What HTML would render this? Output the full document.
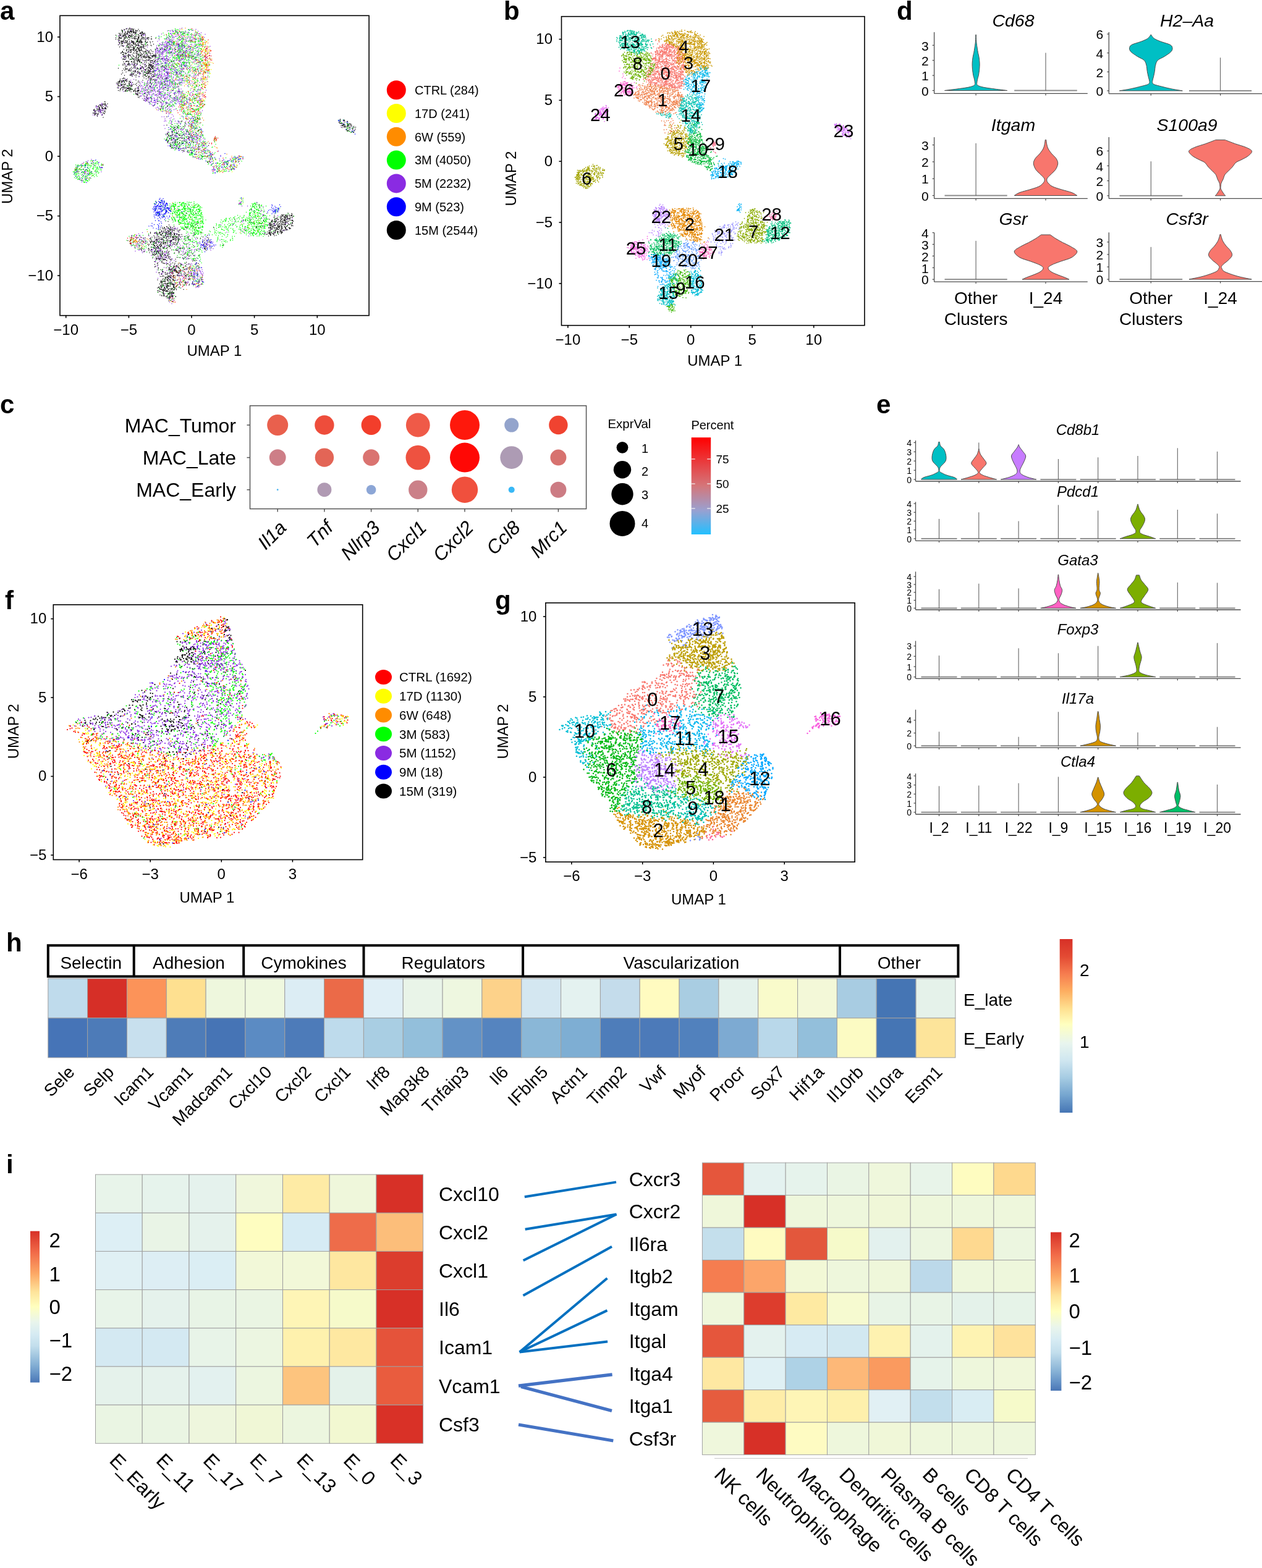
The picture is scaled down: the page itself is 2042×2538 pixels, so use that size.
<!DOCTYPE html>
<html><head><meta charset="utf-8"><style>html,body{margin:0;padding:0;background:#fff;}svg{display:block;}</style></head>
<body><svg width="2042" height="2538" viewBox="0 0 2042 2538" font-family="'Liberation Sans', Arial, Helvetica, sans-serif">
<rect width="2042" height="2538" fill="#fff"/>
<text x="0" y="31.5" font-size="42" font-weight="bold">a</text>
<rect x="97" y="25.3" width="500.1" height="485.4" fill="none" stroke="#000" stroke-width="1.6"/>
<line x1="106.7" y1="510.7" x2="106.7" y2="514.7" stroke="#000" stroke-width="1.6"/>
<text x="106.7" y="541.7" font-size="24" text-anchor="middle">−10</text>
<line x1="208.4" y1="510.7" x2="208.4" y2="514.7" stroke="#000" stroke-width="1.6"/>
<text x="208.4" y="541.7" font-size="24" text-anchor="middle">−5</text>
<line x1="310" y1="510.7" x2="310" y2="514.7" stroke="#000" stroke-width="1.6"/>
<text x="310" y="541.7" font-size="24" text-anchor="middle">0</text>
<line x1="411.6" y1="510.7" x2="411.6" y2="514.7" stroke="#000" stroke-width="1.6"/>
<text x="411.6" y="541.7" font-size="24" text-anchor="middle">5</text>
<line x1="513.3" y1="510.7" x2="513.3" y2="514.7" stroke="#000" stroke-width="1.6"/>
<text x="513.3" y="541.7" font-size="24" text-anchor="middle">10</text>
<line x1="93" y1="59.9" x2="97" y2="59.9" stroke="#000" stroke-width="1.6"/>
<text x="86" y="67.7" font-size="24" text-anchor="end">10</text>
<line x1="93" y1="156.4" x2="97" y2="156.4" stroke="#000" stroke-width="1.6"/>
<text x="86" y="164.2" font-size="24" text-anchor="end">5</text>
<line x1="93" y1="253" x2="97" y2="253" stroke="#000" stroke-width="1.6"/>
<text x="86" y="260.8" font-size="24" text-anchor="end">0</text>
<line x1="93" y1="349.6" x2="97" y2="349.6" stroke="#000" stroke-width="1.6"/>
<text x="86" y="357.4" font-size="24" text-anchor="end">−5</text>
<line x1="93" y1="446.1" x2="97" y2="446.1" stroke="#000" stroke-width="1.6"/>
<text x="86" y="453.9" font-size="24" text-anchor="end">−10</text>
<text x="347" y="576" font-size="24" text-anchor="middle">UMAP 1</text>
<text x="20.5" y="285.6" font-size="24" text-anchor="middle" transform="rotate(-90 20.5 285.6)">UMAP 2</text>
<circle cx="641.3" cy="145.7" r="15.5" fill="#ff0000"/>
<text x="671" y="153" font-size="20">CTRL (284)</text>
<circle cx="641.3" cy="183.5" r="15.5" fill="#ffff00"/>
<text x="671" y="190.8" font-size="20">17D (241)</text>
<circle cx="641.3" cy="221.3" r="15.5" fill="#ff8c00"/>
<text x="671" y="228.6" font-size="20">6W (559)</text>
<circle cx="641.3" cy="259.1" r="15.5" fill="#00ff00"/>
<text x="671" y="266.4" font-size="20">3M (4050)</text>
<circle cx="641.3" cy="296.9" r="15.5" fill="#8a2be2"/>
<text x="671" y="304.2" font-size="20">5M (2232)</text>
<circle cx="641.3" cy="334.7" r="15.5" fill="#0000ff"/>
<text x="671" y="342" font-size="20">9M (523)</text>
<circle cx="641.3" cy="372.5" r="15.5" fill="#000000"/>
<text x="671" y="379.8" font-size="20">15M (2544)</text>
<text x="815" y="32" font-size="42" font-weight="bold">b</text>
<rect x="908.5" y="26.7" width="490.4" height="500" fill="none" stroke="#000" stroke-width="1.6"/>
<line x1="918.9" y1="526.7" x2="918.9" y2="530.7" stroke="#000" stroke-width="1.6"/>
<text x="918.9" y="557.7" font-size="24" text-anchor="middle">−10</text>
<line x1="1018.3" y1="526.7" x2="1018.3" y2="530.7" stroke="#000" stroke-width="1.6"/>
<text x="1018.3" y="557.7" font-size="24" text-anchor="middle">−5</text>
<line x1="1117.8" y1="526.7" x2="1117.8" y2="530.7" stroke="#000" stroke-width="1.6"/>
<text x="1117.8" y="557.7" font-size="24" text-anchor="middle">0</text>
<line x1="1217.2" y1="526.7" x2="1217.2" y2="530.7" stroke="#000" stroke-width="1.6"/>
<text x="1217.2" y="557.7" font-size="24" text-anchor="middle">5</text>
<line x1="1316.7" y1="526.7" x2="1316.7" y2="530.7" stroke="#000" stroke-width="1.6"/>
<text x="1316.7" y="557.7" font-size="24" text-anchor="middle">10</text>
<line x1="904.5" y1="63.5" x2="908.5" y2="63.5" stroke="#000" stroke-width="1.6"/>
<text x="894" y="71.3" font-size="24" text-anchor="end">10</text>
<line x1="904.5" y1="162.3" x2="908.5" y2="162.3" stroke="#000" stroke-width="1.6"/>
<text x="894" y="170.2" font-size="24" text-anchor="end">5</text>
<line x1="904.5" y1="261.2" x2="908.5" y2="261.2" stroke="#000" stroke-width="1.6"/>
<text x="894" y="269" font-size="24" text-anchor="end">0</text>
<line x1="904.5" y1="360" x2="908.5" y2="360" stroke="#000" stroke-width="1.6"/>
<text x="894" y="367.8" font-size="24" text-anchor="end">−5</text>
<line x1="904.5" y1="458.9" x2="908.5" y2="458.9" stroke="#000" stroke-width="1.6"/>
<text x="894" y="466.7" font-size="24" text-anchor="end">−10</text>
<text x="1156.6" y="592" font-size="24" text-anchor="middle">UMAP 1</text>
<text x="835" y="289" font-size="24" text-anchor="middle" transform="rotate(-90 835 289)">UMAP 2</text>
<text x="8" y="986" font-size="42" font-weight="bold">f</text>
<rect x="86.3" y="978.8" width="500.4" height="412.7" fill="none" stroke="#000" stroke-width="1.6"/>
<line x1="128.1" y1="1391.5" x2="128.1" y2="1395.5" stroke="#000" stroke-width="1.6"/>
<text x="128.1" y="1422.5" font-size="24" text-anchor="middle">−6</text>
<line x1="243.2" y1="1391.5" x2="243.2" y2="1395.5" stroke="#000" stroke-width="1.6"/>
<text x="243.2" y="1422.5" font-size="24" text-anchor="middle">−3</text>
<line x1="358.3" y1="1391.5" x2="358.3" y2="1395.5" stroke="#000" stroke-width="1.6"/>
<text x="358.3" y="1422.5" font-size="24" text-anchor="middle">0</text>
<line x1="473.4" y1="1391.5" x2="473.4" y2="1395.5" stroke="#000" stroke-width="1.6"/>
<text x="473.4" y="1422.5" font-size="24" text-anchor="middle">3</text>
<line x1="82.3" y1="1001.6" x2="86.3" y2="1001.6" stroke="#000" stroke-width="1.6"/>
<text x="75.3" y="1009.4" font-size="24" text-anchor="end">10</text>
<line x1="82.3" y1="1129.1" x2="86.3" y2="1129.1" stroke="#000" stroke-width="1.6"/>
<text x="75.3" y="1136.9" font-size="24" text-anchor="end">5</text>
<line x1="82.3" y1="1256.6" x2="86.3" y2="1256.6" stroke="#000" stroke-width="1.6"/>
<text x="75.3" y="1264.4" font-size="24" text-anchor="end">0</text>
<line x1="82.3" y1="1384.1" x2="86.3" y2="1384.1" stroke="#000" stroke-width="1.6"/>
<text x="75.3" y="1391.9" font-size="24" text-anchor="end">−5</text>
<text x="335" y="1461" font-size="24" text-anchor="middle">UMAP 1</text>
<text x="30" y="1183.8" font-size="24" text-anchor="middle" transform="rotate(-90 30 1183.8)">UMAP 2</text>
<ellipse cx="620.5" cy="1096" rx="13.5" ry="12" fill="#ff0000"/>
<text x="646" y="1103.2" font-size="20.5">CTRL (1692)</text>
<ellipse cx="620.5" cy="1126.8" rx="13.5" ry="12" fill="#ffff00"/>
<text x="646" y="1134" font-size="20.5">17D (1130)</text>
<ellipse cx="620.5" cy="1157.5" rx="13.5" ry="12" fill="#ff8c00"/>
<text x="646" y="1164.7" font-size="20.5">6W (648)</text>
<ellipse cx="620.5" cy="1188.2" rx="13.5" ry="12" fill="#00ff00"/>
<text x="646" y="1195.5" font-size="20.5">3M (583)</text>
<ellipse cx="620.5" cy="1219" rx="13.5" ry="12" fill="#8a2be2"/>
<text x="646" y="1226.2" font-size="20.5">5M (1152)</text>
<ellipse cx="620.5" cy="1249.8" rx="13.5" ry="12" fill="#0000ff"/>
<text x="646" y="1257" font-size="20.5">9M (18)</text>
<ellipse cx="620.5" cy="1280.5" rx="13.5" ry="12" fill="#000000"/>
<text x="646" y="1287.7" font-size="20.5">15M (319)</text>
<text x="801" y="985.5" font-size="42" font-weight="bold">g</text>
<rect x="882.9" y="975.8" width="500.2" height="419.4" fill="none" stroke="#000" stroke-width="1.6"/>
<line x1="924.9" y1="1395.2" x2="924.9" y2="1399.2" stroke="#000" stroke-width="1.6"/>
<text x="924.9" y="1426.2" font-size="24" text-anchor="middle">−6</text>
<line x1="1039.7" y1="1395.2" x2="1039.7" y2="1399.2" stroke="#000" stroke-width="1.6"/>
<text x="1039.7" y="1426.2" font-size="24" text-anchor="middle">−3</text>
<line x1="1154.4" y1="1395.2" x2="1154.4" y2="1399.2" stroke="#000" stroke-width="1.6"/>
<text x="1154.4" y="1426.2" font-size="24" text-anchor="middle">0</text>
<line x1="1269.2" y1="1395.2" x2="1269.2" y2="1399.2" stroke="#000" stroke-width="1.6"/>
<text x="1269.2" y="1426.2" font-size="24" text-anchor="middle">3</text>
<line x1="878.9" y1="998" x2="882.9" y2="998" stroke="#000" stroke-width="1.6"/>
<text x="868.4" y="1005.8" font-size="24" text-anchor="end">10</text>
<line x1="878.9" y1="1128" x2="882.9" y2="1128" stroke="#000" stroke-width="1.6"/>
<text x="868.4" y="1135.8" font-size="24" text-anchor="end">5</text>
<line x1="878.9" y1="1258" x2="882.9" y2="1258" stroke="#000" stroke-width="1.6"/>
<text x="868.4" y="1265.8" font-size="24" text-anchor="end">0</text>
<line x1="878.9" y1="1388" x2="882.9" y2="1388" stroke="#000" stroke-width="1.6"/>
<text x="868.4" y="1395.8" font-size="24" text-anchor="end">−5</text>
<text x="1130.4" y="1464" font-size="24" text-anchor="middle">UMAP 1</text>
<text x="822" y="1184" font-size="24" text-anchor="middle" transform="rotate(-90 822 1184)">UMAP 2</text>
<g transform="scale(0.5)" stroke-linecap="round" stroke-width="2.70" fill="none"><path stroke="#8a2be2" d="M389 114h0m5 4h0m5 19h0m10-27h0m2-18h0m12 0h0m7 43h0m8-27h0m19 3h0m15 26h0m2-12h0m36 32h0m5-28h0m6 24h0m2-43h0m4 28h0m5 18h0m0-11h0m3-7h0m1 10h0m0-22h0m0 7h0m3 13h0m0-6h0m0 2h0m1-18h0m1 28h0m1-17h0m1 9h0m1 3h0m2-8h0m5-30h0m4 31h0m1-5h0m0 12h0m1-20h0m0 11h0m3 3h0m3 2h0m0-8h0m1 21h0m0-9h0m0 9h0m2-58h0m2 20h0m1-17h0m4 40h0m0-32h0m2 33h0m1-33h0m0 35h0m1-17h0m0 12h0m0-18h0m0-6h0m1 41h0m0-8h0m1-36h0m0 42h0m1 2h0m1-29h0m1-33h0m0 52h0m3-17h0m1-16h0m2 4h0m0 32h0m1 9h0m0-67h0m1 60h0m1-27h0m0-2h0m0 26h0m1 8h0m1-7h0m1-3h0m1 8h0m0-47h0m1-3h0m0 45h0m2-29h0m1 19h0m1-3h0m1-3h0m2 23h0m1-14h0m1-18h0m6 7h0m5 23h0m2-19h0m2-37h0m0 46h0m5 5h0m1-33h0m4 9h0m2 4h0m0-16h0m2-18h0m3 14h0m10 1h0m1 21h0m3 15h0m1-21h0m15 32h0m-274 30h0m5-4h0m8 24h0m5 4h0m4-42h0m25 42h0m8 13h0m2 11h0m6-49h0m0 28h0m10 10h0m0 1h0m1 8h0m2-27h0m1 4h0m18-2h0m2-5h0m3-17h0m1 44h0m2-16h0m5-13h0m0 39h0m2-9h0m0-28h0m1-24h0m0-7h0m1 43h0m1-7h0m0-40h0m2 16h0m1 22h0m1-6h0m0-37h0m1 44h0m2-40h0m3 63h0m2-49h0m0 51h0m1-1h0m0-71h0m1 9h0m1 35h0m0-13h0m1-17h0m0 51h0m1-42h0m1 38h0m1 8h0m0-41h0m1-7h0m1 9h0m0-23h0m1 29h0m1-7h0m2-5h0m0 56h0m1-56h0m1-22h0m0 33h0m0 30h0m0-32h0m1 9h0m0 12h0m1-50h0m1 59h0m0-1h0m0-30h0m1 11h0m0-41h0m1 1h0m0 61h0m1-42h0m0 34h0m1 16h0m0 4h0m0-3h0m0-69h0m1 34h0m0 38h0m1-64h0m0 11h0m1 43h0m1 7h0m1-21h0m0 26h0m0-67h0m3 66h0m0-49h0m1-27h0m1 44h0m0-1h0m0-9h0m1-9h0m1 26h0m0-44h0m5 40h0m0 23h0m0-29h0m1-22h0m2 42h0m1-6h0m0-1h0m1-28h0m1 18h0m1-43h0m0 34h0m1 30h0m1 8h0m2-9h0m2-47h0m2 54h0m0-52h0m1 56h0m0-56h0m0 59h0m2-63h0m2-5h0m1-1h0m1 27h0m1-28h0m0 30h0m1-15h0m1 12h0m0 39h0m1-54h0m2-17h0m0 58h0m0-52h0m0-3h0m1 57h0m0-28h0m1 36h0m2-22h0m0 6h0m1 12h0m2-48h0m1-15h0m0 24h0m0 22h0m1 13h0m0-54h0m0 21h0m1-20h0m0 63h0m1-20h0m0-49h0m3 3h0m0 34h0m0-23h0m1-2h0m1 62h0m0-74h0m1 4h0m3-6h0m3 74h0m1-15h0m1-35h0m2 18h0m1-39h0m6 19h0m2 6h0m3-9h0m1 11h0m0 28h0m1-37h0m1-1h0m0-3h0m1 60h0m1-43h0m4 27h0m1 3h0m1-59h0m2 27h0m0-14h0m3-17h0m0 13h0m1-2h0m0 47h0m1-19h0m4-3h0m2 35h0m1-70h0m0 18h0m0 18h0m2-2h0m1 29h0m1-4h0m4-37h0m7 6h0m1 43h0m1-45h0m0 42h0m8 3h0m5-63h0m-289 105h0m0-4h0m7-13h0m25 6h0m7-22h0m21 30h0m0-26h0m5 32h0m0 14h0m2 16h0m4-4h0m0-1h0m2-16h0m2-4h0m0 17h0m1-8h0m1 19h0m1-43h0m2 41h0m0-28h0m1-2h0m0 19h0m0-60h0m3 74h0m1-41h0m3 14h0m0-26h0m3 7h0m2 50h0m0-15h0m0-4h0m2-32h0m0 23h0m0-34h0m1 38h0m2-17h0m0 8h0m1 31h0m1-45h0m0 1h0m1 44h0m5-27h0m0 12h0m1-26h0m0 8h0m0 11h0m1 8h0m0-13h0m0-41h0m2 35h0m4-16h0m1-26h0m0 16h0m0 3h0m0-5h0m1-14h0m0 35h0m1-6h0m1 41h0m2-27h0m0-42h0m1 8h0m0 12h0m0-10h0m2 38h0m1 16h0m0-8h0m1-3h0m0-52h0m1-3h0m1 55h0m0 7h0m0-22h0m1-12h0m0-12h0m1 41h0m0-46h0m0 22h0m0 33h0m1-36h0m2-21h0m1-7h0m0 13h0m2 13h0m0 12h0m1-6h0m0 6h0m3-16h0m0-7h0m1 34h0m1 16h0m1-22h0m0-19h0m1-10h0m1 53h0m0 6h0m1-70h0m1-2h0m0 8h0m0 13h0m0-1h0m0-2h0m0 55h0m1 3h0m0-37h0m0-29h0m0-5h0m3 65h0m0-41h0m1 34h0m0 13h0m1-5h0m0-75h0m1 60h0m1-20h0m1-3h0m1-28h0m2 69h0m1-54h0m1 37h0m1 13h0m1-4h0m1-52h0m1 58h0m0-75h0m1 53h0m1-31h0m2 2h0m1 5h0m0 23h0m1 25h0m1-34h0m0-23h0m2 11h0m1 43h0m0-11h0m0-41h0m0 55h0m1-11h0m0-2h0m0-26h0m1 37h0m1-72h0m3 58h0m2-52h0m0-1h0m0 60h0m1 5h0m1-43h0m1-24h0m1 14h0m0 57h0m0-1h0m2-76h0m0 54h0m0 15h0m1-5h0m1-48h0m1 61h0m0-49h0m0 3h0m4-24h0m0 56h0m1-3h0m0-58h0m1 25h0m1 44h0m0-37h0m0 22h0m3-37h0m0-1h0m11-12h0m9 12h0m2 10h0m3 33h0m2 8h0m0-23h0m7-11h0m3 37h0m2-58h0m2-13h0m0 77h0m4-74h0m0 66h0m1-33h0m2 24h0m1-48h0m1 41h0m0-5h0m1-45h0m5 58h0m0 16h0m3-33h0m0-33h0m16 61h0m1-22h0m4-28h0m-366 103h0m0-8h0m3 0h0m1 6h0m1-18h0m4-2h0m6 13h0m1-10h0m2 5h0m1 7h0m6-2h0m5 1h0m5-10h0m2-4h0m124-22h0m6 3h0m7 1h0m0-5h0m5 11h0m15-1h0m3 0h0m7-4h0m2-7h0m1 27h0m0 9h0m5-28h0m1 1h0m4 18h0m0-12h0m1 7h0m1 2h0m4 5h0m0-10h0m1 5h0m4-20h0m1 64h0m1-40h0m1-12h0m2 10h0m5 5h0m3 13h0m2-11h0m1 0h0m0-9h0m5 36h0m1 13h0m4-67h0m0 11h0m2 38h0m3-50h0m0 0h0m1-1h0m3 28h0m5 46h0m5-71h0m4 10h0m5-14h0m3 17h0m7-4h0m7-8h0m9 63h0m6-40h0m13 30h0m7-57h0m2 34h0m1 24h0m4-23h0m3-24h0m1 1h0m0 26h0m5-5h0m457 37h0m-576 59h0m10-26h0m3-9h0m1 52h0m0-21h0m3-11h0m5 31h0m2 5h0m2-33h0m0-33h0m2 20h0m1 43h0m1-20h0m3 20h0m0-20h0m3-42h0m1 41h0m2-7h0m3-24h0m3 54h0m3-54h0m4 42h0m0-40h0m0 18h0m2 6h0m0-6h0m4 14h0m1-1h0m2-39h0m1 52h0m0-62h0m3-4h0m0 32h0m4 11h0m4-8h0m3 26h0m4 4h0m0-23h0m1 25h0m3-7h0m0-51h0m2 46h0m2-15h0m1-25h0m2 22h0m7 20h0m1-9h0m0 4h0m1 8h0m0 3h0m4-26h0m8 20h0m1-11h0m5 30h0m1-40h0m3 13h0m0 24h0m482-62h0m1 4h0m-894 134h0m2-11h0m3 17h0m12-17h0m4-9h0m6 28h0m1-1h0m0-5h0m3-1h0m1 6h0m1-33h0m16 34h0m7-23h0m5 2h0m246-56h0m25 4h0m1 3h0m5-5h0m2-1h0m10 7h0m1-7h0m14 11h0m8 0h0m7-11h0m2 1h0m15 20h0m15 5h0m0-9h0m11-1h0m0-12h0m4 1h0m2 2h0m7 15h0m2 28h0m6 16h0m3 5h0m17-7h0m3-42h0m5 38h0m6-5h0m7-9h0m4 15h0m3 13h0m18-8h0m5-32h0m0 2h0m6-8h0m1 9h0m2-8h0m2 5h0m0-1h0m2 16h0m2-16h0m1-1h0m-530 62h0m13 2h0m6-13h0m15 6h0m5-8h0m4 13h0m482 84h0m6-2h0m1-4h0m2 65h0m2-5h0m3-1h0m22-16h0m5 23h0m1-40h0m8 8h0m6 18h0m0-44h0m21 35h0m2-1h0m1 19h0m3-30h0m40 30h0m3-16h0m22 15h0m-498 74h0m2 9h0m1-29h0m1-5h0m11 5h0m2 22h0m2 6h0m2 3h0m9-36h0m0 13h0m8-22h0m3 18h0m2 0h0m4 16h0m1-4h0m16-11h0m3 28h0m13-47h0m0 3h0m2 32h0m7-12h0m1 11h0m2-3h0m4 12h0m5-45h0m10 48h0m8-48h0m2 13h0m2-22h0m1 51h0m3-1h0m0-21h0m1 11h0m2 7h0m0-11h0m1 0h0m0-23h0m3-3h0m5 37h0m4-16h0m3-32h0m8 8h0m0 35h0m0-8h0m3-12h0m2 35h0m2-5h0m1-26h0m8 17h0m4-18h0m12 5h0m15 13h0m1-21h0m8 7h0m5 15h0m2 2h0m23-16h0m5 21h0m0-12h0m11-4h0m0 22h0m13-7h0m42-40h0m47-7h0m31-24h0m3 34h0m4-32h0m9 36h0m18-35h0m3 31h0m3-20h0m6 17h0m0 5h0m30-4h0m32-6h0m-474 55h0m14 2h0m1 14h0m4-9h0m4 0h0m21 1h0m4-2h0m1 10h0m2-12h0m3 10h0m2 47h0m0-16h0m1-35h0m0-12h0m1 8h0m6 56h0m1-41h0m0 11h0m1-24h0m0 31h0m8 3h0m3-11h0m3-21h0m3 7h0m5 2h0m0 6h0m1-5h0m2 30h0m2-39h0m2 24h0m5-17h0m3 29h0m3-2h0m16 14h0m2 7h0m0-2h0m16-12h0m6-32h0m11-11h0m5-4h0m2 24h0m8 49h0m0-52h0m2-18h0m1-2h0m0 50h0m1 14h0m1-3h0m5-41h0m1 50h0m3 0h0m2-26h0m1 14h0m0 0h0m3 10h0m4-7h0m1-56h0m3 55h0m1-60h0m2 69h0m5-4h0m7-66h0m11-5h0m-166 79h0m11 8h0m8-2h0m6 63h0m1 1h0m2-27h0m9-39h0m5-2h0m5 32h0m4-27h0m8 19h0m2 12h0m10 11h0m1-45h0m3 35h0m4-14h0m8-8h0m1 10h0m2 14h0m16-23h0m0-4h0m7-5h0m6-6h0m1 7h0m1-9h0m1 0h0m4 40h0m2-3h0m4-7h0m2-22h0m2 4h0m0 16h0m1 6h0m1-4h0m2 15h0m4-7h0m1 1h0m3-34h0m2 3h0m1 15h0m-111 60h0m10 18h0m2-20h0"/><path stroke="#ff8c00" d="M573 100h0m24 8h0m1 9h0m2-26h0m4 43h0m15-4h0m7 4h0m27-11h0m0-6h0m11 25h0m1-3h0m4-4h0m-120 104h0m9-28h0m7-47h0m15 42h0m4-27h0m7 45h0m28-40h0m13 43h0m6-31h0m5 5h0m5 27h0m2-4h0m0 15h0m3-8h0m0-18h0m2-47h0m1 11h0m0 16h0m8-28h0m2 3h0m0 26h0m1-1h0m2 25h0m2 8h0m1-43h0m3 47h0m2-2h0m2-62h0m-119 121h0m10-32h0m4-8h0m11 61h0m3-62h0m8 7h0m1 64h0m0-7h0m5-37h0m1-11h0m10 5h0m1 6h0m7 7h0m1 1h0m3 15h0m0-25h0m2 49h0m11-4h0m2-44h0m7 5h0m9-15h0m3 10h0m5 34h0m-134 53h0m57-23h0m1 7h0m4 6h0m7-8h0m3 40h0m3-13h0m4-3h0m3-45h0m3 36h0m2 32h0m0-29h0m1 6h0m2-22h0m3-19h0m8 38h0m2 24h0m7-58h0m1 5h0m1 65h0m0-40h0m0 28h0m1-26h0m1 5h0m2-23h0m4-15h0m2 13h0m4-13h0m3 62h0m-50 59h0m9-39h0m2-7h0m2 29h0m0-25h0m1 4h0m7 29h0m2-15h0m3 18h0m4 4h0m1-38h0m3 45h0m3-6h0m13 18h0m4-1h0m11-6h0m4 6h0m17 10h0m5 4h0m3 1h0m-450 77h0m16-26h0m29 0h0m1-8h0m35 10h0m297-49h0m11 11h0m1 9h0m0 6h0m6-8h0m0-7h0m14-14h0m1 28h0m6-1h0m6 15h0m3-1h0m43 9h0m1 19h0m11-50h0m3 36h0m7 6h0m3-6h0m13 5h0m18-34h0m-219 195h0m0-45h0m7 10h0m51 44h0m192 0h0m29 3h0m3 7h0m-422 62h0m4 3h0m4-11h0m13 18h0m1-13h0m21 2h0m4 17h0m10-25h0m2 17h0m174-38h0m131-27h0m6 19h0m57-7h0m7-12h0m-403 79h0m128 47h0m5 24h0m34 2h0m18-4h0m7-5h0m3-11h0m-82 42h0m5-4h0m4 21h0m0-1h0m21-4h0m11-8h0m0 34h0m11-51h0m6 16h0m33 17h0m-99 58h0m8 1h0"/><path stroke="#00ff00" d="M378 117h0m63 17h0m11-2h0m6 18h0m13-8h0m34-21h0m10 26h0m11-5h0m1 3h0m0-9h0m5-11h0m6 0h0m1-3h0m4 32h0m2-55h0m2 13h0m0 24h0m1-11h0m0-8h0m1 1h0m2 35h0m1-32h0m6 17h0m2 11h0m1-10h0m2 2h0m1-34h0m1 51h0m1-49h0m1 45h0m0-54h0m1 4h0m1-6h0m0 45h0m1-38h0m0-3h0m4 53h0m0-50h0m2-1h0m1 3h0m1 44h0m0-30h0m0 26h0m1 12h0m1-15h0m2 3h0m0-44h0m2 11h0m1 40h0m1-50h0m1 32h0m0 24h0m0-57h0m1 42h0m0-11h0m2-20h0m0 30h0m1-12h0m0-29h0m0 7h0m1-1h0m0 19h0m0-4h0m1 23h0m5-39h0m0 37h0m3-32h0m2 20h0m3 12h0m0-33h0m1 2h0m1 43h0m1-61h0m0 56h0m3-46h0m2 53h0m0-28h0m2-19h0m0 32h0m0-49h0m2 38h0m1-23h0m0 4h0m0 18h0m0-36h0m4 39h0m0-37h0m2 56h0m5-4h0m0 7h0m0-19h0m2-20h0m2 28h0m0-23h0m1 23h0m1-19h0m2 17h0m1-39h0m2 26h0m1-17h0m1 20h0m3-15h0m1 30h0m1-19h0m1 27h0m0-30h0m2 31h0m2-24h0m1 10h0m2 4h0m1-20h0m-230 108h0m22-50h0m47-4h0m4 22h0m4 17h0m2-34h0m0 23h0m1-10h0m3 1h0m3-8h0m0 27h0m2 7h0m3-43h0m3-24h0m0 40h0m5-29h0m1 34h0m2 10h0m3-54h0m1 50h0m1-8h0m2 10h0m0 6h0m0-38h0m2 10h0m0 6h0m0-19h0m6 32h0m1 7h0m1-46h0m0-7h0m0 35h0m2 12h0m7-42h0m0 67h0m1-26h0m1-35h0m0 3h0m0 59h0m1-6h0m0-38h0m1 32h0m5-25h0m0-12h0m3-1h0m1 22h0m1-20h0m3-2h0m1 8h0m0 0h0m1-31h0m1 2h0m2 12h0m0 0h0m0 53h0m1-5h0m0-50h0m1 45h0m0-31h0m1 46h0m0-48h0m1 40h0m1-66h0m1 6h0m1 72h0m1-77h0m2 26h0m0-9h0m1 37h0m1 12h0m0-61h0m0 7h0m2-11h0m1 67h0m1-53h0m0 8h0m1-8h0m0 1h0m1-14h0m2 27h0m0-8h0m0-14h0m0 35h0m2-31h0m0 2h0m3-10h0m1 17h0m0-20h0m2 32h0m1-23h0m1 42h0m0-28h0m1-18h0m0-1h0m1 13h0m1 53h0m1-19h0m1-21h0m1-24h0m0 16h0m0 21h0m0-3h0m0-30h0m1 44h0m0-34h0m0-5h0m0 47h0m2-11h0m1-29h0m1-24h0m4 16h0m0 60h0m0-47h0m2-22h0m0 15h0m1 0h0m1 49h0m1-42h0m1 39h0m0-40h0m2 18h0m1-20h0m0 34h0m3 11h0m4-58h0m3-2h0m0 30h0m1 30h0m0-63h0m3 35h0m1 18h0m1-41h0m1 37h0m1-43h0m2 8h0m1 32h0m3-18h0m1-9h0m4 46h0m1-14h0m4-18h0m0 8h0m3-3h0m3-35h0m0 26h0m2 32h0m4-18h0m1 21h0m0 5h0m1-28h0m0-22h0m-285 84h0m8-8h0m9 14h0m53 10h0m3-13h0m0 28h0m1-36h0m0 4h0m0 6h0m8 41h0m4-14h0m7 12h0m2-4h0m0-31h0m1 14h0m0-20h0m9 11h0m3-6h0m0-20h0m11 4h0m0 31h0m1 19h0m7-40h0m0 39h0m4-10h0m0-28h0m1 2h0m2 19h0m0-26h0m7 4h0m0 26h0m3-15h0m6 9h0m2-11h0m3-38h0m1 3h0m1 66h0m0-55h0m2 4h0m2-17h0m5 22h0m1 21h0m5 17h0m0-20h0m1 30h0m1-18h0m1-45h0m4 19h0m1 0h0m0-21h0m1 49h0m0-42h0m1-12h0m5 20h0m1 9h0m0-21h0m2 59h0m2-46h0m1 42h0m1-9h0m1-35h0m1 48h0m2-59h0m2-10h0m4 72h0m5-67h0m2 64h0m1-51h0m5-1h0m4-16h0m0 73h0m1-26h0m10 24h0m1-5h0m0-65h0m1 42h0m2-35h0m0 15h0m2-3h0m0-24h0m3 76h0m3-38h0m1-22h0m0 5h0m1 46h0m1-2h0m0-44h0m1 40h0m3-25h0m4-18h0m3 15h0m3-18h0m0 25h0m22-32h0m-167 87h0m1-10h0m2 27h0m3-27h0m3 27h0m1 5h0m1-4h0m3-4h0m2-24h0m1 27h0m0 3h0m2-10h0m4-4h0m5 6h0m8-9h0m1 59h0m2-59h0m0 53h0m1-58h0m1 6h0m1 5h0m2-3h0m0 1h0m5 45h0m3-47h0m3 3h0m1 56h0m0-67h0m6-12h0m10 0h0m4 8h0m0 24h0m6-22h0m0 12h0m2 42h0m9-14h0m5-17h0m1-9h0m1 51h0m0-43h0m2 17h0m0-33h0m3 30h0m0-5h0m2 8h0m0 16h0m1-48h0m0 33h0m5-18h0m0-2h0m0-26h0m2 6h0m2-10h0m1 34h0m2 42h0m0-41h0m0 39h0m0-68h0m3 65h0m0-2h0m0-4h0m1-61h0m1 62h0m1 12h0m0-3h0m1-51h0m1 37h0m1-28h0m1 0h0m1 14h0m2-11h0m1-21h0m1 45h0m1 6h0m1 13h0m5-62h0m4 8h0m1-3h0m0-8h0m5 4h0m433 50h0m9 9h0m7-10h0m11 11h0m-586 37h0m5 20h0m4-2h0m2-23h0m0 12h0m4 7h0m3-37h0m2-1h0m0 68h0m0-17h0m5-40h0m0-2h0m3-13h0m0 22h0m3-18h0m1 49h0m0 4h0m2-19h0m0 24h0m0-33h0m2-20h0m1-16h0m0 48h0m1 22h0m2-22h0m0-40h0m1 71h0m0-45h0m0-22h0m1 12h0m0-10h0m3 60h0m3-1h0m2-41h0m1-7h0m1 39h0m0-5h0m0-43h0m1 41h0m3-24h0m1 27h0m14-14h0m6-12h0m0 26h0m2-45h0m1 14h0m1-24h0m1 4h0m3 37h0m0-9h0m3-33h0m2 57h0m1-15h0m0-37h0m5 42h0m7 2h0m1 25h0m1-3h0m1-50h0m0 41h0m1-45h0m0 52h0m2 1h0m0 0h0m2-55h0m0-7h0m3 25h0m0 32h0m2-46h0m4 35h0m0 7h0m1-29h0m2 8h0m4 21h0m2 13h0m2-1h0m3-16h0m16 15h0m9-25h0m0-1h0m5-5h0m421-28h0m3 5h0m0-17h0m1 11h0m10 12h0m8-17h0m1 14h0m-903 129h0m1 4h0m3 0h0m1-17h0m1 12h0m3-19h0m0 10h0m3 5h0m1-13h0m3 0h0m1 9h0m1 1h0m0 3h0m3 0h0m2 8h0m0 1h0m1-22h0m2-2h0m2 13h0m2-12h0m1 1h0m3-4h0m1 18h0m6 2h0m1 2h0m0-19h0m0-10h0m1 28h0m0 0h0m0-2h0m1-19h0m0 12h0m1-15h0m4 4h0m7-14h0m5 21h0m0 7h0m0-1h0m0-7h0m3-9h0m2 4h0m1 7h0m0-14h0m0 27h0m1-3h0m4-4h0m1-18h0m3 26h0m2-7h0m8-2h0m1-12h0m0 16h0m1-17h0m267-51h0m19 18h0m8-6h0m0-8h0m5 3h0m1 10h0m1-14h0m2-2h0m7 22h0m5-25h0m0 14h0m7 16h0m1 3h0m2-9h0m1 4h0m19 23h0m4-30h0m0-1h0m6-4h0m3 34h0m1-18h0m0-2h0m3 9h0m5-6h0m4 29h0m5 11h0m5-22h0m1-2h0m1-8h0m1 7h0m4-4h0m5 2h0m2 28h0m6-12h0m3-4h0m0-9h0m1 18h0m2-26h0m1 7h0m0-8h0m1 3h0m5 30h0m3-12h0m2-21h0m0 27h0m1-15h0m2 12h0m5-32h0m4-7h0m0 9h0m3-5h0m2 12h0m1 19h0m0-28h0m6 2h0m0 3h0m7-1h0m3 5h0m-541 40h0m8 1h0m8 12h0m0 5h0m1 0h0m6-5h0m6 9h0m0-11h0m0 13h0m1 4h0m5-1h0m1-21h0m3 2h0m1 13h0m1 3h0m1-1h0m2 1h0m0-20h0m2 14h0m1-13h0m2-4h0m2 1h0m2 13h0m1-15h0m16-1h0m192 115h0m7 15h0m3 0h0m2 5h0m4-41h0m1 8h0m1-13h0m26 61h0m3-51h0m4 23h0m1-19h0m0 5h0m0 6h0m1 17h0m3-2h0m1-27h0m0 56h0m1-53h0m1 37h0m1 2h0m1-18h0m0 17h0m0-34h0m1 18h0m0 21h0m1 3h0m0-26h0m1-3h0m0 10h0m0-9h0m0-21h0m0-8h0m0 28h0m0 31h0m0-38h0m2-15h0m0 54h0m3-25h0m0 5h0m1-9h0m0 12h0m0-9h0m1-15h0m0 15h0m0-32h0m2 24h0m1 15h0m2 19h0m0-46h0m0 44h0m1-19h0m1-4h0m0-22h0m1 20h0m0 31h0m0-20h0m1-44h0m1 25h0m2-15h0m0 49h0m1-8h0m0-19h0m1-26h0m0-3h0m0 20h0m1-10h0m1 20h0m0 3h0m0-14h0m1 39h0m0-19h0m1 5h0m0 14h0m0-60h0m1 44h0m1-15h0m0 27h0m0-55h0m1 2h0m0 13h0m0-17h0m1 47h0m0-22h0m0 24h0m0-18h0m0-2h0m1-18h0m0 9h0m0 27h0m0 10h0m1 8h0m0-47h0m0 0h0m1 39h0m1-11h0m0-3h0m1-39h0m0 49h0m1-34h0m0 8h0m0 28h0m3-50h0m1-6h0m0 38h0m1-8h0m1-6h0m0-1h0m1 29h0m0-29h0m1 26h0m1-4h0m0-35h0m1-1h0m3 15h0m0 12h0m2-21h0m0 10h0m1 12h0m1-36h0m2 16h0m0 39h0m1-15h0m0-9h0m2 27h0m0-2h0m1-29h0m1 33h0m0-34h0m0 11h0m0 2h0m1 3h0m0-27h0m1 1h0m0 32h0m0-45h0m2 61h0m2-23h0m0 9h0m2-14h0m0-28h0m1 41h0m0-24h0m1 11h0m1 27h0m0-40h0m0 2h0m2 17h0m2 21h0m1-42h0m1 44h0m1 0h0m0-12h0m1-43h0m0 30h0m1-12h0m0 14h0m0-16h0m1-6h0m1 4h0m0 30h0m0-37h0m1-3h0m1 29h0m0-9h0m1 17h0m0-13h0m0-11h0m1 10h0m0 9h0m0-12h0m4 20h0m0 7h0m10-4h0m48 7h0m19-10h0m10 0h0m12-4h0m3 0h0m4 11h0m16-74h0m2 17h0m1 56h0m5-67h0m2 64h0m1-9h0m6 11h0m1 2h0m1-29h0m5 25h0m4-12h0m1-6h0m1-6h0m0-9h0m0 37h0m0 3h0m0-37h0m2 10h0m1 6h0m0-21h0m3 43h0m3-15h0m0-6h0m1-36h0m0 4h0m1 19h0m2 14h0m2 19h0m0-31h0m0-18h0m1 13h0m0-11h0m2-13h0m3 48h0m1-29h0m0 37h0m0-35h0m0-11h0m1-2h0m2 22h0m1 24h0m0-19h0m1 20h0m0-21h0m0 21h0m0-1h0m0-15h0m1 20h0m2-12h0m1-39h0m2 1h0m1 15h0m1 27h0m0-17h0m3 11h0m3 16h0m3-5h0m2-35h0m0 31h0m0 0h0m4-5h0m0 10h0m2-5h0m2-7h0m0 2h0m2 5h0m15 8h0m13-38h0m4 3h0m7 18h0m48-2h0m-527 93h0m3-16h0m4-1h0m1-5h0m16 20h0m16 2h0m9 3h0m8-39h0m10 17h0m8 22h0m0-8h0m7-38h0m7 31h0m1-21h0m1-15h0m11 11h0m3 25h0m0-5h0m6-5h0m3 12h0m9-44h0m1 43h0m1-23h0m7 28h0m7-59h0m11 59h0m5-61h0m1 47h0m0 1h0m3-51h0m2-1h0m0-1h0m5 60h0m3-40h0m2 1h0m0-6h0m3 36h0m0-47h0m1 2h0m2 46h0m0-50h0m0 13h0m1 1h0m0 7h0m0-19h0m3 2h0m2-4h0m1 13h0m0-10h0m0 53h0m2-55h0m0 43h0m0-42h0m0 50h0m6 6h0m0-37h0m1-14h0m1-10h0m1 4h0m2 9h0m0 66h0m0-75h0m1-3h0m0 50h0m0-46h0m0 30h0m1-17h0m0 43h0m1-50h0m1 9h0m1-7h0m1-9h0m1 8h0m0-8h0m0 21h0m0-13h0m2 5h0m1 13h0m0-22h0m1 8h0m1-15h0m0 61h0m2-36h0m1-3h0m0 25h0m0-33h0m1 13h0m1 44h0m0 6h0m1-52h0m0-16h0m1 67h0m0-67h0m1 8h0m0 9h0m0 4h0m1-16h0m0 19h0m0-1h0m0 40h0m0-56h0m1 3h0m1-3h0m3 16h0m1-1h0m0 22h0m1-23h0m3 14h0m2-43h0m1 13h0m1 19h0m1-20h0m2-11h0m4 38h0m13-4h0m5-7h0m14 1h0m2 1h0m2 9h0m2-15h0m2 32h0m4-42h0m1-6h0m1-3h0m0 29h0m1-21h0m0-7h0m2 24h0m3-17h0m2 40h0m4 14h0m0 5h0m3-49h0m3-18h0m1 54h0m2 3h0m1-5h0m1-42h0m1-3h0m2 9h0m2-3h0m2 5h0m1-8h0m3-6h0m3 48h0m0-4h0m7 3h0m0-36h0m0 0h0m2-15h0m0 26h0m1-30h0m3 42h0m1-18h0m3-18h0m15 14h0m6-13h0m0 0h0m1 20h0m5-8h0m4 3h0m1 2h0m2 13h0m1-14h0m3-9h0m3-9h0m3 12h0m1 10h0m1-1h0m1 9h0m0-34h0m2 17h0m1-14h0m0 26h0m1-28h0m0-4h0m1 0h0m1 36h0m0-18h0m0 18h0m2-2h0m1-19h0m1 16h0m2-26h0m1 18h0m1-21h0m6 5h0m1 29h0m1-4h0m0-9h0m0 20h0m1-18h0m2-17h0m0 0h0m0 4h0m2 2h0m1-1h0m1 8h0m1 20h0m0-9h0m1-30h0m2 0h0m2 2h0m1 35h0m6 5h0m0-8h0m1 2h0m2-10h0m0 1h0m1-15h0m0 3h0m1-13h0m0-5h0m0 11h0m1-11h0m0 8h0m2 24h0m1-25h0m3 1h0m1 1h0m65 1h0m-491 73h0m7 4h0m18-1h0m32 18h0m2-7h0m7 1h0m5 5h0m14-1h0m2 50h0m0-72h0m7 14h0m13 62h0m9-13h0m8-43h0m5-13h0m6 20h0m2-25h0m1 31h0m3-11h0m15 15h0m0 0h0m5-4h0m2 7h0m1-11h0m3-8h0m2-17h0m0 15h0m3-2h0m1-12h0m2-1h0m4 32h0m3 33h0m1-4h0m0-43h0m2 17h0m1 31h0m0-10h0m1-59h0m1 38h0m2-3h0m1-7h0m1 15h0m10-7h0m2-11h0m1-13h0m0 51h0m2-33h0m1-7h0m0 9h0m1 13h0m1-44h0m5 15h0m-144 129h0m13 0h0m4-21h0m1 27h0m8-51h0m7 48h0m0 5h0m7-48h0m1 17h0m6 22h0m5 2h0m2-10h0m1-5h0m5-17h0m5 0h0m11-33h0m8 30h0m2 10h0m2 1h0m22-39h0m6 41h0m10-16h0m4-19h0m2 33h0m2-9h0m10-17h0m-100 75h0m11-6h0"/><path stroke="#000000" d="M375 122h0m9 11h0m1-15h0m0 19h0m1-13h0m1-13h0m0 0h0m0 12h0m0 17h0m0 12h0m1-30h0m1-14h0m1 6h0m2 34h0m1-12h0m0-14h0m1 18h0m0-6h0m2 13h0m1-12h0m0 14h0m0-50h0m2 32h0m1-15h0m1-2h0m1 1h0m1 9h0m1-12h0m0-3h0m1 29h0m1-14h0m2-30h0m1 43h0m1 11h0m1-38h0m0 30h0m1-4h0m0-29h0m0 38h0m1 1h0m0-38h0m1-7h0m1 43h0m0-46h0m0 5h0m2 12h0m0 44h0m1-16h0m1-9h0m0-27h0m1 0h0m0-15h0m0 4h0m0 46h0m1 0h0m4-44h0m0 6h0m0-3h0m1 22h0m2-22h0m0-7h0m1 43h0m0 17h0m1-17h0m0 11h0m1-6h0m1 0h0m0-36h0m1 36h0m0 11h0m0-59h0m1 26h0m1 35h0m0-12h0m1-39h0m2 5h0m0 32h0m1 2h0m1-20h0m2 23h0m0 13h0m1-33h0m1 7h0m0 23h0m0-2h0m1-19h0m2 24h0m0-46h0m0 42h0m0-36h0m0 15h0m1 4h0m0 22h0m0-33h0m0 0h0m1-14h0m0 10h0m0 26h0m0-4h0m0-25h0m1 14h0m0 25h0m3-5h0m1-1h0m0-24h0m0-1h0m0 22h0m1-42h0m0 24h0m1 6h0m1-22h0m0 40h0m0-23h0m0-8h0m0 26h0m1-26h0m0-11h0m1 22h0m0-1h0m0-32h0m1 18h0m0 23h0m1-19h0m0 19h0m1-35h0m0 3h0m0-7h0m2 41h0m1 10h0m1-34h0m2 35h0m2-25h0m1-16h0m0 5h0m2 27h0m2-10h0m1-15h0m1 13h0m3-8h0m6 7h0m3-9h0m1-7h0m0 29h0m1-22h0m33 30h0m15-9h0m2 9h0m2-8h0m-147 21h0m1-3h0m1 42h0m1-32h0m1 47h0m1-39h0m1 21h0m1 1h0m2-32h0m2 16h0m0 10h0m1-14h0m1-13h0m3 25h0m0 26h0m0-63h0m2 49h0m1-35h0m0 9h0m2 14h0m0-20h0m1 30h0m0-1h0m0-2h0m0 23h0m1-3h0m1 4h0m2-67h0m0 1h0m0 47h0m2-44h0m1 33h0m0-37h0m0 30h0m0 32h0m1 12h0m2-49h0m1 4h0m0 0h0m1 30h0m1 18h0m0-37h0m1 37h0m0-75h0m1 49h0m0-51h0m1 45h0m2-7h0m2 20h0m1-58h0m0 32h0m2-12h0m1-15h0m0 14h0m1 5h0m1 34h0m0-24h0m1-21h0m0 57h0m0-31h0m0 36h0m0-30h0m0-41h0m1 57h0m0 10h0m1-46h0m0 7h0m1 2h0m0 40h0m2-61h0m0 21h0m1 38h0m0-33h0m1-3h0m0 3h0m1-4h0m1 27h0m1-47h0m1 3h0m0 41h0m1-60h0m0 23h0m1-22h0m3 56h0m2-11h0m0-12h0m0-10h0m1-12h0m0 48h0m2-51h0m2 10h0m0 22h0m0-5h0m1-1h0m0-20h0m1 12h0m0 39h0m1-58h0m0-4h0m1 70h0m1-39h0m1-28h0m2 62h0m1-53h0m1 61h0m0-57h0m1 38h0m0-23h0m0 40h0m2 1h0m1-9h0m0 9h0m0-65h0m0 16h0m0-18h0m1 18h0m0 32h0m0-55h0m1 27h0m0 38h0m0-13h0m1-8h0m1 30h0m1-13h0m0-12h0m1 10h0m1 14h0m0-6h0m1-22h0m0-22h0m0 15h0m2 8h0m0-15h0m0 20h0m1 1h0m0-34h0m1 14h0m1-13h0m1 22h0m2-26h0m0 19h0m3-1h0m0 40h0m2-43h0m1-18h0m0-3h0m6-2h0m23 44h0m3 5h0m7 18h0m11-39h0m14-32h0m23 13h0m8 4h0m-219 99h0m1-11h0m1 5h0m0-12h0m0-1h0m0 6h0m1 14h0m1-7h0m0-3h0m1-11h0m2 0h0m1-4h0m1 30h0m0-29h0m8 30h0m1-11h0m0 3h0m0-21h0m1 26h0m0-35h0m2 0h0m1 28h0m0 3h0m0-24h0m2-6h0m2 20h0m1 20h0m0-10h0m2-26h0m3 37h0m0-39h0m0 21h0m0 2h0m1 8h0m1 6h0m1-7h0m2-17h0m2 1h0m0-7h0m1 28h0m0-3h0m2-21h0m1 14h0m2 7h0m3-41h0m1 20h0m0 0h0m3 27h0m2 0h0m1 0h0m2-6h0m3-2h0m0-27h0m0-10h0m2 21h0m3 23h0m2 21h0m0-48h0m0 42h0m1-46h0m0 20h0m2 34h0m3-13h0m10-56h0m5-4h0m1 60h0m1-58h0m2 3h0m1 7h0m2-8h0m1 63h0m1-18h0m0-23h0m3-19h0m0 49h0m0-40h0m0-6h0m1-3h0m3-3h0m4 7h0m0 14h0m1-11h0m4-10h0m1 2h0m4 9h0m20 42h0m3-51h0m3 20h0m2-16h0m7 66h0m3-48h0m16 38h0m13-7h0m4 10h0m-265 44h0m1 2h0m2 8h0m3-5h0m1-18h0m1 24h0m2-16h0m1 24h0m2-16h0m2-5h0m1-6h0m2 3h0m2 4h0m0 4h0m0-4h0m2-15h0m1 17h0m0-13h0m1 21h0m2 7h0m1-22h0m2-13h0m1 29h0m0-22h0m0 36h0m3-28h0m1 15h0m1-27h0m1-5h0m0 28h0m1-23h0m0 9h0m2 1h0m1-10h0m152 3h0m3-2h0m44 2h0m36 50h0m520 5h0m1-5h0m1 0h0m0 0h0m0 6h0m10-9h0m3 1h0m2 4h0m8-2h0m-584 61h0m0-49h0m3 53h0m1-30h0m7 39h0m2 7h0m2-22h0m0 26h0m1-51h0m1 18h0m1-16h0m1 32h0m1-26h0m3 13h0m2 30h0m1-41h0m5-13h0m1 7h0m0 22h0m1-22h0m1-20h0m1 41h0m2-3h0m2 31h0m2-42h0m2 1h0m0 16h0m1-54h0m2 16h0m2 31h0m1-10h0m1-9h0m4 50h0m1-52h0m1 10h0m1 19h0m3 1h0m2-23h0m1 28h0m16-18h0m0-32h0m3 66h0m2-29h0m2 13h0m15-38h0m3 50h0m4-46h0m4 5h0m454-33h0m1 6h0m2 1h0m1-3h0m1 4h0m0-6h0m2 10h0m1-8h0m3 6h0m5 0h0m3-9h0m2 7h0m6 5h0m2-8h0m1 4h0m5 11h0m0 6h0m4 2h0m-575 53h0m7 0h0m12 6h0m29 8h0m1-8h0m32 0h0m3 20h0m23 15h0m3-10h0m0 5h0m8-17h0m10 16h0m-140 196h0m19 5h0m2-37h0m37 3h0m17 7h0m161 24h0m19-36h0m28-6h0m31 38h0m8 3h0m1 5h0m1-5h0m5 4h0m2-5h0m1 0h0m9 7h0m8-13h0m1-6h0m2 8h0m0-6h0m1 8h0m1-8h0m0-5h0m1 12h0m4 10h0m2-8h0m1-10h0m0 13h0m0 0h0m2-10h0m0 16h0m3-4h0m2-16h0m1 3h0m1 4h0m4 10h0m5-9h0m0-6h0m5-5h0m2-3h0m0 19h0m1 2h0m3 1h0m-528 71h0m3 3h0m1-22h0m6 18h0m11-17h0m0 4h0m5-4h0m5 17h0m10-6h0m8 2h0m17-12h0m0-15h0m0 29h0m1-1h0m0 2h0m2-5h0m1-1h0m1 3h0m3 2h0m2 8h0m1-29h0m0 19h0m2-15h0m0 29h0m1-42h0m1 43h0m2-9h0m2-35h0m1 3h0m1 24h0m0-25h0m1 23h0m2-11h0m2 32h0m1-33h0m0 6h0m2 7h0m0-24h0m0 29h0m2 12h0m1-54h0m0 48h0m0 8h0m2-9h0m1 4h0m0-17h0m0-17h0m1-9h0m0 36h0m1-38h0m1-12h0m1 4h0m2 29h0m0 20h0m0-24h0m0 10h0m1-34h0m0 9h0m1 36h0m0-17h0m2-32h0m2 48h0m1-31h0m1 5h0m0-17h0m2 29h0m2-37h0m0 17h0m0 44h0m1-17h0m0-19h0m1 23h0m0 2h0m0-38h0m0 31h0m2-41h0m1 29h0m0-16h0m1 24h0m0 6h0m1-51h0m2 30h0m0 38h0m1-17h0m1-33h0m0-9h0m2 19h0m4 11h0m1 25h0m0-55h0m2 10h0m1 22h0m2-1h0m0-35h0m0 11h0m0 32h0m1-17h0m0-3h0m2 10h0m0 5h0m2 6h0m2-6h0m3-12h0m1 6h0m0-18h0m2 24h0m1 6h0m1 2h0m1-19h0m0-9h0m10 14h0m8-23h0m2 25h0m5 32h0m4-33h0m9 10h0m8-43h0m0 30h0m21-25h0m3 33h0m2-17h0m4 40h0m6-16h0m0 16h0m6-3h0m5-7h0m2-8h0m2 7h0m3-5h0m141-36h0m44 16h0m2-7h0m4-13h0m1 15h0m0-1h0m1-29h0m1 35h0m0-30h0m0 26h0m0 2h0m0-33h0m1 7h0m1 17h0m0 15h0m1-41h0m0 37h0m0 3h0m0-18h0m2-18h0m1 27h0m0-21h0m0 9h0m4 0h0m1 16h0m0-22h0m1 21h0m0 4h0m2-1h0m0-22h0m1-13h0m1 15h0m0-8h0m1 15h0m1-16h0m1 17h0m4-21h0m0 12h0m1 2h0m1-8h0m0 23h0m1-32h0m1 6h0m1 30h0m2-24h0m1-10h0m0 0h0m1 8h0m0 3h0m1 13h0m0 5h0m1-4h0m1-21h0m2 13h0m0 13h0m1-29h0m0 12h0m0-5h0m0 24h0m2-3h0m1-31h0m0 18h0m0 11h0m5-26h0m0 21h0m2-12h0m0-6h0m2-7h0m1 17h0m0-11h0m0 8h0m1-14h0m5 11h0m0-2h0m7 11h0m10-20h0m1 10h0m-512 71h0m21 5h0m8 8h0m3-1h0m12-8h0m1-2h0m2 3h0m6 1h0m2 6h0m1 2h0m2 10h0m6-12h0m1 42h0m4-49h0m0 15h0m1 14h0m1-15h0m1-8h0m1 24h0m2-24h0m1-8h0m0 65h0m1-66h0m1 34h0m2-27h0m0 28h0m1 2h0m0-37h0m0 35h0m1-31h0m0 17h0m2 48h0m1-35h0m3 9h0m0 3h0m1-36h0m0 4h0m2 61h0m0-76h0m0 30h0m0-30h0m5 36h0m3-12h0m4 6h0m1-4h0m1-10h0m3-4h0m1 17h0m0-14h0m1 18h0m1-13h0m1 42h0m0 3h0m0-10h0m1 14h0m0-34h0m2-35h0m0 70h0m1-32h0m1 34h0m1-37h0m0 4h0m8 32h0m1-1h0m0-8h0m1 12h0m1-2h0m0-56h0m1 43h0m1 11h0m0 2h0m2 1h0m3 3h0m0-20h0m1 2h0m1-50h0m1-1h0m2 55h0m6 13h0m1-18h0m1-5h0m4 21h0m2-41h0m2 32h0m0 7h0m1-35h0m8 23h0m0-45h0m2 39h0m3-30h0m3 52h0m1-24h0m3-49h0m0 6h0m5 7h0m13 20h0m4 14h0m27-47h0m1-3h0m3 8h0m-157 122h0m2 14h0m0-5h0m5-7h0m3-5h0m0-16h0m2 11h0m0-11h0m0 3h0m1-5h0m0 17h0m2 12h0m1-16h0m0-14h0m0-5h0m1 33h0m0-45h0m1 30h0m0-21h0m1 17h0m0 25h0m1 14h0m1 0h0m0-18h0m1 16h0m0-21h0m1-18h0m0-6h0m0 29h0m0-10h0m1-20h0m1-4h0m0-9h0m0-9h0m1-6h0m4 62h0m0-3h0m1 18h0m0-70h0m0 52h0m1-34h0m0-10h0m0 23h0m2-4h0m0 35h0m0-58h0m1 7h0m1 51h0m0-25h0m1 23h0m0 4h0m1-56h0m0 8h0m1 43h0m1-38h0m1 12h0m0-8h0m1-18h0m2 4h0m0 47h0m0 12h0m1-21h0m1 22h0m0-5h0m1 0h0m0-20h0m1 23h0m1-39h0m0 2h0m0 26h0m1 11h0m1-51h0m0 2h0m0 21h0m1 18h0m0-48h0m0 0h0m0 23h0m0 2h0m0-31h0m0 44h0m1-8h0m0-10h0m0 2h0m1 5h0m0-19h0m3-7h0m3-20h0m0 54h0m1-54h0m2 11h0m1-11h0m0 25h0m1-23h0m2 1h0m7 39h0m2-38h0m1 29h0m7 23h0m2-30h0m0-22h0m4 15h0m9-12h0m2 7h0m1 28h0m2-31h0m1 11h0m4-16h0m4 31h0m8-21h0m3-13h0m7 33h0m3 6h0m4-23h0m5 19h0m-102 43h0"/><path stroke="#0000ff" d="M514 117h0m55 31h0m3-12h0m-56 27h0m55 75h0m16-22h0m1 18h0m28-63h0m16 16h0m10 43h0m-150 81h0m32-4h0m20-59h0m2-4h0m39 23h0m6 49h0m0-71h0m34 51h0m-99 65h0m19 15h0m11-44h0m0 0h0m14 4h0m6 56h0m8-45h0m10 5h0m0 16h0m2-31h0m2-2h0m7-7h0m7 72h0m3-30h0m0-35h0m7 57h0m8-34h0m18 39h0m5-68h0m442 61h0m7 3h0m20 2h0m-574 54h0m15 22h0m7-38h0m0-3h0m14-29h0m5 63h0m21-16h0m1-2h0m7 32h0m4-72h0m5 22h0m1-14h0m5 22h0m4-23h0m2 46h0m3 12h0m6-30h0m11 30h0m469-66h0m21 29h0m-900 120h0m4-16h0m12 11h0m6-1h0m23 8h0m9-36h0m7-2h0m9 9h0m6 16h0m5-1h0m3-8h0m250-51h0m24 4h0m10-1h0m15 14h0m20 3h0m5-12h0m25 8h0m2 35h0m2-12h0m1-11h0m9 48h0m7-4h0m6-4h0m15-34h0m1 10h0m1 12h0m1-8h0m1-5h0m0-4h0m4 5h0m4-4h0m6 16h0m16-5h0m0 0h0m3-25h0m2 15h0m9-1h0m-510 60h0m5-5h0m11-6h0m219 107h0m1-5h0m1 26h0m2-18h0m0 1h0m1-9h0m1 40h0m0-35h0m1-17h0m0 8h0m0-9h0m1 33h0m1-20h0m3 6h0m0-15h0m1 22h0m0-22h0m1 43h0m1-19h0m1-27h0m1 5h0m0 1h0m1 47h0m0-41h0m2 22h0m0 8h0m0-19h0m1 9h0m0-1h0m0-18h0m0 22h0m0-28h0m0-27h0m2 36h0m0 1h0m1-30h0m1 17h0m0-18h0m0 17h0m1 37h0m1-35h0m0 13h0m1-22h0m0-5h0m0 31h0m3 12h0m0-53h0m0 57h0m1-39h0m0 17h0m1-6h0m1 0h0m0 20h0m0-34h0m2 12h0m0 24h0m0 0h0m1-3h0m0-27h0m1 2h0m0 40h0m0-45h0m1 19h0m1-7h0m0-7h0m1 20h0m1-5h0m1-5h0m0 7h0m1-22h0m2 12h0m2 4h0m0 2h0m1-5h0m2 5h0m0-5h0m0 6h0m1 1h0m0 18h0m2-18h0m66-4h0m160-17h0m92 21h0m11-18h0m0 17h0m4 8h0m4-7h0m2-13h0m1 12h0m2-8h0m1 8h0m14-11h0m-419 62h0m3-8h0m7 4h0m11 0h0m2 15h0m1-6h0m9-5h0m1-8h0m127 72h0m9 4h0m18-38h0m4 38h0m2-16h0m0 4h0m-48 77h0m1-14h0m35-46h0m-44 117h0m2-21h0m9 16h0m21-2h0"/><path stroke="#ff0000" d="M566 111h0m15 6h0m1-15h0m8 41h0m20 10h0m9-3h0m5-38h0m31 19h0m2-7h0m0-5h0m1 26h0m7 6h0m-116 66h0m16 0h0m26-43h0m27-4h0m11 66h0m9-33h0m13-36h0m3 28h0m4 9h0m1 31h0m2-64h0m0 34h0m3 9h0m2-36h0m0 31h0m0-12h0m1 17h0m1 13h0m1-16h0m1 9h0m0-11h0m0-32h0m0 33h0m1-14h0m3 30h0m9-62h0m-74 133h0m4 10h0m17-18h0m12 23h0m2-11h0m8-44h0m1 16h0m2 14h0m2 26h0m4-4h0m0-40h0m0 13h0m5-6h0m6-27h0m-129 113h0m31-4h0m14-2h0m4-3h0m9 30h0m1 0h0m5-13h0m2 26h0m8-54h0m18 45h0m0-63h0m4 39h0m1 19h0m10-47h0m7-8h0m4 11h0m-41 66h0m21 32h0m10-8h0m34 35h0m7-9h0m1-5h0m1 8h0m2-11h0m4 4h0m5-3h0m-462 104h0m33 9h0m6-32h0m17-6h0m30 20h0m305-42h0m3 13h0m21-30h0m14 22h0m6 17h0m3-30h0m9 61h0m11-13h0m5 8h0m1 6h0m2-10h0m13-32h0m24 26h0m1-21h0m14-4h0m3 29h0m-499 41h0m25-22h0m486 97h0m-355 119h0m3 12h0m9-9h0m7 16h0m130 79h0m8-14h0m7 13h0m10-9h0m21-2h0m-56 31h0m9 25h0m11-6h0m15-12h0m1-5h0m7 26h0m0-32h0m16-5h0m-66 78h0m7 2h0m7 13h0"/><path stroke="#ffff00" d="M566 110h0m22 28h0m3-42h0m5 36h0m57 25h0m3-14h0m0-6h0m3 1h0m0 5h0m11-10h0m-78 54h0m30 4h0m30-18h0m1 39h0m1-7h0m5-2h0m3 6h0m2-45h0m1 52h0m11-5h0m0-12h0m0-20h0m5 59h0m2-13h0m3-23h0m-85 62h0m7 39h0m13-24h0m2-27h0m2 5h0m5-2h0m15 52h0m12-28h0m1-37h0m3 11h0m3-1h0m1 67h0m8-54h0m-23 59h0m49 194h0m67 15h0"/><path stroke="#00ff00" d="M396 100h0m16 51h0m14-32h0m13 33h0m33-15h0m40 9h0m4-26h0m1 38h0m5-2h0m2-9h0m4-40h0m3 7h0m2 31h0m2 14h0m3-15h0m1-31h0m0 44h0m5-8h0m2-35h0m0-6h0m0 1h0m2 25h0m1-1h0m0 8h0m1-5h0m1 15h0m0-32h0m1 40h0m2-15h0m2-27h0m1 27h0m3-12h0m1 11h0m1-8h0m0-13h0m0 15h0m5-44h0m3 3h0m2 51h0m4-51h0m2 37h0m1 17h0m1-24h0m0 26h0m0-5h0m1-28h0m1 30h0m1-28h0m3 17h0m0-11h0m0-22h0m1 37h0m0-9h0m1-9h0m1-13h0m1 44h0m0-22h0m0 3h0m3 11h0m1-18h0m1-26h0m0 10h0m2 35h0m1-40h0m1 43h0m2-28h0m1 6h0m2 19h0m1 10h0m1-46h0m1 11h0m3 11h0m3 25h0m2-8h0m2-28h0m1 15h0m2-29h0m1 20h0m2 25h0m1 1h0m1 4h0m6-8h0m0-2h0m1 8h0m0-18h0m1-3h0m9-5h0m0 15h0m1-4h0m1-26h0m0 42h0m2-25h0m0-8h0m1 20h0m1-23h0m1 35h0m0-32h0m3 22h0m1-14h0m2-12h0m3 38h0m6-14h0m12 7h0m-256 56h0m9-20h0m21-12h0m5 28h0m19 29h0m24 0h0m11-23h0m3-46h0m0 67h0m4-43h0m2 4h0m1-15h0m3-7h0m5-5h0m5 66h0m2-40h0m1-8h0m2 26h0m0 4h0m2-25h0m2 16h0m3 9h0m1-29h0m0 33h0m1-47h0m2 1h0m0 52h0m0-57h0m1 8h0m1 5h0m1 47h0m4-58h0m1 3h0m2 42h0m2-29h0m1 55h0m1-54h0m1 50h0m0-61h0m2-2h0m0 17h0m1-16h0m1 34h0m0-46h0m2 58h0m2-13h0m1-38h0m0 51h0m1 8h0m0-49h0m1-12h0m0 47h0m2-7h0m1-20h0m1-15h0m0-7h0m0 23h0m1 8h0m0-23h0m1 9h0m0-13h0m1 41h0m1 29h0m0-53h0m1 51h0m1-70h0m1 48h0m2 0h0m2-52h0m1 40h0m3 3h0m1 3h0m1-5h0m1-25h0m1 24h0m1-36h0m1 47h0m0-27h0m1-13h0m0 18h0m0-9h0m2 19h0m0-22h0m1 26h0m2-2h0m0 8h0m1 8h0m3 17h0m0-60h0m1 1h0m1 25h0m3-21h0m0 45h0m0-48h0m0 31h0m4-38h0m0 8h0m1 6h0m1 16h0m2-17h0m1-2h0m1 42h0m0-20h0m1-13h0m0-10h0m1-14h0m2 8h0m1 43h0m2-28h0m0 35h0m0 3h0m2-30h0m1-7h0m0 48h0m1-44h0m1-8h0m2 6h0m1 30h0m1-58h0m1 45h0m3-33h0m0 20h0m2 20h0m1-17h0m3-7h0m0-5h0m0-17h0m0 53h0m1-33h0m2 4h0m0 14h0m11 23h0m6-26h0m-255 73h0m10 11h0m34 6h0m2 0h0m4 10h0m11-24h0m3 35h0m2-28h0m6-26h0m1 52h0m2-32h0m6 23h0m1-32h0m4-9h0m0 27h0m0-20h0m5-22h0m2-7h0m1-1h0m3 26h0m9 16h0m2-2h0m0-21h0m2 7h0m2-11h0m4 17h0m3-20h0m2 0h0m3 4h0m2 2h0m2 33h0m0 13h0m1-45h0m1 30h0m4-19h0m1 39h0m1-29h0m3-19h0m1 26h0m0-22h0m1-12h0m0 62h0m1-47h0m1 4h0m0-7h0m1-9h0m3 20h0m5-9h0m0 17h0m1-19h0m6-27h0m0 74h0m4-64h0m2-1h0m2 46h0m1 3h0m0-31h0m3-22h0m2 60h0m1-40h0m1 51h0m0-74h0m2 53h0m3 13h0m0-66h0m2 75h0m2-4h0m4-14h0m1 20h0m1-77h0m1 21h0m1 46h0m4-35h0m0 7h0m3-37h0m9 32h0m5 7h0m1 0h0m1-23h0m0 22h0m4-16h0m0 12h0m1 2h0m0 24h0m0 3h0m1-31h0m0 19h0m8-4h0m1 22h0m0-38h0m5 15h0m4-16h0m0-25h0m4 8h0m1 15h0m6-23h0m0 35h0m2-26h0m-180 78h0m30 7h0m2 12h0m4-12h0m1-17h0m3 20h0m2-17h0m0 23h0m0-1h0m2-23h0m6 8h0m3-1h0m1 20h0m4-20h0m8 29h0m6-27h0m4-10h0m3 5h0m16 22h0m4 43h0m0-58h0m1 5h0m2-5h0m0-17h0m0-1h0m1 27h0m0-1h0m0-20h0m1 49h0m2-17h0m1-18h0m2-19h0m1 5h0m3 42h0m0-1h0m1 9h0m1-5h0m1-1h0m1 17h0m0-66h0m4 45h0m4 2h0m1 14h0m0-59h0m3-4h0m1 27h0m0 24h0m1-36h0m1-10h0m4 53h0m2-27h0m3 28h0m0-2h0m2 14h0m0-21h0m1-35h0m1 28h0m2-10h0m3-11h0m1 53h0m2-44h0m0 42h0m1-61h0m1 53h0m0-30h0m0-26h0m0-4h0m1 26h0m0 2h0m2-7h0m1 29h0m1 7h0m0-43h0m4 28h0m1-19h0m2-19h0m452 68h0m-574 53h0m9-5h0m4 11h0m2 8h0m1-27h0m3-29h0m0 34h0m1 26h0m3-19h0m0-2h0m1-7h0m1-7h0m5 12h0m3 25h0m2 8h0m0-10h0m1-38h0m1 37h0m0-2h0m1 1h0m3 2h0m3-19h0m1-35h0m3 0h0m6 55h0m2-28h0m1-28h0m3-4h0m1 48h0m0 6h0m0 8h0m5-66h0m3 71h0m1-4h0m0-4h0m1-24h0m0-17h0m1 34h0m1-36h0m0 16h0m0 19h0m9-58h0m0 33h0m2 3h0m1-12h0m0 12h0m3-36h0m1 15h0m2 9h0m0-12h0m2 42h0m2 16h0m2-52h0m0-12h0m2 9h0m0 0h0m0-4h0m2 57h0m0-65h0m1 63h0m1-59h0m0-1h0m1 29h0m2-12h0m1-9h0m3 5h0m2 11h0m1 18h0m4-30h0m3 9h0m4-24h0m2 51h0m3 23h0m2-31h0m3 21h0m29-9h0m1-12h0m2 19h0m431-54h0m10 13h0m-902 130h0m1 1h0m4-9h0m2 0h0m1 2h0m0-16h0m1 15h0m1-3h0m0 5h0m1 2h0m0-6h0m1 1h0m1-2h0m1 11h0m1-17h0m10-7h0m1 17h0m1-11h0m3 18h0m3-10h0m4-14h0m1 4h0m2-5h0m1-8h0m3 25h0m1-19h0m2 11h0m4 14h0m1-1h0m0-5h0m1 9h0m1 0h0m1-15h0m1-22h0m1 15h0m0 3h0m1-11h0m2 27h0m2-9h0m1-1h0m5-8h0m3-17h0m1 30h0m0-23h0m1 11h0m4-12h0m0 28h0m0-5h0m1-26h0m2 22h0m2-11h0m5 16h0m4-16h0m1-4h0m237-44h0m1-3h0m4-2h0m19 0h0m23 21h0m1-2h0m0-13h0m4 16h0m2-3h0m0-2h0m1-3h0m1 4h0m2-15h0m1 5h0m0 9h0m0 8h0m7-11h0m2 15h0m3-10h0m4-16h0m4 24h0m3-7h0m2 4h0m5 11h0m1-10h0m1 0h0m1-21h0m7 6h0m0 15h0m1 8h0m4 8h0m1-31h0m1-4h0m2 37h0m4-18h0m0-14h0m0 31h0m0-1h0m6-14h0m0 27h0m1-30h0m3 44h0m0-33h0m2 43h0m1-31h0m2-30h0m1 41h0m2-45h0m5 60h0m2-26h0m2 1h0m3 8h0m1 12h0m2-10h0m7 13h0m9-28h0m0 17h0m0 13h0m2-5h0m1 6h0m1-44h0m1 15h0m1 27h0m1-21h0m5-5h0m7 13h0m2 10h0m2-28h0m1-2h0m5 25h0m2-6h0m1 0h0m3-18h0m1 1h0m1-8h0m3 22h0m19-26h0m-545 65h0m4-12h0m1 2h0m4 11h0m3-14h0m1 18h0m0-2h0m2 3h0m0-11h0m3-7h0m5 4h0m2-3h0m4 5h0m2-8h0m3 19h0m1 4h0m0-7h0m1-15h0m1 22h0m3-9h0m2 1h0m3-11h0m3 18h0m8-13h0m0-7h0m1-1h0m7 10h0m0-8h0m6 2h0m3 5h0m4-10h0m371 0h0m-190 98h0m6-1h0m27 40h0m0-21h0m8 7h0m1-12h0m2-7h0m8 27h0m1-13h0m4-13h0m0 38h0m1 4h0m1-19h0m0 21h0m1-18h0m0-25h0m1 24h0m1-32h0m0 8h0m1-7h0m0 44h0m1-37h0m0 42h0m0-48h0m0 16h0m1 31h0m1-33h0m1 34h0m0-41h0m1 48h0m0-29h0m3 16h0m0-8h0m0-14h0m0-17h0m1 24h0m2 10h0m1-8h0m0-21h0m3-1h0m0 28h0m0 19h0m0-32h0m0-2h0m1 3h0m1 10h0m1 8h0m1-45h0m0 53h0m0 0h0m1-5h0m0-15h0m4-3h0m0-23h0m1 27h0m1 10h0m0 17h0m1-53h0m0 22h0m0 4h0m1-31h0m0-2h0m0 7h0m1 25h0m2 25h0m0-3h0m0-4h0m1-36h0m0-1h0m1-5h0m0 42h0m1-23h0m0-9h0m1-7h0m0 49h0m1-43h0m0 3h0m0-16h0m1 43h0m0-46h0m0 38h0m0-23h0m0 24h0m0-30h0m1 30h0m0-21h0m3-13h0m0 27h0m0 18h0m1 7h0m0-40h0m0 22h0m1 10h0m3-35h0m2 0h0m1-16h0m1 19h0m0-11h0m0-2h0m1 47h0m0-26h0m1-6h0m0-2h0m0 33h0m0-14h0m1 1h0m1-15h0m0 20h0m0 2h0m0-47h0m2 48h0m1-15h0m0 23h0m1-19h0m1-29h0m0 9h0m1 44h0m1-22h0m0 19h0m1-35h0m2-8h0m1 5h0m1 42h0m0-45h0m1 0h0m0 12h0m0 10h0m0-25h0m0-5h0m1 5h0m1 33h0m0 1h0m1 5h0m2-7h0m0-29h0m0-2h0m2 38h0m1 0h0m1-38h0m1 14h0m1 13h0m0-29h0m0 24h0m1 21h0m0 2h0m0-6h0m2-42h0m0 23h0m0-27h0m0 21h0m1-8h0m3 6h0m1 32h0m1-15h0m1 16h0m0-17h0m1 5h0m2 14h0m2 0h0m1-12h0m0-6h0m1 18h0m59-6h0m15 4h0m1-3h0m10-6h0m9 3h0m0 6h0m7-10h0m5 8h0m4-6h0m2-11h0m5-47h0m0 54h0m3-4h0m3-39h0m1 56h0m2-65h0m0 53h0m4-51h0m0-12h0m1 61h0m1 10h0m1-16h0m0 2h0m4 11h0m2-1h0m6 5h0m1 1h0m2-8h0m1 12h0m1-28h0m1 21h0m0-32h0m1 33h0m0-23h0m0 7h0m0 9h0m0-17h0m2 1h0m0-23h0m2 34h0m0 10h0m0 8h0m2-37h0m3-12h0m3-9h0m1 26h0m0 6h0m0 10h0m1-22h0m1-22h0m1 41h0m0-36h0m0 9h0m2 26h0m1-2h0m1-35h0m1 45h0m2-7h0m1 1h0m0-22h0m1-17h0m1 38h0m1 9h0m0-29h0m3 21h0m0-28h0m0 47h0m0-58h0m1 27h0m1-22h0m0 47h0m4-8h0m0 10h0m0-51h0m7 35h0m1-14h0m0 28h0m0 1h0m2 1h0m1-7h0m0-13h0m1 21h0m0 0h0m2-19h0m2 14h0m2 6h0m25-11h0m2 9h0m2-26h0m13-16h0m22 22h0m-509 69h0m6 12h0m5 17h0m2-30h0m3-1h0m1-3h0m15 34h0m3 0h0m3-7h0m16 2h0m2-9h0m2 5h0m20-2h0m1 4h0m11-29h0m27-1h0m28 8h0m8 1h0m1 27h0m2-5h0m1 12h0m3-26h0m2-48h0m4-3h0m1 11h0m2-11h0m0 16h0m2-2h0m1-14h0m0 16h0m2-16h0m0 15h0m1 2h0m1 48h0m1-65h0m1 42h0m1 26h0m0-17h0m1 6h0m1-47h0m1 4h0m0-2h0m4 34h0m1-19h0m0 13h0m2-28h0m1-9h0m0 42h0m1-31h0m1 31h0m2-27h0m0-16h0m0 52h0m1-36h0m2 39h0m0-2h0m0-53h0m2 2h0m2 28h0m1-34h0m0 61h0m2-51h0m0 13h0m0 1h0m1-19h0m0 57h0m1-54h0m2 5h0m0 3h0m0-15h0m2 22h0m0 9h0m1-33h0m0 65h0m1-43h0m1 2h0m0-14h0m1 21h0m0 6h0m1-5h0m1-15h0m0-2h0m1 46h0m1-34h0m1 41h0m0-4h0m3-37h0m0-18h0m1 30h0m0-36h0m2 16h0m3 43h0m2-51h0m2-8h0m0 35h0m2-6h0m3-8h0m0-13h0m2-6h0m8 35h0m22 0h0m7-18h0m1 14h0m5-25h0m1 8h0m0-12h0m0 28h0m1 27h0m4-31h0m6-19h0m1 60h0m1-34h0m4 25h0m0-40h0m1 33h0m0-11h0m1-22h0m1-9h0m1 62h0m2-3h0m0-34h0m4-27h0m2 2h0m5 49h0m1-18h0m1-38h0m0 33h0m1-14h0m2-14h0m5 46h0m1-53h0m1 14h0m0-11h0m5 2h0m0 40h0m1 3h0m4-22h0m2-29h0m5 33h0m2-20h0m7 7h0m4-1h0m0-11h0m1 7h0m2-10h0m4 13h0m1-7h0m4-9h0m1 29h0m2 2h0m0-11h0m1-10h0m0-1h0m7 2h0m1 3h0m1-8h0m2 13h0m0-20h0m1 25h0m1-7h0m2-21h0m0 0h0m2 1h0m1 35h0m1 7h0m0-11h0m5 8h0m0-5h0m1 0h0m0-31h0m0-3h0m1 11h0m0-10h0m1 30h0m0 2h0m1 9h0m0-16h0m0 7h0m2 1h0m1-23h0m2 27h0m1-11h0m1 8h0m0-17h0m1-5h0m1-1h0m0-13h0m1 36h0m1-20h0m2 4h0m2 6h0m1-24h0m1 42h0m0-17h0m0 5h0m1 6h0m2-2h0m1-25h0m1 19h0m2-13h0m0 22h0m1-14h0m1-15h0m1 10h0m1 16h0m0-24h0m4 8h0m2 6h0m1-7h0m0-8h0m1 2h0m1 0h0m0 6h0m7-12h0m0 3h0m3-1h0m0-9h0m12 30h0m18 6h0m43-35h0m-490 85h0m16-2h0m6-2h0m28-1h0m3 9h0m0 33h0m6-25h0m5-15h0m9 24h0m17 35h0m2-39h0m6 55h0m14-68h0m19 60h0m1-59h0m2 52h0m5-59h0m2-3h0m0 15h0m3 22h0m2-32h0m1 44h0m2-29h0m7-3h0m7 0h0m1 8h0m4-12h0m5 23h0m2 0h0m1 27h0m3-48h0m4 50h0m0-12h0m2 7h0m1-50h0m1-5h0m0 5h0m4 18h0m0-1h0m4 38h0m1-58h0m2 31h0m3 12h0m68-50h0m-195 119h0m1-8h0m11 38h0m2-19h0m5-11h0m1-26h0m5 53h0m4-31h0m2 18h0m30-44h0m6 19h0m1-1h0m16-15h0m28 18h0m2-6h0m1-18h0m4 18h0m6-7h0m5 17h0m-112 47h0"/><path stroke="#000000" d="M375 127h0m10-12h0m1 16h0m2 11h0m0-20h0m5 2h0m1-27h0m1 2h0m0 10h0m0 25h0m1-32h0m1 16h0m0 22h0m0-36h0m1 15h0m0 30h0m1 1h0m1-23h0m0-12h0m0 19h0m2-12h0m0-27h0m0 22h0m1 11h0m0-31h0m1 25h0m1-15h0m1-3h0m0 0h0m0 8h0m1 3h0m0 3h0m0 13h0m1 5h0m0-19h0m0 38h0m1-45h0m1 40h0m0-13h0m2-4h0m0-28h0m1-3h0m1 9h0m0 44h0m0-14h0m1-22h0m0 23h0m1-24h0m1 35h0m0-32h0m1 17h0m1-47h0m0 61h0m0 4h0m0-9h0m0-33h0m1-11h0m0 12h0m1-12h0m0 14h0m1-19h0m1 49h0m0-29h0m2-2h0m0 15h0m1-29h0m0 34h0m0 9h0m0-13h0m2-21h0m0 36h0m0-29h0m1 6h0m1 9h0m1-30h0m0 35h0m1 18h0m0-54h0m0-2h0m0-1h0m1 25h0m0 27h0m1 5h0m0-52h0m1 55h0m2-31h0m0 10h0m0-27h0m0 14h0m2-20h0m0-1h0m1 13h0m0 31h0m1-48h0m0 5h0m0 12h0m1-7h0m0 27h0m1-5h0m0 14h0m0-12h0m1-8h0m2 1h0m0 15h0m0-11h0m1 11h0m0 5h0m2 10h0m1-9h0m0-10h0m0-18h0m1-20h0m1 16h0m0 18h0m1 20h0m3-21h0m0-26h0m0 29h0m1-28h0m0 32h0m0-3h0m1-8h0m1-25h0m1 50h0m0-34h0m0 17h0m0 15h0m1-48h0m3 22h0m1-5h0m0 29h0m0-5h0m0-36h0m2 17h0m1-19h0m0 1h0m1 35h0m1-7h0m2 24h0m0-31h0m3 10h0m2-16h0m0 22h0m1-19h0m0 20h0m1-24h0m1 0h0m8 24h0m6-11h0m25 24h0m13 1h0m1-1h0m6-7h0m-156 69h0m8-49h0m2-1h0m3-4h0m1 2h0m0 8h0m1 34h0m0-18h0m2-15h0m0 5h0m0 17h0m0 0h0m1-40h0m0 31h0m1-11h0m1 12h0m0 35h0m1-43h0m0 9h0m1 25h0m3 15h0m0-34h0m2-1h0m0 17h0m2 7h0m1-42h0m0 28h0m0-39h0m2 60h0m1-51h0m0 23h0m0 4h0m1-42h0m1 45h0m0-40h0m0 44h0m2-20h0m0-13h0m1-17h0m1 0h0m0 17h0m1 61h0m0-48h0m1 38h0m0-2h0m0-59h0m1 49h0m2-18h0m3-39h0m0 20h0m0 0h0m1 52h0m0-43h0m2 49h0m0-47h0m0 18h0m0 8h0m0-19h0m1-27h0m0 22h0m0 16h0m1-7h0m1 32h0m0-27h0m3 20h0m1-67h0m0 26h0m1 4h0m1-27h0m0 11h0m0-6h0m0 28h0m1 8h0m0 4h0m1-18h0m2 7h0m1 24h0m0 8h0m0-39h0m1-16h0m2 18h0m1-31h0m1 75h0m0-72h0m0 74h0m0-59h0m0 2h0m1 39h0m1-10h0m1 26h0m2-16h0m0 2h0m0-50h0m1 13h0m0 31h0m1 14h0m1-40h0m1 24h0m2 14h0m1 10h0m1-54h0m3 49h0m0-24h0m0-25h0m1 47h0m1-65h0m0 58h0m1-9h0m1-43h0m1 25h0m0 16h0m0 23h0m1-51h0m0 7h0m0 10h0m1 18h0m0 17h0m2-1h0m1-73h0m1 31h0m0-9h0m0-3h0m1-15h0m0 69h0m0-3h0m0-5h0m0-43h0m1 19h0m0 21h0m0-10h0m1-48h0m1 51h0m1-8h0m0 2h0m0 17h0m1-44h0m0 48h0m0-39h0m0 12h0m0 14h0m1 9h0m0-34h0m1 6h0m2 12h0m0-17h0m0 15h0m1-30h0m0 38h0m0-3h0m0 8h0m2-8h0m1-37h0m0 53h0m0-52h0m1-8h0m1 32h0m0 18h0m0-2h0m1-18h0m0 28h0m0 4h0m1-57h0m1 4h0m0-2h0m0 45h0m1 4h0m2-31h0m0 19h0m0-18h0m1-12h0m0 1h0m2-8h0m11 29h0m0-33h0m57 11h0m13-6h0m-203 88h0m1 24h0m3-30h0m1 0h0m1 2h0m0 29h0m2-6h0m3-11h0m0-12h0m0 2h0m0-27h0m2 23h0m4 19h0m0-1h0m4-7h0m0-7h0m0-23h0m0 21h0m1 30h0m2-24h0m3-7h0m1 20h0m2 3h0m1-2h0m3 1h0m1 0h0m1-12h0m1 20h0m1-51h0m3 23h0m0 22h0m1 9h0m1-19h0m1 12h0m1-11h0m0-5h0m1 2h0m1 13h0m1-47h0m2 54h0m1-23h0m4 18h0m0 0h0m2 7h0m0-2h0m0-23h0m0 31h0m1-61h0m3 62h0m1-8h0m0-2h0m1 12h0m0-24h0m1 10h0m0 10h0m1-3h0m1-8h0m1 2h0m0-13h0m1-34h0m0 45h0m2 8h0m0 12h0m0-44h0m12-25h0m2 9h0m0 58h0m1 9h0m2-78h0m2 1h0m4 72h0m1-37h0m0 41h0m1-11h0m1 13h0m1-46h0m1 22h0m1-49h0m4 32h0m1-24h0m1 12h0m0-5h0m2 30h0m0-34h0m0 60h0m1-47h0m3 22h0m1-52h0m3 4h0m0 2h0m2-1h0m1 0h0m0 15h0m5 6h0m2 39h0m3 10h0m8-11h0m5-37h0m1 4h0m17 20h0m36 4h0m-273 70h0m2-7h0m1 3h0m1 8h0m1-1h0m2-2h0m0-10h0m3 15h0m1-18h0m3 13h0m3-11h0m1-5h0m0-5h0m3-5h0m2-1h0m1 5h0m1 4h0m2 23h0m0-30h0m0-4h0m1 20h0m0-10h0m1 5h0m1 12h0m1-28h0m2 16h0m2-4h0m2 2h0m0-15h0m1 17h0m1 0h0m5-7h0m0-10h0m126-13h0m15 5h0m21 7h0m1-6h0m28 2h0m3 13h0m44 49h0m39-8h0m476 7h0m0-6h0m2 13h0m22-6h0m-587 59h0m2-2h0m1-16h0m2-1h0m4 7h0m4 23h0m2-24h0m0-22h0m4 7h0m0 13h0m4-22h0m2 32h0m0-23h0m1-11h0m2 49h0m0-6h0m0 3h0m1-40h0m2 35h0m3 19h0m8-1h0m0-38h0m1 30h0m0-17h0m14-37h0m2 39h0m9 14h0m2 14h0m2-11h0m1-37h0m2 24h0m26-5h0m6 18h0m15 4h0m15 1h0m432-58h0m5-8h0m4 2h0m2 5h0m3 9h0m3-12h0m2 5h0m1-6h0m0 15h0m3-3h0m1-19h0m7 5h0m3 10h0m1 0h0m2 13h0m1-20h0m6 3h0m-556 78h0m7-9h0m4 10h0m1 1h0m15 1h0m47 15h0m2 17h0m12-17h0m-119 163h0m20 33h0m11-10h0m12-26h0m6 51h0m147-9h0m79-47h0m8 19h0m6 15h0m0 18h0m27-1h0m2 4h0m5-1h0m1-20h0m4 19h0m1 0h0m0-8h0m0 12h0m2-5h0m2-11h0m1 5h0m1 0h0m2 2h0m2 6h0m5 1h0m0-2h0m1-3h0m4 6h0m3-11h0m0 7h0m2-20h0m3 17h0m1-12h0m0 13h0m0 2h0m0-8h0m0-3h0m3-2h0m2 9h0m2 9h0m1-13h0m0 5h0m1-13h0m0 5h0m2 4h0m3 6h0m0-5h0m1-11h0m3 7h0m1-7h0m3-7h0m1 13h0m0-7h0m1 6h0m1 11h0m-526 67h0m5-8h0m5-2h0m18 10h0m2 15h0m1-20h0m5 6h0m1-13h0m6 15h0m0-13h0m6-1h0m11-9h0m2 30h0m2-18h0m2 13h0m0-34h0m1 23h0m2 16h0m2-23h0m7 26h0m1-39h0m1 27h0m3-6h0m1 2h0m1-10h0m0 20h0m0-12h0m1-1h0m2 24h0m2-2h0m3-41h0m0 18h0m2-21h0m3 0h0m1 45h0m1-6h0m1-31h0m0-14h0m1 48h0m0-25h0m0 14h0m8-48h0m1 63h0m0-19h0m0-28h0m2-9h0m0 20h0m1-16h0m1 14h0m0-8h0m1 33h0m1-36h0m1 6h0m0 13h0m1 5h0m3-35h0m1 56h0m0-56h0m0 7h0m1 13h0m0-20h0m0 29h0m2-20h0m1 1h0m1-5h0m0 54h0m0-57h0m1 25h0m0 19h0m1-34h0m0 40h0m0-30h0m0 4h0m0-11h0m1-11h0m0 52h0m0-15h0m0 5h0m1-46h0m0 15h0m1-10h0m0 35h0m1-16h0m0 17h0m2-21h0m1 8h0m1-23h0m1 21h0m1 9h0m1 16h0m1-16h0m0-13h0m2 30h0m0-44h0m2 39h0m0-45h0m1 23h0m1 11h0m0 5h0m0 13h0m1-36h0m3 19h0m0-19h0m1 27h0m3-14h0m1-11h0m0 7h0m1-20h0m0 16h0m0 11h0m4-29h0m13 44h0m0-14h0m5 4h0m7-9h0m3 5h0m1-10h0m8-33h0m8 23h0m0 4h0m2 40h0m6-72h0m2-3h0m19 44h0m0 15h0m11-4h0m3-9h0m4 2h0m4 12h0m13-46h0m31 56h0m115-69h0m8-1h0m17 36h0m5-3h0m1-19h0m2-11h0m0 30h0m0-5h0m3-1h0m0-12h0m0-7h0m1 6h0m0-9h0m0 31h0m1 2h0m0-7h0m1-25h0m0 6h0m1-8h0m3 8h0m0 21h0m5-8h0m3-24h0m1 29h0m1-5h0m0 2h0m2-13h0m1 7h0m4-3h0m1 2h0m0-9h0m1 2h0m2 7h0m0-10h0m0 3h0m3-1h0m2 12h0m1-25h0m1 27h0m1-15h0m0 10h0m0-14h0m2 10h0m0 13h0m0-5h0m6-27h0m2 23h0m3-16h0m0-4h0m0 1h0m1 15h0m1 5h0m1-3h0m5 2h0m2-20h0m1 13h0m3 2h0m1-12h0m2 12h0m0-15h0m0 16h0m4-14h0m1 4h0m0-9h0m1 2h0m-492 83h0m3-3h0m24 8h0m3 7h0m5-18h0m5 35h0m2-12h0m3 1h0m0-11h0m0 14h0m1 20h0m1-43h0m3 19h0m1 9h0m1 8h0m0-38h0m1 16h0m1-6h0m1 2h0m0 39h0m1-39h0m1 37h0m1-20h0m1 5h0m0 31h0m1-31h0m2 1h0m0-22h0m4-4h0m0 17h0m1-1h0m1 2h0m1 2h0m1-7h0m0 23h0m1-5h0m0 36h0m1-5h0m0-51h0m2 16h0m1 3h0m0-38h0m1 49h0m0-48h0m1-3h0m0 40h0m1-25h0m1 9h0m2 8h0m0 8h0m4-38h0m0 40h0m0 13h0m1-12h0m1 9h0m1-43h0m2 44h0m4-40h0m3 18h0m0 27h0m2 20h0m1-5h0m0-3h0m0-1h0m2-61h0m1 70h0m2-1h0m4-16h0m2 11h0m0 5h0m0-22h0m3 13h0m0-30h0m1 7h0m1-35h0m7 66h0m0-22h0m1-41h0m0 4h0m3-2h0m1 36h0m0-18h0m2 39h0m2-15h0m3-1h0m1-54h0m6-1h0m3 51h0m0 18h0m0-50h0m1 39h0m3-11h0m1 22h0m4-4h0m5-38h0m0 42h0m4-3h0m7 8h0m0-31h0m0-23h0m3 5h0m9 16h0m0-34h0m6 44h0m0 8h0m19-57h0m1-1h0m-152 138h0m3-11h0m1-47h0m0 48h0m2-48h0m1 36h0m0 15h0m1 21h0m2-43h0m0 17h0m1-5h0m2 13h0m0-1h0m0-5h0m1-36h0m0 34h0m1-14h0m3 33h0m0-9h0m0 3h0m1 9h0m0-40h0m0 29h0m0 16h0m1-32h0m1 6h0m0 22h0m2-48h0m0 26h0m2-31h0m0 2h0m2 40h0m1-12h0m0-42h0m0 42h0m2 14h0m1-13h0m0-32h0m0 27h0m1 31h0m0-51h0m0 13h0m1-15h0m0 23h0m1 17h0m1-18h0m0 12h0m1-42h0m1 21h0m0-13h0m1-8h0m2 21h0m0 41h0m0-17h0m1-57h0m0 61h0m1-39h0m1-7h0m0 54h0m1-5h0m0-10h0m0 14h0m1-50h0m1 11h0m0 4h0m1-32h0m0 66h0m1 8h0m0-73h0m1 21h0m0 43h0m2-65h0m0 8h0m0 35h0m0 23h0m2-1h0m0-18h0m2 6h0m1-22h0m0-17h0m1 34h0m0-25h0m2 21h0m3-3h0m2-45h0m2 13h0m2-7h0m1-5h0m1 10h0m1 38h0m1-46h0m4 8h0m9 32h0m4-12h0m2-19h0m0 27h0m9-38h0m1 21h0m2 18h0m13-25h0m0 12h0m3 12h0m0-25h0m9-8h0m6 23h0m2 3h0m7-7h0m-113 59h0m4 1h0m2-1h0m1-4h0m2 2h0m1 4h0m2 7h0m8-5h0"/><path stroke="#ff8c00" d="M565 135h0m1-29h0m4 36h0m54 14h0m3-35h0m5-22h0m9 27h0m18 3h0m14 10h0m1 13h0m-109 70h0m3-15h0m7-42h0m0 38h0m2-9h0m8 35h0m22-3h0m12-41h0m3 34h0m0-57h0m15 64h0m3-33h0m12-21h0m5-8h0m2 74h0m1-6h0m1-39h0m0 38h0m3-25h0m2-41h0m0 15h0m1-15h0m1 21h0m6 27h0m0-40h0m0 55h0m1-26h0m1-11h0m2-12h0m12 26h0m-120 36h0m3 0h0m16 72h0m2 6h0m2-10h0m4 7h0m2-11h0m2-50h0m10 12h0m2-12h0m8 7h0m7 1h0m1 7h0m0 13h0m5-34h0m3 12h0m0 56h0m2-10h0m2-63h0m10 59h0m2-30h0m3 1h0m2 15h0m1-32h0m5 20h0m0 6h0m-157 72h0m42 10h0m4-2h0m29 8h0m3-25h0m4 7h0m3-13h0m5-1h0m5-4h0m2-2h0m1 52h0m6-5h0m3-56h0m2 2h0m5 34h0m0-8h0m0 20h0m1-42h0m1 33h0m2-30h0m3 10h0m10 53h0m3-38h0m3 26h0m1-17h0m2-35h0m1 53h0m7-3h0m-44 86h0m1-24h0m2 35h0m1-58h0m0-11h0m3 1h0m0-8h0m1 54h0m10-40h0m3 13h0m2-24h0m2 39h0m2 35h0m1-19h0m5 14h0m4-40h0m12 33h0m5-4h0m3 1h0m25-15h0m7 4h0m0 2h0m-415 97h0m328-61h0m22 8h0m0-18h0m40 10h0m4 16h0m2-5h0m15 33h0m14 16h0m5 3h0m3-35h0m20 8h0m7 18h0m2-12h0m20 2h0m11-29h0m-480 61h0m286 142h0m30-9h0m26-34h0m188 25h0m8 10h0m-414 76h0m4-2h0m9 4h0m0-15h0m2 14h0m1 6h0m0-26h0m1 20h0m2 4h0m2-2h0m2 2h0m6-3h0m4-11h0m5 18h0m17-37h0m3 26h0m297-23h0m47-28h0m-262 154h0m10-1h0m22 1h0m17-9h0m26 7h0m1-1h0m-83 8h0m5 4h0m1 21h0m9 16h0m0-10h0m21 5h0m2-9h0m14 5h0m1-34h0m0 5h0m14 10h0m5 6h0m7 16h0m0 8h0m3-9h0m5 1h0m0 8h0m7-26h0m-89 76h0m4-5h0"/><path stroke="#8a2be2" d="M401 148h0m1-50h0m15 7h0m5 33h0m2-39h0m26 49h0m14-33h0m4-2h0m0-1h0m37 46h0m3-1h0m1 0h0m1-23h0m1 26h0m4-35h0m2 16h0m1 2h0m3 2h0m3-7h0m2 4h0m0 11h0m1-8h0m3 4h0m0-4h0m4 7h0m3-17h0m1 7h0m0 9h0m1 7h0m0-32h0m2 12h0m1-17h0m1-21h0m0 39h0m1 4h0m2-27h0m1 23h0m0-19h0m0 37h0m0-26h0m0-3h0m2 16h0m0-12h0m0 14h0m2-45h0m0 56h0m0-12h0m1 8h0m4 1h0m0-56h0m1 24h0m1 9h0m0-17h0m0-12h0m1 19h0m2 24h0m0-44h0m2 41h0m4-32h0m1 50h0m4-56h0m1 41h0m0-13h0m0-30h0m1 24h0m2 18h0m0 5h0m0 10h0m2-8h0m0-4h0m0-4h0m1 17h0m1-31h0m0 28h0m2-16h0m2 14h0m1-1h0m1-3h0m1-26h0m0 21h0m1-43h0m2 24h0m2 17h0m2-37h0m2 27h0m0 21h0m1-4h0m1-1h0m2-22h0m0-22h0m7 46h0m1-33h0m2-12h0m1-12h0m0 12h0m1 42h0m2 9h0m0-33h0m4 26h0m0-21h0m2-17h0m1 5h0m0 4h0m1-1h0m0 10h0m3 28h0m0-35h0m3 0h0m3 2h0m0 18h0m1-8h0m0 7h0m0-38h0m1 22h0m0 23h0m1-36h0m2 33h0m1-34h0m1 41h0m1-1h0m2-2h0m0-50h0m7 17h0m0 13h0m0 11h0m3-36h0m5 22h0m5-7h0m3-10h0m5 48h0m-265 25h0m16-7h0m6 30h0m2 32h0m14-28h0m10 27h0m2-15h0m9-26h0m12-18h0m3-15h0m4 76h0m5-19h0m0 10h0m0-2h0m1-50h0m9 24h0m4-22h0m2 46h0m0-61h0m1 42h0m0-39h0m0 24h0m0-25h0m2 55h0m2-59h0m1 56h0m1 3h0m0-28h0m1 19h0m0 5h0m2-30h0m0 36h0m0-33h0m1 34h0m1-51h0m0 34h0m0-44h0m0 68h0m0-44h0m1-19h0m1 66h0m1-38h0m0-16h0m0-9h0m0 18h0m0 31h0m4-4h0m0-12h0m0-32h0m0 44h0m1 20h0m1-3h0m1-11h0m0-64h0m0 31h0m0 14h0m1-38h0m0 3h0m2 19h0m0-13h0m0 13h0m1-4h0m0-20h0m1 52h0m0 9h0m2-4h0m0-3h0m0-55h0m1 55h0m0-29h0m1 7h0m0-5h0m0 12h0m0 7h0m1-50h0m3 34h0m0 9h0m0 19h0m1 13h0m0-66h0m0 18h0m1 31h0m0-36h0m1 54h0m0-47h0m1 8h0m0-30h0m0 63h0m0-8h0m1 14h0m1-68h0m0 5h0m0 23h0m1 27h0m0 11h0m0-43h0m1 14h0m1 12h0m1 15h0m5-7h0m0-55h0m0 61h0m1-21h0m1-44h0m1 51h0m1-51h0m2 40h0m1-34h0m1-3h0m0 28h0m5-29h0m0 35h0m1 17h0m2 8h0m0-51h0m0 58h0m1-40h0m2-5h0m0 48h0m1-3h0m2-1h0m0-20h0m1-53h0m0 16h0m1 27h0m0 0h0m0-41h0m3 67h0m1-55h0m0 39h0m0-45h0m1 50h0m0-58h0m0 8h0m1 20h0m0 4h0m1-17h0m0 26h0m2-29h0m0 57h0m0-21h0m1-17h0m3 0h0m0 32h0m0-49h0m0 47h0m1-63h0m2 22h0m0 40h0m1-21h0m0-36h0m0 66h0m1-33h0m1 25h0m1-51h0m2 40h0m1-9h0m1 13h0m0-1h0m0-25h0m0-26h0m1 0h0m0 21h0m0-5h0m1-9h0m1 53h0m0-12h0m1-29h0m5 38h0m5-49h0m1 60h0m3-43h0m0 31h0m1-42h0m1 0h0m2 5h0m8 10h0m3 1h0m8 9h0m0-9h0m0-19h0m1 64h0m0-69h0m0 11h0m3 20h0m2-24h0m1 33h0m5-31h0m3 19h0m8-14h0m0 11h0m5-8h0m1 26h0m1 23h0m4-66h0m-293 113h0m8-12h0m7 15h0m1-21h0m9-5h0m15 0h0m1 15h0m1-5h0m8-13h0m11 45h0m1-19h0m1 2h0m6-45h0m1 1h0m3 69h0m2-21h0m1-1h0m0-23h0m0 13h0m2 41h0m0-34h0m2-5h0m2 14h0m2-22h0m1 23h0m1 5h0m3-9h0m0 9h0m1 15h0m0-10h0m2 12h0m1-9h0m0 1h0m1-45h0m1 35h0m0 21h0m2-38h0m2 4h0m2-10h0m0-21h0m0 15h0m0 28h0m1-35h0m1-3h0m0 20h0m0-2h0m0-9h0m2 16h0m0-4h0m1-31h0m1 57h0m2-19h0m0-47h0m1 64h0m0-9h0m0-47h0m1 1h0m1 29h0m0 6h0m3 32h0m1 1h0m1-53h0m0 54h0m1-11h0m1-32h0m0-36h0m1 58h0m1-19h0m0-15h0m0 3h0m0 30h0m0-52h0m2 64h0m3-58h0m0 6h0m1 11h0m0-21h0m1 56h0m0 6h0m1-17h0m2-21h0m0 19h0m1-36h0m0 59h0m0-12h0m0-21h0m1-37h0m0 52h0m1-9h0m0-10h0m0-10h0m1 6h0m2 46h0m0-71h0m1 53h0m2-34h0m0-21h0m3 6h0m0 31h0m1 28h0m2-33h0m0 8h0m2 15h0m1-37h0m0-19h0m1 25h0m0-7h0m0 21h0m0 24h0m1-30h0m0-3h0m1-16h0m1 48h0m0-23h0m3-29h0m1 9h0m1-4h0m0 11h0m0-15h0m0-11h0m1 0h0m0 19h0m0 13h0m0 16h0m1-7h0m0-5h0m1-38h0m1 11h0m1 11h0m2 5h0m0 0h0m0 8h0m2-5h0m0 25h0m0-47h0m3 17h0m0-21h0m1 30h0m0-6h0m3 3h0m4 29h0m2-60h0m1 42h0m1 34h0m3 2h0m2-50h0m1-10h0m2 22h0m3-5h0m2-9h0m0 22h0m0-3h0m0-37h0m0 50h0m1-19h0m0 8h0m1-47h0m0 55h0m2-2h0m0 2h0m2 19h0m1-4h0m1-24h0m0 26h0m1-53h0m8 42h0m1-35h0m1-20h0m11 28h0m5-10h0m1 51h0m0-75h0m1 1h0m1 64h0m0-46h0m2 10h0m4-5h0m2 41h0m2-37h0m2-20h0m5 2h0m2 22h0m3-7h0m5 14h0m2 36h0m2-5h0m5-57h0m0 7h0m4-22h0m1 23h0m0 45h0m1-61h0m10 5h0m-362 122h0m11-15h0m5-20h0m1 25h0m2-5h0m2 4h0m1-26h0m1 35h0m1-38h0m0 21h0m2-15h0m5 14h0m132-28h0m2 2h0m0-6h0m2 2h0m0-3h0m9-1h0m2 17h0m0-4h0m0-5h0m9 4h0m0-12h0m4 11h0m5 7h0m0-6h0m0-5h0m3 23h0m3-29h0m1 0h0m0 26h0m9 6h0m4-20h0m2 45h0m2-51h0m2 24h0m0-16h0m3 43h0m1 15h0m2-9h0m1-53h0m0 19h0m2 42h0m0-60h0m1 4h0m1-2h0m6 2h0m2 13h0m3 19h0m0 16h0m2 5h0m0-58h0m2 61h0m1 6h0m0-54h0m0-18h0m0 19h0m2 26h0m1-50h0m1 25h0m4-23h0m0 62h0m0-30h0m2-35h0m3 15h0m2-7h0m2-5h0m4 4h0m1-4h0m4 6h0m6 47h0m0-48h0m2-1h0m4 35h0m5-26h0m4 2h0m11 56h0m0-70h0m1 66h0m5-49h0m1 43h0m10 5h0m2-9h0m6 17h0m12-71h0m5 10h0m-119 98h0m4 3h0m2 26h0m2-19h0m1 14h0m7-19h0m5-7h0m2 21h0m0-15h0m1 26h0m5-1h0m2-42h0m1 22h0m1 17h0m3-21h0m1-22h0m0 22h0m1 32h0m3-25h0m0-19h0m4 42h0m3-59h0m0 60h0m6-52h0m4 40h0m0 0h0m1-25h0m2 13h0m1-7h0m1 13h0m1 6h0m3-2h0m1-22h0m1 26h0m1 17h0m2-27h0m2-44h0m1 47h0m0 25h0m4-77h0m2 31h0m2-25h0m1 27h0m4-4h0m0 22h0m0 7h0m0-14h0m5-1h0m3-1h0m0-30h0m1 66h0m3-12h0m5 11h0m4-1h0m8-15h0m10-10h0m0 21h0m441-62h0m-858 145h0m2 2h0m16-27h0m3 5h0m4-10h0m2 29h0m3 1h0m9-36h0m15 1h0m20 4h0m8 31h0m233-75h0m22 1h0m8 10h0m17 0h0m28 7h0m1-9h0m5 23h0m2 2h0m16-29h0m3 8h0m1 3h0m14 26h0m1 3h0m1-11h0m3-17h0m1 3h0m3 0h0m2 54h0m0-16h0m0-10h0m1 20h0m3 0h0m17-36h0m1 5h0m10 2h0m1 12h0m4-1h0m1 0h0m5-4h0m1-1h0m3-6h0m13 27h0m3 0h0m0-7h0m2-7h0m2 13h0m3 3h0m-505 19h0m4 14h0m17-6h0m6-12h0m255 152h0m238-55h0m6-6h0m6 63h0m23-2h0m4-11h0m6 15h0m3-37h0m9-28h0m10 36h0m2-7h0m4 23h0m5-38h0m14 21h0m64 19h0m16 0h0m-522 77h0m7-15h0m7-2h0m3-7h0m4 8h0m8-5h0m1 20h0m2-17h0m1 7h0m1 2h0m11-2h0m0 12h0m7-4h0m6-19h0m14 19h0m9 2h0m1-10h0m4 6h0m8 4h0m14 11h0m1-29h0m3-15h0m3-11h0m5-2h0m7 47h0m2-4h0m1 14h0m2-16h0m1-40h0m1 0h0m7 1h0m1 15h0m5 2h0m6 13h0m11 2h0m4 23h0m9-6h0m0-26h0m8-6h0m5 17h0m20 0h0m9 11h0m11 8h0m2-2h0m0-16h0m10 12h0m2 9h0m1-6h0m2-2h0m10-3h0m12 11h0m21-70h0m81 12h0m0 5h0m10 20h0m64-36h0m46 17h0m14-23h0m0 21h0m-492 58h0m14-1h0m7 10h0m32 17h0m2-16h0m5-10h0m5 37h0m0 0h0m2 10h0m5 11h0m4-55h0m3 42h0m1-18h0m2-15h0m0 18h0m1-14h0m6 60h0m4 3h0m4-50h0m5-16h0m1 61h0m0-55h0m4 46h0m2-39h0m8 43h0m9 6h0m1-32h0m2 29h0m12-61h0m0-5h0m1-2h0m2 64h0m6-56h0m4 14h0m2 9h0m2-29h0m3 24h0m1-14h0m6 21h0m3-25h0m0 25h0m2-38h0m1 22h0m1-7h0m2-14h0m7 40h0m5-23h0m1 58h0m2-67h0m1 61h0m1-44h0m1-19h0m1 50h0m3 13h0m2 1h0m6 5h0m1-11h0m2 14h0m6-12h0m2 12h0m27-69h0m8-5h0m-167 122h0m1-43h0m18 47h0m5-29h0m4-13h0m4-5h0m1 0h0m4-2h0m2 39h0m10-13h0m10-24h0m6 8h0m3 11h0m4-5h0m8-6h0m0 23h0m4 1h0m1-5h0m1 3h0m1-28h0m7-6h0m2 1h0m4 32h0m1-16h0m2 25h0m2-35h0m2-6h0m1 40h0m2-18h0m4-12h0m0-3h0m3 9h0m1 30h0m1-23h0m0-17h0m0 29h0m2-2h0m3-20h0m0 12h0m3-22h0m0-3h0m1 6h0m2 22h0m1 2h0m4-27h0m-109 84h0m14 4h0"/><path stroke="#0000ff" d="M554 136h0m43 16h0m39-25h0m-135 102h0m33-24h0m3 29h0m8-72h0m35 23h0m8 21h0m2-15h0m8 22h0m12-18h0m30 21h0m-121 49h0m19 13h0m27 22h0m67 17h0m-81 44h0m4-2h0m38 20h0m12-3h0m1-46h0m16-8h0m3 33h0m1 28h0m23-62h0m449 68h0m13 0h0m14 8h0m-576 75h0m5-28h0m16 34h0m40-44h0m1 15h0m2 12h0m3 7h0m6-15h0m6 24h0m1-28h0m2-8h0m6 2h0m1-4h0m3 8h0m11-26h0m4 5h0m5 33h0m447-58h0m31 23h0m2 3h0m4-5h0m-904 137h0m6-10h0m20-13h0m11-1h0m5 8h0m13-15h0m5-1h0m278-40h0m51 12h0m19 16h0m17-27h0m11 15h0m5 11h0m13-4h0m1 39h0m4-12h0m7 6h0m7-37h0m4 28h0m10-37h0m6 35h0m6-11h0m15-1h0m2-11h0m16 6h0m-533 49h0m5 7h0m26-3h0m2-5h0m5 18h0m2 10h0m6-26h0m410-5h0m-202 116h0m3-6h0m3-9h0m0 6h0m0 10h0m1-17h0m0 20h0m1-12h0m2-15h0m0 44h0m0-18h0m1 16h0m0-8h0m0-19h0m2 19h0m0-19h0m0-13h0m0 19h0m1 15h0m0 0h0m0-22h0m0 25h0m2-27h0m1 25h0m0 4h0m1 5h0m1 15h0m0-54h0m1 17h0m2 25h0m0-34h0m0-23h0m0 1h0m0 43h0m1 2h0m0-24h0m3 1h0m0 40h0m1-51h0m0-2h0m0 63h0m0-49h0m2 24h0m1-13h0m0-5h0m1-25h0m1 55h0m1-38h0m1 27h0m1 7h0m1-49h0m1-2h0m0 52h0m1-27h0m1 36h0m0-10h0m4-16h0m0-3h0m0 8h0m1-33h0m0 3h0m0 1h0m2-3h0m0 42h0m1-36h0m0 20h0m0-25h0m1 16h0m1-4h0m1 18h0m2-15h0m4-7h0m1 16h0m2 2h0m22 18h0m3-25h0m11 7h0m285-6h0m5-8h0m1 21h0m1-26h0m4 19h0m1-7h0m2 7h0m1-4h0m1 4h0m9 1h0m0-4h0m0 4h0m1-10h0m1-2h0m1 3h0m0 3h0m3-17h0m-423 69h0m11 0h0m3 6h0m10 2h0m7-10h0m1 2h0m0 9h0m2-17h0m140 54h0m1 16h0m6 5h0m4-33h0m5 27h0m2-17h0m11 7h0m2 14h0m11-4h0m-52 51h0m4-44h0m6 3h0m15 5h0m-50 111h0m4-7h0m1-13h0m4-12h0m1 3h0m1 18h0m5-16h0m1 10h0m1 26h0m13-25h0"/><path stroke="#ff0000" d="M596 127h0m25 6h0m12-19h0m3-8h0m5 17h0m1-14h0m6 32h0m4-12h0m3 15h0m2 6h0m5 3h0m4-17h0m4 14h0m0 7h0m-121 60h0m16-37h0m11-4h0m15 7h0m4 37h0m8-37h0m6 0h0m5 35h0m14-17h0m4 30h0m7-7h0m5 11h0m2 4h0m11-36h0m4-19h0m1 25h0m2-29h0m1-19h0m1 65h0m1-2h0m3-59h0m2 25h0m0-7h0m4 23h0m1 19h0m1-45h0m7 15h0m-93 125h0m10-74h0m21 63h0m2-4h0m2-14h0m4-38h0m6 25h0m4-37h0m7 57h0m5-14h0m2-16h0m2-28h0m1 6h0m4 28h0m3-22h0m-86 94h0m6 0h0m2 14h0m9-19h0m11 28h0m9-45h0m4 20h0m4 33h0m11-7h0m6 18h0m6-64h0m2 14h0m5-8h0m3 12h0m3-2h0m-47 84h0m3-4h0m4-5h0m0 22h0m2 2h0m11 34h0m8-51h0m20 39h0m37-7h0m1-6h0m-455 98h0m14 2h0m24-17h0m49 3h0m304-42h0m1-8h0m9-1h0m17 0h0m24 32h0m34 18h0m4-7h0m23 9h0m25-30h0m9 2h0m5 6h0m-373 258h0m8 18h0m2-10h0m1 8h0m3-18h0m6 4h0m1 10h0m7-15h0m19 29h0m108 67h0m49-1h0m3 9h0m-66 20h0m7 5h0m8 31h0m9-24h0m12-9h0m2 31h0"/><path stroke="#ffff00" d="M562 111h0m11 14h0m8 1h0m20 23h0m30-28h0m2-18h0m20 15h0m3 25h0m6 9h0m-55 23h0m50 47h0m2-16h0m3 33h0m4-28h0m1-44h0m3 51h0m0-44h0m0 39h0m4-1h0m0 8h0m1-49h0m8 54h0m-79 87h0m30-46h0m2 7h0m18-24h0m0 30h0m2-24h0m9 14h0m7 3h0m-121 91h0m82-18h0m25-20h0m-38 75h0m81 133h0m17 21h0m30-17h0m27-27h0m6 137h0"/><path stroke="#8a2be2" d="M384 132h0m1-17h0m1 27h0m28-27h0m49 37h0m2-38h0m12 38h0m30 1h0m0-5h0m4 9h0m5-3h0m1-8h0m4 12h0m2-13h0m2 13h0m1-1h0m2 1h0m4-7h0m0-12h0m1 11h0m6-4h0m0 4h0m1-10h0m0 20h0m0-10h0m1-21h0m3 21h0m1-26h0m0-1h0m1 15h0m2 21h0m0-31h0m0 0h0m2 26h0m0-55h0m1 31h0m0 4h0m0 16h0m1-21h0m2 16h0m1-34h0m0 21h0m0-20h0m1 20h0m1-15h0m1 21h0m0 20h0m3-55h0m0 15h0m1 9h0m1 17h0m1 14h0m0-18h0m0-19h0m3 31h0m0-35h0m2-17h0m3 18h0m3-11h0m3 41h0m1-3h0m1-15h0m2-27h0m2 55h0m0-29h0m2-16h0m2 46h0m0-17h0m1 4h0m1-7h0m1-19h0m0 29h0m1-12h0m2-10h0m1-18h0m3 32h0m1-2h0m1-39h0m1 58h0m1-29h0m4-24h0m0 28h0m4 14h0m1-27h0m1 31h0m2 1h0m1-24h0m1 4h0m4 12h0m5-16h0m0-30h0m3 57h0m2-41h0m0 19h0m7-24h0m5 31h0m2-13h0m1-18h0m1 27h0m0 14h0m0-35h0m3 14h0m3 20h0m9-12h0m3 13h0m16 0h0m-275 31h0m1 12h0m13 15h0m1 16h0m9-14h0m7 12h0m0-5h0m0-9h0m0 21h0m5 5h0m14-15h0m2 0h0m5 16h0m1-13h0m4-6h0m4 13h0m10-34h0m3 26h0m5-10h0m4-11h0m6 9h0m1 12h0m1 13h0m3-23h0m1-50h0m0 37h0m0 13h0m0-29h0m1 47h0m1-28h0m0 21h0m1-29h0m1 16h0m0-46h0m0 62h0m1 12h0m0-32h0m0-37h0m1 55h0m3-54h0m0 59h0m1-46h0m0 4h0m0-6h0m1 9h0m0-9h0m1 17h0m0-30h0m1 0h0m1-6h0m1 49h0m1-48h0m2 69h0m1-38h0m0-16h0m0-8h0m0 49h0m0-27h0m1-16h0m0-3h0m2 43h0m0-3h0m0-18h0m1-22h0m0-11h0m0 0h0m1 8h0m0 59h0m0-29h0m1 20h0m1 21h0m0-49h0m0 38h0m2 10h0m0-71h0m0-5h0m2 3h0m0 35h0m2 5h0m0 21h0m0 5h0m1-36h0m0-6h0m1-4h0m0 4h0m1-27h0m0 40h0m0-23h0m0 45h0m2-34h0m1 44h0m2-28h0m0 1h0m1 18h0m1-33h0m1-21h0m2-3h0m2 52h0m0-47h0m1 47h0m2 1h0m1 16h0m0-17h0m0-40h0m1-5h0m1-13h0m1 68h0m0-17h0m0-53h0m1 64h0m2-12h0m0-3h0m4-46h0m0 55h0m3-51h0m2 26h0m2-18h0m1 1h0m0-4h0m0 19h0m4-13h0m2 59h0m0-40h0m1 15h0m0 23h0m2-51h0m0 15h0m1 30h0m1 7h0m0-6h0m1-21h0m0-27h0m0 42h0m0-57h0m1 44h0m2-1h0m2-37h0m0 7h0m1-7h0m1 9h0m1 6h0m2 22h0m1-3h0m1-27h0m0 34h0m1-40h0m2 4h0m1 29h0m1 6h0m0-49h0m1 39h0m1 14h0m1-51h0m1 35h0m2-40h0m1 22h0m2 3h0m1-8h0m0-18h0m2 66h0m0-5h0m0-42h0m2-16h0m0 7h0m1 41h0m2-30h0m1 6h0m1-18h0m0-8h0m1 9h0m1 30h0m2 26h0m0-64h0m2 64h0m1-51h0m1 13h0m1-4h0m0 45h0m3-54h0m0 19h0m2 10h0m0-20h0m2-18h0m2 12h0m0 46h0m1-52h0m1-12h0m0 54h0m1 23h0m1-51h0m0 9h0m1 15h0m2-35h0m5-15h0m3 51h0m12-28h0m1 3h0m5 29h0m6-36h0m-301 93h0m18 4h0m3 19h0m8-39h0m4 27h0m7-11h0m6-7h0m0-26h0m3 32h0m20 19h0m5-27h0m2 33h0m0 14h0m1-39h0m2 5h0m1 17h0m1 8h0m1-17h0m0 16h0m2-34h0m5 34h0m1-11h0m3 2h0m0 27h0m1-41h0m1 16h0m1-5h0m1-20h0m0 10h0m3-14h0m0 36h0m1 16h0m2-32h0m0 31h0m1-12h0m2 3h0m0-26h0m1 34h0m1-17h0m0 18h0m3-17h0m2-26h0m1-11h0m0 22h0m2-2h0m0-13h0m3 8h0m1 14h0m3 1h0m0-2h0m0-34h0m0 38h0m0-23h0m1-25h0m0-5h0m1 65h0m0 2h0m1-31h0m1-16h0m2-1h0m1 26h0m1-3h0m0 11h0m1-54h0m2 5h0m1 22h0m1-21h0m1 3h0m0 56h0m2-2h0m0-19h0m0-7h0m1-37h0m1 21h0m1-18h0m0 45h0m1 14h0m0 8h0m1-25h0m0-41h0m0 53h0m0 19h0m1-5h0m0-66h0m1 10h0m0 8h0m0 10h0m1 24h0m2-50h0m1 69h0m1-3h0m0-26h0m1 26h0m0 1h0m0-32h0m0-18h0m1-16h0m0 60h0m1-1h0m0-40h0m1-13h0m2 2h0m1 48h0m0-13h0m0-31h0m2-8h0m1 0h0m0-8h0m1 9h0m0 21h0m2-21h0m0 33h0m1-44h0m1 59h0m0 9h0m0-23h0m1-33h0m1 33h0m1 21h0m0-2h0m1-30h0m1 27h0m0-43h0m0 7h0m0 5h0m5 6h0m4-13h0m1 15h0m0-22h0m1 25h0m0-30h0m1 40h0m0-43h0m0-1h0m1 67h0m0-44h0m2-12h0m0 24h0m1 20h0m0-38h0m1 4h0m0 3h0m1 2h0m1 25h0m0-58h0m1 42h0m2 34h0m0-2h0m2-74h0m1 55h0m2-3h0m2-33h0m1-4h0m1 32h0m0 4h0m0 9h0m1 14h0m1-18h0m0-43h0m0 6h0m2 10h0m1-14h0m1-1h0m1-14h0m2 53h0m0-42h0m0 12h0m1 35h0m0-41h0m1 43h0m0 7h0m0-40h0m1-10h0m6 0h0m1 2h0m5-7h0m1 65h0m3-50h0m0 10h0m2-20h0m2 57h0m7-17h0m2-51h0m6-2h0m3 21h0m1-22h0m9-3h0m0 71h0m3-25h0m3-21h0m3 25h0m2-8h0m-350 88h0m4-14h0m8-15h0m1 5h0m1 27h0m3-4h0m4-12h0m0-7h0m0-1h0m2 3h0m2 12h0m0-10h0m0 5h0m1-24h0m3 5h0m2 28h0m0-20h0m8 2h0m5-11h0m134-19h0m2 9h0m2 1h0m5-2h0m2-4h0m0 2h0m0-7h0m1 17h0m3 3h0m2 2h0m2-18h0m2-2h0m0 2h0m5 8h0m0-10h0m0 6h0m3-4h0m4 3h0m1 24h0m10-10h0m1 9h0m0-11h0m1-3h0m1-12h0m2 7h0m5-11h0m3 38h0m0-4h0m3-24h0m1 1h0m2 1h0m3 26h0m1 10h0m3-33h0m1-15h0m1 8h0m2 70h0m0-46h0m7-24h0m0 13h0m7 50h0m0-67h0m1-4h0m7 0h0m0 3h0m1 7h0m2 67h0m2-2h0m0-61h0m1 0h0m1-14h0m0 37h0m2-33h0m3 10h0m9-5h0m5 63h0m3-9h0m0-34h0m1-26h0m1 9h0m2 53h0m0-1h0m1-52h0m1 13h0m4 1h0m9 44h0m7 9h0m0-59h0m2 38h0m3 15h0m0-29h0m2-22h0m0 25h0m1 22h0m6-66h0m1 2h0m2 5h0m1 3h0m1 36h0m-118 36h0m3 10h0m9 12h0m1 44h0m9-32h0m2-31h0m1 53h0m0-24h0m2 12h0m2 6h0m2 13h0m0-9h0m2-45h0m0 36h0m4-33h0m0 21h0m2 2h0m3-25h0m11 2h0m2 28h0m2 21h0m3 13h0m1-59h0m1-3h0m11 11h0m0 48h0m0-75h0m0 25h0m2-8h0m2 22h0m0 29h0m3 6h0m1-27h0m1-14h0m1 10h0m1-9h0m3 10h0m1-40h0m0-5h0m1 49h0m0-30h0m2 24h0m0 8h0m1 22h0m5-21h0m4-52h0m2 74h0m2-22h0m1-20h0m5 47h0m1-40h0m3 2h0m1-23h0m3 33h0m0-35h0m0 25h0m1 2h0m1-26h0m1 20h0m2 34h0m1-4h0m0-4h0m21 0h0m469-40h0m-902 135h0m3-11h0m4 4h0m3 5h0m18 1h0m13 2h0m11-44h0m0 43h0m14-2h0m262-75h0m21-2h0m18 14h0m9-3h0m3 3h0m18 17h0m2-26h0m0-3h0m1 3h0m5-3h0m4 31h0m4-25h0m9-7h0m3 16h0m6 15h0m6 14h0m1-22h0m0 21h0m4 25h0m1-56h0m4 52h0m2-2h0m3 6h0m2-21h0m9-40h0m3 54h0m11 4h0m0-26h0m5 29h0m10-21h0m9-15h0m0 21h0m3 4h0m6-5h0m0 10h0m0-23h0m7 18h0m5-27h0m20 3h0m-529 63h0m8 11h0m3-20h0m24 7h0m468 141h0m16-61h0m7 11h0m4 48h0m14-48h0m10 44h0m8-43h0m13-12h0m22 49h0m7 1h0m-434 89h0m6-3h0m4-15h0m4-15h0m2 0h0m2 23h0m2 3h0m0 7h0m2-38h0m2 17h0m1 19h0m7-3h0m2 0h0m3-14h0m2 10h0m4-7h0m29-2h0m8 18h0m1-32h0m5 36h0m9-25h0m5 25h0m0-20h0m11 17h0m0-31h0m0-6h0m5 28h0m6-33h0m3 38h0m1-57h0m3 14h0m2 45h0m2-8h0m5 13h0m2-62h0m7 60h0m0-6h0m1-53h0m1 47h0m5 4h0m31-4h0m0 8h0m16-8h0m1-26h0m18 26h0m4 15h0m7-6h0m6-6h0m2-14h0m7 20h0m3-3h0m1 8h0m3-6h0m2-11h0m7 2h0m23-7h0m41-50h0m1 0h0m34 24h0m3-11h0m2 7h0m14 10h0m48-3h0m24-11h0m8-19h0m2 4h0m35-4h0m-486 89h0m11-4h0m2 0h0m9 5h0m7 0h0m25-6h0m8 4h0m3 33h0m3-25h0m2-5h0m0 0h0m1 59h0m0-69h0m2-3h0m0 14h0m1 19h0m0-24h0m3-1h0m2 22h0m0 6h0m1-13h0m1-14h0m0 26h0m1-24h0m2 11h0m9 42h0m0-28h0m1-5h0m0-10h0m5 11h0m2-15h0m0 9h0m0 22h0m10 27h0m1-44h0m1 25h0m5 22h0m2-42h0m0 1h0m13-34h0m1 58h0m16-8h0m4 24h0m1-21h0m0-42h0m0-4h0m2-7h0m1 32h0m6 37h0m1-6h0m2-33h0m1 36h0m3-15h0m5 11h0m1-13h0m5-1h0m4 17h0m6 4h0m0-61h0m2 41h0m3 10h0m1-11h0m3 26h0m0-43h0m3 34h0m0-64h0m1 61h0m1-61h0m-133 95h0m11-15h0m13 48h0m15-37h0m5 57h0m0-53h0m5 51h0m10-25h0m3-3h0m2-34h0m3 1h0m2 5h0m0 20h0m1-3h0m3-20h0m1 18h0m1 21h0m2-44h0m4 3h0m11 23h0m0 10h0m1-8h0m1-14h0m8-20h0m2 3h0m3-4h0m1 9h0m0 2h0m4 2h0m1 24h0m1-29h0m2-2h0m0 16h0m2 18h0m1-36h0m4 46h0m3-3h0m2 0h0m4 2h0m1-18h0m9-12h0m2-6h0m1-3h0m-107 87h0m11-4h0"/><path stroke="#00ff00" d="M410 122h0m32-10h0m30 31h0m30 16h0m12-35h0m8-5h0m12 8h0m6-10h0m2 4h0m1 15h0m2 0h0m1-29h0m3 44h0m4 5h0m0-22h0m0-7h0m3-11h0m1 43h0m2-51h0m0-10h0m2 11h0m1 29h0m1 4h0m1 3h0m0-6h0m1-30h0m1 29h0m1-5h0m5-20h0m1 12h0m0 27h0m1-27h0m0-17h0m1-12h0m5 3h0m0 21h0m2 11h0m1 28h0m1-9h0m0-10h0m3-35h0m0 44h0m0-3h0m2 7h0m1 6h0m0-50h0m1-5h0m0 39h0m1-17h0m0-17h0m1 31h0m1-17h0m0-14h0m4 37h0m0 6h0m3-49h0m0-1h0m3 55h0m2-48h0m3 2h0m1-7h0m1-8h0m0 18h0m0 20h0m3-14h0m1 16h0m2-17h0m2 35h0m3-18h0m4 1h0m3-23h0m1 11h0m1-16h0m1 39h0m0-13h0m0-17h0m2 15h0m0-30h0m2 9h0m0 15h0m1 16h0m1-36h0m2 46h0m1-18h0m3 11h0m1 9h0m1-11h0m4-31h0m0 22h0m0 9h0m1 14h0m2-30h0m9 25h0m2-22h0m-279 80h0m38-19h0m28 33h0m14 9h0m9-62h0m36 15h0m3-2h0m1 26h0m0-32h0m3 49h0m1-31h0m2 20h0m2-25h0m0 15h0m2 6h0m1 11h0m0 16h0m7-10h0m2-70h0m4 13h0m1-5h0m1 40h0m2 27h0m6-31h0m1-34h0m0 32h0m2 34h0m1-42h0m0-34h0m1 65h0m0-26h0m0 23h0m0 4h0m2-29h0m0 30h0m0-12h0m3-17h0m1 9h0m0-19h0m1 12h0m1 23h0m0-7h0m1 18h0m1-20h0m1-9h0m0 11h0m2-33h0m0 10h0m1 38h0m3 5h0m1-27h0m2 2h0m1-32h0m1 4h0m0 44h0m1-12h0m0-34h0m0 8h0m0 18h0m0-25h0m2 0h0m1-21h0m2 4h0m0 24h0m1 4h0m0-8h0m2-8h0m0 19h0m1 35h0m1 7h0m1-16h0m1-35h0m0-6h0m0 29h0m1 0h0m1-7h0m1 17h0m1-18h0m0-26h0m0 25h0m1-17h0m1 22h0m0 3h0m1 22h0m1-30h0m0-31h0m0-1h0m0 25h0m4 42h0m0-46h0m0 26h0m2-22h0m0 17h0m3-15h0m1 28h0m3-32h0m0-9h0m1-10h0m0 27h0m0 30h0m2 4h0m1-46h0m1 38h0m1 4h0m0-33h0m1-31h0m4 4h0m0 14h0m1-12h0m1 45h0m0-46h0m1 14h0m2 35h0m1-36h0m0 0h0m2 35h0m2-43h0m1-4h0m1 12h0m1 3h0m0 39h0m0-63h0m1 59h0m0-59h0m0 53h0m1-9h0m3-27h0m0 5h0m1-19h0m2-1h0m0 63h0m2-41h0m1 51h0m0-72h0m3 25h0m1-27h0m0 39h0m1 3h0m0 30h0m2-46h0m1 7h0m4-1h0m1 32h0m0-44h0m2 26h0m0 0h0m3-29h0m1-1h0m1 32h0m0-44h0m0 67h0m6-3h0m1-59h0m1 29h0m9-9h0m-269 102h0m6-21h0m7 11h0m8 20h0m35-14h0m3-49h0m2 30h0m3 26h0m9-30h0m2-8h0m8 7h0m5 20h0m1-17h0m0 13h0m4-38h0m3 38h0m7-29h0m0-14h0m7 63h0m7 5h0m2-19h0m2-27h0m0 41h0m0-38h0m7 13h0m1 28h0m3-31h0m3-16h0m5 5h0m2 35h0m1-52h0m0 4h0m5 12h0m1-23h0m0 50h0m0-6h0m6-11h0m0 7h0m1-9h0m1-29h0m0 33h0m1 19h0m1-13h0m1-34h0m1-3h0m2 73h0m0 1h0m4-30h0m0-17h0m7 4h0m3-21h0m3-7h0m0-2h0m1 61h0m0-46h0m1-7h0m1 61h0m1-51h0m2 44h0m4 10h0m2-61h0m1 5h0m1 48h0m0-42h0m1-18h0m0 7h0m2-6h0m1 49h0m0-56h0m2 60h0m2-57h0m3 30h0m6 26h0m0 0h0m0 16h0m1-61h0m2 0h0m4 25h0m0-13h0m0 49h0m1-28h0m0-18h0m0 22h0m1 12h0m1-22h0m0-17h0m0 38h0m1-48h0m0 62h0m3-9h0m2-19h0m1-29h0m7 41h0m0-12h0m5-17h0m5 25h0m16-55h0m-189 88h0m6-9h0m44 35h0m1-27h0m4 29h0m6-36h0m1 16h0m1-17h0m1 35h0m4-2h0m1 9h0m3-24h0m1 53h0m1-68h0m4 13h0m0-18h0m4 13h0m3-8h0m1-1h0m1 27h0m10-31h0m2 62h0m0-53h0m2-1h0m5 3h0m2 5h0m0 26h0m0 3h0m1-24h0m0-15h0m1 15h0m1 18h0m1 0h0m0-4h0m3 9h0m0-5h0m0 40h0m1-75h0m2 12h0m4 20h0m0-35h0m2 26h0m1 22h0m1 28h0m0-34h0m8 32h0m1-35h0m1 32h0m1-20h0m6-38h0m3-10h0m0 63h0m0-67h0m0 53h0m1 8h0m3-24h0m0-3h0m3 38h0m0-37h0m1-26h0m0 44h0m0 11h0m1 6h0m0-12h0m1-47h0m1 41h0m1 12h0m0-10h0m3-38h0m1 38h0m1 9h0m1-36h0m2 24h0m0-46h0m1 21h0m0 3h0m4-6h0m7-17h0m1 11h0m438 52h0m-561 60h0m1 5h0m0-7h0m4-28h0m6 27h0m1 0h0m1-38h0m1 59h0m2 8h0m1-5h0m0-52h0m1-7h0m0-9h0m0 68h0m1-59h0m0 65h0m1-17h0m1 6h0m0-50h0m0 1h0m3 5h0m1-4h0m0 10h0m2 26h0m2-47h0m3 22h0m1 24h0m0 6h0m0 11h0m1-8h0m2-3h0m0-54h0m0 4h0m2 67h0m1-31h0m0-7h0m1 27h0m2-56h0m0 45h0m0 24h0m1-14h0m1-30h0m1-9h0m4 39h0m0-35h0m3 7h0m3 10h0m0 3h0m0-33h0m2 16h0m2 26h0m0-16h0m2 29h0m0-8h0m0-43h0m1 1h0m0-1h0m1 26h0m2 11h0m3-32h0m1 52h0m0-7h0m1-60h0m3 66h0m0-41h0m0 35h0m1 2h0m0-40h0m3 40h0m0-6h0m0-22h0m1 13h0m2 5h0m3-4h0m1-35h0m1 45h0m1-20h0m0 0h0m1-36h0m1 23h0m0 14h0m2-48h0m3 15h0m0 45h0m0-32h0m1 8h0m1-21h0m5-13h0m5 8h0m2 30h0m0 9h0m2 24h0m1-12h0m3 9h0m0-4h0m2 11h0m1-1h0m0-40h0m0 3h0m1 0h0m2 21h0m6-2h0m23 17h0m6-20h0m421-53h0m8 10h0m1-7h0m1 11h0m1-15h0m3 23h0m0-22h0m9 12h0m-895 144h0m0-6h0m2-12h0m4 0h0m0 7h0m1-7h0m1-6h0m3 14h0m0-15h0m2 11h0m0 10h0m6-12h0m1-8h0m0 0h0m2 14h0m3 7h0m2 1h0m1 2h0m0-1h0m3-16h0m1 11h0m1-15h0m0-3h0m1 15h0m0-13h0m0-8h0m2 2h0m3-2h0m0 21h0m4-14h0m2 9h0m1 5h0m1-13h0m1 14h0m1 7h0m3 0h0m1-22h0m0-6h0m3-9h0m2 11h0m2-5h0m0 17h0m4 10h0m2-26h0m1 3h0m2 13h0m1 13h0m1-14h0m0 10h0m0-29h0m1 16h0m1 4h0m2-14h0m2 29h0m2-15h0m0-2h0m12-7h0m274-47h0m2-1h0m2 5h0m2 6h0m4 2h0m0-19h0m2 15h0m2-10h0m1 17h0m0-7h0m15-13h0m8 27h0m7-5h0m1-8h0m1 2h0m0 11h0m2-4h0m1 0h0m3-16h0m0 23h0m3-19h0m3 2h0m6 12h0m2 21h0m3-41h0m5 47h0m20 23h0m0-12h0m1-8h0m0 7h0m0 4h0m1-22h0m6 30h0m1-2h0m1-18h0m10 6h0m2-7h0m5 6h0m0-18h0m3-1h0m1 1h0m0 14h0m2-5h0m1 1h0m12 17h0m0-14h0m2-11h0m2 16h0m0-28h0m2 33h0m0-30h0m2 12h0m1-12h0m13 8h0m5-18h0m-536 57h0m3 4h0m3 9h0m1-7h0m1-4h0m0-6h0m2 14h0m1-3h0m0 10h0m3-19h0m2 10h0m6 12h0m0-1h0m4-5h0m1-6h0m4-3h0m1 20h0m2 2h0m1-19h0m1 8h0m1-7h0m6-11h0m0 7h0m5 7h0m2-15h0m1 5h0m9-5h0m0 7h0m2 0h0m0-1h0m10 0h0m192 84h0m24 17h0m0 30h0m1-18h0m3-26h0m4 60h0m16-41h0m1-3h0m1 7h0m1 29h0m1-37h0m2 28h0m1-38h0m1 25h0m1-18h0m0 18h0m1 31h0m0-46h0m2 11h0m1-8h0m0 5h0m1-2h0m0-14h0m0 29h0m1-26h0m0-3h0m1 54h0m0-48h0m0 43h0m4-27h0m0 0h0m1 19h0m1-6h0m0-7h0m1-7h0m1 31h0m0-30h0m1 12h0m1-15h0m0-11h0m1 12h0m0-5h0m0 9h0m1 26h0m0-56h0m0 47h0m0-5h0m0 22h0m1-40h0m0 27h0m0-13h0m1-1h0m0 3h0m0-15h0m0-17h0m1 41h0m0-22h0m1 21h0m2-42h0m1 43h0m1 2h0m0-44h0m2-6h0m0 48h0m0-26h0m0 34h0m1-22h0m0 19h0m1-16h0m0-16h0m1-3h0m1 18h0m0 14h0m0-36h0m1-9h0m0 45h0m1-1h0m0-8h0m1 12h0m0-43h0m0 18h0m1-9h0m1 34h0m0-30h0m1 17h0m0-29h0m0 0h0m1 30h0m0-14h0m0-23h0m0 22h0m1 7h0m2 22h0m1 7h0m1-3h0m2-43h0m1 33h0m0-22h0m0 3h0m1-25h0m1 34h0m1-41h0m1 43h0m2-24h0m0 0h0m1 13h0m0-8h0m0 5h0m1 21h0m0 0h0m0-18h0m1 16h0m2-17h0m1-5h0m0 12h0m1 15h0m1-5h0m0-18h0m1-5h0m0-10h0m1 20h0m0 8h0m1-27h0m1 20h0m0 25h0m1-62h0m0 7h0m1 44h0m0-9h0m1 18h0m0-47h0m2 51h0m0-53h0m1 20h0m2-21h0m0 31h0m1 4h0m1 6h0m1-44h0m1 60h0m0-3h0m0-50h0m1 18h0m1-7h0m0 11h0m0-26h0m1 14h0m1 21h0m0-19h0m1-14h0m0 20h0m1-6h0m0 7h0m1 23h0m0-39h0m0 15h0m1-10h0m0 7h0m1 26h0m0-11h0m1 22h0m0-26h0m4-21h0m0 16h0m0 26h0m1-19h0m0 20h0m2-12h0m1 9h0m64 5h0m2-1h0m4-5h0m1 5h0m1-2h0m1-5h0m2-3h0m7 11h0m6-4h0m1-8h0m13 6h0m1-10h0m4 18h0m6-1h0m1-13h0m0 11h0m2-54h0m2 47h0m5-46h0m4 43h0m11 5h0m4-7h0m1 8h0m1-5h0m4 0h0m1-3h0m1-8h0m1 14h0m0 10h0m3-5h0m2-41h0m0 13h0m1-12h0m2-5h0m0-11h0m0 51h0m1-47h0m1 30h0m1-25h0m0 37h0m0-39h0m1 53h0m0-36h0m0-23h0m1 50h0m0-41h0m2-11h0m0 57h0m1-25h0m1-15h0m0-8h0m0 37h0m0-17h0m0 9h0m1-12h0m0-27h0m1 5h0m0 40h0m1 11h0m1 5h0m0-11h0m0-30h0m1 1h0m1-6h0m0-15h0m0 31h0m4 0h0m0-12h0m1 22h0m0-17h0m1-1h0m0 3h0m0-17h0m1 15h0m0 9h0m3 17h0m1-8h0m3-22h0m0 29h0m0-13h0m0 14h0m2-39h0m0-4h0m2 55h0m1-19h0m2-27h0m2 12h0m3 14h0m2 13h0m2-45h0m0 48h0m1 2h0m1-26h0m0 9h0m0 7h0m1 2h0m4 0h0m5-11h0m24-19h0m36 13h0m-523 86h0m18 6h0m3 9h0m0-11h0m4 14h0m2-13h0m0 13h0m13-33h0m0 36h0m2-37h0m6 17h0m5-17h0m6 36h0m0-21h0m3 11h0m4-45h0m18 50h0m19-10h0m18-18h0m13 29h0m2 4h0m4-36h0m2-9h0m4 45h0m21-19h0m1-58h0m0 79h0m4-79h0m3 55h0m5-42h0m3 65h0m1-56h0m2-20h0m0 0h0m1 7h0m1 37h0m2-34h0m0 57h0m2-11h0m1-24h0m0 37h0m0 2h0m1-61h0m0 4h0m2 36h0m1-39h0m1 18h0m0-27h0m1 6h0m0 57h0m0-55h0m0-12h0m1 6h0m3 49h0m2 15h0m0-53h0m1-2h0m0 18h0m0-22h0m1-5h0m2 7h0m1-4h0m2 8h0m1 11h0m0 42h0m1-15h0m0-51h0m2 37h0m2 17h0m1-11h0m0-6h0m2-2h0m0-14h0m0 11h0m1-31h0m0-1h0m1 34h0m1-19h0m0-12h0m0 10h0m1 17h0m1-35h0m1 34h0m1 4h0m2-9h0m2-27h0m0 34h0m1 1h0m0-9h0m3 0h0m0-23h0m3 10h0m1-11h0m0 14h0m1 13h0m1-7h0m1-10h0m1 0h0m2 3h0m0-16h0m0 13h0m22 14h0m13-13h0m5 11h0m4-22h0m5 47h0m0-3h0m0 4h0m0 3h0m2-12h0m1-27h0m2 17h0m3 43h0m1-43h0m1-23h0m2 11h0m1 14h0m1-33h0m0 73h0m2-39h0m3 20h0m1 5h0m1-35h0m1 15h0m0-24h0m2 17h0m3 14h0m0-27h0m5 18h0m3-8h0m1-28h0m4 6h0m6-6h0m1 42h0m2-24h0m1-16h0m0 21h0m1 1h0m11-14h0m8 2h0m3 10h0m0-25h0m2 36h0m0-7h0m5-1h0m0-14h0m0-6h0m7 8h0m3 10h0m0-12h0m3 21h0m0-5h0m1-7h0m1 4h0m1-16h0m1-9h0m1 13h0m1 19h0m1-2h0m0-15h0m2-9h0m5 18h0m2-14h0m0 13h0m4-11h0m1 29h0m0-21h0m0 17h0m1-16h0m2-21h0m0 1h0m0 2h0m1 22h0m0 6h0m1-27h0m0 6h0m1-9h0m1 23h0m1 12h0m1-24h0m1 2h0m0-3h0m2 6h0m0-18h0m2 28h0m0-27h0m1 4h0m1 24h0m2 1h0m0-8h0m1-3h0m1-18h0m2 36h0m0-16h0m0-11h0m1 5h0m1 20h0m1-24h0m0 2h0m0 16h0m1-27h0m2 23h0m0-16h0m1-7h0m1 11h0m0-12h0m1 27h0m0-28h0m4 27h0m0-13h0m3 25h0m1-7h0m6-21h0m22 14h0m-427 55h0m2 4h0m14 11h0m16-16h0m3 1h0m1 31h0m4-29h0m7 12h0m7 59h0m6-58h0m1 27h0m4 32h0m8-70h0m3 0h0m22 73h0m4-70h0m2 60h0m10-62h0m3 59h0m5-61h0m2 29h0m2 30h0m1-5h0m4 8h0m1-61h0m0 0h0m1 22h0m2 42h0m2-34h0m3 27h0m5-39h0m3 0h0m0-9h0m5 23h0m0-26h0m1 1h0m0-9h0m4 7h0m0 65h0m7-55h0m0 57h0m4-77h0m0 43h0m1 32h0m1 4h0m0-22h0m1 12h0m5-34h0m6 31h0m4-62h0m3 3h0m4 5h0m-138 124h0m9-9h0m4 0h0m3-21h0m18 9h0m1 38h0m2-35h0m11 19h0m1 19h0m1-45h0m7 13h0m8 6h0m3 3h0m25-44h0m8 17h0m1-11h0m3-8h0m3 6h0m0 10h0m7 8h0m7-1h0m2-16h0m1 32h0m1-14h0m4-6h0m5 0h0m6 14h0"/><path stroke="#000000" d="M375 114h0m7 14h0m1 17h0m1-20h0m1-17h0m0 13h0m1-5h0m0 13h0m2 8h0m2-12h0m0-2h0m1-7h0m0-4h0m1 23h0m0-3h0m2 7h0m0 4h0m2-39h0m0 36h0m1-26h0m1 19h0m3-23h0m1 28h0m3 1h0m0-36h0m0 30h0m0-20h0m2 6h0m1 0h0m0 3h0m2-29h0m1 39h0m0 1h0m2-10h0m1 30h0m1-25h0m0 22h0m1-56h0m1 10h0m2 24h0m1-7h0m0 2h0m1-8h0m0-14h0m2 50h0m0-49h0m1 8h0m0-16h0m0 59h0m1 7h0m0-24h0m0-35h0m1 4h0m0 11h0m0-2h0m1-20h0m0 42h0m1-42h0m1 41h0m1-37h0m1 17h0m0 25h0m0-34h0m1 51h0m0-61h0m0 64h0m1-3h0m0-19h0m0-3h0m0 20h0m1-50h0m0 19h0m2-6h0m1 5h0m0-6h0m0-10h0m1 44h0m1-53h0m0 48h0m1-46h0m1 0h0m3 34h0m1-35h0m0 31h0m0-30h0m1 47h0m0 6h0m1-31h0m0-3h0m1-24h0m1 30h0m3 12h0m0-3h0m0 22h0m0-17h0m0-31h0m1 0h0m1 25h0m1-27h0m2 45h0m0-7h0m1-31h0m0 42h0m0 5h0m1-44h0m1-9h0m0 30h0m2-16h0m1 28h0m0-38h0m0-2h0m2 44h0m4-4h0m1-38h0m1 23h0m0-8h0m11-3h0m5 16h0m10 4h0m7-19h0m4 32h0m6-7h0m21 4h0m34 7h0m9-17h0m-182 86h0m1 7h0m1-46h0m1-19h0m3 0h0m1 15h0m1 24h0m2 12h0m1 4h0m0-42h0m0-13h0m0 43h0m1 10h0m0-44h0m0-6h0m0 48h0m1-57h0m0-4h0m1 1h0m1 37h0m4 1h0m0-18h0m0 26h0m1 18h0m0-59h0m0 21h0m0-7h0m0 3h0m3 45h0m2-7h0m1-52h0m2 13h0m0 0h0m0-15h0m1-7h0m0 39h0m1-13h0m2 20h0m0 33h0m0-64h0m1-15h0m2 69h0m1-49h0m0-10h0m2 13h0m1 12h0m0 34h0m1-40h0m0 24h0m0-48h0m1 53h0m0 12h0m1-17h0m0-9h0m0-42h0m1 23h0m0 45h0m1-59h0m2 52h0m0-44h0m1-6h0m1-5h0m0 51h0m2-23h0m1-18h0m2 4h0m0-19h0m0 23h0m0-9h0m0 15h0m3-32h0m0 39h0m0-36h0m1 4h0m1 12h0m0 12h0m0-21h0m1-8h0m2 16h0m0 23h0m1 27h0m1-53h0m0-12h0m0 39h0m3-37h0m0 11h0m0 5h0m2 37h0m2-36h0m0-2h0m0-14h0m3 59h0m0-40h0m1 23h0m0-26h0m3 4h0m0 38h0m1-43h0m0 30h0m0-27h0m1-10h0m0-12h0m1 9h0m2 53h0m0 7h0m1-37h0m1-2h0m0 27h0m1-8h0m1-31h0m0 28h0m0 21h0m0 3h0m0-49h0m2 37h0m0-36h0m1 50h0m1-48h0m0 13h0m0 24h0m0-52h0m1 17h0m0 36h0m0-47h0m0 32h0m1 1h0m0-38h0m0-12h0m1 78h0m1-74h0m1 45h0m1-14h0m1 24h0m0-5h0m1-2h0m0 9h0m1-55h0m0 47h0m1-34h0m0 50h0m1-17h0m0 5h0m1-25h0m1-14h0m1-1h0m1 4h0m2-20h0m0 22h0m1-3h0m1 0h0m6 17h0m0-7h0m11 24h0m2-26h0m2 27h0m1-4h0m4 14h0m8-12h0m4-20h0m10-24h0m2 28h0m7-1h0m10 36h0m17-56h0m-212 92h0m9-1h0m1 1h0m1 9h0m1-22h0m1 31h0m2-13h0m1-13h0m1 22h0m0 2h0m0-10h0m2-9h0m0-11h0m0 18h0m3-13h0m1 2h0m0 10h0m1 4h0m3 6h0m0 5h0m1 8h0m0-35h0m2 32h0m0-31h0m1 34h0m0-3h0m1-33h0m0 30h0m3-27h0m3 30h0m2-14h0m0 10h0m0-5h0m1-19h0m0 9h0m2 4h0m0 7h0m1-18h0m0 26h0m0-6h0m1 2h0m0-12h0m1-32h0m2 0h0m0-3h0m11 3h0m3 59h0m0-9h0m2 9h0m1-60h0m0 34h0m1 30h0m3-20h0m0 19h0m1-11h0m2-8h0m3-10h0m10-17h0m8 25h0m7-42h0m5 4h0m3 4h0m1 30h0m4-36h0m1 8h0m2 5h0m4-1h0m1-16h0m6 18h0m4 16h0m2 21h0m2-45h0m5 65h0m9-28h0m8-14h0m1 9h0m4-29h0m2-4h0m17 43h0m18-12h0m-275 85h0m2-9h0m2-3h0m0 1h0m1 15h0m1 2h0m8 4h0m1-7h0m0-13h0m1 14h0m0-25h0m2-2h0m0 19h0m1-10h0m2-12h0m0 9h0m1 6h0m1 7h0m6-12h0m3 1h0m5-14h0m0 23h0m0 8h0m1-39h0m1 30h0m0-29h0m1 21h0m3-7h0m122-19h0m9 1h0m43 27h0m3-32h0m0 10h0m1 14h0m18 33h0m1-35h0m48 49h0m10 5h0m29-8h0m11-6h0m458 13h0m4-8h0m0 0h0m6 11h0m6-10h0m2 0h0m11 11h0m-585 32h0m1 11h0m1 18h0m0-2h0m2-21h0m0-1h0m1 18h0m3-6h0m2 25h0m1-35h0m1 31h0m1-15h0m1-4h0m1-48h0m2 23h0m2 53h0m1-30h0m4 15h0m1-44h0m0-7h0m0 27h0m3 19h0m3-28h0m1 45h0m1-63h0m0 47h0m1-28h0m1 34h0m1 1h0m1-60h0m3 54h0m4-16h0m4 11h0m2-9h0m0 17h0m8-56h0m8 14h0m1 5h0m3 15h0m1 4h0m0-12h0m12 8h0m3-7h0m1 25h0m7-29h0m9-10h0m460-15h0m9-5h0m2 9h0m2-2h0m4 10h0m3-14h0m0 21h0m1-3h0m1-14h0m1-4h0m4 4h0m0 6h0m0-13h0m1 24h0m1-24h0m3 1h0m1 26h0m9-15h0m2 9h0m2-4h0m-557 69h0m32 21h0m27-16h0m10 13h0m11-1h0m0 21h0m-129 192h0m59-27h0m275 27h0m1 0h0m7-14h0m3 16h0m0-17h0m0 9h0m0 0h0m1-3h0m1 10h0m4-10h0m13-3h0m0 12h0m0-5h0m4-16h0m1 20h0m0 3h0m1-23h0m1 4h0m1-2h0m3 15h0m0-10h0m3 5h0m0 6h0m1 4h0m0-22h0m1 15h0m1-13h0m0 8h0m1-9h0m2 21h0m1 0h0m1-17h0m0-5h0m2-6h0m4 6h0m0 11h0m2 2h0m3 4h0m3-14h0m1 15h0m4-14h0m-535 79h0m9-3h0m3-13h0m18 27h0m19-8h0m16 9h0m2 4h0m4-15h0m2 4h0m8 6h0m1-8h0m2 11h0m1-9h0m1 4h0m0 7h0m1-24h0m0 10h0m3 4h0m3 10h0m0-21h0m0 9h0m2 9h0m0-33h0m0 15h0m0-19h0m1 6h0m2 23h0m3 10h0m1-2h0m1-41h0m1 23h0m0-5h0m1-11h0m1 2h0m0 23h0m2-8h0m0-13h0m0 35h0m3-24h0m0-18h0m0 20h0m0-18h0m3-3h0m0 29h0m0 7h0m0-4h0m0-24h0m2 16h0m0-31h0m1 40h0m1-18h0m1-30h0m1 53h0m1-7h0m0 3h0m1-24h0m2 15h0m0-24h0m1-21h0m1 20h0m0 12h0m1 24h0m1-25h0m2-10h0m0 5h0m1-8h0m2 4h0m0 42h0m3-65h0m2 23h0m0 12h0m1 14h0m0-23h0m0 21h0m1-36h0m0 10h0m2 25h0m1-29h0m1 25h0m0-31h0m1 26h0m1 5h0m1-7h0m0 17h0m2-31h0m0-15h0m1 17h0m1 2h0m0 2h0m1 25h0m3-20h0m1 4h0m2-1h0m0 20h0m0 2h0m1-48h0m2 29h0m2 11h0m1-22h0m1 16h0m1-31h0m0 30h0m2-15h0m1 7h0m5-8h0m14-23h0m3 3h0m0 50h0m21 6h0m13-24h0m21 19h0m2-4h0m5 12h0m4-36h0m8 33h0m150-59h0m2-2h0m11 0h0m10-3h0m5 26h0m12 7h0m1-18h0m3-24h0m0 24h0m1-11h0m0 1h0m1-12h0m0 17h0m1 13h0m1-19h0m1 4h0m2-8h0m0 11h0m2-16h0m1 9h0m1-4h0m1-7h0m1 5h0m0 22h0m2 12h0m1-23h0m1 14h0m0-23h0m1 20h0m3 11h0m0-19h0m0-3h0m1-14h0m2 15h0m0 8h0m1 3h0m2-24h0m0 4h0m0 17h0m0 3h0m3-17h0m1 5h0m0-11h0m0-5h0m0 17h0m5 3h0m2 7h0m2-25h0m0 11h0m0-4h0m1-6h0m2 19h0m1-18h0m3 6h0m4 5h0m0-3h0m1 4h0m2 4h0m0-11h0m7-6h0m3 10h0m6-6h0m-485 79h0m28 2h0m5-5h0m2 15h0m3-22h0m2 3h0m1 13h0m1 5h0m1 43h0m2-54h0m0 15h0m1-10h0m0 47h0m0-58h0m3 33h0m0 1h0m0-36h0m4 26h0m0 30h0m0-58h0m2 18h0m0-16h0m0 13h0m1 5h0m2 1h0m3 3h0m1 11h0m0-32h0m0 18h0m1-13h0m4 29h0m0-20h0m0-2h0m2 7h0m1 30h0m1-24h0m1 12h0m3 13h0m2-14h0m0-13h0m2-10h0m1 51h0m1-34h0m1-28h0m2-4h0m1 26h0m0-1h0m3 46h0m1-41h0m1 41h0m0-3h0m4-6h0m1-9h0m3 19h0m2-5h0m0 1h0m1-18h0m0 23h0m1-6h0m2-7h0m0 4h0m4-13h0m0 19h0m3 8h0m0-5h0m1-65h0m1 67h0m1-15h0m0 2h0m1-30h0m3 32h0m3 1h0m1 3h0m1 9h0m0-2h0m1-73h0m2 3h0m1-3h0m0 75h0m1-54h0m10-1h0m1 50h0m3-39h0m5 37h0m4-45h0m2 11h0m2 30h0m0-3h0m3-6h0m10-16h0m5 2h0m8 17h0m6-34h0m20-20h0m3-4h0m16-1h0m-174 104h0m5 23h0m1 13h0m2-6h0m0 8h0m1-49h0m1 42h0m0-12h0m1-17h0m0 28h0m2 20h0m0-68h0m0-1h0m1 24h0m0 47h0m0-38h0m1-5h0m1 33h0m1-67h0m1 55h0m1 10h0m0-10h0m1-42h0m1 16h0m2 24h0m0 5h0m1-21h0m0-35h0m1 29h0m0 24h0m0 7h0m1 17h0m0-24h0m1-18h0m1 6h0m0-24h0m0 19h0m0 1h0m1 22h0m0-15h0m0 32h0m1-54h0m0-9h0m0 47h0m1-11h0m0 1h0m1-15h0m0 10h0m0-5h0m0-24h0m0-15h0m0 1h0m1 24h0m1 8h0m0 21h0m1-44h0m0 16h0m0 25h0m2-9h0m1 19h0m0-60h0m1 7h0m0 42h0m0 16h0m1-31h0m0 41h0m1-61h0m0-17h0m0 45h0m1-18h0m1 25h0m0-17h0m0 32h0m0-57h0m1 66h0m0-64h0m1 27h0m1 24h0m1-64h0m0 38h0m0 14h0m1 9h0m1-46h0m0 40h0m0-14h0m0-19h0m2-10h0m0 12h0m1-13h0m0 28h0m1 18h0m1-5h0m0-11h0m2-30h0m2 68h0m1 0h0m2-22h0m0-10h0m3-39h0m2 32h0m4-29h0m2 26h0m0-4h0m1-11h0m13-14h0m2-7h0m0 33h0m1 1h0m0-25h0m1 24h0m0-20h0m1-10h0m1 29h0m2-18h0m1-6h0m5 15h0m2 0h0m7-12h0m0-7h0m1 6h0m3 22h0m2 6h0m29-22h0m2 14h0m-110 62h0m1-5h0m2-4h0m7 3h0m3-7h0m0 16h0"/><path stroke="#0000ff" d="M549 143h0m1 15h0m3-50h0m27 43h0m4-44h0m10 9h0m19-18h0m4 59h0m19-2h0m-131 73h0m8-22h0m52 22h0m5 6h0m2-9h0m21-53h0m-76 118h0m24-25h0m8 47h0m0-53h0m1 22h0m40-26h0m5 62h0m3-4h0m39-17h0m-137 42h0m1-13h0m38 41h0m49-35h0m20 40h0m3-49h0m1 19h0m6 42h0m4-4h0m3 20h0m0-67h0m2 59h0m12-49h0m8 45h0m450 5h0m-560 63h0m9-42h0m6 5h0m5 7h0m9 29h0m6-11h0m21 22h0m1-30h0m6 42h0m3-53h0m0 28h0m11 9h0m4-21h0m3-39h0m5 8h0m8 8h0m3 26h0m9 13h0m19 9h0m5 9h0m446-71h0m4 16h0m13-1h0m-883 124h0m10-6h0m5 21h0m5-9h0m6-13h0m0 7h0m3 7h0m4-24h0m39 14h0m6 3h0m3 1h0m246-63h0m43 16h0m9-8h0m1 21h0m33-22h0m3 34h0m13-26h0m2 3h0m19 30h0m18 14h0m0-2h0m0 1h0m19-9h0m5-13h0m6 3h0m0 27h0m7-25h0m3 11h0m0 11h0m9-35h0m5-2h0m2 7h0m1-11h0m4 8h0m7-5h0m-520 77h0m14-6h0m501 61h0m-283 46h0m1 9h0m2-34h0m0 44h0m1-32h0m1 17h0m0-8h0m2-6h0m0 17h0m1-23h0m0-14h0m1 41h0m3-11h0m0-1h0m1-17h0m0 31h0m0-11h0m1-15h0m1 24h0m0-45h0m1 34h0m0 2h0m1-3h0m0 10h0m0-1h0m1-3h0m0-38h0m0 36h0m0-33h0m1 11h0m1-11h0m0 14h0m0-15h0m1 24h0m0-18h0m0 14h0m1-19h0m1 28h0m0 3h0m0-12h0m3-24h0m0 33h0m1-36h0m0 7h0m0 16h0m2 31h0m0-40h0m0 19h0m1 16h0m0-39h0m3 7h0m0-10h0m1-2h0m0 26h0m3 8h0m0 5h0m0-17h0m1 4h0m0-10h0m0-4h0m1 21h0m1 2h0m1-3h0m1-12h0m4 33h0m2-18h0m1-14h0m2 28h0m1-28h0m232-30h0m84 42h0m15-11h0m2 8h0m3-9h0m3 11h0m1 6h0m1-5h0m1-4h0m1-4h0m0-5h0m0 13h0m6-12h0m0 11h0m-386 51h0m6 0h0m128 53h0m4 3h0m1-1h0m3-8h0m1 2h0m2 10h0m1-4h0m2 7h0m2-14h0m2 12h0m4-9h0m2-7h0m2-2h0m7 8h0m3-10h0m2 21h0m2-9h0m5 6h0m-62 81h0m4-19h0m11 18h0m6-8h0m12-51h0m17-10h0m-46 105h0m5-20h0m0-7h0m2 42h0m15-14h0"/><path stroke="#ff8c00" d="M566 156h0m7-19h0m7-35h0m7-8h0m9 21h0m21 36h0m13-16h0m7 13h0m17-8h0m1 12h0m4-24h0m5 31h0m15 1h0m-133 38h0m25 14h0m8-4h0m11-29h0m20 0h0m5 24h0m6 25h0m1-61h0m3 17h0m10 52h0m2-12h0m7-25h0m8-38h0m1 0h0m2 4h0m2 65h0m1-51h0m3 51h0m1-4h0m0-23h0m0-9h0m2-18h0m2 31h0m1 13h0m3-16h0m0 9h0m3-53h0m5 27h0m2-24h0m0 38h0m5-10h0m-134 101h0m11-19h0m4-13h0m25 41h0m2 12h0m4-63h0m0 28h0m10-17h0m1-11h0m1 45h0m11 18h0m2-27h0m9-14h0m11 41h0m14-60h0m4 55h0m6-42h0m5-10h0m-149 104h0m64-34h0m0 11h0m2 12h0m2-1h0m2-9h0m3 10h0m7 36h0m0-35h0m2-20h0m2 32h0m1-8h0m2 32h0m2-49h0m0 21h0m2-28h0m3-8h0m5 30h0m1-23h0m3 66h0m1-33h0m1-21h0m2 26h0m0-13h0m1 4h0m6 21h0m3-50h0m9 12h0m0 25h0m1-17h0m1 48h0m3-72h0m3 18h0m-51 133h0m10-22h0m6 3h0m5 22h0m7-7h0m1-60h0m18 13h0m-403 119h0m15-3h0m7 7h0m9-21h0m335-40h0m16 20h0m4 0h0m20-19h0m7-2h0m4 18h0m24 18h0m21 29h0m9-18h0m30-27h0m3 42h0m3-8h0m5-13h0m1-5h0m1-2h0m-482 57h0m9 2h0m266 100h0m13 17h0m4-18h0m53-13h0m23 51h0m172 2h0m-399 53h0m5 0h0m4 12h0m2-12h0m0 12h0m5-6h0m1-2h0m4-7h0m0 16h0m14 10h0m125-68h0m49 12h0m174 0h0m1-10h0m28 19h0m-372 56h0m150 64h0m0 7h0m9 1h0m7-11h0m17 12h0m-78 24h0m3 28h0m2-45h0m8 15h0m17 8h0m7 12h0m10-27h0m14 13h0m1-1h0m7 15h0m11 4h0m7-31h0m1 14h0m0-8h0m-106 76h0"/><path stroke="#ff0000" d="M538 112h0m19 35h0m4-12h0m10 7h0m5-30h0m10 8h0m30 12h0m5-39h0m9 33h0m24-5h0m1 6h0m2 13h0m11 18h0m2-4h0m4-25h0m-124 108h0m38-47h0m5-21h0m8 1h0m2 52h0m1-43h0m5-1h0m2 5h0m13 49h0m11-39h0m1 39h0m14-1h0m2-18h0m2 10h0m0-55h0m0 48h0m9-34h0m0 51h0m1-49h0m1 11h0m0-21h0m0 62h0m0-47h0m1-27h0m1 52h0m1-28h0m1 23h0m2-38h0m1 57h0m4-19h0m1-29h0m3 10h0m1 4h0m1-29h0m1 16h0m-114 76h0m6 16h0m11-29h0m13 71h0m6-69h0m7 5h0m1 13h0m12-12h0m4 66h0m1-12h0m6 3h0m10-4h0m8 2h0m3-4h0m2-51h0m2 4h0m1 55h0m0 4h0m1-32h0m1 16h0m0-50h0m1 64h0m-146 39h0m19 14h0m0-6h0m38 5h0m6-24h0m13-9h0m2 32h0m7-18h0m11 7h0m5-2h0m4 10h0m0 35h0m1 1h0m1-37h0m3 0h0m7-7h0m5 17h0m1-25h0m5 8h0m3-23h0m3-10h0m3 26h0m-48 103h0m4-42h0m7 19h0m21 39h0m13-36h0m1 34h0m31 3h0m9-16h0m1-5h0m1 4h0m1-7h0m4 10h0m-57 39h0m17 3h0m28 7h0m2 40h0m13-51h0m17 68h0m4-26h0m7 13h0m5 0h0m4 4h0m10-38h0m13 13h0m10-2h0m-353 248h0m44 13h0m129 82h0m2 14h0m-40 4h0m19 40h0m4-41h0m4 27h0m0 11h0m7-7h0m1 15h0m8-26h0m16-1h0m-58 74h0"/><path stroke="#ffff00" d="M540 131h0m64-12h0m52 17h0m2 6h0m1-17h0m1 33h0m5-6h0m1-16h0m-45 73h0m1 17h0m7 8h0m10-35h0m15-18h0m3-21h0m2 60h0m1-58h0m0 44h0m5-5h0m0 15h0m1-10h0m0-44h0m1 61h0m0-12h0m0 25h0m6-69h0m2-3h0m-73 109h0m10-5h0m42 33h0m6-37h0m2-9h0m1 4h0m0 21h0m3-26h0m-46 69h0m29 13h0m4-1h0m4-14h0m2 4h0m1-2h0m48 208h0m1 12h0m2 14h0m12-5h0m28 4h0m21-46h0m14 132h0m0 17h0m-358 116h0"/></g><g transform="scale(0.5)" stroke-linecap="round" stroke-width="3.50" fill="none"><path stroke="#F8766D" d="M2115 151h0m15 3h0m3-18h0m0 19h0m2-1h0m0-5h0m3 4h0m4 2h0m1-5h0m1-1h0m0 3h0m1-9h0m0 3h0m3 7h0m1 6h0m1-6h0m0-6h0m5 3h0m0 2h0m1 2h0m0 4h0m0 2h0m4-9h0m1-8h0m0 14h0m1-2h0m0-11h0m1 2h0m0-1h0m1 2h0m2 5h0m5-1h0m0-8h0m1 4h0m2 5h0m6 0h0m0-2h0m6 6h0m2-1h0m4-3h0m2 3h0m0 1h0m7 2h0m2-4h0m-114 83h0m8-3h0m3-8h0m2 3h0m4-12h0m1-47h0m0 51h0m2-8h0m0-1h0m1-7h0m1-16h0m2-14h0m0 40h0m0-22h0m1 47h0m2-50h0m0-1h0m1 50h0m1-52h0m0 43h0m1-22h0m0 18h0m0-16h0m1-14h0m1 40h0m0-66h0m0 23h0m1 38h0m0-14h0m0-40h0m1-8h0m0 51h0m0-29h0m1 26h0m0-41h0m1 43h0m2-54h0m0 50h0m0 19h0m1-39h0m0-30h0m0 6h0m1-6h0m2 37h0m0 28h0m0-55h0m1 3h0m0 58h0m0-48h0m0 50h0m0-2h0m1-18h0m0-21h0m1-9h0m0 9h0m1-31h0m0 72h0m0-48h0m1-8h0m0 50h0m1-64h0m1 9h0m0 42h0m1-53h0m0 59h0m1-61h0m0 63h0m2-49h0m0 60h0m0-4h0m1-37h0m0-31h0m0 48h0m0-34h0m0 45h0m1-60h0m0 25h0m0-17h0m0 48h0m1-7h0m0-15h0m0-1h0m0 0h0m1-29h0m0-3h0m0 11h0m0 17h0m1 4h0m1 38h0m1-43h0m0 46h0m0-10h0m1-57h0m0-1h0m0 33h0m1-37h0m0 44h0m0-5h0m0-38h0m1 55h0m0-3h0m1-45h0m0 35h0m0 12h0m1-7h0m0 3h0m0-48h0m1 53h0m0-51h0m1 33h0m0-6h0m0 1h0m0-35h0m1 26h0m0 38h0m0-17h0m0 23h0m4-58h0m0 6h0m0 23h0m0 17h0m2-30h0m0 33h0m0-48h0m0 30h0m1-6h0m1-21h0m0 52h0m2-67h0m2 64h0m0-47h0m1 52h0m0-71h0m0 67h0m2-54h0m0 55h0m1-52h0m0 51h0m0-42h0m1-5h0m0-16h0m0 43h0m0-24h0m1 2h0m0-22h0m0 55h0m1-6h0m0 19h0m0-42h0m1-12h0m1 44h0m1-2h0m2-14h0m0 6h0m0-51h0m0 41h0m1 33h0m0-57h0m0 17h0m0-26h0m1 9h0m0-21h0m0 56h0m1 0h0m0 2h0m2-50h0m0 9h0m0 9h0m1 19h0m1-5h0m0-24h0m2 9h0m0-13h0m2 64h0m0-24h0m0 12h0m0-34h0m1 25h0m0-28h0m0-1h0m0 28h0m1-19h0m0 41h0m0-72h0m1 23h0m0-9h0m0 39h0m1-50h0m0 40h0m0-11h0m1-6h0m0 32h0m1 8h0m0-25h0m1-12h0m0 1h0m0-27h0m0 42h0m2 22h0m1-12h0m0 16h0m1-15h0m0 6h0m1-59h0m0 59h0m1-7h0m0-48h0m1 31h0m0 33h0m1-66h0m1 13h0m1-9h0m0 19h0m0-12h0m0 18h0m0 34h0m1-16h0m1-16h0m1-21h0m0 41h0m1-19h0m1-27h0m1 20h0m0 1h0m1-8h0m0 38h0m2-8h0m-136 40h0m7-1h0m2 2h0m1 7h0m2-17h0m0 10h0m2-5h0m2-7h0m0 14h0m2-10h0m1-10h0m3 4h0m0 0h0m0 23h0m1-26h0m2 8h0m1 19h0m2-4h0m1-21h0m1 17h0m3-19h0m0 26h0m2-11h0m1 19h0m1-27h0m1 8h0m1-6h0m1 24h0m0-4h0m1-15h0m0 23h0m1-11h0m1 4h0m2-10h0m1-8h0m0-3h0m1 12h0m1-1h0m0-20h0m2 15h0m0 8h0m1-10h0m0-4h0m1 3h0m0-13h0m1 6h0m1-4h0m1 12h0m4 17h0m0 7h0m0-23h0m0 11h0m5 14h0m2-6h0m0-24h0m1-9h0m0 37h0m1-5h0m1-8h0m0 11h0m1-20h0m2 14h0m0-26h0m0 20h0m1-2h0m1-8h0m1 10h0m0-22h0m0 32h0m1-28h0m1 8h0m0-14h0m0 24h0m1-12h0m1-5h0m0 5h0m0 19h0m0-28h0m2 11h0m2-7h0m1 9h0m1 13h0m1-9h0m2 8h0m1-27h0m0 32h0m0-22h0m1 11h0m0-16h0m2-5h0m0 40h0m0 3h0m1-6h0m1-9h0m0 12h0m0-13h0m1 10h0m0-5h0m1-23h0m0 9h0m0 25h0m1-40h0m1 1h0m2 32h0m1-6h0m1 13h0m1-2h0m0-15h0m0-15h0m2 13h0m0-19h0m1 15h0m1-2h0m0-10h0m0 34h0m1-37h0m0 6h0m0-3h0m0 34h0m1-26h0m0 5h0m1 22h0m0 4h0m1-32h0m2 4h0m0 11h0m0-3h0m1-8h0m0-7h0m1 23h0m0-30h0m1 34h0m0-32h0m0 17h0m1-20h0m2 32h0m0-9h0m0-28h0m0 1h0m1 0h0m0 12h0m1-5h0m0 7h0m0 31h0m0-34h0m1 20h0m0-30h0m0 14h0m1 7h0m0 12h0m1 1h0m2-35h0m1 29h0m1-30h0m1 4h0m3 26h0m2-24h0"/><path stroke="#C99800" d="M2134 127h0m6-1h0m1-9h0m4-3h0m11 15h0m0-9h0m1 13h0m5-1h0m3 6h0m0-5h0m0-9h0m0 12h0m1-11h0m1-19h0m1 20h0m1 3h0m0 7h0m1-21h0m2 24h0m0-20h0m1 20h0m2-1h0m0 8h0m1-31h0m0-10h0m1 34h0m1-29h0m0 37h0m0-4h0m0-18h0m1-8h0m0 12h0m2 17h0m1-30h0m1 30h0m1-46h0m0 6h0m2-2h0m4 35h0m0-33h0m0 27h0m0-18h0m1 18h0m1-19h0m0 5h0m0-3h0m1 31h0m1-25h0m0 37h0m0-31h0m1 28h0m0-37h0m1 33h0m0-15h0m1 18h0m0-21h0m1-10h0m0 31h0m0 1h0m0-7h0m1-40h0m0-8h0m4 10h0m0 21h0m0 11h0m0-31h0m0 45h0m0-7h0m1-9h0m0-31h0m2 30h0m0-19h0m0 31h0m1-1h0m1 5h0m0-23h0m0-17h0m0 29h0m1 9h0m1-40h0m0 22h0m0-6h0m0-14h0m2 26h0m0-31h0m0 23h0m0 23h0m1-35h0m1 27h0m0-34h0m1 44h0m1-16h0m1-34h0m0 12h0m0 36h0m0-16h0m1-4h0m1 4h0m1 15h0m6-1h0m1-27h0m0 14h0m1-29h0m2 26h0m0-6h0m0 26h0m1-40h0m1 20h0m1 2h0m1-3h0m1 20h0m0-20h0m0-36h0m0 3h0m1 47h0m0-16h0m1-36h0m0 26h0m0 2h0m1 10h0m0 5h0m2-24h0m2 25h0m0-2h0m0-14h0m1 4h0m2 26h0m0-15h0m1 9h0m0 7h0m1-3h0m0-20h0m1-16h0m0-14h0m0 41h0m0-13h0m0-13h0m2-19h0m0 28h0m1 4h0m1 1h0m0-19h0m4 22h0m0 20h0m1-50h0m0 39h0m2-24h0m0 31h0m2 4h0m0-17h0m0-19h0m2 16h0m0 10h0m2 3h0m3-21h0m0-6h0m1 28h0m1-18h0m0 18h0m1-7h0m0-14h0m1 26h0m0-22h0m2 1h0m4 14h0m1 8h0m4-16h0m-88 27h0m11-6h0m5-1h0m1 1h0m1-3h0m4 6h0m0 6h0m1 0h0m0 2h0m1-1h0m0-2h0m2-5h0m0 25h0m2-31h0m2 26h0m0-15h0m1-10h0m2 41h0m0-8h0m1-25h0m1-2h0m0-7h0m1 21h0m1-1h0m0-15h0m1 7h0m0 22h0m1-7h0m0-9h0m2 15h0m1-6h0m2-7h0m0-4h0m2-1h0m1 17h0m1 7h0m0-36h0m3 22h0m2 22h0m0-11h0m1-11h0m0-14h0m4 34h0m0-29h0m0-14h0m2 11h0m0 14h0m2-5h0m0 30h0m0-43h0m1 9h0m1 18h0m0-22h0m1-11h0m2 37h0m1-28h0m1 20h0m0-8h0m0 18h0m1-5h0m1 12h0m0-9h0m0-9h0m1-10h0m0 25h0m0-36h0m0 11h0m1 23h0m0-34h0m1 20h0m0 14h0m0-44h0m1 15h0m1 22h0m1-24h0m1-6h0m0 45h0m1 3h0m1-49h0m0 49h0m0-36h0m2 24h0m1 19h0m1-7h0m0-43h0m0-5h0m0 15h0m1 44h0m0-7h0m0-43h0m1 11h0m0 16h0m0 15h0m0-48h0m0 50h0m0-18h0m0-10h0m1-16h0m2-9h0m1 19h0m0-21h0m0 31h0m2-20h0m3 44h0m1-5h0m1-26h0m0-1h0m0 8h0m2-25h0m0 28h0"/><path stroke="#00C097" d="M1996 121h0m2 3h0m5 29h0m2-31h0m1 6h0m0 4h0m0 6h0m1-20h0m1 12h0m1-1h0m1-14h0m1 4h0m1 37h0m1-12h0m1-15h0m0 19h0m0-2h0m0-4h0m2-31h0m2-6h0m2 29h0m2-33h0m2 35h0m1 4h0m2-9h0m0-5h0m0-4h0m0 16h0m1-12h0m1-2h0m0-23h0m1 16h0m0 41h0m1-17h0m1 2h0m0 10h0m2-4h0m1-14h0m3 16h0m1-53h0m0 62h0m0-39h0m1 1h0m1-12h0m1 35h0m1-36h0m1 8h0m0-16h0m1 22h0m0 21h0m1 9h0m0-30h0m2-5h0m1 25h0m1 2h0m0-23h0m1 26h0m0-35h0m1-10h0m0 6h0m0 36h0m0-14h0m1 19h0m1-38h0m0 15h0m0 4h0m2 5h0m0 10h0m1-30h0m1 33h0m0 10h0m1-8h0m0-44h0m1 35h0m1-35h0m0 12h0m1 26h0m0-5h0m1-6h0m0 8h0m1 1h0m0-6h0m1 18h0m0-5h0m1-30h0m1 35h0m0-10h0m0-11h0m0-32h0m2 25h0m2-20h0m0 40h0m0-32h0m2 21h0m0 0h0m3 8h0m0-29h0m0 26h0m0 18h0m0-14h0m1-24h0m1 22h0m0-32h0m1 17h0m2-9h0m0-7h0m1 6h0m0-2h0m1 37h0m1 5h0m0-5h0m3-33h0m0-5h0m1 42h0m1-13h0m1-16h0m1 8h0m1 19h0m3-25h0m0 0h0m0 13h0m1 10h0m1-19h0m0 20h0m1-24h0m10 4h0m2 0h0m3 8h0m-72 28h0m3-9h0m7 3h0m0 1h0m1 3h0m0-3h0m1-4h0m3 14h0m8-13h0m2 6h0m6-6h0m4 2h0m1-1h0"/><path stroke="#00BA38" d="M2233 400h0m22-4h0m-31 68h0m1-1h0m1-39h0m0-4h0m0 29h0m1 15h0m1 0h0m0-57h0m1 42h0m0 27h0m0-72h0m1 43h0m0 13h0m2-15h0m2 27h0m1-46h0m1 9h0m0 40h0m1-3h0m0-18h0m1 13h0m1-12h0m0-11h0m1 31h0m0-37h0m0 22h0m1 17h0m0-14h0m2-14h0m1-15h0m0-2h0m0 27h0m2-51h0m0 47h0m1 12h0m0-9h0m0-20h0m1-11h0m1 17h0m0-18h0m2 26h0m1 27h0m3-49h0m0 22h0m1-13h0m1 12h0m1 4h0m2-29h0m1 45h0m1-6h0m1-15h0m0 22h0m2-5h0m0-36h0m1 28h0m0-17h0m1-10h0m0 11h0m1 35h0m4-26h0m2 24h0m2-2h0m0 2h0m2-8h0m2 6h0m9-1h0m3 7h0m0 0h0m-70 27h0m4-4h0m1-20h0m0 27h0m0-16h0m0-3h0m1 17h0m0 0h0m0 11h0m1-11h0m0 8h0m1-13h0m0 11h0m0-19h0m0 8h0m3 13h0m1 4h0m1-8h0m3-11h0m0-11h0m1 10h0m1 25h0m2-37h0m1 9h0m0-4h0m0 13h0m2-9h0m0 5h0m2-3h0m0 1h0m0 17h0m1-32h0m0 10h0m1-7h0m0-4h0m0 7h0m2 24h0m1 2h0m1-21h0m0 3h0m3-5h0m1 1h0m1 24h0m0 7h0m1-8h0m0-17h0m1-8h0m0-12h0m1 10h0m3 19h0m1-24h0m0 35h0m3-35h0m0-4h0m1 10h0m0 21h0m0 8h0m1-6h0m0-21h0m0 33h0m1-44h0m0-1h0m1 40h0m2-8h0m1-3h0m1 19h0m1-31h0m0 11h0m1-21h0m0 22h0m1-16h0m1-10h0m1 53h0m0-8h0m0-9h0m1-41h0m3 44h0m1-21h0m0 19h0m1 2h0m2-16h0m1-4h0m1 35h0m1-16h0m0-15h0m0 11h0m1-1h0m2-4h0m1 7h0m0 9h0m1-6h0m1-5h0m0 33h0m0-35h0m1-4h0m1 18h0m1-14h0m0 10h0m1-10h0m1 15h0m0-15h0m1 22h0m1 6h0m5-35h0m0 20h0m11-25h0m3 24h0"/><path stroke="#8AAB00" d="M2402 718h0m7-11h0m11-6h0m0 16h0m1-6h0m1 0h0m2-12h0m0-4h0m3 8h0m1-24h0m1 12h0m1-4h0m0 20h0m0-19h0m0 0h0m1-1h0m2 17h0m0 3h0m0 7h0m2-7h0m0-3h0m1-25h0m0 16h0m0-11h0m0 10h0m0 14h0m1 8h0m3-35h0m2-4h0m0 32h0m2-9h0m0 10h0m3 9h0m0-18h0m2 10h0m1-28h0m0-1h0m3 21h0m3-6h0m0 16h0m7 5h0m1-12h0m9 6h0m-86 45h0m2 6h0m0-12h0m1 8h0m0 6h0m2 13h0m2-38h0m2 11h0m2-12h0m1-5h0m2 0h0m1-14h0m3 36h0m0 14h0m0-3h0m1-35h0m0 36h0m1-32h0m0 19h0m1-17h0m1 30h0m2-43h0m1 32h0m1-14h0m1-7h0m1 0h0m0 21h0m1-8h0m0 11h0m1-1h0m0 11h0m0-29h0m0 8h0m1 14h0m1-1h0m0 18h0m0-48h0m1 40h0m0-38h0m0-3h0m0 41h0m1 8h0m1-38h0m1 21h0m1-15h0m2-5h0m1 36h0m3-21h0m0-32h0m0 55h0m1-37h0m0 30h0m0 0h0m0-9h0m1 11h0m0-45h0m0 54h0m0-15h0m1-22h0m1 21h0m0 8h0m0-10h0m1-13h0m0-9h0m1-24h0m2 49h0m2-14h0m0-30h0m0 32h0m0-29h0m1-1h0m0 22h0m2 25h0m0-54h0m2 13h0m1 2h0m0-2h0m0 16h0m0-10h0m1 29h0m2 0h0m0 5h0m3-46h0m0 36h0m0-12h0m0-8h0m0-8h0m3 20h0m1 3h0m0-32h0m0 10h0m1 45h0m0-23h0m1-7h0m1 10h0m0-21h0m0 2h0m2 28h0m2-14h0m0-4h0m0-18h0m0 0h0m0 27h0m3 9h0m0 5h0m0-4h0m0-15h0m0 3h0m0 1h0m0-8h0m2-11h0m0 41h0m0-41h0m3-10h0m1 4h0m1 3h0m0 1h0m1-8h0m2 20h0m3-1h0m0 8h0"/><path stroke="#B79F00" d="M2200 396h0m-47 73h0m3-2h0m2 4h0m0-22h0m0 14h0m1-16h0m1-4h0m1 5h0m0-5h0m0 16h0m3 20h0m3-15h0m1 1h0m1-12h0m1-22h0m0 22h0m2 11h0m0-2h0m0 5h0m0-1h0m1 12h0m1-39h0m0 26h0m1-39h0m2 45h0m1-42h0m0 2h0m0 33h0m1 11h0m0-18h0m0 3h0m1 3h0m0 0h0m1-34h0m0 49h0m1-35h0m0 36h0m0-27h0m2 17h0m0-34h0m0 41h0m1-18h0m0-4h0m0 21h0m1-8h0m0-46h0m1 30h0m0-7h0m1-13h0m1 37h0m0-24h0m0 22h0m1-12h0m0 24h0m0-53h0m2 22h0m0 17h0m1 0h0m1-23h0m0-1h0m1 20h0m1-7h0m1 26h0m0-27h0m1-29h0m1 31h0m0 16h0m1-55h0m1 0h0m0 45h0m1-12h0m2 8h0m1-1h0m0 20h0m0-2h0m0-45h0m3 21h0m0-13h0m1 41h0m0 1h0m1-5h0m1-23h0m0-8h0m0 27h0m2-5h0m0 7h0m1-53h0m1-7h0m1 11h0m0 45h0m0 5h0m2-23h0m0-15h0m1 44h0m0-6h0m1-28h0m0-4h0m1 36h0m0 3h0m1-46h0m1 3h0m0 26h0m4-18h0m2 6h0m0 26h0m3-19h0m-64 26h0m2 6h0m3 3h0m0 3h0m4 0h0m6-2h0m1-10h0m1-3h0m1 0h0m1 5h0m1 13h0m6-2h0m1 7h0m1-16h0m0 16h0m3-9h0m0 4h0m2-13h0m3 12h0m0-14h0m2 14h0m4-10h0m1 19h0m9-14h0"/><path stroke="#A3A500" d="M1868 558h0m1-7h0m5 1h0m4 2h0m5-1h0m3-1h0m0 1h0m1 5h0m0-10h0m4 6h0m0-8h0m6 13h0m2-4h0m0 5h0m1-6h0m1-13h0m4 6h0m2-10h0m1 16h0m0-6h0m5 7h0m2-16h0m7 0h0m0 1h0m1 10h0m1-6h0m1 15h0m2-4h0m4-18h0m1 12h0m4-5h0m2 14h0m4-13h0m0-2h0m2 14h0m6 3h0m0-8h0m0 1h0m1-1h0m0-4h0m0 13h0m1 0h0m4-8h0m-95 22h0m4 3h0m1-1h0m1-5h0m0-3h0m1 9h0m0-13h0m0 3h0m1 13h0m0-4h0m0-10h0m1 29h0m0-21h0m1 14h0m0-20h0m0 3h0m0 23h0m1-10h0m0-6h0m1-14h0m1 28h0m0 2h0m1-19h0m0 24h0m2-25h0m2 16h0m0 9h0m1-37h0m0 11h0m0 20h0m1-27h0m0 34h0m1-35h0m2 30h0m1 7h0m2-27h0m1-8h0m0 8h0m1 32h0m0-11h0m1-6h0m1-3h0m2 15h0m0-36h0m0-2h0m0 23h0m1 0h0m0-11h0m1 2h0m1-5h0m1 37h0m1-20h0m0 4h0m0 5h0m1 8h0m0-34h0m0 29h0m0-24h0m0 17h0m0 3h0m1-30h0m1 0h0m1-2h0m1 32h0m0-16h0m2-15h0m0 38h0m1-25h0m0 14h0m0 9h0m0-16h0m1-16h0m1 12h0m2 15h0m1-35h0m0 31h0m0-9h0m1 16h0m0-25h0m0 3h0m0 18h0m2-13h0m0 9h0m0-17h0m1 5h0m3-1h0m1-3h0m2-14h0m3 2h0m7 8h0m4-8h0m4-3h0m1 17h0m10-10h0"/><path stroke="#00C0AF" d="M2204 316h0m7 3h0m8-8h0m4 3h0m2-6h0m7 5h0m8 6h0m1-11h0m5-2h0m9 13h0m-124 46h0m5 2h0m1-3h0m6 10h0m5-2h0m3-1h0m6 8h0m0-6h0m1-5h0m5 14h0m1-4h0m4-4h0m2 3h0m0 1h0m2-6h0m27-22h0m0 17h0m0-34h0m2 26h0m0 0h0m1-8h0m1-10h0m0 25h0m0-19h0m0-26h0m0 36h0m1-17h0m1 11h0m0 15h0m0-27h0m0-5h0m1 5h0m0-11h0m1 16h0m0-16h0m0 61h0m1-40h0m0-6h0m1 23h0m0 26h0m1-39h0m1 28h0m1-28h0m0 16h0m0-35h0m1 15h0m0 3h0m1-24h0m0-3h0m1 53h0m0-5h0m1 9h0m2-31h0m0-1h0m0 13h0m0-35h0m1 56h0m1-39h0m0 18h0m0-5h0m0-34h0m0 10h0m0 7h0m1 48h0m0-64h0m0 49h0m1-53h0m0 21h0m0 28h0m0-36h0m0-13h0m2 79h0m0-20h0m1-35h0m0 33h0m3 4h0m0-40h0m1-6h0m0-7h0m1 30h0m1 25h0m0-16h0m0-2h0m0-31h0m1 3h0m0-6h0m1 28h0m0 24h0m0-12h0m0 24h0m1-18h0m1-53h0m1 39h0m0-7h0m1 29h0m0-1h0m1-49h0m0 40h0m1-55h0m0 9h0m0 7h0m0 37h0m2-31h0m2-20h0m0 2h0m1 42h0m0-37h0m1 37h0m1 2h0m2 30h0m1-33h0m1-35h0m1 35h0m0-45h0m2 60h0m0-12h0m1 27h0m0 2h0m0-22h0m1-31h0m1 38h0m0 3h0m0-41h0m1 26h0m1 17h0m0-22h0m0 4h0m0 3h0m2-14h0m0-34h0m0 4h0m1 26h0m1 41h0m0-65h0m1 29h0m0-14h0m1 16h0m0 21h0m1-41h0m1 38h0m2-38h0m1 7h0m1 47h0m-45 13h0m4-3h0m0 10h0m4-15h0m0 24h0m2-9h0m1 0h0m0-10h0m1 14h0m2-11h0m1 21h0m1-7h0m2 1h0m2-13h0m1-9h0m3 17h0m1-19h0m6 2h0m5-1h0m12 2h0"/><path stroke="#00A7FF" d="M2100 827h0m3 15h0m6 9h0m0-20h0m1 7h0m0-6h0m2 18h0m3-3h0m1-17h0m0 11h0m1-4h0m0 14h0m1-11h0m1-13h0m1 44h0m1-2h0m1-45h0m0 23h0m0-14h0m1-2h0m0 11h0m0 14h0m1-17h0m1 21h0m0 1h0m0-42h0m2 19h0m0 23h0m0-32h0m2 23h0m0-19h0m1 33h0m1-24h0m1 2h0m2-10h0m0 37h0m0-8h0m1-6h0m0 6h0m0 3h0m0-3h0m0-31h0m0 17h0m1-12h0m2 23h0m0 9h0m0-24h0m0-14h0m2 22h0m0 2h0m1 2h0m1-9h0m0 3h0m0 16h0m0-6h0m1-23h0m0 4h0m0-4h0m1-3h0m3-9h0m0 26h0m0 25h0m2-14h0m0-40h0m1 34h0m0-10h0m0-18h0m0 20h0m0 29h0m1-33h0m0 6h0m1 6h0m1-7h0m0 1h0m1 7h0m0 19h0m2-20h0m0-19h0m1-10h0m0 26h0m4-7h0m0 32h0m1-23h0m1-12h0m1 3h0m1-10h0m3 21h0m0-2h0m1 9h0m2-3h0m0 4h0m4-3h0m1 12h0m-57 6h0m4 6h0m1 20h0m4-18h0m2 6h0m2 14h0m2 5h0m6-2h0m1 1h0m1-1h0m1-14h0m5 7h0m7 7h0m4-2h0m0 0h0m6-17h0m1 4h0m2 10h0m0-24h0m3 12h0m7-9h0m1 12h0m3-17h0m0 18h0m6-11h0"/><path stroke="#EF7F49" d="M2052 305h0m0 12h0m4-15h0m2 12h0m0-9h0m2 10h0m2-27h0m0 30h0m1-12h0m1-11h0m0 9h0m2 11h0m3-29h0m0 18h0m2-29h0m0 36h0m0-32h0m10-9h0m0 8h0m1 23h0m1-2h0m1 19h0m0-13h0m0-8h0m0 18h0m2-32h0m1 23h0m0-24h0m1 30h0m1-17h0m2 17h0m1-7h0m0 12h0m1-37h0m1 8h0m1-13h0m1 43h0m1-7h0m1-26h0m2 12h0m0 18h0m2-28h0m0-6h0m0 28h0m1-30h0m0-5h0m1 16h0m0-1h0m0 20h0m1-2h0m0-28h0m0-8h0m1 18h0m0 8h0m1-19h0m1 15h0m0 26h0m1-38h0m0 14h0m0-9h0m2 30h0m2-20h0m1-18h0m1 10h0m1 14h0m0-1h0m1-4h0m1 1h0m1-3h0m0 6h0m0-7h0m0 11h0m1-23h0m0 1h0m2-5h0m0 10h0m4 6h0m0-8h0m1 8h0m1 2h0m2 7h0m1-1h0m1 0h0m0 17h0m1-6h0m1 1h0m1-7h0m0-20h0m1 29h0m0-5h0m0-1h0m2-11h0m0-14h0m2 30h0m0-22h0m1 25h0m0-35h0m1 1h0m0-5h0m1 13h0m0 16h0m0-22h0m1 0h0m0 2h0m2 10h0m2 5h0m0-10h0m0 26h0m1-22h0m1 22h0m1-34h0m1 0h0m1 9h0m0 24h0m1-24h0m5 9h0m0-16h0m1 11h0m0 5h0m0 2h0m0 6h0m0-15h0m1-5h0m0 21h0m0-7h0m2-2h0m0-9h0m0 5h0m1 21h0m1-41h0m1 8h0m0 27h0m1-31h0m0 29h0m1-9h0m1-10h0m7-2h0m0 14h0m1-7h0m0 7h0m1-10h0m0 5h0m0 2h0m0-7h0m0-6h0m3 25h0m1-3h0m0 5h0m2-25h0m0 6h0m2-2h0m4-2h0m2 18h0m1-6h0m0-12h0m2 18h0m0-10h0m1-1h0m1 9h0m3 0h0m4 3h0m2-1h0m1 3h0m-140 6h0m3 8h0m6-5h0m4 8h0m5-9h0m4 2h0m5 15h0m1-9h0m3 4h0m2 9h0m2 1h0m0 0h0m5-20h0m2 11h0m0 3h0m1-9h0m0-6h0m1 22h0m4 10h0m3-18h0m0-7h0m2 14h0m0-4h0m3 23h0m0-17h0m0-11h0m3-11h0m0 9h0m1 0h0m0 26h0m1-11h0m0-20h0m1 5h0m0 6h0m0 22h0m6-20h0m1 2h0m0 23h0m3-44h0m2 34h0m1 7h0m2-4h0m1-38h0m1 37h0m4-25h0m0 22h0m1-18h0m0-16h0m1 22h0m1 28h0m0-21h0m1-18h0m0 16h0m1-4h0m0 17h0m1-12h0m0-3h0m2 9h0m1-23h0m3-11h0m0 26h0m3 15h0m1-38h0m1 22h0m1 6h0m1 6h0m1 7h0m1-38h0m1 30h0m1-4h0m2-15h0m1 11h0m0-9h0m0 11h0m1-21h0m3-3h0m1 12h0m1-7h0m0 12h0m1-16h0m1 9h0m2 0h0m1 3h0m1-13h0m0 6h0m2-7h0m1 7h0m0 3h0m0-7h0m1 1h0m0 9h0m0-9h0m5 0h0m0 3h0m1 0h0m4-8h0m2-2h0m-55 97h0m21-7h0m5 13h0m1-24h0"/><path stroke="#E58700" d="M2169 700h0m3-16h0m0 5h0m4-13h0m2 3h0m0 7h0m0 1h0m0-7h0m1 9h0m0-2h0m2 4h0m1 18h0m0-17h0m0 5h0m1-11h0m0 21h0m1-3h0m0 9h0m0-8h0m0-30h0m2 42h0m2-8h0m0 2h0m1-7h0m0 12h0m0 3h0m1-21h0m0 13h0m1-1h0m0-20h0m2 13h0m0-2h0m0-13h0m0 29h0m1-15h0m1-13h0m1 26h0m1 3h0m0-18h0m1 13h0m1-2h0m0-9h0m3 6h0m0-27h0m2 31h0m0-31h0m1 27h0m1-33h0m0 34h0m1-12h0m0-12h0m0 25h0m0 7h0m2-41h0m0 22h0m1 7h0m0-13h0m1-11h0m0-2h0m0 13h0m1 15h0m0-11h0m1-7h0m1 7h0m0-1h0m1-16h0m0 16h0m1-8h0m1 31h0m0-38h0m1 29h0m1 2h0m0 1h0m1 7h0m3-31h0m1 10h0m1 0h0m0 6h0m3-21h0m0-9h0m2 22h0m1 10h0m1-2h0m1-5h0m0-2h0m0 15h0m2-37h0m1 25h0m3-1h0m1-10h0m2 1h0m0 1h0m0 6h0m0 21h0m1-45h0m1 7h0m0 13h0m0 13h0m0 10h0m0-26h0m1-5h0m0 31h0m1-26h0m3 21h0m0-18h0m0-1h0m1-9h0m1 32h0m0 4h0m0-7h0m1-14h0m1 3h0m1 16h0m1-30h0m0 1h0m2 9h0m1 9h0m5-7h0m0-7h0m3 22h0m0-11h0m3 13h0m-95 13h0m1 4h0m0-2h0m5 19h0m0-25h0m2 6h0m2 4h0m2-11h0m7 15h0m2-3h0m0-2h0m3-7h0m0 4h0m0 0h0m1 9h0m0-20h0m0 5h0m1 19h0m1-1h0m0 13h0m2-31h0m0 2h0m1-5h0m2 37h0m1 2h0m1-16h0m1 15h0m0 1h0m1-32h0m0-1h0m1-1h0m0 31h0m1-13h0m0-18h0m0-2h0m1 39h0m0-25h0m0-9h0m0-6h0m2 6h0m1 24h0m0-31h0m3 32h0m1-18h0m0 22h0m1-20h0m2 36h0m1-27h0m0 11h0m2-35h0m0 21h0m3-5h0m1-9h0m0-9h0m1 36h0m2-33h0m0 23h0m0 1h0m1-7h0m0 4h0m1-12h0m2-3h0m0 11h0m0 4h0m0 31h0m1-11h0m0-18h0m0-12h0m2-4h0m0 23h0m0 7h0m2-8h0m1 12h0m0-20h0m1-6h0m0 14h0m1 10h0m2-4h0m0-22h0m0-7h0m0 43h0m1 0h0m0 7h0m1-22h0m0-36h0m0 39h0m1-5h0m0-32h0m1 53h0m0-13h0m0-23h0m0 28h0m2-40h0m0 14h0m1 24h0m0-17h0m0-10h0m0-3h0m1 31h0m1-18h0m0 9h0m0 14h0m0-30h0m1 32h0m1-14h0m0 17h0m0-9h0m3-40h0m0 30h0m2-30h0m0 6h0m4 30h0m0 21h0m1-48h0m0-3h0m1 1h0m0 20h0m1 10h0m1-29h0m1 18h0m2-11h0m4 39h0m3-50h0"/><path stroke="#00BF7D" d="M2498 718h0m23-1h0m4 2h0m2-3h0m12 0h0m1 4h0m5-3h0m9-2h0m-87 65h0m1-1h0m9-6h0m2 6h0m2-11h0m0 10h0m1-34h0m0-13h0m1 18h0m0 27h0m1-24h0m0 21h0m1-13h0m0-1h0m0-10h0m1 28h0m0 6h0m0-40h0m0 37h0m1-23h0m1 4h0m2-8h0m1-13h0m0 38h0m1-44h0m0 6h0m1 16h0m2 22h0m0-8h0m1-20h0m1-22h0m2 18h0m0 16h0m1-33h0m1 10h0m1-1h0m0 0h0m3-2h0m0 11h0m1 14h0m1-30h0m1 34h0m1-10h0m1 16h0m0 3h0m0 7h0m3-57h0m0 32h0m0-11h0m0 17h0m0-12h0m1-4h0m0 11h0m1-3h0m1 21h0m0-48h0m1-1h0m0 13h0m0-6h0m1 5h0m0 12h0m0 16h0m1-32h0m0-5h0m0 27h0m0 10h0m2-7h0m0-5h0m1 16h0m1-8h0m0 12h0m1-7h0m1-38h0m0 7h0m1 5h0m0 9h0m2-18h0m0-8h0m1 42h0m0 3h0m0-34h0m1 15h0m1-13h0m0-9h0m0 8h0m1 10h0m1 14h0m0-2h0m1 9h0m2-12h0m0-23h0m2-3h0m0 36h0m0-35h0m1 22h0m0 0h0m4-3h0m2 12h0m2-31h0m1 31h0m1 1h0m0-28h0m6 3h0m0 8h0m0-10h0m2-14h0m0 16h0"/><path stroke="#FD61D1" d="M2004 230h0m2-10h0m10 19h0m-14 44h0m0 6h0m2 5h0m2-19h0m2 0h0m1-5h0m1 2h0m0 17h0m0-4h0m3 3h0m0-12h0m0 2h0m1-6h0m1 25h0m2-51h0m1 48h0m0 3h0m1-4h0m0-1h0m1 15h0m0-32h0m2 17h0m1-7h0m1 14h0m2-29h0m0 15h0m1-17h0m0 37h0m2-35h0m0-2h0m0 7h0m2 20h0m1 11h0m3-9h0m1 1h0m1-9h0m1-5h0m0 0h0m1-10h0m1 21h0m0 8h0m2-16h0m1-17h0m0 22h0m0-15h0m1 32h0m1-8h0m2-14h0m6-20h0"/><path stroke="#00BD5F" d="M2101 787h0m3 9h0m2-2h0m0-19h0m3 22h0m10-20h0m0 17h0m3-15h0m0 19h0m2 0h0m2-17h0m0 5h0m1-4h0m5 0h0m0 6h0m0 6h0m6-12h0m1 16h0m0 1h0m2-26h0m1 23h0m0-19h0m1 3h0m0-22h0m0 21h0m2 12h0m0-15h0m3-7h0m0 23h0m1-34h0m2 27h0m1-6h0m1 4h0m1-19h0m1 23h0m0 7h0m0-13h0m1-4h0m0-13h0m2 18h0m1-14h0m1-7h0m1 21h0m0-43h0m0 22h0m0 7h0m2 28h0m3-30h0m2-11h0m3 11h0m0 11h0m3-3h0m0 8h0m3 16h0m1-8h0m0 6h0m1-5h0m1-36h0m0 11h0m0 31h0m0 2h0m0-12h0m6-24h0m1 17h0m1 11h0m1 8h0m4-5h0m1 6h0m1-12h0m0-20h0m0 16h0m1-17h0m0 31h0m4-32h0m-101 52h0m14-11h0m1 17h0m0-19h0m0 1h0m2 18h0m1-19h0m1 6h0m0 0h0m0 7h0m2 2h0m2-9h0m1-3h0m0-8h0m5 4h0m2 3h0m7 15h0m3-4h0m1-11h0m2 16h0m3-10h0m3 6h0m2 3h0m0-14h0m1 1h0m12 12h0m0 0h0m2-2h0m3-1h0m0-3h0m1-14h0m0 2h0m1 17h0m1-18h0m6 6h0m1 5h0m5-4h0m9-1h0m1-1h0"/><path stroke="#E76BF3" d="M1924 379h0m3-10h0m1 18h0m0-4h0m1-8h0m0 4h0m2 4h0m2-10h0m0-13h0m2-5h0m1 5h0m1 29h0m0-1h0m3-16h0m2-2h0m1-9h0m2 16h0m1-10h0m0 5h0m1-18h0m1-2h0m0 22h0m1 2h0m0-27h0m1 29h0m2-7h0m0-4h0m1-5h0m0 9h0m2-5h0m1-16h0m3 17h0m0-2h0m1 16h0m1-33h0m0 17h0m1-4h0m0-8h0m0 11h0m2-6h0m1 8h0m0-10h0m4 3h0m0-11h0"/><path stroke="#619CFF" d="M2194 799h0m3-2h0m20-10h0m4-2h0m3 7h0m0 3h0m5 4h0m1-1h0m2 1h0m5-5h0m4-7h0m4-6h0m4 17h0m-67 24h0m5 12h0m1-5h0m1 28h0m2-37h0m0-8h0m0 2h0m1 9h0m2 34h0m0-52h0m0 32h0m1 4h0m1 5h0m2-18h0m0-16h0m0 46h0m1-23h0m1-6h0m2-3h0m5 1h0m0 2h0m0-1h0m0 23h0m1-26h0m3 36h0m0-32h0m1 32h0m1-32h0m2 16h0m0-5h0m1-27h0m1-12h0m2 33h0m0-19h0m1 32h0m1 12h0m2-12h0m0-9h0m0 4h0m0-5h0m1 25h0m0-31h0m0-29h0m2 22h0m0 31h0m1 7h0m1 0h0m0-27h0m1-11h0m1 11h0m1-20h0m1-11h0m4 1h0m1 17h0m0 9h0m2-17h0m0-6h0m1 53h0m2 6h0m1-43h0m0 44h0m1-66h0m0 30h0m1-10h0m2 28h0m1 12h0m2-58h0m2 31h0m1-28h0m1 28h0m3-18h0m0 12h0m1 23h0m0-43h0m1 41h0m2-45h0m1 3h0m2 18h0m4 9h0m1 6h0"/><path stroke="#00B7E9" d="M2249 232h0m4 2h0m1-2h0m1-7h0m13-3h0m1-8h0m6 15h0m6 6h0m1-1h0m1 2h0m0-9h0m1-6h0m0 9h0m1-7h0m0 13h0m2-10h0m1 14h0m0-17h0m0 15h0m1-2h0m8-1h0m-80 30h0m1-9h0m1 3h0m1 8h0m1-15h0m0 20h0m1 1h0m0-1h0m1-13h0m1 1h0m0-14h0m1 14h0m1-7h0m1 16h0m2 7h0m0 2h0m1-24h0m0 2h0m2 48h0m4-14h0m1-17h0m1-26h0m1 16h0m1-1h0m1 20h0m0-14h0m1-27h0m1 61h0m0-52h0m2 44h0m0-50h0m0 27h0m1 22h0m0 7h0m0-35h0m0 18h0m1-27h0m0-4h0m0-11h0m1 21h0m1 15h0m1 12h0m0-47h0m0 26h0m0 17h0m1-1h0m2 5h0m0-12h0m2-5h0m1-21h0m2-2h0m0 43h0m1 10h0m1-14h0m1 29h0m1-3h0m3-13h0m0-4h0m0-33h0m1 32h0m1-24h0m0-4h0m1-27h0m0 78h0m1-34h0m2-35h0m0 61h0m1 4h0m1-15h0m0-43h0m0-12h0m3-4h0m1 8h0m1 20h0m1 42h0m0-52h0m1-13h0m0 41h0m1-10h0m5-3h0m0 9h0m1-24h0m0-13h0m0 30h0m2-30h0m1-6h0m2 3h0m1 5h0m2 0h0m-36 88h0m1 2h0m2-1h0m0 6h0m2-10h0m0 15h0m1 1h0m0-13h0m2 24h0m1-28h0m1 9h0m1 16h0m0-17h0m3-3h0m2-2h0m1-14h0m0 31h0m3-21h0m1-6h0"/><path stroke="#00BFC4" d="M2133 955h0m5 0h0m0-17h0m0 13h0m2 0h0m1 4h0m1-9h0m3 8h0m0-5h0m1-4h0m4-15h0m1 27h0m1-25h0m1-5h0m1 0h0m1 29h0m0-10h0m0 0h0m1 9h0m1 3h0m1-2h0m1-2h0m0 4h0m0-8h0m0-25h0m1 19h0m0-15h0m0 6h0m1 12h0m1 4h0m1-31h0m0-23h0m2 32h0m0-9h0m2 22h0m2-11h0m2-5h0m4-16h0m1 22h0m1-39h0m1 24h0m0 37h0m1-36h0m0 28h0m0-20h0m0 24h0m0 7h0m1-56h0m1 2h0m2 56h0m1-59h0m3 1h0m2 3h0m0 48h0m1-46h0m3-3h0m1-13h0m-66 82h0m0-4h0m2 5h0m3-10h0m2 19h0m5-19h0m4 12h0m0-10h0m1-3h0m1 17h0m0-6h0m1-10h0m0 20h0m1 2h0m0 0h0m1-2h0m1-21h0m0-1h0m0 5h0m3-3h0m3 6h0m1 17h0m0-17h0m3 21h0m0-14h0m3 15h0m2-10h0m2 6h0m0-6h0m4-7h0m2-2h0m1-11h0m2 15h0m1 9h0m3-21h0m2 0h0m5 1h0"/><path stroke="#F564E3" d="M2033 794h0m10 6h0m2-10h0m1 6h0m1 4h0m0-7h0m4-7h0m2-1h0m4 6h0m0-1h0m1-8h0m3 9h0m1 5h0m6-16h0m1 6h0m2-2h0m1 0h0m3 8h0m2 0h0m3-16h0m5 17h0m2 5h0m1-6h0m7-20h0m-54 28h0m0 4h0m0 6h0m1-9h0m1 7h0m1 5h0m2 5h0m2-11h0m5-4h0m4 3h0m0 13h0m1 17h0m0-10h0m2-24h0m1 17h0m2-12h0m1 1h0m1 18h0m2-15h0m0 7h0m2 5h0m0-6h0m1 12h0m6-3h0m0-21h0m3 5h0m0 17h0m3-24h0m1 27h0m1 9h0m1-17h0m4-17h0m1 1h0m1 6h0m0-1h0m1 15h0m2 14h0m1-32h0m0-2h0m4 29h0"/><path stroke="#D89000" d="M2190 204h0m1-31h0m0 12h0m2 1h0m2 10h0m1 3h0m0 16h0m0-38h0m1 21h0m1-20h0m1 16h0m2 29h0m1-31h0m1 31h0m0-1h0m1-23h0m1 16h0m0 4h0m1-36h0m1 0h0m2 3h0m1 32h0m1-30h0m0-8h0m3 0h0m1 5h0m1 5h0m1 36h0m1-16h0m0-22h0m3 17h0m1-29h0m1 7h0m0 52h0m0-40h0m2-3h0m1 12h0m0 5h0m0 21h0m1-19h0m2 15h0m6-34h0m2 43h0m1-37h0m0-5h0m1-2h0m1 19h0m0 20h0m3-20h0m0 18h0m1 0h0m2 3h0m1 3h0m0 3h0m2 0h0m0-33h0m1 21h0m1-21h0m2 9h0m1-11h0m3 37h0m5-30h0m1 3h0m-31 30h0"/><path stroke="#6BB100" d="M2017 177h0m0-3h0m1 46h0m0-21h0m1-7h0m0-12h0m1 11h0m0 42h0m1-24h0m0 0h0m1-16h0m0 7h0m0-12h0m1-8h0m1 35h0m3-16h0m0-6h0m0-14h0m6-2h0m2 33h0m0-17h0m1 24h0m0-30h0m0-11h0m0 39h0m1-44h0m1 67h0m1 1h0m0-4h0m2-4h0m1-61h0m0 1h0m0 16h0m0-9h0m1 23h0m0-27h0m1 17h0m0-14h0m1-7h0m0 39h0m0 18h0m0-26h0m0 33h0m3-37h0m1-28h0m1 21h0m1 21h0m1-38h0m1 54h0m0-5h0m0-14h0m1 11h0m0-26h0m1 46h0m0-7h0m1-34h0m0 19h0m2 21h0m1-42h0m2 38h0m1-57h0m0 18h0m1 24h0m1 11h0m0-13h0m2 15h0m0-29h0m1 2h0m1-9h0m1-9h0m0 15h0m0-18h0m1 26h0m1-3h0m0-38h0m0 5h0m1 17h0m1 43h0m0-14h0m1-35h0m1 39h0m1-37h0m0 24h0m1-40h0m0 55h0m1-41h0m2 43h0m2-24h0m1 25h0m0-47h0m2 9h0m0-2h0m2 0h0m0 22h0m1-6h0m0-20h0m1-9h0m0 20h0m1 43h0m0-14h0m2-30h0m1-5h0m0 4h0m1-23h0m1 10h0m2-9h0m0 18h0m0 14h0m1 1h0m1-3h0m4-7h0m1 35h0m1-32h0m1 22h0m0-39h0m5 49h0m0-5h0m1-19h0m2 17h0m0-10h0m1 9h0m1-10h0m1 7h0m2-11h0m-76 46h0m2 0h0m1-8h0m1 4h0m1 7h0m16-10h0m5 12h0m2-10h0m3-2h0m7-2h0m2 4h0m1-5h0m2-2h0m4 10h0m1-7h0m1 2h0m5-6h0m6-1h0"/><path stroke="#FF62BC" d="M2278 795h0m2 2h0m9 2h0m-24 19h0m2-4h0m4-6h0m0 9h0m1-12h0m1 12h0m2-16h0m0 26h0m3-20h0m2 23h0m1-18h0m0 10h0m1 12h0m0-7h0m1-13h0m1-4h0m1 2h0m1 16h0m0-25h0m1 13h0m0-15h0m1 17h0m2-12h0m1 16h0m3-6h0m1-7h0m0 13h0m6-2h0"/><path stroke="#FE6E8A" d="M2307 464h0m1 7h0m1-5h0m1-2h0m0-3h0m4 8h0m-15 13h0m13 0h0"/><path stroke="#00B0F6" d="M2308 556h0m2-3h0m11 7h0m1-6h0m3-20h0m6 3h0m2 22h0m0-9h0m2-21h0m4 15h0m0 4h0m1 10h0m3 1h0m1-18h0m2 2h0m1 6h0m2-9h0m0 19h0m1-8h0m0-14h0m5 19h0m2 2h0m1-28h0m0 22h0m2-18h0m0 18h0m1-14h0m1 17h0m0-5h0m6-9h0m0 16h0m1-27h0m1-5h0m1 31h0m0-22h0m1-11h0m0 34h0m1-1h0m1-17h0m1-5h0m1-7h0m1 4h0m2 19h0m0-22h0m0 25h0m1 0h0m0-27h0m3 1h0m1-5h0m0 13h0m3 4h0m7-15h0m0 15h0m4-8h0m0-5h0m0-1h0m-98 42h0m3 12h0m1-2h0m1-13h0m3 5h0m2 9h0m7-15h0m3 3h0m3-5h0m1 0h0m2 11h0m10-5h0m0 3h0m2 2h0m5 1h0m4-7h0m5 6h0m2-6h0m9-3h0m1 11h0m2-9h0m1-4h0m2 2h0m2 3h0m14 116h0m2-1h0m3-19h0m2 13h0m0 4h0m1-6h0m2 14h0"/><path stroke="#B983FF" d="M2112 696h0m3-6h0m1 17h0m2-20h0m0 10h0m1-17h0m1 8h0m1 8h0m0 3h0m1-17h0m1 26h0m2 10h0m0-23h0m1-8h0m0 26h0m1-12h0m1 6h0m0-22h0m0 21h0m1 5h0m0-3h0m1-15h0m0 17h0m1 2h0m0-5h0m1 2h0m1-3h0m0-11h0m1-7h0m0 22h0m0-34h0m1 41h0m0-30h0m0-11h0m1 15h0m0-16h0m1 0h0m1 2h0m1 28h0m0 3h0m0-38h0m0-1h0m1 17h0m0-18h0m1 19h0m1-12h0m3 42h0m0 1h0m0 1h0m3-44h0m1 44h0m0-22h0m1-24h0m0 26h0m1 16h0m0 0h0m1-31h0m0 24h0m1-22h0m0-5h0m1 8h0m0 4h0m1 9h0m0 5h0m0-21h0m1-9h0m0 4h0m0 25h0m1-1h0m1-27h0m0 6h0m1 12h0m4-1h0m3 25h0m1-33h0m-66 66h0m18-27h0m9 23h0m3-13h0m2 1h0m1 9h0m9-20h0m3-4h0m3 1h0m2-1h0m2 5h0"/><path stroke="#39B600" d="M2193 880h0m9-1h0m12-5h0m-44 49h0m1-28h0m1 14h0m2 1h0m2 12h0m0-19h0m1 11h0m0 5h0m1 3h0m0 13h0m0-5h0m1-31h0m0 48h0m3-49h0m0 39h0m0-37h0m1 24h0m0 2h0m0 7h0m1-12h0m1-16h0m1 40h0m0 10h0m0-4h0m2 3h0m1-68h0m3 63h0m2-38h0m1-4h0m2 49h0m1-17h0m0 5h0m0-34h0m2 37h0m0 2h0m0-51h0m0-14h0m1 48h0m0-33h0m1 38h0m0-21h0m1-6h0m0-27h0m0 33h0m2-34h0m4 42h0m0 13h0m2-10h0m1-12h0m0 18h0m0 16h0m1-44h0m1 2h0m1-11h0m0-10h0m1 55h0m0-15h0m1 20h0m1-59h0m1 53h0m0-24h0m1-20h0m1 0h0m1 0h0m2 16h0m1 2h0m1 17h0m1-10h0m0-26h0m1 26h0m0 10h0m1-39h0m0 15h0m0 39h0m1-30h0m1-4h0m1 20h0m0-39h0m1 7h0m0-12h0m2 23h0m-77 81h0m5 0h0m4 1h0m2 8h0m2-16h0m0 1h0m0 13h0m5 6h0m1-4h0m0 4h0m4-21h0"/><path stroke="#00BCD8" d="M2230 879h0m17 0h0m4-4h0m0 1h0m12-5h0m-28 41h0m3-15h0m0 32h0m0 10h0m2-16h0m0-21h0m0 8h0m0 5h0m1 33h0m1-31h0m1-29h0m0 24h0m1-12h0m0 29h0m0-10h0m1-13h0m0-6h0m2 3h0m2 43h0m0 11h0m0-11h0m1-55h0m0-2h0m1 2h0m1 25h0m0 1h0m1 25h0m0-14h0m1-12h0m0 39h0m0-24h0m0-22h0m0 11h0m1 32h0m0-36h0m1-1h0m0-2h0m0 26h0m0 15h0m1-24h0m0 15h0m0-25h0m0 16h0m0-46h0m1 52h0m1-4h0m0 12h0m0-12h0m0-36h0m2-11h0m1 13h0m0 15h0m1 13h0m2-22h0m1 3h0m0 34h0m2-10h0m1-39h0m0 47h0m0-22h0m1-3h0m1-4h0m0 22h0m1-7h0m1-22h0m1 31h0"/><path stroke="#9590FF" d="M2290 779h0m16-20h0m2 5h0m1 9h0m4-27h0m2 22h0m0-7h0m4 37h0m0-25h0m2 13h0m1-37h0m1 26h0m3 24h0m4-1h0m2-33h0m1 0h0m5 16h0m2 3h0m5-49h0m1 28h0m0-33h0m1 45h0m1-10h0m5-6h0m2-31h0m1 2h0m2 5h0m6-3h0m1 61h0m2-45h0m1 21h0m0-24h0m1 24h0m3-37h0m0 11h0m0-5h0m3-1h0m1-1h0m4 19h0m0-26h0m3-3h0m0 12h0m-67 67h0m1-4h0m18 17h0m0 1h0m1-3h0m1 0h0m2-12h0m5-2h0"/><path stroke="#FF67A4" d="M2484 700h0m6 13h0m3-10h0m3-4h0m0-5h0m4 12h0m1-6h0m7-6h0m0 13h0m1-5h0m0 5h0m0-1h0m2-9h0"/><path stroke="#D376FF" d="M2701 402h0m5 0h0m0 5h0m0-1h0m0-4h0m1 11h0m0-7h0m1 7h0m4 7h0m4-17h0m1 6h0m1-7h0m0 13h0m0 11h0m2-18h0m1 9h0m6-8h0m0 18h0m1 10h0m1-6h0m1 5h0m0-25h0m0 4h0m0 13h0m1-15h0m0 9h0m1-5h0m2 22h0m3-7h0m2 12h0m1-25h0m5 11h0m4 11h0m4 8h0"/><path stroke="#F8766D" d="M2123 128h0m2 28h0m7 1h0m1-24h0m14 24h0m4 3h0m2-4h0m1-16h0m2 10h0m5-3h0m1 4h0m2-7h0m2 4h0m0 6h0m1-10h0m1 15h0m0-17h0m0 16h0m1-6h0m5-6h0m1-1h0m2 4h0m0 8h0m1-6h0m2-1h0m1 2h0m3-11h0m8 9h0m0 7h0m5 3h0m6-6h0m2 3h0m0-3h0m-106 68h0m0 14h0m1 1h0m2-6h0m0-1h0m1-3h0m1-11h0m3-10h0m1-33h0m0 46h0m0 7h0m4-32h0m1 39h0m2-6h0m2 7h0m2-44h0m0 48h0m0-47h0m1 6h0m0-30h0m1 8h0m0 29h0m0 9h0m1-27h0m0 3h0m0-1h0m1 14h0m0 36h0m0-31h0m0-17h0m0-24h0m1 30h0m0 37h0m1-2h0m1-29h0m0-30h0m1 47h0m0-1h0m0-47h0m1 40h0m0-31h0m0 29h0m0-5h0m1 28h0m0-9h0m0 6h0m0-57h0m2 44h0m0-22h0m0 7h0m1 20h0m1-30h0m0 4h0m0-10h0m1-14h0m0 7h0m0 28h0m1-30h0m0 17h0m1-18h0m0 31h0m1-39h0m0 18h0m1 42h0m1-13h0m0 13h0m1-10h0m1-16h0m0-15h0m1-22h0m0 36h0m0 33h0m1-50h0m0-22h0m0 19h0m1-2h0m0 44h0m0 3h0m1-50h0m0 30h0m0-20h0m2 40h0m0-17h0m0 19h0m2-63h0m0 29h0m1-25h0m0 57h0m0-5h0m1 8h0m0-27h0m1-34h0m0 5h0m1-3h0m1 31h0m0 36h0m0-23h0m1-31h0m0 22h0m1 30h0m0-28h0m0-40h0m0 31h0m1-2h0m0 4h0m0-2h0m0-26h0m0 18h0m1 3h0m0-28h0m1-4h0m0 20h0m0 12h0m1-30h0m0 41h0m0 33h0m2-15h0m0-41h0m0 21h0m0 15h0m1 1h0m0 10h0m0-47h0m1-15h0m0 63h0m1-48h0m0-12h0m0 28h0m1 30h0m0 1h0m1-65h0m0 52h0m0-1h0m0-25h0m1-23h0m0 30h0m1-34h0m0 0h0m0 15h0m1-8h0m0 67h0m0-56h0m0 29h0m0 23h0m1-10h0m0-12h0m1-3h0m0 31h0m0-60h0m1-15h0m0 66h0m1-10h0m1 3h0m0-50h0m1 46h0m0 18h0m0-11h0m0-55h0m1 62h0m0-22h0m1-2h0m0 26h0m1-37h0m0 23h0m1-36h0m0-17h0m0-2h0m1 6h0m0 26h0m0 30h0m1 0h0m3-50h0m0 11h0m1 42h0m0-31h0m1 5h0m0 12h0m0 6h0m1-25h0m0 0h0m1-7h0m0 48h0m1-17h0m0-16h0m0-23h0m1-7h0m1 18h0m0 32h0m0-7h0m1-2h0m1-36h0m0-7h0m1-10h0m0 42h0m1-23h0m0 50h0m0-25h0m1-21h0m3 13h0m0 15h0m1-47h0m0 8h0m0-2h0m1 11h0m0 22h0m1 27h0m2-71h0m0 78h0m1-1h0m0-26h0m0 20h0m0-21h0m1 18h0m0-47h0m0 7h0m1 45h0m0-45h0m0 21h0m2-12h0m0 19h0m1 13h0m1-56h0m0 59h0m1-19h0m1 9h0m0 2h0m1-14h0m1-12h0m-123 44h0m2-3h0m0 7h0m3-4h0m1 4h0m1 10h0m0 3h0m1-13h0m0 10h0m6-15h0m0 27h0m4-17h0m0 16h0m1-17h0m3-7h0m0 11h0m1 13h0m0-25h0m0 8h0m2 21h0m1-22h0m0 17h0m2-26h0m2 11h0m0 19h0m0-3h0m0 4h0m0-16h0m1 4h0m2-7h0m2-6h0m1 26h0m1-18h0m1 20h0m1-10h0m0-6h0m1-16h0m5 15h0m1 2h0m1-6h0m0 6h0m1-6h0m0 1h0m0 11h0m1 7h0m2-15h0m1 10h0m2 1h0m1-11h0m2 20h0m0-29h0m1 24h0m0-9h0m2 2h0m0 3h0m0 13h0m0-28h0m1 10h0m0 8h0m1-13h0m1 6h0m1-19h0m1 24h0m0 1h0m0-11h0m0 6h0m1-12h0m0 20h0m1-29h0m0 0h0m2 13h0m0-10h0m0-3h0m1 30h0m1-5h0m2 5h0m1-17h0m1 12h0m0-24h0m2 32h0m0-22h0m0 18h0m3-9h0m1-18h0m1-6h0m0 35h0m3-27h0m0 12h0m1 22h0m2-9h0m3 6h0m0-39h0m1 11h0m1 29h0m2-39h0m1 15h0m0-6h0m1-5h0m1 36h0m0-32h0m1 8h0m0-14h0m0 24h0m2 10h0m0-18h0m2-14h0m1-5h0m0 26h0m1 16h0m0 3h0m0-20h0m1 6h0m2-22h0m0-10h0m2 15h0m2 21h0m2-6h0m0-1h0m4-15h0m0-2h0m1 26h0m1-20h0"/><path stroke="#E58700" d="M2167 680h0m2 32h0m0-19h0m1 12h0m2-9h0m1 3h0m0 14h0m2 5h0m0-8h0m1-23h0m0 18h0m1 7h0m1-7h0m0-18h0m2 11h0m3-2h0m0-15h0m0 7h0m0 23h0m0-27h0m1-1h0m0 20h0m0 4h0m0-10h0m3 19h0m0-32h0m4 25h0m2 7h0m1 1h0m1-16h0m0 0h0m1-5h0m0-21h0m1 40h0m1-26h0m0 25h0m0-5h0m2-9h0m3 8h0m2-23h0m1 3h0m0-8h0m2 34h0m1-19h0m1 18h0m0-21h0m1-15h0m0 9h0m0-12h0m0 41h0m1-14h0m0 5h0m0 12h0m1-13h0m0-10h0m0-9h0m2 7h0m0 25h0m0 1h0m0-20h0m1 20h0m1-40h0m0 23h0m1-7h0m0 7h0m2-5h0m1-17h0m1-6h0m0 38h0m1-7h0m1-7h0m1 9h0m1-26h0m1 3h0m0 12h0m1-13h0m1 16h0m1-5h0m1 4h0m0 3h0m4 13h0m1-9h0m1 7h0m0-19h0m1 13h0m0 10h0m3-6h0m0 8h0m1-5h0m0-2h0m1-21h0m0 1h0m1 3h0m2-8h0m1-2h0m4 17h0m2-10h0m2 28h0m0-30h0m1 17h0m0-7h0m0 10h0m2 3h0m0-28h0m0 35h0m1-21h0m0 8h0m1-21h0m0 22h0m1-4h0m0-13h0m0 15h0m1-10h0m0 8h0m1 15h0m1-4h0m1-4h0m2 3h0m0-3h0m1-1h0m-96 18h0m1-2h0m4 15h0m2-15h0m0 5h0m1-4h0m1 4h0m3 7h0m1-6h0m1 6h0m4-14h0m2 1h0m2 19h0m3-20h0m0 17h0m1 2h0m1 2h0m2-19h0m1 18h0m0-8h0m1 10h0m0 16h0m3-35h0m0 30h0m1-22h0m0 3h0m1-7h0m0 7h0m1-15h0m0 12h0m1 31h0m1-21h0m0 20h0m0-35h0m1-5h0m1 28h0m0-19h0m1 8h0m1-15h0m0 8h0m0 21h0m1 3h0m1-29h0m1 2h0m0 27h0m0 8h0m0-19h0m3-18h0m0 43h0m0-11h0m2-4h0m1-10h0m1 6h0m0 2h0m3-9h0m1-15h0m2 29h0m0-38h0m1 54h0m0-10h0m0-42h0m1 28h0m2 25h0m0-25h0m2-7h0m0 7h0m0-14h0m1-10h0m0 32h0m0-37h0m1 11h0m1 13h0m0 4h0m1 5h0m0-20h0m1 0h0m1 41h0m0-23h0m1 13h0m1-42h0m0 9h0m1 6h0m0-16h0m0 43h0m0-42h0m0 27h0m0 27h0m1-29h0m1 7h0m0 22h0m0-53h0m0 16h0m1 7h0m1 19h0m1-21h0m1 23h0m0-45h0m3 46h0m1-34h0m0 45h0m1-3h0m1-18h0m1-32h0m2 41h0m1 5h0m1-1h0m1-37h0m0 20h0m0-36h0m1 24h0m0-25h0m0 60h0m0-7h0m1-45h0m0 48h0m0-51h0m1 49h0m0-18h0m1-13h0m1 13h0m1 3h0m1-17h0m0-15h0m0-6h0m0 34h0m1-22h0m8 50h0"/><path stroke="#39B600" d="M2219 873h0m-48 27h0m1 10h0m1 0h0m0-1h0m1-3h0m0-2h0m4 5h0m1 10h0m1 28h0m0-60h0m1 46h0m3-6h0m1-41h0m0 3h0m1 65h0m0 1h0m0-14h0m1-50h0m0 63h0m1-48h0m0 45h0m1-67h0m0 58h0m1 8h0m0-44h0m1 26h0m2-42h0m0 67h0m3-66h0m0 32h0m1 16h0m0 4h0m0 3h0m0-52h0m1 7h0m1 7h0m0 32h0m0-12h0m0 31h0m0-24h0m1-16h0m1-31h0m1 19h0m0 51h0m2-44h0m0-34h0m2 59h0m1-48h0m0 56h0m1-18h0m0 23h0m0-47h0m1-13h0m0-9h0m1 54h0m0 1h0m1-14h0m2-13h0m1 38h0m1-21h0m0 9h0m0 5h0m0-25h0m3-18h0m1 19h0m1 24h0m0-14h0m0-47h0m0 47h0m3 15h0m0-1h0m0-34h0m1 7h0m0 25h0m0-60h0m2 23h0m0 8h0m0 17h0m2 21h0m1-60h0m1 29h0m0 11h0m1-2h0m2-25h0m1 17h0m1-3h0m0-4h0m-72 89h0m1-5h0m2-4h0m1 3h0m5 10h0m1-10h0m0-8h0m1 16h0m1-18h0m0 6h0m2 1h0m0 3h0m3 5h0m1 0h0m1-6h0m28-31h0m10 1h0"/><path stroke="#00B7E9" d="M2236 238h0m3-4h0m9 2h0m6-3h0m2 5h0m1-6h0m4-1h0m2 6h0m1-18h0m3 18h0m1-3h0m0-1h0m1-8h0m3 13h0m0-6h0m4 7h0m0-21h0m3 8h0m3-3h0m2 5h0m1-9h0m6 15h0m-79 30h0m0 9h0m1-13h0m0 29h0m4-15h0m1 10h0m0-27h0m0 27h0m1-12h0m2-15h0m0 15h0m2-5h0m1 20h0m0 3h0m1-21h0m2 16h0m0-7h0m1-34h0m0 17h0m2-9h0m0 32h0m0-44h0m0 15h0m2 17h0m2 9h0m0 17h0m2-40h0m1 33h0m0-15h0m2 11h0m2-19h0m0 13h0m3-8h0m0-12h0m0 38h0m0-53h0m1 47h0m0-13h0m0-2h0m1 23h0m1-25h0m0-25h0m1 44h0m0-17h0m1-2h0m0-17h0m0-10h0m1-4h0m0 46h0m1-36h0m0 52h0m0-65h0m1 30h0m1 18h0m1 23h0m0-11h0m1-50h0m0 31h0m1-28h0m0 51h0m0-34h0m1-17h0m0-14h0m2 4h0m1 74h0m0-33h0m1-8h0m1-29h0m0 53h0m1 7h0m1-40h0m1-20h0m2 17h0m0 19h0m1-1h0m0 0h0m0-25h0m1 54h0m1-14h0m0-36h0m1 22h0m0-20h0m0 8h0m2-21h0m0 11h0m0-15h0m1 35h0m0 37h0m1-77h0m1 23h0m0-1h0m1 20h0m1 6h0m1-3h0m0-43h0m0 73h0m0-24h0m0-35h0m1 3h0m0 34h0m0-32h0m1-22h0m0 62h0m1-36h0m0-6h0m3-20h0m6 17h0m-29 85h0m2 4h0m1-10h0m0 9h0m3-10h0m3-4h0m1-8h0m0 22h0m0 8h0m2-18h0m2 13h0m0-28h0m2 28h0m2-24h0"/><path stroke="#00BF7D" d="M2509 719h0m12-1h0m13 1h0m2-2h0m6-4h0m3 6h0m4 0h0m4-7h0m0 6h0m-80 63h0m1-1h0m5 6h0m2-11h0m0-2h0m2 7h0m0-36h0m0 24h0m0 10h0m1-33h0m1 8h0m1 29h0m0-13h0m0 7h0m0 7h0m2-37h0m0-8h0m1 27h0m0-24h0m0 33h0m0-21h0m0 9h0m1 10h0m0-38h0m0 30h0m3-2h0m1 17h0m0-34h0m1 24h0m2-30h0m0 41h0m0-22h0m1 28h0m0-46h0m1-8h0m0 0h0m0 28h0m0 16h0m0 1h0m1-44h0m0 5h0m0 14h0m1 21h0m0-1h0m2-43h0m0 12h0m0 24h0m2-36h0m0 18h0m0 12h0m0-23h0m3 40h0m1-46h0m0 14h0m0 5h0m0 5h0m1 4h0m7 14h0m0-51h0m0 17h0m1 6h0m1 19h0m0-11h0m1 21h0m1-42h0m0-8h0m1 24h0m0-6h0m0-1h0m0 18h0m1 17h0m0-45h0m0 14h0m2-23h0m2 21h0m2-7h0m1 21h0m0-22h0m1 1h0m0-10h0m1 17h0m1 6h0m0-3h0m1 17h0m0-35h0m1 37h0m1 2h0m1-26h0m0-16h0m1 5h0m1-7h0m1 44h0m1-28h0m4-2h0m2-6h0m0 19h0m1-23h0m1 19h0m3 3h0m1-28h0m0 31h0m6-29h0"/><path stroke="#B79F00" d="M2157 465h0m0-14h0m0 14h0m2 13h0m1-20h0m0 15h0m1 2h0m1-6h0m0 4h0m0-20h0m0-1h0m0-18h0m1 36h0m1-12h0m1-3h0m0-3h0m3 5h0m0 21h0m1-16h0m0-30h0m0 22h0m1 1h0m0-1h0m1 16h0m1-11h0m1-33h0m0 15h0m0-24h0m1-9h0m0 39h0m0-13h0m1 6h0m0-23h0m1 51h0m0 8h0m1-1h0m0 5h0m1-49h0m2 7h0m0-1h0m2-5h0m1 42h0m0-19h0m1-22h0m2 36h0m0 6h0m1-19h0m2-2h0m0-41h0m0 17h0m1 1h0m0 14h0m1 31h0m0-9h0m1-8h0m0 15h0m1-55h0m0-14h0m0 59h0m0-36h0m0 0h0m1-16h0m1 9h0m0 13h0m0-27h0m2 42h0m0 13h0m3-37h0m0 9h0m1 6h0m1-29h0m0-5h0m1 55h0m0-20h0m1 22h0m0 14h0m1-71h0m0 37h0m1-10h0m0 21h0m2-4h0m2 19h0m1-5h0m0-34h0m1 21h0m1-4h0m2 26h0m1 1h0m2-38h0m1 5h0m5-1h0m0 25h0m3 3h0m1-19h0m1 19h0m2-17h0m2 2h0m-67 34h0m2 3h0m1-6h0m2 1h0m0-2h0m3 4h0m1-1h0m0 0h0m3-5h0m3 13h0m0-7h0m1-1h0m5-4h0m0 15h0m2-8h0m0-3h0m0-3h0m1 9h0m0-5h0m3 9h0m1-4h0m2 4h0m0-15h0m2 3h0m1 15h0m3-14h0m2-4h0m1 22h0m2-8h0m2 8h0m0-7h0m0-16h0m5 17h0m0-16h0m3 6h0"/><path stroke="#00BA38" d="M2254 396h0m3 3h0m-37 16h0m0 33h0m1 8h0m3 0h0m5-18h0m2-3h0m0 34h0m1-35h0m1 13h0m0 12h0m1-4h0m0 4h0m1 13h0m0-57h0m1 50h0m0 12h0m1-31h0m0 13h0m1 11h0m0-2h0m0-27h0m1 15h0m0 11h0m3-4h0m0-1h0m2 2h0m0 4h0m0 8h0m0-54h0m1 32h0m0-51h0m1 29h0m1-5h0m0-12h0m1 36h0m0 25h0m1-3h0m1-65h0m0 55h0m1-41h0m0 45h0m0 9h0m1-28h0m1 10h0m0-18h0m0 14h0m1 9h0m0-59h0m0 72h0m0-2h0m1-13h0m2 1h0m0-21h0m1 27h0m1-22h0m0-10h0m2 25h0m1-27h0m0 0h0m1 21h0m1 6h0m0 16h0m1-66h0m0 46h0m2-19h0m1 5h0m2 8h0m1 29h0m0-28h0m0 3h0m0-14h0m1 14h0m1 17h0m1-12h0m4 3h0m2 17h0m4-2h0m-62 14h0m0 11h0m1 5h0m0-4h0m1 4h0m1-15h0m7-12h0m1 0h0m0 13h0m2 14h0m1 4h0m1 3h0m0-6h0m1 2h0m0 8h0m1-16h0m1 11h0m0-31h0m1 12h0m4 9h0m0 22h0m2-15h0m2-22h0m2 20h0m0-10h0m4-18h0m1 14h0m0-3h0m0 8h0m1-14h0m0 25h0m1-28h0m0 17h0m0-3h0m1-8h0m0 18h0m0-10h0m0-6h0m0-1h0m1 0h0m4 42h0m0-14h0m3 12h0m0-22h0m1 13h0m0 8h0m2-4h0m0-37h0m0 16h0m0 29h0m1-10h0m1-1h0m0-21h0m1-12h0m0 34h0m1-43h0m0 43h0m1-39h0m0 18h0m1 19h0m0-19h0m1-6h0m0-15h0m1 43h0m0-11h0m2 10h0m1-26h0m1 15h0m2 1h0m1-12h0m0 38h0m1-32h0m2 13h0m0 22h0m0-40h0m0 39h0m2-55h0m1 53h0m2 0h0m0 0h0m0-1h0m2-4h0m0-3h0m1-22h0m1 33h0m1-28h0m1 38h0m0-30h0m1-29h0m1 55h0m6-34h0m2 12h0"/><path stroke="#F564E3" d="M2046 799h0m0-9h0m2 8h0m3-5h0m0 1h0m3-12h0m3 18h0m4-15h0m1 0h0m1 6h0m7 6h0m1 2h0m2-1h0m2-8h0m1 7h0m6-12h0m1 9h0m5 6h0m12-21h0m-70 22h0m4 1h0m5 3h0m5 11h0m7-7h0m0-4h0m1 10h0m1-9h0m2 13h0m2-19h0m1 9h0m0-8h0m2 14h0m4 7h0m1-16h0m0 24h0m2-16h0m3-11h0m0 16h0m3-2h0m3 0h0m2-4h0m1 7h0m1 8h0m0-14h0m0 28h0m1-16h0m0-22h0m1 1h0m1 2h0m2 2h0m1 18h0m1-6h0m1-11h0m0 22h0m1-30h0m0 8h0m4-7h0m4 10h0"/><path stroke="#00BFC4" d="M2128 932h0m3 24h0m3-11h0m4 6h0m0 5h0m0-22h0m2 5h0m0 3h0m3 4h0m1-10h0m0-5h0m2 6h0m1 14h0m4-14h0m0 20h0m0-13h0m0 7h0m1-13h0m3 12h0m0-24h0m1 28h0m1-23h0m1 27h0m0-35h0m1 29h0m0-19h0m0-11h0m0 24h0m2 6h0m0-9h0m1-24h0m0 0h0m0 7h0m1-25h0m0 19h0m1 33h0m0-1h0m0-10h0m0-14h0m1-5h0m1 7h0m1 11h0m0 5h0m1-38h0m0-10h0m0 56h0m1-9h0m0-23h0m1-4h0m2 9h0m0 20h0m0-20h0m1-29h0m1 47h0m0-41h0m1-11h0m1 7h0m2 33h0m0 2h0m0 21h0m1-66h0m1 68h0m0-69h0m0 59h0m2-45h0m1-16h0m3 14h0m1 6h0m2-21h0m7 8h0m-63 75h0m3 2h0m5 2h0m1 12h0m1-18h0m2-1h0m0 3h0m4 10h0m1-1h0m1-11h0m2 3h0m0 17h0m2-10h0m2-6h0m1-2h0m0 17h0m0-19h0m1 16h0m2-13h0m1-6h0m0-3h0m2 15h0m1-4h0m1-12h0m1 24h0m1-17h0m0 4h0m0 19h0m2-29h0m0 15h0m1-13h0m0 15h0m2 4h0m0-21h0m1 16h0m1 8h0m1-11h0m1 5h0m2-5h0m0-9h0m5 22h0m1 0h0m2-25h0"/><path stroke="#619CFF" d="M2195 797h0m9-1h0m9-7h0m0 8h0m2-8h0m5 3h0m6-3h0m2-2h0m12 12h0m1-14h0m3-4h0m0 10h0m7-1h0m13 3h0m-85 40h0m3 10h0m4-27h0m3 13h0m2 22h0m1-26h0m2 5h0m1-7h0m0-21h0m1 26h0m1 12h0m1-13h0m2-10h0m3 20h0m5 14h0m0-11h0m1 21h0m0-53h0m1 15h0m0 17h0m1 21h0m0-31h0m1 29h0m2-56h0m2 55h0m2-56h0m2 21h0m1 39h0m3-20h0m3 4h0m0-5h0m2 12h0m0-17h0m0-9h0m0 0h0m1 15h0m0-14h0m0 22h0m1-49h0m2 59h0m2-19h0m0-8h0m1 33h0m2-20h0m0-40h0m1-2h0m0 66h0m0-26h0m1 19h0m2-39h0m0 27h0m1 13h0m2-55h0m0 31h0m1 13h0m1 16h0m2-64h0m2 62h0m1-56h0m1 4h0m0 6h0m1 39h0m1-49h0m2 42h0m1-16h0m1-8h0m0 8h0m2 19h0m0-29h0m1 4h0m0 17h0m2 15h0"/><path stroke="#00BCD8" d="M2236 878h0m13-2h0m2 2h0m10-10h0m6 8h0m-37 16h0m2 29h0m3-14h0m1 2h0m0 3h0m0 16h0m1-5h0m1-29h0m1 50h0m0-43h0m0 44h0m1 1h0m1 5h0m0-31h0m1 5h0m0 22h0m0-46h0m0 7h0m1 22h0m1-22h0m0-5h0m1 23h0m1-31h0m1 39h0m1-6h0m1-37h0m1 18h0m0-10h0m2 45h0m0-49h0m0 50h0m1-43h0m1 2h0m0 50h0m1-31h0m1 28h0m0-8h0m1 6h0m0-37h0m0-17h0m0-2h0m2 47h0m0-9h0m1-32h0m0 32h0m0-41h0m0-8h0m1 19h0m2 24h0m1 2h0m1 20h0m0-16h0m2-2h0m1 6h0m0-4h0m0-39h0m1 20h0m0 12h0m1-20h0"/><path stroke="#B983FF" d="M2116 694h0m1-15h0m2 25h0m0-23h0m1 13h0m0-1h0m1 18h0m2-21h0m0-9h0m0 35h0m0-20h0m0-8h0m0 26h0m1-24h0m0 4h0m1 14h0m0-34h0m2 11h0m1 27h0m0-26h0m1 29h0m0 5h0m2-37h0m0 35h0m0-46h0m0 8h0m1 7h0m0 1h0m0 10h0m2-25h0m1 14h0m1 9h0m0-7h0m1 6h0m0-7h0m1-13h0m0 8h0m0 15h0m0 1h0m1-24h0m0 20h0m2 18h0m1-18h0m0-27h0m1 2h0m2 17h0m0-5h0m0 19h0m0-23h0m1 37h0m0-34h0m2 11h0m0 0h0m1-14h0m2 34h0m1 1h0m1-17h0m1 10h0m1 3h0m2-7h0m0-9h0m1-12h0m2 13h0m1-2h0m0-7h0m3 10h0m0-1h0m2 6h0m0 2h0m1-8h0m1 8h0m-57 43h0m0 9h0m6-33h0m0 27h0m4-13h0m8-6h0m2 29h0m1-4h0m7-14h0m0 12h0m2-7h0m5-24h0m4 11h0m11-4h0m5-5h0"/><path stroke="#A3A500" d="M1876 557h0m1-1h0m4-2h0m4-4h0m1 10h0m8-7h0m1-11h0m3 8h0m1 2h0m1-6h0m0 3h0m2-1h0m1-8h0m0 4h0m2 2h0m0 3h0m1 4h0m0-10h0m1 16h0m1-8h0m8 2h0m3-8h0m1-8h0m3 1h0m1 21h0m1-22h0m3 11h0m3-3h0m0-1h0m6 3h0m4 4h0m11 0h0m-90 23h0m3-2h0m0 21h0m1-27h0m0 11h0m2-11h0m1 16h0m1-15h0m1-4h0m0 2h0m1 0h0m0 16h0m1-10h0m1-1h0m3 10h0m1 6h0m3 10h0m6-2h0m0-9h0m1-9h0m0 25h0m0-34h0m2 36h0m0-6h0m0-22h0m1-1h0m2 1h0m1 29h0m0-39h0m0 21h0m1-20h0m0 43h0m0-2h0m0-31h0m3-7h0m0 2h0m2 20h0m0-11h0m1 19h0m1 10h0m2-14h0m0-2h0m1-20h0m2-4h0m1-7h0m0 15h0m1 6h0m1-4h0m0-6h0m2-1h0m0-5h0m1 13h0m0-11h0m2 6h0m0 19h0m0-34h0m2 35h0m1-19h0m0-1h0m2-2h0m0 8h0m0 5h0m2-7h0m0-17h0m3 23h0m2 5h0m0-8h0m3-11h0m3 13h0m1-23h0m0 24h0m2-14h0m0-5h0m2-5h0m4 15h0m2-15h0m2 6h0m4 7h0"/><path stroke="#00C097" d="M1996 129h0m6 7h0m3 4h0m0 0h0m0-8h0m0-7h0m1-3h0m1 27h0m1-1h0m1 1h0m2-28h0m0 9h0m1 12h0m2-17h0m1 25h0m0-44h0m1 10h0m0 39h0m0-46h0m1 16h0m1 17h0m0 6h0m1-8h0m1 5h0m0-23h0m1 19h0m0-20h0m1-4h0m0 28h0m0-16h0m0-7h0m0 3h0m2-21h0m1 26h0m0-20h0m1 36h0m0-26h0m1 5h0m1 18h0m0-13h0m1-13h0m1-17h0m1 45h0m0-29h0m0 24h0m1 7h0m0-49h0m0 14h0m1-4h0m1 14h0m1 4h0m0 24h0m1-25h0m0-25h0m1 12h0m2 29h0m0-27h0m1-4h0m0-11h0m0 29h0m0 21h0m0-27h0m1 28h0m2-51h0m0 56h0m0-30h0m2 13h0m0-31h0m0 2h0m1 3h0m0 19h0m0 8h0m0-18h0m1 23h0m1 11h0m0-30h0m0-24h0m1 31h0m0 13h0m1-4h0m0 1h0m1 8h0m0-5h0m0-32h0m0 36h0m1-42h0m0-2h0m0 38h0m1 15h0m3-33h0m0-1h0m1-6h0m0-4h0m0 18h0m0-18h0m1-2h0m0-1h0m1-7h0m0 50h0m0-24h0m0-6h0m1-17h0m0 5h0m1 5h0m3 16h0m0-27h0m1 0h0m0 32h0m1 12h0m0-21h0m1-3h0m1-6h0m2 26h0m1-1h0m0-22h0m0 17h0m0 1h0m1-26h0m2 0h0m1 25h0m1-17h0m0 29h0m0-20h0m0-14h0m1 2h0m0 16h0m1 7h0m0-33h0m0 13h0m1-10h0m0 14h0m0 25h0m1-7h0m0 6h0m1-22h0m2-7h0m0 11h0m0-5h0m2 1h0m2-16h0m0 6h0m2 21h0m1 9h0m1-5h0m2 3h0m1-1h0m7-16h0m4 17h0m-71 16h0m1-2h0m2 0h0m12 8h0m4-5h0m2 3h0m3 4h0m0-11h0m0 11h0m3-4h0m1 8h0m1-11h0m3-3h0m0 2h0m5 1h0m5 5h0m6-9h0"/><path stroke="#8AAB00" d="M2419 717h0m0-5h0m0-3h0m3 10h0m0-22h0m1-10h0m2 9h0m2 3h0m1-16h0m1 37h0m0-6h0m4-25h0m1 20h0m0-19h0m0-12h0m2 9h0m1-10h0m2 41h0m1-36h0m0 15h0m1 2h0m0-1h0m1-11h0m1-12h0m0 1h0m4 26h0m2-15h0m1 7h0m1 16h0m1 2h0m4-27h0m2 17h0m3 15h0m1-28h0m1 27h0m0-9h0m1-7h0m3 17h0m2 2h0m2-31h0m6 23h0m6 8h0m-93 48h0m2-18h0m1-11h0m2 8h0m1-19h0m0 35h0m1 10h0m1-23h0m2 24h0m0-49h0m1 40h0m1 11h0m1-13h0m1 4h0m1-11h0m1-19h0m1 30h0m3 11h0m1-11h0m2-38h0m0 24h0m0 8h0m0-1h0m1-26h0m0 18h0m2 14h0m0-36h0m1-1h0m0-7h0m2 21h0m0 0h0m1-2h0m1-12h0m1 4h0m1 47h0m1-36h0m0 25h0m0-42h0m0-4h0m1 53h0m0-34h0m0 5h0m2-3h0m0 37h0m1 3h0m0-57h0m1 51h0m1 8h0m0-21h0m0-20h0m1-3h0m0 23h0m3 11h0m1-39h0m2 45h0m2-3h0m0-17h0m0 20h0m1-26h0m0 2h0m1-21h0m0 6h0m1 19h0m0 19h0m1-22h0m1-36h0m0 49h0m2-36h0m0 16h0m0 21h0m0-18h0m1-31h0m1 33h0m0-12h0m1-10h0m0-7h0m0 19h0m0-24h0m1 59h0m0-37h0m0 20h0m1 11h0m2-22h0m0 3h0m1 23h0m0-47h0m1 13h0m1-17h0m0 1h0m0 17h0m0-21h0m0 42h0m1-23h0m0 24h0m2-23h0m1 33h0m1-57h0m0 21h0m2-21h0m1 15h0m0 46h0m0-11h0m1-45h0m1 11h0m1-17h0m0 19h0m0 16h0m0-9h0m1 7h0m0 22h0m1-25h0m0-16h0m2 15h0m2-22h0m0 2h0m1 25h0m1-4h0m4-8h0m0 8h0"/><path stroke="#E76BF3" d="M1923 386h0m3-16h0m0 9h0m1-8h0m0 0h0m0-4h0m1 5h0m0-5h0m1 5h0m1 0h0m1 10h0m2-2h0m1-24h0m0 13h0m2-5h0m0-6h0m2 9h0m0 23h0m0-8h0m1-10h0m1 13h0m1-30h0m0 20h0m1-11h0m2 7h0m0-7h0m1 1h0m1 3h0m0 7h0m0-3h0m1 0h0m2-16h0m0-7h0m2 13h0m0 23h0m1-22h0m0-17h0m0 8h0m1 1h0m0-4h0m0 32h0m1-20h0m1 1h0m1-7h0m0 36h0m3-27h0m0-17h0m1 24h0m0 7h0m2-37h0m1 19h0m1 4h0m0-4h0m1-10h0m1 1h0"/><path stroke="#C99800" d="M2132 131h0m18 1h0m1 2h0m4-2h0m1-13h0m1 5h0m1 7h0m0 5h0m1-8h0m3 2h0m0-24h0m2 13h0m1 17h0m1 5h0m0-2h0m2-1h0m2 4h0m3-18h0m0-20h0m1 20h0m0 5h0m2 0h0m2-21h0m0 8h0m1 18h0m0 10h0m2-16h0m0-14h0m1 29h0m0-27h0m1-3h0m0 11h0m0-7h0m2 8h0m0-14h0m0-4h0m1-4h0m1 47h0m1-30h0m1 5h0m0 8h0m1-25h0m1 4h0m0-9h0m1 8h0m1-9h0m0 49h0m0-17h0m1-20h0m0 14h0m1 13h0m1-36h0m0 47h0m1-18h0m1-7h0m0 11h0m0-30h0m2 20h0m0-14h0m1 7h0m1 16h0m0-27h0m0 17h0m1 32h0m0-39h0m0-10h0m1 43h0m0-11h0m1-24h0m1-21h0m0 38h0m1-19h0m0 43h0m0-28h0m0-29h0m0 25h0m0-16h0m0-2h0m0 42h0m0-34h0m1-1h0m0 20h0m0 16h0m1-4h0m2 6h0m0-38h0m0-6h0m0 4h0m2 1h0m1 38h0m0 0h0m0 5h0m2-60h0m0 9h0m1 2h0m3 32h0m1-9h0m1-21h0m0 8h0m0-3h0m1 5h0m1 5h0m0-24h0m1 16h0m1-4h0m0-12h0m1 0h0m0 19h0m1 38h0m2-32h0m1 16h0m0-8h0m1 24h0m0-33h0m2 20h0m0-29h0m1 35h0m0-32h0m1 20h0m4 17h0m1-52h0m0 26h0m4-10h0m0 12h0m0-1h0m1 1h0m0 7h0m0-6h0m0-18h0m1 41h0m0-13h0m0-19h0m1 18h0m0-31h0m0-2h0m0 48h0m0-14h0m1-23h0m0 32h0m2-19h0m3-22h0m3 42h0m1-12h0m3-16h0m1-9h0m0 39h0m1-27h0m0 9h0m0 12h0m1-16h0m0-2h0m1-11h0m1 33h0m1-22h0m1-7h0m0 10h0m1-6h0m1-1h0m1 23h0m0-8h0m1-17h0m1 27h0m0-3h0m0-4h0m3-1h0m2-27h0m1 28h0m1 13h0m0-15h0m4 14h0m1-18h0m2 6h0m1-9h0m0 23h0m7-2h0m-100 10h0m6-6h0m4 4h0m2 6h0m2-8h0m1 9h0m0 5h0m3 0h0m5-1h0m1 2h0m1 9h0m0-23h0m1 6h0m3 4h0m2 11h0m2-11h0m0 2h0m1 20h0m0-15h0m0-16h0m2 23h0m2-10h0m2 19h0m0-12h0m1-8h0m1-3h0m1 3h0m1-16h0m0 2h0m1 0h0m0 28h0m0 8h0m0-38h0m1 5h0m0 26h0m3 4h0m1-13h0m1-19h0m0 33h0m0-4h0m0 2h0m0-16h0m0 22h0m2-9h0m1 7h0m0 3h0m2-40h0m0 51h0m1-10h0m2-30h0m0-13h0m2 50h0m1-8h0m0 10h0m1-3h0m1-25h0m0-19h0m2 44h0m0-1h0m1-25h0m0 6h0m2-25h0m1 15h0m1-14h0m2 53h0m0-54h0m0 22h0m3-2h0m0 27h0m2 2h0m0-26h0m0 31h0m3-26h0m1 25h0m1-27h0m1-18h0m0 19h0m0 31h0m0-21h0m0-33h0m1 23h0m0 25h0m0-17h0m1-29h0m1-6h0m0 8h0m0 22h0m0 0h0m0 0h0m2 18h0m0 2h0m1-33h0m1-2h0m0 25h0m0-6h0m1-7h0m0-23h0m1 52h0m1-42h0m1 21h0m0-22h0m3 41h0m0-38h0m2 21h0m1 1h0m1-30h0m0 0h0m1 17h0m3 21h0"/><path stroke="#00A7FF" d="M2099 829h0m9-6h0m1 10h0m2 7h0m1-8h0m1-8h0m1 24h0m2-22h0m1 22h0m1-3h0m0-26h0m0 52h0m1-34h0m1 25h0m1-13h0m0-13h0m1 2h0m0 35h0m0-6h0m0-35h0m1 14h0m1-2h0m0 21h0m0-40h0m1 38h0m1-24h0m0-3h0m0 3h0m1 39h0m1-31h0m0-9h0m1 9h0m0 12h0m1-25h0m1-7h0m0 0h0m0 33h0m1 2h0m1-35h0m0 6h0m1 28h0m0-22h0m1-11h0m0 24h0m1-4h0m1 8h0m1-21h0m0 1h0m0 31h0m0-41h0m0 26h0m0-1h0m4 20h0m1-30h0m1-18h0m1 4h0m0 0h0m0 50h0m1-14h0m1 2h0m2-25h0m3 14h0m1-9h0m0 20h0m0-37h0m3 39h0m0-10h0m0-14h0m4 8h0m1-12h0m5 34h0m3-1h0m2 7h0m2-46h0m2 30h0m6 5h0m-50 24h0m6 29h0m1-23h0m3 15h0m1-13h0m1 3h0m0-1h0m1 17h0m4 1h0m0-29h0m3 18h0m2 5h0m0-7h0m4-7h0m1-13h0m2 23h0m1-19h0m5-8h0m0 28h0m1-9h0m1-19h0m2 17h0m2-12h0"/><path stroke="#EF7F49" d="M2054 306h0m3-7h0m0 3h0m2 6h0m0 7h0m4-1h0m1 5h0m1-24h0m0 2h0m0 1h0m1 7h0m0 1h0m1-3h0m1-30h0m1 25h0m5-6h0m0 14h0m2-18h0m1 17h0m0-5h0m1 0h0m1-4h0m0 17h0m1 6h0m0-12h0m2-16h0m3 15h0m0-20h0m1 29h0m1-37h0m0 10h0m0 27h0m2-19h0m2-13h0m3 2h0m0 5h0m0 19h0m1-16h0m2 19h0m2-19h0m0 18h0m0-3h0m1-28h0m0 20h0m1-2h0m2 20h0m0-26h0m0-13h0m1 24h0m1-25h0m1-4h0m0 22h0m1-4h0m1 19h0m0-5h0m1-22h0m0-1h0m2 12h0m0 12h0m1-14h0m1-3h0m2 11h0m0 12h0m0-26h0m0 19h0m4-2h0m1-13h0m0-4h0m1 30h0m1-27h0m0-12h0m1 30h0m2 10h0m0-36h0m1 15h0m3 18h0m2-8h0m1-25h0m1 9h0m0 16h0m1-1h0m1-11h0m0 7h0m2-17h0m0 34h0m2-5h0m4-35h0m0 20h0m3-11h0m1 8h0m1 15h0m0 8h0m1-18h0m2 13h0m0-20h0m0 25h0m2-35h0m0 31h0m3-19h0m1-7h0m1-5h0m3 8h0m4-4h0m1-11h0m5 10h0m4 18h0m2-11h0m1 19h0m3 3h0m0 3h0m1-3h0m1 1h0m0-19h0m1-12h0m4 6h0m5 16h0m1-7h0m0 5h0m1-7h0m0-7h0m1 25h0m1-13h0m0 9h0m1-7h0m0 3h0m0-2h0m1 1h0m2 11h0m4-13h0m3 6h0m0-5h0m-137 17h0m4-2h0m11 4h0m2 12h0m3 0h0m1-11h0m0 6h0m5-4h0m1 5h0m0-5h0m4 16h0m1 0h0m0-18h0m5 3h0m2 21h0m2 3h0m4-25h0m1 8h0m0-7h0m1 6h0m12 4h0m1 24h0m3-36h0m1 27h0m1 11h0m3-18h0m1-3h0m1-22h0m0 68h0m1-33h0m0 6h0m0-12h0m1-3h0m1-10h0m0-2h0m0 28h0m1-37h0m0 35h0m0-18h0m1 7h0m1-10h0m0 16h0m0-33h0m0 1h0m4 5h0m0-3h0m1 69h0m0-36h0m1 7h0m1-39h0m1 31h0m1-17h0m1 5h0m0-22h0m0 65h0m2-34h0m1-1h0m3-7h0m1-14h0m3-13h0m0 60h0m0 15h0m1-64h0m0-7h0m1-4h0m2 72h0m1-37h0m1-12h0m0-1h0m1 40h0m2-26h0m2-25h0m1-5h0m1 70h0m0-30h0m0-30h0m1-8h0m0 7h0m0-7h0m1 26h0m1-28h0m2 5h0m0-9h0m4-3h0m2 5h0m2 18h0m0-9h0m2-13h0m5 15h0m0-12h0m3 11h0m-53 70h0m21-1h0m1 3h0m0 15h0m17-8h0"/><path stroke="#FD61D1" d="M1999 284h0m5 20h0m3-30h0m1-1h0m1 33h0m1-4h0m1-3h0m1-17h0m0 2h0m2-1h0m1-10h0m1 15h0m0-22h0m2 6h0m1-2h0m1-6h0m0 19h0m2 13h0m1-42h0m2 52h0m2-3h0m0-31h0m0 23h0m4-6h0m1-16h0m1 15h0m0 2h0m0 6h0m1 8h0m1-14h0m2 4h0m1-19h0m0 10h0m1-4h0m1 7h0m0 11h0m2-21h0m0 0h0m1-2h0m2 20h0m0 3h0m1 3h0m1-18h0m1-7h0m1 0h0m3 7h0m9-3h0"/><path stroke="#9590FF" d="M2381 718h0m-72 60h0m4 6h0m5 10h0m0-3h0m1 4h0m4-16h0m1-23h0m0-6h0m4-1h0m0 7h0m2-23h0m2 45h0m0-35h0m5-5h0m2 30h0m1-19h0m0-16h0m2 20h0m0 23h0m1-41h0m0 21h0m2-29h0m0 31h0m1-2h0m3 31h0m1-6h0m0-32h0m0 13h0m0 21h0m2-15h0m0-30h0m1 36h0m3-21h0m2-2h0m2 10h0m6 3h0m0-15h0m0 47h0m0-33h0m2-37h0m3 0h0m0 62h0m1-66h0m1 10h0m4 45h0m1-20h0m11-36h0m-62 95h0m6 3h0m10-12h0m5-1h0m17-6h0"/><path stroke="#D89000" d="M2191 201h0m1-27h0m0 23h0m1 6h0m1-13h0m5-1h0m2-11h0m4 12h0m0-13h0m1-9h0m1 20h0m1-4h0m1 6h0m1-3h0m3 24h0m1-21h0m1-7h0m1 17h0m1 25h0m1-22h0m0-14h0m0 32h0m1 11h0m0-18h0m1-1h0m2 20h0m0-22h0m3 20h0m0-30h0m0-10h0m1 1h0m2 22h0m0-27h0m2 41h0m0-41h0m1 50h0m3-16h0m0-27h0m1 36h0m1-20h0m0 8h0m1-21h0m0 30h0m1 2h0m0-38h0m1 22h0m1-11h0m0-10h0m3 45h0m2-21h0m2-20h0m4 6h0m5 33h0m0-15h0m2 5h0m1-17h0m1 5h0m1 13h0m2 1h0m-24 15h0"/><path stroke="#00B0F6" d="M2314 554h0m1-4h0m2 5h0m7-6h0m0 7h0m1-9h0m2-1h0m0-23h0m1-3h0m3 22h0m1 9h0m1-1h0m2-13h0m0 12h0m1-2h0m1-4h0m1 6h0m2-9h0m0 8h0m4-20h0m1 16h0m1 12h0m1-16h0m0 7h0m0-32h0m0 26h0m0 14h0m2-9h0m0-9h0m1 15h0m9 5h0m0-2h0m0-3h0m1-1h0m1-13h0m2-15h0m1 20h0m1 16h0m1-28h0m1 19h0m1-13h0m0-3h0m2 18h0m1-1h0m2-8h0m1-18h0m1 12h0m1 2h0m0 2h0m1-2h0m4-4h0m2 7h0m1-11h0m1 1h0m0-2h0m2-3h0m1 20h0m0-26h0m0 2h0m2 8h0m0-2h0m0-6h0m1 11h0m-87 33h0m1 3h0m0-6h0m2-3h0m3 6h0m0-1h0m0 11h0m6-1h0m1-4h0m1-6h0m3 5h0m2-11h0m1 9h0m0 6h0m1-13h0m7 10h0m2-7h0m0 10h0m12-5h0m4-7h0m6 9h0m2-9h0m3 4h0m0-1h0m8-3h0m1 0h0m16 116h0m0-10h0m2 9h0m1-2h0m0 4h0m4-13h0m2 4h0m3-3h0"/><path stroke="#00C0AF" d="M2209 318h0m16-12h0m3 9h0m3 4h0m4-8h0m5 5h0m5 2h0m-120 50h0m13 2h0m9-5h0m0-1h0m8 9h0m5 2h0m2-4h0m3 0h0m1-4h0m3 2h0m1 7h0m27-29h0m1 37h0m0-13h0m4-33h0m1 12h0m1 22h0m0-16h0m0-13h0m1 18h0m1-8h0m0 7h0m3 16h0m0-22h0m0-30h0m0 48h0m2-28h0m2-2h0m0 35h0m0-49h0m0 22h0m1-11h0m1-12h0m0 27h0m1-17h0m0 44h0m2 18h0m0-5h0m0-9h0m0 11h0m0-49h0m2 51h0m1-67h0m0 9h0m1 5h0m1 22h0m0 16h0m0 1h0m1 14h0m0-31h0m1-10h0m0 43h0m0-17h0m0-24h0m1-25h0m1-6h0m2 8h0m0 61h0m1-61h0m0 45h0m1-51h0m0 45h0m0-27h0m1-12h0m1 47h0m1-61h0m0 62h0m0-10h0m0-37h0m0 28h0m2-10h0m2-13h0m0 24h0m1 25h0m1-1h0m0-23h0m0-22h0m1-1h0m1 31h0m0-47h0m0 25h0m1 39h0m1-2h0m0-10h0m2-9h0m0-38h0m0 21h0m0-24h0m0 9h0m0 32h0m0 4h0m0 20h0m2-64h0m0 61h0m0 3h0m0-2h0m1-56h0m1 46h0m1-54h0m1-6h0m0-1h0m0 33h0m1-28h0m0 60h0m1-50h0m1 56h0m0-29h0m0-24h0m1 32h0m0-1h0m1-26h0m0 12h0m0 11h0m0-44h0m0 72h0m2-48h0m0 30h0m0 19h0m1-2h0m1-6h0m0-1h0m1-23h0m1-12h0m0 26h0m2-40h0m0 37h0m2-23h0m-50 54h0m3-5h0m8 12h0m3 1h0m0 15h0m0-6h0m2-14h0m1 15h0m1 4h0m1-6h0m1-9h0m0 17h0m0-11h0m0-14h0m2 18h0m1-5h0m0-10h0m0 2h0m2 15h0m1 2h0m2-23h0m3 1h0m3 25h0m1-19h0m0 15h0m1-16h0m0-1h0m0-1h0m0-5h0m10 7h0"/><path stroke="#00BD5F" d="M2099 783h0m7 15h0m12-8h0m2-14h0m1 0h0m3 15h0m0-15h0m0 23h0m0-27h0m1 24h0m0-18h0m0 20h0m2-1h0m0-20h0m1 7h0m1 6h0m1 9h0m2-2h0m2-19h0m2 14h0m0-17h0m1 5h0m2 3h0m2-11h0m1-2h0m1 28h0m3 0h0m1-26h0m2-13h0m1 15h0m0 15h0m0-28h0m1 4h0m1 5h0m1 24h0m0-8h0m0-49h0m1 37h0m0 1h0m2-2h0m1-17h0m0 17h0m2 1h0m0 14h0m2-2h0m1-5h0m0 7h0m0-27h0m0 29h0m1-15h0m0-4h0m1-7h0m0-14h0m2 32h0m0-6h0m1 13h0m0-4h0m1 9h0m0-17h0m1-2h0m1 1h0m0-19h0m1 9h0m1 20h0m1-15h0m1-9h0m1 0h0m1 4h0m1 22h0m0-19h0m2 8h0m1 7h0m1-4h0m0-17h0m1 6h0m0 27h0m1-18h0m0 10h0m1-29h0m2 28h0m0 11h0m1-6h0m1-4h0m3-1h0m0-18h0m0 25h0m2-22h0m1 22h0m0-1h0m1-12h0m0 2h0m1-10h0m0 23h0m3-13h0m0 7h0m3 1h0m2-10h0m-101 22h0m2 4h0m1 2h0m1-1h0m4-3h0m1 11h0m2-10h0m1 9h0m1 1h0m1-9h0m2-2h0m4 3h0m1 3h0m1 7h0m0 7h0m2-3h0m2-1h0m2 1h0m0 0h0m3-20h0m0 5h0m0 9h0m2-8h0m0 12h0m1-7h0m0 8h0m1-9h0m2 9h0m4-19h0m1 10h0m0-6h0m1 3h0m2-8h0m0 9h0m3 5h0m4-5h0m0 9h0m4 6h0m2-8h0m3-1h0m3-1h0m0-13h0m1 24h0m0-17h0m1-6h0m0 5h0m1-3h0m0 7h0m1-11h0m0 1h0m1 1h0m1 19h0m2-4h0m4-5h0m5-13h0m2 3h0"/><path stroke="#6BB100" d="M2012 181h0m1-2h0m1 17h0m3-20h0m1 26h0m1-18h0m1 3h0m4 50h0m0-18h0m0-27h0m2 36h0m0-26h0m2-13h0m0-6h0m0 11h0m1-20h0m1-4h0m1 38h0m1-1h0m0-38h0m0 62h0m3-48h0m0 8h0m0 48h0m1-3h0m0-26h0m1-17h0m0 14h0m0-21h0m0-19h0m1 49h0m0-2h0m0 8h0m1-4h0m1-33h0m0 2h0m0 51h0m2-68h0m0 49h0m1-27h0m1 46h0m1-30h0m0-39h0m3 26h0m0 24h0m1-19h0m0 31h0m4-30h0m0-21h0m0 23h0m1 2h0m2 22h0m0 12h0m0-22h0m0 12h0m2 1h0m0-36h0m1-14h0m0-11h0m2 14h0m1 38h0m0-31h0m0 16h0m0-18h0m1-6h0m0-4h0m1 52h0m0-25h0m1 28h0m1-27h0m0 1h0m0-11h0m1 4h0m1-8h0m0 3h0m1 7h0m0-18h0m1 21h0m1-16h0m0 20h0m0-37h0m1 4h0m0 55h0m3-42h0m0 6h0m1 38h0m0-40h0m1 46h0m1-66h0m1 40h0m0-13h0m1 25h0m1-39h0m0 4h0m1 49h0m0-46h0m1 38h0m2 2h0m0 2h0m2-15h0m1 16h0m0-42h0m1-16h0m1-5h0m1 34h0m1-11h0m0 27h0m0 12h0m0-30h0m1-24h0m0-5h0m1 55h0m0-43h0m0-4h0m2-12h0m2 20h0m0-15h0m1 17h0m2-14h0m0-1h0m1 22h0m1 20h0m0-3h0m1-22h0m1 9h0m0 4h0m0 24h0m0-52h0m0 50h0m1-20h0m0-25h0m1 2h0m1 33h0m0 8h0m0-32h0m1 38h0m0-15h0m1 1h0m0 6h0m3 3h0m1-14h0m-74 37h0m3-3h0m1 0h0m4-1h0m3 1h0m0-1h0m1 0h0m4-8h0m3 0h0m1 18h0m0-15h0m2 10h0m2-12h0m2 1h0m1 3h0m3-2h0m1 4h0m2 3h0m12 11h0m2-18h0m0 9h0m1-2h0m13-9h0"/><path stroke="#D376FF" d="M2704 412h0m2-8h0m3 8h0m2 2h0m1 14h0m2-7h0m2 1h0m0-18h0m3 14h0m1-15h0m1 18h0m1 1h0m1 4h0m3 9h0m0-2h0m1-20h0m1 7h0m1-2h0m0 2h0m0-14h0m0 17h0m0 8h0m1-24h0m1 15h0m0-6h0m1 6h0m2-5h0m1 5h0m2 17h0m1-12h0m3-11h0m1 13h0m0-9h0m2 6h0m1 9h0m0 6h0m2-11h0m0-4h0m1 18h0m1-1h0m1-4h0m2-2h0m4-11h0"/><path stroke="#FF67A4" d="M2476 707h0m4-6h0m10-1h0m1-13h0m0 8h0m6 6h0m1 5h0m1-1h0m0-16h0m1 23h0m1-9h0m0 7h0m1-18h0m8 4h0m1 5h0m3-18h0m3 7h0"/><path stroke="#FF62BC" d="M2271 799h0m1-9h0m10-1h0m7 10h0m1-5h0m-25 30h0m1-1h0m4 4h0m3-8h0m1 4h0m2-2h0m0 9h0m0-3h0m3-1h0m1-6h0m1-6h0m1 2h0m0 5h0m1-17h0m2 27h0m1-24h0m7 11h0m1-12h0m0-5h0m1 28h0m2-24h0m3 15h0m3-13h0m3 8h0m0 2h0"/><path stroke="#FE6E8A" d="M2300 478h0m8-13h0m0 7h0m1-5h0m0-7h0m2-3h0m2 6h0m1-2h0m0 4h0m1 2h0m-6 23h0m5 3h0"/><path stroke="#A3A500" d="M1870 559h0m2-3h0m0 3h0m1-7h0m1 6h0m0 2h0m4-9h0m9 4h0m1 1h0m1-2h0m1-1h0m1-1h0m1-5h0m3 7h0m2-4h0m1 4h0m1-2h0m2 0h0m4-7h0m1-3h0m7 9h0m4 5h0m1-11h0m1 8h0m0-21h0m0 15h0m1 0h0m2-9h0m3 6h0m0 7h0m4 2h0m1 0h0m0 6h0m0-14h0m2-10h0m0 20h0m4 5h0m1-20h0m0 0h0m4 7h0m3 12h0m11-7h0m1-3h0m-92 32h0m0 0h0m1-1h0m1 6h0m3 3h0m2-23h0m0 10h0m0-6h0m1-6h0m0-2h0m1 3h0m0-3h0m2 27h0m0-16h0m1-6h0m0 12h0m1-12h0m0 8h0m1 23h0m0-1h0m2-9h0m1 11h0m0-1h0m0-35h0m2 18h0m0-14h0m2 34h0m1 0h0m0-34h0m1 0h0m2 14h0m1 1h0m3-17h0m0 26h0m2-15h0m1 5h0m1-6h0m1-2h0m1-5h0m1 18h0m1 17h0m0-13h0m1-16h0m1 14h0m1-22h0m0 35h0m1-30h0m0 17h0m1-27h0m1 10h0m1 33h0m0-34h0m0 14h0m4-18h0m1 12h0m3-4h0m4 14h0m0-9h0m3 7h0m1 0h0m0-20h0m1-4h0m6 5h0m0 2h0m2 6h0m0 4h0m2-5h0m1-2h0m1 17h0m3-15h0m1-7h0m6-6h0m2 4h0m4-4h0"/><path stroke="#00B0F6" d="M2303 556h0m2 2h0m7-12h0m0-12h0m2 10h0m1 13h0m2-12h0m2-2h0m0 3h0m3 2h0m4-9h0m1 15h0m4 5h0m0-2h0m1 2h0m2-21h0m1 6h0m1 16h0m2-27h0m0 20h0m1 0h0m1 3h0m1-8h0m0-5h0m0-30h0m1 26h0m3 5h0m0 0h0m0-2h0m2 8h0m2 0h0m1-11h0m0 7h0m1 3h0m0-8h0m0 4h0m1-2h0m1-5h0m2-3h0m4 25h0m2-4h0m0-2h0m2-15h0m0-11h0m1 9h0m1 21h0m1-7h0m1-13h0m3 8h0m0 5h0m2 5h0m1-25h0m0-1h0m2 8h0m0-6h0m1 9h0m0 18h0m2-1h0m0-29h0m1-1h0m5-2h0m0 0h0m1 13h0m0-7h0m2 1h0m3-11h0m1 8h0m7 0h0m-96 36h0m1 7h0m4-7h0m6-6h0m2 12h0m3-10h0m0 10h0m4-6h0m1 3h0m2 6h0m0-7h0m4 5h0m2-4h0m8-2h0m1 4h0m3-4h0m0-7h0m2 2h0m16 4h0m1 3h0m0-5h0m3 0h0m2 1h0m3-1h0m21 113h0m1 4h0m0 2h0m1-24h0m1 5h0m4-3h0m0 18h0m1-6h0m0-12h0"/><path stroke="#B79F00" d="M2204 389h0m-55 76h0m4-15h0m1-1h0m1 21h0m2-1h0m1 1h0m1-10h0m1 16h0m2-5h0m1-29h0m1 4h0m1-34h0m0 52h0m1-31h0m0-27h0m2 16h0m0 43h0m1-63h0m0 60h0m4 15h0m0-24h0m0 2h0m1-9h0m0-7h0m0 21h0m0-8h0m1-8h0m1 8h0m1-2h0m1-13h0m0-2h0m1-12h0m2 43h0m0-22h0m0-17h0m0 17h0m1 26h0m1-3h0m0 11h0m0-7h0m0-36h0m0-8h0m0-1h0m1-20h0m1 26h0m0 13h0m2 16h0m0-13h0m0-9h0m2 7h0m0 0h0m0 12h0m0 10h0m0 7h0m1-11h0m1-36h0m2-5h0m0 0h0m0 27h0m0 11h0m2-32h0m1-19h0m0 18h0m2 48h0m1-7h0m1 11h0m0-48h0m1 17h0m1-18h0m2 5h0m1-5h0m0 21h0m0 27h0m0-8h0m1 8h0m0-18h0m1-17h0m0 18h0m1 17h0m0-56h0m1 50h0m0-41h0m1 42h0m1-13h0m0-37h0m0 24h0m2-20h0m1 32h0m0-41h0m0 35h0m1 3h0m0-43h0m2 64h0m0-64h0m0 20h0m0 12h0m2-7h0m0 22h0m0-2h0m0 8h0m1 9h0m0-35h0m1 34h0m0-17h0m3-16h0m1 8h0m1 11h0m1-4h0m3-7h0m3 11h0m-72 27h0m6-2h0m4 10h0m1-2h0m4-1h0m1-3h0m1 7h0m1-12h0m1 1h0m2 16h0m2-3h0m1-16h0m1 5h0m1 6h0m1 3h0m2-10h0m2-5h0m1 1h0m0 14h0m3 3h0m1-9h0m1-2h0m2 1h0m1 7h0m7 11h0m2-13h0m2 4h0m1 5h0m3-12h0m2 5h0m0-13h0m7-3h0"/><path stroke="#00B7E9" d="M2243 238h0m3 2h0m1-2h0m5-2h0m13-2h0m0 0h0m2-12h0m1 1h0m1-2h0m2 18h0m2-10h0m3 7h0m4-15h0m1 11h0m1-2h0m2-12h0m1 1h0m2 18h0m1-8h0m3-8h0m1 17h0m5-3h0m-77 30h0m2 13h0m2-31h0m0 33h0m3-9h0m0 21h0m0-14h0m1-13h0m1 10h0m0 4h0m2-26h0m2 34h0m5 5h0m0 5h0m2-30h0m0 20h0m3-31h0m0 0h0m0 38h0m1 0h0m0-13h0m1-17h0m0 1h0m0 13h0m1 4h0m1-19h0m4 24h0m1 2h0m2-22h0m1-3h0m0 8h0m1 29h0m1 13h0m1-15h0m0-51h0m1 0h0m0 64h0m3-24h0m0 27h0m1-70h0m1 1h0m0 57h0m1-63h0m1 74h0m1-29h0m1 10h0m1-5h0m0-30h0m1 18h0m0-11h0m0 25h0m2-42h0m0 40h0m0-16h0m0 46h0m0-63h0m1 10h0m0 16h0m1-15h0m0-26h0m1 33h0m0-12h0m1 17h0m0 13h0m2 1h0m0-51h0m0 19h0m1-20h0m0 4h0m1 34h0m2-34h0m3 21h0m3-12h0m-31 70h0m0 12h0m5-14h0m3 15h0m1 21h0m1-8h0m1-4h0m1-5h0m2 14h0m0 3h0m0 0h0m1-3h0m0-17h0m2 13h0m3-13h0m0-13h0"/><path stroke="#F8766D" d="M2122 131h0m6 11h0m8 8h0m5 3h0m1-7h0m3 6h0m5 1h0m1 5h0m1-13h0m2-3h0m1 17h0m1-6h0m0 2h0m0-7h0m1 0h0m1 10h0m1-13h0m0-3h0m1 13h0m1 3h0m5-7h0m0 8h0m5-7h0m2 2h0m1 1h0m3-2h0m2-5h0m1 2h0m1 5h0m13 4h0m1-8h0m0 4h0m0-4h0m4 3h0m10 3h0m5 3h0m-125 74h0m8-5h0m3-11h0m1 10h0m5 7h0m1-1h0m3-29h0m0 20h0m1-34h0m1-1h0m0-9h0m0 50h0m2-42h0m0 35h0m0-33h0m2-4h0m0 2h0m0 13h0m2-15h0m4-4h0m0 37h0m0-33h0m0-6h0m1-5h0m0 48h0m1 15h0m1-78h0m0 48h0m0 1h0m1-17h0m0-28h0m0-1h0m1 66h0m1 3h0m0-19h0m0-38h0m1 31h0m0-7h0m0-32h0m0 48h0m2-18h0m0 37h0m2-52h0m0-9h0m0 45h0m0-30h0m1 9h0m0-36h0m2 39h0m0 6h0m0-16h0m0 9h0m1-30h0m1 0h0m1-2h0m0-7h0m0 39h0m0 9h0m0-30h0m0 22h0m1 14h0m0-32h0m0-1h0m0 53h0m1-44h0m0 31h0m1-24h0m0 30h0m0 2h0m1-62h0m0 32h0m0-25h0m2 28h0m0-22h0m1-11h0m1 68h0m0-65h0m0 55h0m1-28h0m0 36h0m1-4h0m0 8h0m0-71h0m1 7h0m0-6h0m1 65h0m0-33h0m0-3h0m0 1h0m0 14h0m1-2h0m0 2h0m0-53h0m1 31h0m0 40h0m0 0h0m1-3h0m0 1h0m0-40h0m1 23h0m1 20h0m0-46h0m0 36h0m0-46h0m1 48h0m0-47h0m0 39h0m0-49h0m1 4h0m0 36h0m1-9h0m0 14h0m0-13h0m0 7h0m0-31h0m0 57h0m2-14h0m1 15h0m0-63h0m1 36h0m0-35h0m0 43h0m0 21h0m2-15h0m0-8h0m1-39h0m0 8h0m0-4h0m0 33h0m0-41h0m1 34h0m1-27h0m0 59h0m1-14h0m0-55h0m0 36h0m1-24h0m0 57h0m2-61h0m0 49h0m0-17h0m1 12h0m1-35h0m0-8h0m1 31h0m0-5h0m1-5h0m2-19h0m0 47h0m0-1h0m1-30h0m0 12h0m1 8h0m0 9h0m1-57h0m1 70h0m0-63h0m0 59h0m0-43h0m1-12h0m0 14h0m0-27h0m0 38h0m0 26h0m0-14h0m1-52h0m0 34h0m0-27h0m0 62h0m1-63h0m0 67h0m0 4h0m2-21h0m2 10h0m0 6h0m1-74h0m0 28h0m0-2h0m0-23h0m0 23h0m1 2h0m0 34h0m1-52h0m2 10h0m1 4h0m2-19h0m0 29h0m0-18h0m0 17h0m0-20h0m0 45h0m0 6h0m0 14h0m1-68h0m0 32h0m0-31h0m1 8h0m1 24h0m0-18h0m1-23h0m0 28h0m0-14h0m0 62h0m1-5h0m2-44h0m0 7h0m1 23h0m0 1h0m0 5h0m0-40h0m1-1h0m1 5h0m1 22h0m1 4h0m1 5h0m0-25h0m0 16h0m0 23h0m1-61h0m0 34h0m0 5h0m1-2h0m0 14h0m0-47h0m1 40h0m0-25h0m3 20h0m3 11h0m-136 31h0m7-2h0m8-5h0m1 22h0m0-6h0m3-6h0m0 9h0m2-5h0m0 10h0m1-6h0m0-16h0m2 15h0m0-16h0m0 12h0m1-5h0m3 18h0m0-16h0m0 2h0m1-19h0m0 21h0m3-3h0m1 1h0m2-3h0m1-12h0m1 26h0m1-19h0m3 1h0m3 15h0m0-15h0m1 5h0m1 6h0m5-12h0m1 25h0m1-26h0m0 17h0m0-5h0m1 14h0m0-35h0m0 31h0m4-31h0m0 35h0m0-28h0m1-3h0m1 5h0m0 12h0m1 2h0m3 12h0m2-26h0m0 23h0m0-19h0m1 14h0m3-6h0m1 14h0m0-1h0m1-33h0m1 20h0m0-16h0m0 23h0m1-5h0m1-21h0m0 32h0m0 6h0m1-34h0m0 3h0m2-1h0m1 15h0m1 0h0m0-5h0m2 21h0m0-37h0m1 6h0m0 22h0m0 12h0m0 0h0m1-36h0m2 28h0m2 5h0m1-24h0m0 2h0m0 19h0m1-29h0m0 26h0m2 1h0m0 9h0m1-44h0m1 23h0m1 9h0m2-20h0m0 30h0m1-11h0m1 10h0m1-37h0m0 40h0m1-30h0m1 23h0m1-14h0m0-17h0m0 40h0m1-42h0m0 7h0m1-3h0m0 22h0m1-28h0m1 12h0m2 18h0m2-31h0m0 10h0m1 31h0m1-34h0m4-2h0m0 32h0m0 4h0m1-35h0m0 12h0m1 7h0m1 12h0m0 1h0m1 7h0m0-42h0m2 21h0m0 5h0m0-4h0m1-14h0m0 27h0m0-24h0m1 15h0m0-13h0m0-2h0m0 9h0m2 0h0m1-23h0m4 31h0m2-23h0"/><path stroke="#00BF7D" d="M2523 717h0m9 0h0m3 1h0m5-7h0m12 7h0m-72 42h0m1 15h0m0-28h0m3 10h0m0 1h0m1-13h0m1 18h0m0 22h0m1-20h0m0-15h0m0 7h0m1-8h0m1-11h0m1-3h0m1 22h0m1-10h0m2 9h0m0-3h0m1 29h0m0-58h0m1 49h0m1-34h0m0 6h0m1 30h0m0-31h0m1-11h0m0 16h0m0-26h0m0 29h0m1 15h0m0-16h0m1 20h0m0-3h0m1-10h0m1 26h0m0-18h0m1-4h0m2 1h0m1-38h0m0 46h0m0 7h0m0-4h0m1-22h0m0 11h0m0-22h0m1 9h0m1-18h0m1 33h0m0-10h0m0 3h0m1-20h0m0 18h0m1-11h0m1 18h0m1-6h0m0 13h0m1-1h0m3 2h0m1-47h0m0 52h0m0-30h0m1 32h0m0-17h0m0 14h0m1-37h0m0 17h0m1-6h0m2 20h0m3-22h0m0-13h0m0 34h0m1-46h0m0 34h0m1-23h0m1-8h0m0 4h0m0-8h0m0 20h0m1-2h0m0 11h0m1-4h0m0 15h0m0-4h0m0-25h0m0 30h0m1-39h0m0 19h0m0-4h0m2-17h0m2 20h0m0 3h0m0-5h0m1 15h0m0-21h0m1-8h0m1 21h0m1-17h0m1 30h0m2-31h0m0 3h0m0 28h0m1 4h0m1-40h0m2 20h0m3 10h0m1-18h0m0-9h0m1 17h0m0-9h0m0-4h0m1-6h0m0 18h0m1 11h0"/><path stroke="#00C097" d="M1996 134h0m10 11h0m0-30h0m1 8h0m0 14h0m0-19h0m1 41h0m1-30h0m0 16h0m1-24h0m0 11h0m1-9h0m2 16h0m1-7h0m1-28h0m1 37h0m0 7h0m1-42h0m1 51h0m0-46h0m0 10h0m1 5h0m0 31h0m0-18h0m1 19h0m0-35h0m2 33h0m0-51h0m1 26h0m1-12h0m0-3h0m1 31h0m0-33h0m1-3h0m0 0h0m1 8h0m3 26h0m0 11h0m0-27h0m2 11h0m0-27h0m0 46h0m1-6h0m0-23h0m0-15h0m1 3h0m0-10h0m1 44h0m0-47h0m0 53h0m0-48h0m2 13h0m0 6h0m0-18h0m1 34h0m1-10h0m0 19h0m1-40h0m0 16h0m0-27h0m1 5h0m0 16h0m1-20h0m1 55h0m1-54h0m1 0h0m0 6h0m0-3h0m0 35h0m1-17h0m1-25h0m1-1h0m0 8h0m2 48h0m0-51h0m1 5h0m2-9h0m1 10h0m0 40h0m1-40h0m1 19h0m4 25h0m1-31h0m0 30h0m1 0h0m1-12h0m0-1h0m2-6h0m1-9h0m1 16h0m0-8h0m1-4h0m1 26h0m0-3h0m0-21h0m0 10h0m0 14h0m1-29h0m0 29h0m1-14h0m2-1h0m0 17h0m1-45h0m1 27h0m0-26h0m0 32h0m1 1h0m0 12h0m1-27h0m0 26h0m2-14h0m0 16h0m1-27h0m0-22h0m1 5h0m1 41h0m2-41h0m0 6h0m2 11h0m1 18h0m2-33h0m1 5h0m0 19h0m0-9h0m1 18h0m0-7h0m2-11h0m2 27h0m2-30h0m1 5h0m6 8h0m3 11h0m1-28h0m1 30h0m-80 7h0m10 2h0m6 3h0m4-6h0m4 1h0m0 7h0m1-7h0m11 11h0m2-6h0m1 4h0m0-7h0m2 2h0m0 4h0m3-9h0m0-1h0m4 7h0m2-6h0m5 2h0m0-3h0m3 4h0"/><path stroke="#8AAB00" d="M2413 688h0m5 27h0m1-15h0m1 3h0m1 15h0m0-9h0m1 4h0m3-6h0m2-16h0m2-8h0m2 21h0m1-24h0m0 2h0m3 19h0m0-8h0m0 18h0m2-6h0m0-26h0m1 3h0m1 38h0m0-7h0m2-12h0m0-12h0m1 4h0m3 22h0m0-32h0m1 31h0m0 5h0m0-10h0m0-12h0m2 3h0m0 3h0m0-17h0m0 16h0m4-15h0m0 1h0m0 5h0m2 12h0m0 9h0m4-26h0m0-4h0m5 9h0m3 12h0m-80 59h0m3 11h0m3-4h0m1-4h0m2-41h0m1 9h0m0 17h0m1 18h0m0-14h0m0-1h0m2-19h0m1-2h0m1-10h0m0 42h0m0-20h0m3 32h0m0-20h0m3-26h0m0 29h0m0 8h0m1-39h0m1 52h0m1-10h0m1-3h0m1-35h0m3 43h0m1-32h0m1 42h0m0-13h0m0-49h0m2 25h0m0-9h0m1-4h0m0-4h0m0 4h0m2 9h0m1-10h0m0 50h0m0-11h0m1-43h0m1 9h0m0 0h0m0 13h0m1 14h0m1 9h0m0-16h0m1-30h0m1 46h0m0-22h0m0-9h0m1 31h0m0-34h0m0 11h0m0-13h0m2-20h0m0 19h0m1 36h0m0-33h0m0 2h0m0 1h0m0-22h0m1 17h0m1 6h0m0 7h0m0-8h0m1-2h0m0-19h0m1 44h0m1-46h0m0 57h0m1-45h0m0 21h0m1-28h0m0 11h0m1 16h0m1 23h0m0-22h0m0-13h0m1 23h0m0 20h0m1-43h0m0 25h0m1-20h0m0 14h0m0 7h0m1-48h0m1 10h0m1 42h0m0-8h0m0 21h0m0-31h0m1 7h0m1-21h0m1 43h0m1-6h0m0-37h0m0 40h0m1-24h0m0-37h0m1 52h0m0-27h0m1 9h0m0 18h0m1 9h0m1-35h0m0-18h0m1 23h0m1 5h0m1 21h0m0-37h0m0 14h0m3 33h0m0-7h0m0-44h0m0 0h0m1 11h0m0 9h0m0-24h0m0 1h0m2 35h0m1-38h0m0 8h0m1 16h0m0 21h0m0-14h0m0-34h0m0 11h0m3 37h0m0-47h0m1 6h0m0-9h0m1-4h0m1 10h0m1 20h0m0-2h0m3-19h0"/><path stroke="#B983FF" d="M2115 700h0m2 16h0m1-35h0m1 21h0m0-1h0m2 2h0m1-30h0m0 45h0m0-18h0m0-29h0m1 44h0m0-37h0m1-2h0m1 12h0m1 22h0m0 0h0m1-3h0m2-19h0m4 29h0m0-1h0m0-1h0m0-3h0m1-47h0m0 0h0m0 45h0m1 2h0m0-6h0m0 9h0m0-1h0m1 4h0m0-57h0m1 39h0m0-19h0m2 8h0m1-3h0m2 14h0m0 1h0m0-30h0m0 33h0m0-26h0m1-5h0m0 18h0m0 13h0m2-15h0m0-26h0m1 37h0m1-2h0m1-26h0m0-3h0m0 16h0m0 27h0m1-17h0m1-21h0m0 16h0m3 10h0m0 0h0m1-14h0m1 24h0m1-30h0m0 26h0m1-9h0m0 6h0m1 1h0m0-12h0m1-13h0m2 30h0m1-12h0m0 2h0m1 9h0m2-9h0m0-4h0m3 8h0m-61 50h0m7 7h0m10 2h0m5-42h0m1 44h0m0-13h0m1 7h0m1 5h0m1-40h0m2 2h0m2 32h0m1-28h0m2-6h0m5 0h0m9 13h0m4-15h0"/><path stroke="#00A7FF" d="M2102 830h0m2 6h0m3-4h0m2-8h0m1 11h0m2 11h0m0 13h0m1-17h0m1 14h0m3-30h0m1 9h0m0 4h0m1-15h0m1 38h0m1-29h0m2-6h0m2 15h0m0 2h0m1-9h0m2 6h0m0-5h0m1-10h0m0 49h0m0-17h0m0-18h0m0 15h0m1-26h0m1 10h0m1 21h0m2-15h0m2 4h0m0-15h0m0 6h0m0 21h0m2-20h0m1 21h0m1-14h0m1-2h0m1 28h0m0-3h0m2-25h0m0 0h0m1 12h0m1 8h0m1-23h0m1-15h0m1 37h0m1-2h0m1-25h0m1 25h0m3-23h0m1-3h0m0 15h0m1 23h0m0-7h0m1-24h0m0 34h0m0-16h0m1-19h0m1-9h0m1 16h0m1-8h0m1 18h0m0-9h0m1 4h0m2 7h0m16 14h0m2-13h0m2 8h0m-67 18h0m1-1h0m7 11h0m0-16h0m2 0h0m0 44h0m1-28h0m4 10h0m8 0h0m0 12h0m1-23h0m1 6h0m0 2h0m11-14h0m1-12h0m9 29h0m0-12h0m3 18h0m1-27h0m11 5h0m6 0h0m3-5h0"/><path stroke="#E58700" d="M2170 690h0m1 8h0m0 6h0m2-15h0m0-3h0m3-7h0m0 32h0m0 2h0m1-30h0m3-2h0m0 27h0m1-16h0m0 9h0m1-5h0m1-14h0m2 5h0m1-6h0m1 20h0m2 3h0m0 3h0m0 12h0m1-9h0m0 7h0m1-22h0m0-18h0m1 26h0m1 0h0m2 1h0m0-5h0m0-10h0m1 11h0m0 6h0m1 5h0m0-34h0m1 39h0m1-16h0m0-17h0m1-8h0m2 10h0m1-1h0m1-2h0m0-4h0m1 21h0m0 7h0m0 6h0m1-14h0m0 14h0m0-34h0m1 33h0m4-20h0m2-5h0m0 19h0m1-12h0m0 5h0m0-16h0m1 7h0m1 28h0m0-30h0m0 32h0m0-22h0m1 6h0m2-18h0m5 8h0m0-1h0m2 1h0m0 27h0m1-43h0m0 39h0m0-30h0m2 19h0m0 13h0m1-2h0m0-23h0m1 23h0m0-5h0m1-13h0m0 6h0m0-28h0m1 13h0m0 18h0m2 3h0m1-26h0m0 7h0m2 24h0m0-10h0m2-5h0m0 3h0m1-18h0m0 17h0m1 13h0m2-37h0m4 39h0m0-12h0m1 5h0m2-27h0m2-3h0m1 26h0m1 8h0m2-31h0m0 13h0m1-8h0m0 11h0m1-14h0m1 15h0m0 16h0m1 2h0m1-16h0m0-7h0m0 9h0m2-14h0m1 29h0m3-27h0m-103 40h0m11-10h0m3 15h0m0-13h0m3 9h0m1-3h0m1 6h0m8-2h0m1 3h0m2 11h0m1-16h0m0 15h0m0-24h0m2 3h0m1 22h0m1-17h0m1-7h0m3 3h0m1 13h0m1 4h0m2-21h0m1 14h0m0 26h0m1-30h0m2 11h0m2 2h0m1 3h0m1 7h0m1-12h0m0 14h0m1 1h0m1-29h0m1 2h0m1 17h0m1-13h0m1 20h0m0-12h0m1 14h0m0-11h0m1-20h0m0-1h0m0 17h0m1 6h0m0-3h0m2 17h0m1 0h0m2-16h0m1 6h0m1-21h0m0-7h0m1-2h0m0 2h0m1 31h0m0-13h0m1 9h0m0 3h0m2 12h0m0 4h0m1-11h0m1-8h0m2 7h0m0-15h0m0 1h0m1 31h0m0-52h0m2 18h0m0 17h0m1 14h0m0-5h0m1-20h0m1-2h0m2 14h0m1-3h0m0-26h0m1 45h0m0-36h0m1 40h0m2-28h0m1-16h0m0 33h0m0-38h0m1 9h0m0 17h0m0-13h0m0 31h0m1-16h0m0-18h0m1 0h0m0 18h0m2-12h0m2-18h0m0 24h0m1-12h0m0 32h0m1-36h0m0 9h0m0 14h0m2 14h0m0-52h0m3 18h0m0 13h0m1-23h0m0 46h0m0-52h0m1 23h0m0-8h0m20 31h0"/><path stroke="#D376FF" d="M2701 403h0m1 3h0m1 4h0m0-7h0m2 3h0m1-1h0m1-5h0m2 20h0m0 5h0m2-14h0m1 1h0m1 3h0m2 3h0m1-2h0m0-15h0m1 18h0m2-14h0m1 12h0m0 7h0m2 0h0m3 9h0m1 0h0m0-9h0m3 15h0m3-2h0m1-18h0m1 8h0m0 8h0m2-6h0m0-14h0m0 0h0m2 0h0m3 8h0m0 20h0m2-3h0m0-1h0m2-10h0m0 13h0m4-19h0m0 13h0m1-9h0m4 5h0"/><path stroke="#39B600" d="M2194 875h0m4 2h0m4 2h0m13-2h0m11 2h0m-60 24h0m1 20h0m3-19h0m1 38h0m0-25h0m2-12h0m1 9h0m2 34h0m0-19h0m0-22h0m3-3h0m0 21h0m0 27h0m1-27h0m3-26h0m1 47h0m0-52h0m2 48h0m1-41h0m1 2h0m1 6h0m0 34h0m0-9h0m1-16h0m1-2h0m0 25h0m1 7h0m1-58h0m0 19h0m1-23h0m1 24h0m0 6h0m0 14h0m0-22h0m2 10h0m0 3h0m0 36h0m0-54h0m1-8h0m1 8h0m0-3h0m2-13h0m1 17h0m0-21h0m2 58h0m0-24h0m1-16h0m2 20h0m0 34h0m1-20h0m0-19h0m1 18h0m0-34h0m1-6h0m0 11h0m0 29h0m0-44h0m1 0h0m0 59h0m1-27h0m0 27h0m1-51h0m1 34h0m0 9h0m2-20h0m0-36h0m1 33h0m0-8h0m1 31h0m1-47h0m0 54h0m0 2h0m0-9h0m1 3h0m0-23h0m1-6h0m3 22h0m0-45h0m1 27h0m1-13h0m1-14h0m1 32h0m0-25h0m1-3h0m2 14h0m0-27h0m1 5h0m1 17h0m1 1h0m1 9h0m1 3h0m0-20h0m2 21h0m-77 73h0m5 9h0m0 5h0m4-16h0m3 20h0m3-22h0m3 18h0m5 0h0"/><path stroke="#00BD5F" d="M2106 793h0m0-16h0m4 13h0m6-4h0m1 14h0m9-23h0m5 2h0m2-12h0m1 8h0m1-2h0m0 24h0m2-33h0m2 21h0m1-4h0m0 16h0m0-28h0m1 24h0m3-31h0m2 22h0m0 4h0m0 11h0m0-36h0m2 24h0m2 4h0m3-15h0m0 6h0m3-27h0m1 23h0m0 13h0m0-14h0m0 11h0m1 9h0m1 3h0m2-39h0m0 16h0m0-19h0m3 3h0m0 17h0m0-8h0m1 1h0m1 10h0m0-18h0m2 5h0m0 5h0m0 10h0m0 4h0m1-28h0m0 19h0m0-13h0m0 26h0m1-30h0m0 21h0m0-4h0m1-2h0m3-4h0m0 18h0m1 8h0m0-31h0m0-8h0m0 31h0m1 3h0m2-1h0m2-31h0m1 17h0m0 3h0m0-2h0m1 3h0m1 12h0m1-31h0m1 23h0m2-6h0m0 14h0m2-30h0m0 18h0m1-2h0m2-20h0m3 22h0m0 17h0m2-13h0m8 1h0m-103 28h0m4-8h0m0-1h0m2 18h0m0-21h0m1 12h0m0-14h0m4 12h0m2-3h0m2 10h0m0-3h0m2-13h0m4 7h0m2-5h0m1-3h0m1 13h0m0-15h0m2 23h0m2-14h0m0-4h0m0-2h0m0 22h0m1-19h0m1 10h0m3 2h0m2-13h0m1 10h0m0 0h0m2-7h0m5-5h0m1 5h0m2 16h0m1-22h0m2 8h0m3-9h0m0 4h0m1 21h0m1-9h0m1-17h0m0 12h0m1-8h0m0 2h0m1 3h0m1 8h0m3-16h0m1 3h0m1 16h0m1-13h0m1 6h0m0-9h0m2 0h0m3-4h0m0 10h0m1 5h0m3-7h0m5 6h0m1-7h0m6 3h0m2-4h0"/><path stroke="#FD61D1" d="M1998 280h0m3 15h0m1-15h0m0-3h0m1-1h0m0 5h0m1 15h0m1-7h0m0-3h0m1-8h0m1-5h0m1 6h0m1 10h0m0-22h0m1 31h0m4-47h0m0 43h0m1-8h0m1-9h0m1 7h0m0-12h0m1 30h0m0-11h0m1 9h0m1-27h0m1-9h0m1 23h0m0-12h0m1-5h0m0 8h0m1-2h0m0-11h0m0 28h0m0 13h0m2-25h0m2 25h0m1-3h0m0-34h0m0 31h0m1-5h0m2-28h0m0 39h0m0-8h0m1 0h0m2 5h0m2-6h0m0-17h0m0 19h0m1-14h0m1 21h0m2-30h0m0 27h0m0-5h0m1 1h0m1 0h0m1-13h0m0 3h0m1-8h0m2 9h0m0-7h0m2 17h0m10-16h0"/><path stroke="#00C0AF" d="M2214 319h0m1-2h0m11-7h0m2 9h0m10-5h0m1-1h0m1-6h0m7 10h0m1-1h0m3-1h0m0 3h0m1-10h0m2 10h0m2-1h0m-126 52h0m9-2h0m1 6h0m4-4h0m11 10h0m10-13h0m1 12h0m2-2h0m22-5h0m3 7h0m3-19h0m2-5h0m2 6h0m2-19h0m1 8h0m1 20h0m1-44h0m1 8h0m0 27h0m1 1h0m0-30h0m1 1h0m0 30h0m0-7h0m1-4h0m0 28h0m0-27h0m0-31h0m0 54h0m0-35h0m1 58h0m0-33h0m1-10h0m0 7h0m0-36h0m1 3h0m0 44h0m0 0h0m1-44h0m0-8h0m0 7h0m1 20h0m0 0h0m1-23h0m2 65h0m0 6h0m2-11h0m1-54h0m0 11h0m1-5h0m0 62h0m0-18h0m2 1h0m1-22h0m2 6h0m0 11h0m1 16h0m0-43h0m0 21h0m0-39h0m0 22h0m1 30h0m0-34h0m4 5h0m1-5h0m1-2h0m1 5h0m0 45h0m1-63h0m0 38h0m1-8h0m0-1h0m0-23h0m1-7h0m0 58h0m1-29h0m2 0h0m0 33h0m0-23h0m1-26h0m0-15h0m1 1h0m0 22h0m2 18h0m0-36h0m0 46h0m1 5h0m1-41h0m0 29h0m1-47h0m0 29h0m1 41h0m0-28h0m0-4h0m1-31h0m1 42h0m1 15h0m0-35h0m0-3h0m1-26h0m0 14h0m1-2h0m0 26h0m0-13h0m1 13h0m1-43h0m0 57h0m1-40h0m0 59h0m1-36h0m2 16h0m0-30h0m1 23h0m1-22h0m1 47h0m1-48h0m1 35h0m1-22h0m4 8h0m-44 39h0m0 2h0m2 10h0m4-2h0m2-3h0m0 6h0m0-3h0m1 1h0m0-7h0m1 4h0m2 10h0m3-15h0m2-8h0m2 9h0m3 17h0m2-8h0m1-22h0m1 8h0m0-3h0m3 11h0m0 5h0m1-15h0m1 5h0m5-11h0"/><path stroke="#EF7F49" d="M2051 308h0m3-3h0m4 4h0m1-11h0m4 19h0m0-8h0m3 9h0m0-42h0m1 26h0m0 9h0m1-18h0m0 13h0m1-14h0m2-4h0m1 27h0m1-6h0m1-26h0m4 25h0m0-32h0m0 38h0m1-25h0m1 29h0m0-22h0m6 16h0m1-10h0m0 0h0m0-21h0m2 12h0m1 10h0m0 9h0m1-10h0m0-13h0m2 11h0m1 20h0m1-17h0m1-23h0m0 20h0m1-27h0m0 2h0m1 41h0m4-1h0m0-3h0m2-21h0m1 1h0m1-19h0m1 31h0m1-21h0m2 16h0m1 5h0m2-24h0m1 37h0m1-22h0m1-10h0m0 29h0m3-38h0m0 5h0m0 22h0m1 17h0m1-11h0m0 10h0m3-31h0m3 17h0m1-27h0m0 29h0m2-28h0m0-2h0m2 34h0m1 6h0m2-19h0m0 17h0m0-23h0m0-4h0m1-5h0m0-3h0m2 2h0m0 29h0m1-16h0m1 1h0m0 13h0m1-29h0m2 34h0m0-21h0m1-1h0m1 15h0m2 13h0m1-35h0m2-5h0m1 8h0m2 24h0m0-18h0m1 8h0m2-14h0m1-3h0m1 34h0m0-1h0m2 0h0m1-32h0m1 12h0m0-11h0m3 31h0m2-10h0m0-16h0m4 18h0m0-21h0m1 17h0m0-6h0m9-5h0m0 0h0m1-5h0m3 22h0m0-2h0m1-5h0m1 8h0m4-5h0m4-10h0m7 17h0m0-2h0m0-14h0m2 10h0m7 5h0m-145 12h0m7-4h0m12 15h0m0-2h0m1-4h0m4 0h0m0 9h0m0-6h0m2 2h0m0-1h0m1-8h0m0 2h0m0-3h0m1-5h0m1 0h0m0 9h0m2 1h0m0 1h0m1 7h0m2-12h0m0 5h0m1-1h0m1 18h0m1-9h0m2-12h0m0 0h0m1 20h0m1-5h0m0-16h0m0 2h0m0 11h0m2 0h0m0-7h0m2-1h0m3 23h0m2-12h0m1 11h0m1-10h0m0 6h0m1-13h0m1 14h0m0-6h0m3-4h0m1-20h0m2 16h0m1 4h0m1 7h0m1-6h0m0-22h0m3 6h0m1-1h0m1 13h0m3 27h0m0-35h0m2 3h0m0-8h0m0 18h0m0 17h0m1-3h0m0-29h0m0 27h0m1 1h0m0-18h0m3 0h0m1 26h0m1-17h0m0-22h0m2 15h0m1 52h0m4-48h0m0 18h0m3-19h0m2 1h0m1-17h0m0 19h0m1 19h0m2-29h0m1 54h0m0-39h0m0 2h0m3-23h0m0 22h0m0-4h0m0 10h0m2-32h0m0 15h0m1-21h0m0 23h0m2 12h0m0 1h0m1-18h0m1-9h0m2 4h0m2 8h0m0 14h0m1 35h0m0-39h0m1 3h0m0-15h0m0-4h0m3 12h0m1-2h0m2 2h0m0 19h0m0-34h0m0 6h0m2 11h0m1 15h0m0-34h0m1 5h0m4-6h0m2 11h0m2 7h0m0-20h0m1 14h0m2 1h0m1-14h0m0-5h0m6 2h0m0-4h0m-56 82h0m1 27h0m2-24h0m3 13h0m6 9h0m7-5h0m1 4h0m1-15h0m9 11h0m2-9h0m6 10h0"/><path stroke="#D89000" d="M2193 185h0m0 6h0m0-19h0m3 36h0m4-32h0m0 9h0m0 20h0m0-17h0m3 9h0m1 5h0m2-2h0m1-8h0m2 4h0m0-4h0m3-6h0m0 17h0m3 19h0m0 0h0m0-39h0m1 3h0m1 2h0m0 10h0m1-4h0m1-2h0m0 0h0m0 42h0m1-12h0m1 5h0m0-15h0m0 9h0m0-17h0m1 24h0m0-5h0m3-34h0m1 7h0m0 44h0m1-17h0m0-31h0m2 23h0m0-3h0m0 23h0m1 0h0m0-1h0m0-15h0m1-13h0m0 26h0m0-20h0m1 12h0m7-31h0m1-1h0m1 39h0m0 6h0m0-44h0m1-1h0m4 7h0m3 34h0m1-17h0m1-20h0m4 6h0m4 4h0m1 15h0m-34 22h0"/><path stroke="#00BA38" d="M2240 399h0m17-1h0m5-1h0m-41 76h0m5-10h0m2-4h0m0 17h0m0-15h0m0-12h0m2 27h0m1-23h0m1-12h0m3 0h0m0 10h0m1-2h0m1 13h0m0-10h0m1-48h0m1 69h0m0-9h0m2 8h0m0 5h0m1-35h0m0 10h0m0-3h0m1-46h0m2 61h0m1-50h0m0 18h0m1 13h0m1-42h0m1 17h0m0 32h0m1-21h0m0 26h0m0-11h0m1 14h0m1 9h0m1-11h0m1 11h0m2-33h0m1-1h0m1 1h0m2 29h0m1-8h0m1-1h0m0-29h0m0-13h0m1 29h0m1-8h0m1 18h0m2-18h0m0 4h0m0 8h0m1 6h0m1 25h0m2-59h0m0 56h0m2-11h0m5 15h0m-61 12h0m1-4h0m3 5h0m3 0h0m0-6h0m1-1h0m3 7h0m1-6h0m0 1h0m1 30h0m2-34h0m0 5h0m1 14h0m0-20h0m0 29h0m1-14h0m1 6h0m0 4h0m1 9h0m0-2h0m1-3h0m0-17h0m1 17h0m1 1h0m1-7h0m1 17h0m4-5h0m1-1h0m1 7h0m2-7h0m0 10h0m1-10h0m0 7h0m0-26h0m1-14h0m1 47h0m0-24h0m2 17h0m2 4h0m1 2h0m2-18h0m0 21h0m1-8h0m0-25h0m1 28h0m2-10h0m1-19h0m0-9h0m1 14h0m1 24h0m1-8h0m2 4h0m2-31h0m1 15h0m0-3h0m0-6h0m2-12h0m1 0h0m0 9h0m1 11h0m2-3h0m1-23h0m1 27h0m1-3h0m1-10h0m2 31h0m0-35h0m0 23h0m1 29h0m4 7h0m0-3h0m0-17h0m3-10h0m1 21h0m0-36h0m0 36h0m0-16h0m0 19h0m1-32h0m0 17h0m1 15h0m0-24h0m2-4h0m1 9h0m1 27h0m0-3h0m1-9h0m1-29h0m1-19h0m0 39h0m0-3h0m2 19h0m1-9h0m7-5h0m6-26h0"/><path stroke="#6BB100" d="M2017 177h0m1 8h0m1 33h0m2-49h0m1 46h0m1-14h0m1-6h0m0-3h0m1 10h0m0-20h0m1 8h0m0 42h0m1-16h0m0-7h0m0 27h0m1-12h0m0 10h0m0-2h0m0-24h0m1-26h0m1-12h0m0 37h0m0 17h0m1-3h0m1 13h0m1-45h0m0 29h0m2 2h0m0-43h0m1 19h0m0-6h0m2 27h0m0 0h0m0-41h0m1 57h0m1-32h0m0 16h0m3-16h0m1 39h0m0-63h0m1 39h0m1-20h0m0 14h0m1 6h0m1-32h0m1 16h0m1-11h0m1 10h0m1-9h0m0-11h0m1 40h0m1-3h0m1-4h0m1 12h0m0-15h0m2 15h0m0-10h0m0-11h0m1 17h0m1-20h0m1-9h0m0-18h0m1 41h0m2-14h0m0-16h0m0 26h0m2-22h0m2-5h0m0 51h0m2 1h0m1-25h0m1-4h0m1-18h0m0 13h0m0 32h0m0-53h0m1 33h0m0-42h0m1 58h0m0 2h0m1 0h0m0-2h0m0-48h0m1 14h0m4-21h0m1 42h0m0-10h0m0 26h0m2-39h0m1-15h0m0-2h0m1 49h0m1-31h0m0 12h0m1 10h0m1 2h0m0 1h0m0-28h0m2-23h0m0 13h0m2 40h0m0-20h0m0 11h0m2-27h0m3 19h0m0-9h0m1 44h0m0-10h0m0-15h0m1-10h0m0-14h0m1 6h0m0-19h0m0 15h0m0 4h0m1-23h0m0 67h0m1-18h0m0-28h0m1 10h0m0 36h0m1-4h0m0 3h0m1-16h0m0-4h0m1 4h0m1-32h0m3 36h0m0-18h0m1 14h0m4-15h0m2 5h0m1-6h0m-91 36h0m17 9h0m2-6h0m1 9h0m1-3h0m2-9h0m0-3h0m4 5h0m1 10h0m3-2h0m0 16h0m7-29h0m3 17h0m0-12h0m2 2h0m0 3h0m7-10h0m9 2h0m3 10h0m7-4h0"/><path stroke="#00BCD8" d="M2250 879h0m7-1h0m-24 27h0m2 12h0m2 29h0m0-52h0m0 6h0m0-17h0m1 6h0m0 51h0m1-21h0m0-24h0m1 0h0m0-10h0m0 53h0m2-5h0m0-20h0m0 16h0m0-40h0m1 40h0m1 16h0m0 2h0m1-10h0m0-25h0m0-2h0m0-11h0m1 5h0m0-22h0m0 41h0m0-29h0m0 53h0m1-31h0m1 32h0m0-66h0m1-1h0m1 72h0m0-17h0m0-47h0m1-3h0m0 49h0m1 1h0m0 1h0m0-24h0m0-10h0m1 51h0m0-53h0m0-5h0m0 16h0m0 26h0m1-53h0m3 9h0m0-8h0m0 56h0m1 12h0m0-62h0m0 64h0m1-21h0m0-46h0m0 51h0m2-47h0m0 60h0m0-15h0m1 11h0m2-47h0m1 21h0m0-17h0m1-15h0m2 54h0m0-19h0m1-4h0m0-5h0m0 13h0m0 12h0m2-5h0m0-20h0m0 29h0"/><path stroke="#FE6E8A" d="M2306 469h0m1-4h0m2 10h0m1-12h0m2 6h0m2 2h0m5-9h0m-3 33h0"/><path stroke="#C99800" d="M2132 125h0m16-4h0m6 12h0m3 6h0m2-11h0m1-21h0m3 14h0m0 2h0m0-9h0m0 2h0m0-2h0m1 13h0m2 15h0m0-7h0m2-27h0m0 8h0m3 19h0m1-17h0m1 6h0m0 19h0m1-8h0m1-14h0m0-12h0m4 37h0m0-3h0m1 0h0m0 4h0m3-29h0m0-1h0m0-13h0m2 4h0m1 43h0m0-2h0m1-37h0m0-4h0m1 3h0m0 33h0m1 0h0m0 9h0m0-4h0m1-33h0m0 16h0m5 26h0m1 1h0m0-21h0m1-10h0m0-20h0m1 25h0m0-24h0m3 27h0m0 12h0m1-2h0m0-11h0m1-15h0m1-19h0m0 23h0m0 22h0m0 4h0m0-19h0m2 15h0m1-2h0m0-5h0m0-9h0m1 27h0m1-26h0m0 23h0m1-31h0m0 11h0m1-14h0m1 19h0m1 17h0m0 2h0m1-31h0m0-12h0m0 9h0m1 22h0m0 0h0m1-10h0m0-23h0m1 18h0m1 5h0m2-10h0m0 24h0m1 3h0m1-13h0m0-21h0m1 12h0m2 29h0m0-19h0m1-30h0m0 3h0m1 25h0m1 18h0m1-52h0m3 35h0m0 11h0m0-49h0m0 29h0m1 11h0m1 17h0m1-38h0m0 19h0m0-24h0m2 14h0m1 13h0m0-38h0m2 31h0m2-13h0m2-2h0m2 25h0m0-18h0m1 23h0m1-25h0m1 14h0m1-30h0m0 43h0m1 2h0m0-42h0m0 6h0m1 32h0m0 5h0m0-36h0m0-4h0m1-2h0m1 38h0m2-19h0m0-2h0m1 11h0m0-21h0m0 17h0m0-22h0m1 34h0m1-16h0m1-18h0m1 28h0m0 7h0m0-19h0m1 20h0m1-14h0m0-13h0m1 12h0m1 6h0m1-30h0m1 23h0m0 19h0m0 2h0m0-16h0m1 0h0m1 6h0m1-8h0m1 17h0m0-5h0m0-16h0m1 12h0m1-15h0m1 19h0m0-15h0m2-8h0m1 32h0m1-7h0m0-15h0m2 21h0m1-16h0m9 17h0m-97 8h0m3-4h0m4-1h0m1 8h0m1 5h0m1-8h0m6 9h0m6 0h0m1 4h0m1-2h0m0-6h0m2-9h0m3 17h0m2-16h0m0 11h0m1 9h0m1 2h0m0-5h0m2 13h0m1-28h0m0 22h0m1 3h0m0-5h0m2-13h0m0-12h0m2 7h0m0 10h0m0 15h0m0-32h0m1 32h0m1-3h0m0 8h0m1-18h0m0 19h0m1-15h0m0-15h0m0 9h0m0-9h0m1 22h0m1-24h0m1 22h0m1-19h0m1 17h0m0-5h0m2 23h0m3-41h0m1 6h0m2 6h0m1 16h0m1-3h0m0-8h0m0 7h0m1 5h0m1 14h0m0-47h0m0 11h0m0 14h0m1-13h0m0 8h0m0 3h0m2 0h0m0-6h0m0 12h0m1 6h0m0 9h0m4-20h0m1 30h0m0-42h0m0-8h0m0 46h0m2-13h0m0-22h0m0-10h0m1 3h0m0 56h0m1-49h0m1 30h0m0-32h0m2 28h0m0 3h0m0-9h0m0 11h0m1-39h0m0 24h0m2 27h0m0-49h0m2 44h0m0-12h0m0-41h0m0 28h0m1 24h0m0-52h0m1 28h0m0 0h0m1-13h0m0 9h0m0 19h0m0 6h0m0 2h0m1-14h0m0 6h0m0 12h0m0-43h0m1 16h0m0 17h0m0 18h0m1-57h0m1 49h0m1-43h0m1 49h0m0-59h0m0 17h0m1 43h0m0-16h0m0-25h0m1 30h0m0-21h0m1-9h0m1-10h0m0 40h0m1 7h0m0-11h0m0-20h0m2 0h0m1-20h0m0 29h0m0-22h0m1 14h0m0 22h0m5-11h0m0 4h0m5 10h0"/><path stroke="#F564E3" d="M2038 788h0m3 5h0m1 1h0m1 5h0m3-13h0m1-2h0m0 7h0m0 5h0m3 3h0m1-6h0m1 3h0m1-2h0m2-6h0m3 10h0m2-14h0m1 7h0m4 1h0m1-1h0m6-4h0m5 12h0m5-5h0m1 5h0m12-3h0m0-31h0m3 34h0m-57 13h0m2-2h0m0-8h0m1 11h0m0-4h0m0 1h0m1 10h0m4-3h0m1 0h0m1-11h0m3-1h0m1-2h0m0 22h0m1-23h0m1 22h0m2-12h0m0 7h0m1-13h0m3-2h0m1 9h0m4 20h0m1-29h0m0 23h0m1-4h0m0 10h0m1-17h0m0-7h0m2 20h0m1-21h0m1 2h0m1 21h0m1 3h0m0 0h0m0-32h0m1 22h0m1 14h0m4-22h0m1-10h0m0 26h0m2 6h0m1-1h0m5-18h0m6-5h0"/><path stroke="#00BFC4" d="M2128 959h0m4-2h0m6-17h0m3 18h0m0-21h0m0 16h0m0 1h0m1 2h0m0-19h0m1 4h0m0 1h0m1-4h0m0 13h0m1 1h0m1-24h0m2 29h0m0-25h0m1 4h0m1 7h0m1-7h0m1-13h0m0 2h0m2 19h0m4-22h0m0-8h0m0 46h0m1-16h0m0-13h0m2 11h0m1-6h0m3-46h0m1 4h0m0 24h0m1 18h0m0-5h0m1-7h0m0 25h0m0-9h0m0 9h0m1-14h0m1 9h0m0-3h0m1-45h0m0 23h0m2 19h0m0 4h0m1 17h0m1-65h0m1 55h0m0-3h0m2-27h0m2 35h0m1-6h0m0-14h0m1 25h0m0-42h0m0 24h0m1-45h0m3 3h0m4 15h0m2-5h0m0 10h0m5-3h0m-67 52h0m5-7h0m0-1h0m0 2h0m2 2h0m2-1h0m1 0h0m1 20h0m4-9h0m1 4h0m0-7h0m1-4h0m1 10h0m0-10h0m4-7h0m2 3h0m0 4h0m4 1h0m2 13h0m1-3h0m1-14h0m1 14h0m1 10h0m2-13h0m0 14h0m0-12h0m1-4h0m3 6h0m1-5h0m1 7h0m0-17h0m2 18h0m0-11h0m1-2h0m1-6h0m2 14h0m1-3h0m1-10h0m0 12h0m0-12h0m1-4h0"/><path stroke="#9590FF" d="M2295 773h0m6 10h0m4-27h0m5 12h0m1 6h0m3-22h0m1-4h0m0 29h0m6-19h0m1 0h0m0-6h0m3 22h0m1-20h0m1 21h0m1-34h0m0 40h0m1-30h0m2 12h0m2 36h0m0-11h0m1-10h0m0-22h0m0-17h0m4 60h0m0-32h0m2-9h0m1-21h0m2-7h0m1 7h0m1 54h0m6-23h0m2-15h0m1-8h0m5 53h0m0-51h0m0-20h0m1 22h0m4-5h0m0-7h0m0 51h0m1-36h0m0 12h0m2-15h0m0-3h0m0 29h0m3-2h0m1-45h0m2 41h0m2-18h0m1-10h0m6-2h0m4-14h0m1 5h0m4 12h0m2-6h0m-66 84h0m4-14h0m3 19h0m0-13h0m8-8h0m16-3h0m0 1h0"/><path stroke="#619CFF" d="M2197 796h0m4 3h0m11-2h0m0-9h0m2 7h0m0-5h0m3 6h0m2-19h0m3 19h0m2-7h0m0 2h0m1-11h0m1 18h0m0-8h0m0 7h0m2 2h0m13-13h0m3-1h0m2-2h0m2 10h0m7 0h0m8 4h0m-85 35h0m2 12h0m5-14h0m2 3h0m1-17h0m1-3h0m1-3h0m1 25h0m1-1h0m2-32h0m0 34h0m4-14h0m2 35h0m3-9h0m3-21h0m0-23h0m1 55h0m1-13h0m0-27h0m2 16h0m0 28h0m0-52h0m1 52h0m1-51h0m0 35h0m0-21h0m1-12h0m1 41h0m2 2h0m0-12h0m1-32h0m1 51h0m0-23h0m1 12h0m0-36h0m2-5h0m0 33h0m2 5h0m1-22h0m1-17h0m0 39h0m2-42h0m1 30h0m0-10h0m0-12h0m2-14h0m3 31h0m1 19h0m1-14h0m5 8h0m1-4h0m0-24h0m1 43h0m2-9h0m0-44h0m0 52h0m1-23h0m2 32h0m1-38h0m3 2h0m1 26h0m1-50h0m0 21h0m2-9h0m1 41h0m4-11h0m2-19h0m0 26h0m2-28h0"/><path stroke="#FF67A4" d="M2489 692h0m1-8h0m4 24h0m1-2h0m4-4h0m2 5h0m1-6h0m1-3h0m0-5h0m0 14h0m1-6h0m1 3h0m2-4h0m4-6h0m4 1h0"/><path stroke="#E76BF3" d="M1927 381h0m2 4h0m2-7h0m3 2h0m3 5h0m1-16h0m1 14h0m1-26h0m0 24h0m1-15h0m2-5h0m0 8h0m1-17h0m0 9h0m0 3h0m0 0h0m0-6h0m0 6h0m0-12h0m1 16h0m1 0h0m2 11h0m0-10h0m0 1h0m1-18h0m1 6h0m2 27h0m0 0h0m2-24h0m0-8h0m1-3h0m0 29h0m1-1h0m1-7h0m4-30h0m0 12h0m0 9h0m1 10h0m0 4h0m0-12h0m1-16h0"/><path stroke="#FF62BC" d="M2286 792h0m0-8h0m6-1h0m5 16h0m-35 14h0m3 2h0m3 2h0m2 0h0m0-11h0m1 9h0m0-14h0m2 14h0m1-1h0m2 3h0m0-8h0m1 29h0m1-9h0m0-7h0m0-11h0m4-10h0m5 24h0m3-11h0m3-14h0m1 22h0m1-13h0m1 24h0m1-27h0m0 4h0m2 16h0m1-20h0m1 5h0m3 18h0m3-8h0m5-4h0"/></g><g font-size="29.5"><text x="1019.6" y="78.2" text-anchor="middle">13</text><text x="1106.4" y="85.8" text-anchor="middle">4</text><text x="1031.8" y="113.2" text-anchor="middle">8</text><text x="1114.0" y="112.4" text-anchor="middle">3</text><text x="1076.7" y="129.2" text-anchor="middle">0</text><text x="1133.8" y="149.3" text-anchor="middle">17</text><text x="1009.4" y="155.8" text-anchor="middle">26</text><text x="1072.1" y="171.8" text-anchor="middle">1</text><text x="971.3" y="196.1" text-anchor="middle">24</text><text x="1117.8" y="196.9" text-anchor="middle">14</text><text x="1365.0" y="222.0" text-anchor="middle">23</text><text x="1097.6" y="243.3" text-anchor="middle">5</text><text x="1129.2" y="252.0" text-anchor="middle">10</text><text x="1156.6" y="243.3" text-anchor="middle">29</text><text x="949.3" y="298.8" text-anchor="middle">6</text><text x="1177.5" y="288.2" text-anchor="middle">18</text><text x="1069.8" y="360.5" text-anchor="middle">22</text><text x="1115.9" y="373.0" text-anchor="middle">2</text><text x="1248.6" y="357.4" text-anchor="middle">28</text><text x="1171.8" y="390.1" text-anchor="middle">21</text><text x="1219.3" y="385.2" text-anchor="middle">7</text><text x="1262.3" y="387.1" text-anchor="middle">12</text><text x="1080.5" y="406.1" text-anchor="middle">11</text><text x="1029.1" y="411.8" text-anchor="middle">25</text><text x="1145.2" y="419.4" text-anchor="middle">27</text><text x="1069.8" y="432.0" text-anchor="middle">19</text><text x="1112.8" y="430.8" text-anchor="middle">20</text><text x="1124.2" y="466.9" text-anchor="middle">16</text><text x="1101.4" y="477.2" text-anchor="middle">9</text><text x="1081.6" y="484.1" text-anchor="middle">15</text></g><g transform="scale(0.5)" stroke-linecap="round" stroke-width="4.40" fill="none"><path stroke="#ff8c00" d="M573 2070h0m47-25h0m1-4h0m20-4h0m11 24h0m8-11h0m1-19h0m1 11h0m0 8h0m15 8h0m3-21h0m3 5h0m4 8h0m9 17h0m2 1h0m5-61h0m7 6h0m0 18h0m4 14h0m3-2h0m1-19h0m6 33h0m11 2h0m-96 88h0m32-52h0m43 2h0m4 18h0m-49 117h0m2-10h0m32-12h0m3 28h0m13-35h0m13 30h0m-277 21h0m76-5h0m198-5h0m380 72h0m1 4h0m-864 31h0m38 48h0m3-3h0m8-16h0m34-28h0m22 0h0m5 40h0m100 5h0m20-18h0m9 13h0m64-2h0m166-29h0m78-18h0m265-1h0m2 10h0m3-20h0m-786 85h0m3-11h0m21 53h0m24-51h0m10 6h0m2-1h0m0 6h0m2 54h0m3-12h0m7 14h0m28-44h0m11 8h0m0-16h0m5 2h0m2 23h0m0 28h0m4-51h0m3 22h0m12-36h0m1 20h0m3 27h0m34-45h0m3 61h0m20 0h0m0-37h0m14 28h0m21-53h0m18 36h0m0 8h0m2-13h0m4 12h0m1 14h0m18-21h0m40 9h0m11 5h0m50-12h0m3-24h0m2 30h0m24 23h0m28-9h0m14-20h0m7 8h0m8 11h0m8-3h0m11-23h0m11-22h0m8 52h0m45-15h0m2-6h0m44 27h0m6-13h0m1 9h0m12-21h0m-558 42h0m18 29h0m10 5h0m4 18h0m13-4h0m0-24h0m12-32h0m11 61h0m10-50h0m1 39h0m23 17h0m10-65h0m8 15h0m15 40h0m2-19h0m50 25h0m9-52h0m0 27h0m5 7h0m0-25h0m23-20h0m4 29h0m6 1h0m23 7h0m1 8h0m5-43h0m23 40h0m4-29h0m15-19h0m16 58h0m1 7h0m1-8h0m27-9h0m7 27h0m12-32h0m19-17h0m1 1h0m7-1h0m8-23h0m1 36h0m1-40h0m2 13h0m7-10h0m14 35h0m6-6h0m6-13h0m12 57h0m1-20h0m16-6h0m18-25h0m35 28h0m2 2h0m5 14h0m1-51h0m5 33h0m25 20h0m-514 10h0m5 51h0m12-39h0m3 33h0m2 2h0m9-39h0m12 2h0m9-11h0m6 75h0m0-2h0m2-67h0m1-5h0m5 77h0m14-30h0m1 4h0m1-51h0m16 1h0m1 46h0m20-31h0m7 20h0m8 4h0m5 1h0m8 17h0m23 7h0m15-25h0m6 3h0m3-3h0m2 38h0m15-35h0m2-30h0m12 61h0m3-8h0m15-61h0m8 3h0m1 25h0m5 44h0m6-29h0m11 14h0m2 10h0m10-51h0m1 25h0m0-9h0m25 34h0m18-29h0m18 3h0m8-25h0m5 12h0m14 15h0m1 6h0m3-9h0m5 29h0m5-29h0m11 21h0m6-3h0m4-17h0m6 0h0m2 21h0m11-32h0m10-13h0m12 6h0m8-18h0m10 1h0m1 48h0m4-43h0m6 35h0m15-51h0m-467 89h0m7 5h0m12 2h0m48 1h0m14 5h0m9 14h0m1-21h0m8 22h0m5 14h0m1 7h0m14-4h0m3 5h0m2-50h0m25 19h0m2-24h0m6 41h0m3 6h0m0-1h0m0 29h0m1-12h0m2-37h0m0 27h0m2 18h0m10-67h0m4 16h0m4-12h0m21 4h0m1 40h0m0-24h0m15-14h0m0 10h0m4 37h0m3-6h0m25-3h0m12-34h0m0-18h0m5 59h0m0 3h0m2-56h0m2-1h0m1 21h0m14 15h0m39 7h0m0-52h0m8 51h0m4-15h0m7-20h0m4 5h0m5 23h0m0-37h0m1 18h0m8-21h0m16 37h0m8-34h0m-312 73h0m15 2h0m2 11h0m23-9h0"/><path stroke="#000000" d="M581 2067h0m3 11h0m22-16h0m37 14h0m49-10h0m0-1h0m37-27h0m4 36h0m5-41h0m2-4h0m3 12h0m-169 102h0m10-35h0m3 50h0m1-56h0m6 30h0m9-35h0m0-2h0m3 51h0m6-28h0m2-2h0m2-16h0m3 32h0m1-19h0m1 21h0m0-1h0m4-32h0m3 44h0m26-14h0m3-44h0m12 44h0m5 17h0m10-51h0m21 26h0m34-26h0m-280 138h0m98-46h0m1 10h0m43-22h0m15 48h0m2-40h0m5-20h0m3 42h0m25-13h0m110-6h0m-404 129h0m10-12h0m21-3h0m10-7h0m5 5h0m16-17h0m2 9h0m5-27h0m3 18h0m7 14h0m7-28h0m2 3h0m11 25h0m3-5h0m2-36h0m7-16h0m6 41h0m3-22h0m16-4h0m41 52h0m1-13h0m23 14h0m10-4h0m7-31h0m3 8h0m0 38h0m8-64h0m68 7h0m10 3h0m34 40h0m4-42h0m39-3h0m-494 79h0m15 0h0m15-1h0m16-5h0m17-8h0m12 13h0m1-13h0m7 0h0m4 27h0m15-7h0m27 14h0m37-19h0m13 4h0m0 19h0m1 25h0m11-44h0m12-20h0m10 63h0m0-67h0m1 19h0m11 39h0m4-6h0m1-11h0m4-10h0m1-30h0m2 37h0m4 27h0m19-20h0m15 32h0m3-38h0m8-14h0m1-11h0m2 12h0m2 6h0m2 8h0m2-31h0m1 35h0m1 31h0m8-67h0m3 34h0m0 3h0m1-14h0m0-5h0m7-17h0m10 71h0m1-46h0m3-9h0m3 20h0m0-45h0m1 10h0m2 0h0m3 10h0m4 10h0m4-2h0m3 10h0m20-26h0m12 25h0m43 24h0m46-36h0m60-19h0m-496 75h0m74 29h0m99 42h0m9-68h0m80 41h0m5-9h0m12 36h0m3-30h0m27 1h0m62-33h0m-294 71h0m153 48h0m194 22h0m151-21h0m29-7h0m-364 104h0m99-43h0m162 4h0m22-4h0m-388 69h0m148 17h0m81 31h0m18-9h0m44-14h0m-179 54h0"/><path stroke="#ff0000" d="M714 1997h0m-140 63h0m67-6h0m8-6h0m12 9h0m0-31h0m3 38h0m7-40h0m0 0h0m1 29h0m6 18h0m2-6h0m5-56h0m0 43h0m1-40h0m1 25h0m3-23h0m2 2h0m7 21h0m1-9h0m4 28h0m3-48h0m2 6h0m7 48h0m1-30h0m2 7h0m2-29h0m0 19h0m3-3h0m6-1h0m2-18h0m10 27h0m-37 65h0m6 6h0m5 12h0m36-22h0m-171 117h0m70-8h0m40-34h0m9 41h0m29-35h0m-152 66h0m76 76h0m59-6h0m38-60h0m30 2h0m269 66h0m55-5h0m-850 56h0m8 16h0m7-12h0m0-24h0m7 40h0m7 5h0m3-10h0m12-9h0m4 14h0m2 6h0m9-17h0m4 13h0m45-46h0m39 49h0m34-3h0m205-61h0m115 35h0m0 28h0m2-34h0m6 18h0m1-25h0m3 33h0m6-32h0m2-8h0m1 9h0m0 16h0m1 10h0m6 12h0m2-5h0m8-10h0m8-39h0m5 9h0m243-23h0m3 20h0m9 4h0m11-19h0m16 15h0m35-6h0m-853 67h0m1 26h0m3-11h0m0 11h0m6 5h0m5-34h0m1 57h0m14-28h0m4 16h0m12-9h0m0 31h0m8-27h0m2 6h0m10-30h0m2 27h0m10 33h0m2-73h0m4 11h0m8-11h0m0 0h0m2 38h0m2 8h0m7-21h0m8-16h0m2 28h0m2 7h0m2-35h0m12-14h0m12 47h0m1-41h0m2 71h0m5-36h0m1-28h0m1 40h0m4-38h0m4 25h0m1-2h0m4 26h0m13-48h0m2 40h0m1 14h0m1-15h0m9-9h0m2 9h0m4-8h0m1 0h0m11 26h0m8-31h0m0-7h0m9 38h0m1-17h0m3 19h0m3-47h0m16 14h0m1 16h0m0 12h0m8-52h0m4 55h0m1-23h0m3 26h0m6-14h0m16 14h0m1-7h0m3 6h0m13-38h0m4 16h0m15 19h0m8 2h0m1-14h0m5-33h0m3 44h0m23-21h0m11 22h0m5-29h0m1-1h0m1 18h0m1-10h0m9-23h0m3 34h0m1-18h0m15-30h0m1 23h0m1 22h0m4-8h0m2-5h0m4 17h0m2 1h0m4-36h0m15 42h0m1-60h0m3 0h0m0 11h0m14-7h0m0 51h0m1 1h0m14-5h0m5-21h0m1 15h0m0 16h0m1-44h0m3 19h0m0 11h0m2-43h0m3 26h0m3 22h0m7-54h0m8 71h0m12-5h0m0-39h0m1 6h0m2-13h0m1 30h0m2 21h0m1-28h0m7 1h0m6 22h0m9 1h0m1-24h0m4 27h0m1-24h0m7 13h0m40-1h0m24-1h0m0 7h0m-583 18h0m6 32h0m2-31h0m0 32h0m1-7h0m10-3h0m11 17h0m0-33h0m2-1h0m8 46h0m3-34h0m14 7h0m5 23h0m4 17h0m4-35h0m12 32h0m4-55h0m17-9h0m1-8h0m4 64h0m6 8h0m5-65h0m0 8h0m1 30h0m5 28h0m3-10h0m10-14h0m0 22h0m3-9h0m2-45h0m2 29h0m2-9h0m5-25h0m1 49h0m1-35h0m3 21h0m4-30h0m7-15h0m1 34h0m0 32h0m0-44h0m2 43h0m7-56h0m0 18h0m4 21h0m9-49h0m1 67h0m3-66h0m1 66h0m0-18h0m3 17h0m2-37h0m4-7h0m0-9h0m10 28h0m4 12h0m1 25h0m2-14h0m1-32h0m0 30h0m3-34h0m4-20h0m1-4h0m0 32h0m7 35h0m4-33h0m1-34h0m4 24h0m1-11h0m0 12h0m3 24h0m0 20h0m5 2h0m9-72h0m4 57h0m4-37h0m5 39h0m2 6h0m1-62h0m5 8h0m2 59h0m3-59h0m4 56h0m5-19h0m2-5h0m1-32h0m0 14h0m1 26h0m1 12h0m2-46h0m0 52h0m5-20h0m3-5h0m2-19h0m6-28h0m1 55h0m2-43h0m1 11h0m7 33h0m0-8h0m0 12h0m4 6h0m2-33h0m2 11h0m1-40h0m12 55h0m1-51h0m4 50h0m3-56h0m6 56h0m1-12h0m2-33h0m4 46h0m2-23h0m5-3h0m2 34h0m7-22h0m1-6h0m1-14h0m4 39h0m11-28h0m5 2h0m1-8h0m7 48h0m13-61h0m2-14h0m2 23h0m5 6h0m15 7h0m5 9h0m1 20h0m2-18h0m0-23h0m12-26h0m4 24h0m2-24h0m1 31h0m4-3h0m7-11h0m1 33h0m5-37h0m2 48h0m2-49h0m7 60h0m5-20h0m6-37h0m0 1h0m10 6h0m8 31h0m1 9h0m3-45h0m6-5h0m0 24h0m8-33h0m2 1h0m1 57h0m2 6h0m2-24h0m2 19h0m2-23h0m9-19h0m1 31h0m4-44h0m5 12h0m0 16h0m2-5h0m-550 48h0m12 1h0m5-1h0m1 3h0m12 45h0m0-31h0m3-13h0m0 21h0m2 28h0m2 17h0m1-16h0m3 5h0m2-42h0m4 0h0m0 49h0m3-39h0m0 4h0m1-32h0m6 4h0m6 40h0m1 30h0m4-18h0m0 3h0m5-47h0m1 67h0m2-28h0m8-12h0m0-20h0m6 39h0m6-30h0m7 36h0m2-54h0m4-6h0m0 42h0m1 5h0m1 8h0m2-10h0m3 25h0m2-72h0m1 18h0m1 3h0m9 0h0m1-16h0m4 23h0m1 13h0m3 8h0m1-4h0m3 23h0m4 5h0m4-25h0m8-19h0m2-22h0m1 57h0m2-8h0m3-55h0m0 64h0m1-1h0m9-29h0m1 34h0m3-26h0m2 15h0m2-12h0m6 1h0m4-5h0m2-26h0m3 55h0m2-72h0m5 65h0m5 2h0m2-3h0m6-32h0m1-19h0m0-4h0m2 11h0m0-18h0m2 57h0m7-22h0m0-4h0m5-2h0m0-23h0m12 32h0m12-25h0m2 23h0m1 33h0m1-56h0m4-8h0m2-6h0m1 75h0m3-15h0m2-36h0m4 36h0m5 4h0m0-46h0m0 6h0m3 39h0m4-55h0m5 12h0m4 53h0m4-21h0m2 0h0m4-30h0m16 0h0m2 28h0m1 4h0m1 22h0m2-4h0m6-74h0m5 7h0m8 57h0m5-40h0m20 20h0m3 13h0m3 15h0m2-72h0m5 33h0m1 41h0m2-4h0m12-55h0m1 4h0m1 14h0m2-16h0m11 14h0m3 0h0m7 11h0m4-34h0m3 13h0m2 2h0m7 37h0m1 3h0m1-44h0m0 37h0m4-38h0m3 26h0m5 23h0m2-9h0m1-37h0m1 21h0m0 20h0m0-20h0m2-6h0m3 33h0m8 5h0m1-30h0m1 5h0m2-6h0m15-12h0m0 25h0m3-34h0m25-11h0m4-3h0m0-7h0m-478 80h0m4 12h0m15-1h0m0 26h0m12-7h0m7 0h0m1 4h0m5 1h0m4 13h0m4 18h0m6-18h0m2-14h0m1 34h0m7-43h0m0-16h0m2 60h0m1-12h0m5-38h0m0 52h0m1-50h0m3 13h0m2-26h0m0 31h0m1 9h0m3 12h0m12-5h0m4 20h0m1-34h0m1 31h0m3-62h0m3 65h0m0 1h0m2-74h0m1 29h0m3-11h0m4 47h0m1-57h0m2 53h0m2 1h0m0-28h0m0-27h0m1 37h0m3-35h0m4 30h0m1 34h0m4 0h0m2-5h0m1-68h0m0 67h0m5 0h0m2-35h0m1 11h0m1-23h0m1 14h0m3 19h0m5-28h0m0-2h0m1 5h0m2 0h0m2 31h0m0 17h0m2-74h0m3 73h0m2-11h0m6-47h0m3-9h0m0 64h0m6-55h0m3 0h0m1 11h0m3 13h0m0-22h0m0 51h0m9-15h0m3-44h0m1 11h0m3 42h0m1-55h0m1 19h0m1 32h0m2 12h0m3-66h0m6 11h0m6 26h0m2 13h0m4-16h0m0 12h0m1-29h0m5-20h0m4 45h0m2-15h0m3-8h0m4 29h0m5-15h0m1 15h0m1-57h0m2 31h0m2 41h0m6-30h0m1 26h0m2-65h0m7 44h0m3 1h0m5-24h0m13 37h0m5-10h0m0-46h0m1 5h0m1 29h0m5 19h0m2-14h0m10 4h0m4-25h0m8 41h0m3-54h0m0 5h0m9-8h0m16 37h0m4-22h0m1 0h0m6 22h0m5-27h0m2 17h0m2 3h0m5-15h0m9-19h0m1 5h0m-312 75h0m3 12h0m20-1h0m6-6h0m13 0h0m3 1h0"/><path stroke="#8a2be2" d="M596 2079h0m10-22h0m30 21h0m0-4h0m10-27h0m5 11h0m21 19h0m3-43h0m10-21h0m13 30h0m30 18h0m0-50h0m11 64h0m2-38h0m-170 119h0m19-74h0m0 0h0m6 19h0m13 50h0m4-29h0m5-27h0m14 22h0m6 39h0m1-56h0m2 43h0m4-16h0m2 29h0m2-41h0m0-23h0m0-10h0m3 58h0m3 6h0m0-30h0m1 21h0m2-9h0m3-44h0m4 4h0m6 54h0m0-16h0m1-26h0m1-9h0m2 28h0m6 29h0m0-46h0m0-16h0m3-2h0m1 72h0m12-56h0m4 43h0m7-4h0m1-57h0m1 9h0m2 66h0m1-24h0m1-4h0m3-11h0m1 0h0m1-5h0m1-14h0m2-3h0m4 51h0m2-13h0m0-16h0m7 41h0m4-59h0m0 3h0m0 48h0m7 5h0m10-8h0m4-29h0m6 36h0m10-10h0m7 6h0m-293 71h0m5-10h0m16 16h0m19-15h0m3 3h0m4 5h0m6-19h0m1-8h0m6 11h0m1 11h0m0-27h0m2 0h0m7 3h0m6 19h0m1 12h0m4-31h0m3 2h0m2 11h0m5-15h0m11 29h0m2-16h0m6-27h0m3-1h0m2 20h0m6 27h0m3 18h0m7-54h0m6 47h0m1-55h0m3 5h0m13 9h0m2-29h0m0-3h0m15 2h0m2 36h0m2-24h0m0 60h0m0 4h0m0-68h0m5 48h0m2-27h0m6-16h0m7 64h0m1-28h0m1-16h0m5-31h0m6 55h0m3-24h0m2 42h0m7-25h0m2-52h0m3 45h0m0 18h0m2 7h0m6-5h0m2-37h0m0 52h0m1-4h0m8-63h0m1 17h0m7 46h0m1-24h0m5-40h0m6 20h0m2-18h0m4 32h0m5-3h0m0-10h0m9 2h0m2 41h0m5-62h0m4 19h0m1 40h0m2 1h0m5-17h0m1-33h0m2 16h0m9 30h0m-498 88h0m43-9h0m53 5h0m11-14h0m8-9h0m2 23h0m14-65h0m0 19h0m7-12h0m2 36h0m16-49h0m3 17h0m4-8h0m8 50h0m6 5h0m1-8h0m1-33h0m6 24h0m1 7h0m2-11h0m4-1h0m8 1h0m2-33h0m4 49h0m6-6h0m1-15h0m4 29h0m2-3h0m3-40h0m0-13h0m2 8h0m3-21h0m5 62h0m4-34h0m3-13h0m7 10h0m0 15h0m10-9h0m0 37h0m1-22h0m3-25h0m5-10h0m1 64h0m4-65h0m1 48h0m0 6h0m9-49h0m0 47h0m19-8h0m4 14h0m3-64h0m3 7h0m4 17h0m2-10h0m2-3h0m1 9h0m2 30h0m2-42h0m6 12h0m5 50h0m1-11h0m1-58h0m4 72h0m3-12h0m9-29h0m4 6h0m1 31h0m1-25h0m2-29h0m2 54h0m4-66h0m4-5h0m3 41h0m2 30h0m4 2h0m0-54h0m0-8h0m5 38h0m0-21h0m13 21h0m2-24h0m1 29h0m0-23h0m0 11h0m10 34h0m3-67h0m9 43h0m6 17h0m1-40h0m0-9h0m3 10h0m2 0h0m0 35h0m3-32h0m2-33h0m1 66h0m0-46h0m2 6h0m2-18h0m5 8h0m5-12h0m2 53h0m4 7h0m1-51h0m2-12h0m4 20h0m1 22h0m2-24h0m0 13h0m14-17h0m5 27h0m6-25h0m269 55h0m9-5h0m8 5h0m22 5h0m-847 19h0m25-16h0m1 43h0m7-24h0m5-1h0m0 35h0m0-31h0m21 10h0m3 12h0m16-26h0m5 15h0m3-18h0m7 1h0m3 32h0m7 5h0m4 20h0m0-48h0m14-1h0m4-2h0m1 23h0m2 18h0m0-14h0m2 16h0m6 1h0m1-43h0m12 21h0m0-4h0m3 26h0m2-16h0m1 9h0m0-25h0m3-26h0m10 48h0m9-2h0m4 14h0m2-27h0m1 14h0m3 19h0m0-21h0m10-7h0m3-41h0m5 21h0m1 44h0m1 3h0m2-35h0m8 16h0m4 12h0m4-12h0m1 15h0m0-53h0m7 26h0m3 18h0m1 16h0m3-59h0m4 31h0m8-2h0m2 30h0m20-62h0m4-2h0m28 46h0m4-44h0m7 2h0m10 27h0m7-16h0m3 22h0m2-45h0m3 33h0m9-6h0m1 38h0m3-8h0m4-38h0m5 25h0m10 8h0m4-58h0m1 60h0m0-36h0m2-16h0m6 23h0m7-14h0m5-10h0m1 69h0m2-58h0m3-11h0m1 26h0m2 23h0m1-22h0m3-10h0m4 3h0m7 42h0m2-5h0m28-32h0m1 5h0m0-25h0m8 51h0m3-14h0m15-13h0m3-16h0m25-18h0m278 6h0m6 14h0m2 1h0m19-7h0m17-12h0m8 3h0m24-7h0m-680 87h0m38 0h0m7 23h0m3 23h0m2-54h0m2 12h0m16 19h0m9-3h0m4-27h0m22 2h0m16 14h0m3-15h0m5 33h0m8-12h0m2-8h0m2 12h0m0-20h0m1 19h0m1 10h0m10-12h0m5 24h0m18-36h0m1 22h0m1-13h0m19-18h0m5 29h0m11-23h0m2 19h0m1-24h0m3 6h0m21 3h0m149 29h0m1 1h0m14 12h0m6-2h0m-351 88h0m5 1h0m88 15h0m20-57h0m129 59h0m120-9h0m31-36h0m-450 85h0m26 4h0m34-15h0m221-16h0m-178 108h0m63 34h0m120-48h0m64-24h0"/><path stroke="#ffff00" d="M598 2060h0m24-13h0m10-13h0m6 13h0m4 19h0m19-39h0m2 22h0m6 18h0m4-26h0m1-7h0m8 3h0m15-2h0m9 16h0m4-24h0m6 34h0m13-36h0m5-6h0m-497 328h0m29 41h0m1 12h0m1-28h0m16-1h0m10-6h0m8 32h0m8-11h0m1 1h0m4 6h0m6-3h0m41-11h0m17 7h0m378 12h0m2-33h0m10 19h0m1-45h0m10 40h0m262-28h0m7-1h0m29-12h0m14-16h0m16 18h0m2-20h0m-838 126h0m25 21h0m1-42h0m3 50h0m10-27h0m0 27h0m3-50h0m1 14h0m2 8h0m6-33h0m4 37h0m7-45h0m1 58h0m11-31h0m12 7h0m3 17h0m8-35h0m2-22h0m23 39h0m17-25h0m2 9h0m10 31h0m1-15h0m9 41h0m0-11h0m3-46h0m1 23h0m10-1h0m1 35h0m2-27h0m2 7h0m3 3h0m2 6h0m2-50h0m4 61h0m5-3h0m0-49h0m6 3h0m8 23h0m3-31h0m31-6h0m13 40h0m9 4h0m4-22h0m4 2h0m0 12h0m26 25h0m10-41h0m3 38h0m11 0h0m31-37h0m5 29h0m9-3h0m10-15h0m9 2h0m33-3h0m1-15h0m9 41h0m4-34h0m6 18h0m6 6h0m2-10h0m1 13h0m19-18h0m8 5h0m8 4h0m1-57h0m15 25h0m3-22h0m4 13h0m0 55h0m5-24h0m0 3h0m6 15h0m16 11h0m7-7h0m6-7h0m2-24h0m5 9h0m19 30h0m2-6h0m29-31h0m7 31h0m2-10h0m8 8h0m-576 42h0m10 18h0m9-17h0m1 9h0m6 28h0m20-35h0m7 13h0m7 2h0m3-45h0m11 33h0m1-10h0m3 39h0m3-8h0m2-57h0m18 50h0m2-16h0m1-11h0m2 36h0m11-31h0m3-4h0m20-3h0m2-13h0m2 23h0m6-24h0m16 23h0m1-21h0m7-2h0m0 58h0m12-11h0m3-17h0m4-6h0m1-2h0m4 12h0m2 19h0m3-23h0m4-36h0m2 66h0m10-36h0m3 34h0m8-61h0m7 65h0m0 5h0m9-4h0m3-56h0m8 2h0m8 49h0m1-63h0m22 59h0m2-18h0m8-24h0m3-8h0m2 22h0m12 41h0m3-7h0m1-7h0m17-61h0m1 8h0m2 21h0m8 37h0m0-30h0m10 26h0m0 7h0m14-55h0m1 59h0m1-73h0m1 29h0m6 35h0m2-12h0m3-2h0m1-12h0m12 1h0m2-10h0m14 35h0m9 6h0m2 6h0m2-68h0m3 44h0m1-36h0m24 61h0m3-54h0m1 25h0m17-2h0m0 24h0m28-30h0m4 12h0m12-38h0m1 2h0m1 20h0m5-21h0m3 47h0m14-41h0m6 8h0m0 35h0m2-60h0m2 5h0m3 35h0m10 10h0m12-46h0m-529 72h0m20 30h0m9 30h0m0-38h0m4 22h0m10-9h0m3-18h0m15 36h0m12 14h0m1-42h0m4 27h0m0-17h0m11-23h0m4 36h0m9 13h0m3-19h0m2 17h0m11-46h0m6 27h0m4 2h0m1 16h0m5 18h0m1-51h0m16 52h0m29-18h0m4-49h0m2 45h0m2-39h0m12 38h0m7 11h0m9-28h0m0-1h0m6 13h0m11 24h0m2-30h0m7 33h0m10-55h0m6 47h0m3-62h0m2 9h0m5 29h0m3 15h0m1-45h0m10 23h0m4 11h0m3-13h0m4-16h0m2 17h0m3-28h0m2 29h0m15-8h0m4 41h0m1-46h0m3 9h0m0-13h0m1 45h0m8-17h0m4-18h0m5-11h0m23 46h0m1 2h0m7-14h0m28-47h0m2 8h0m6-15h0m23 72h0m6-8h0m10-53h0m14 15h0m9 28h0m6-48h0m1 52h0m8-55h0m8 30h0m3-7h0m19-25h0m2 23h0m1-20h0m-456 110h0m9-9h0m23 9h0m7 43h0m5-13h0m2-40h0m8 23h0m1 0h0m3-27h0m5 25h0m1 6h0m5-15h0m7-27h0m6 6h0m2 13h0m11 29h0m3 3h0m0 1h0m0-20h0m1 3h0m7 7h0m4 1h0m7-52h0m10 48h0m4 10h0m4-23h0m2 40h0m7-3h0m7-53h0m5 54h0m6-55h0m11 55h0m8-3h0m1-29h0m2-10h0m7 22h0m3-39h0m0-8h0m0 25h0m2 24h0m1 17h0m0-58h0m2 52h0m8-19h0m3-5h0m1-22h0m1 54h0m1-48h0m1 34h0m9-23h0m2 34h0m0-23h0m12 13h0m5-14h0m6-12h0m7-7h0m8 32h0m33-56h0m2 45h0m18 14h0m2-46h0m28 3h0m1 24h0m9-14h0m32-27h0m-321 84h0m13-2h0m19 14h0m15-5h0m21-3h0m3-9h0m5 0h0"/><path stroke="#00ff00" d="M597 2074h0m15-11h0m2 17h0m24-13h0m4-20h0m42 31h0m8-1h0m1 1h0m1-3h0m36-1h0m15-2h0m-168 63h0m5-47h0m10 20h0m8 36h0m20-22h0m14 8h0m1-2h0m4-43h0m9 66h0m6-35h0m5-33h0m4 74h0m4-20h0m5-25h0m8-15h0m2-12h0m7 11h0m4 44h0m6-57h0m1 17h0m12 25h0m2-24h0m0 24h0m3 28h0m0-3h0m1-1h0m1-32h0m10 30h0m2-42h0m1 9h0m1 38h0m1-8h0m1-30h0m1 13h0m2-11h0m2 7h0m9 15h0m1-26h0m8 19h0m7 4h0m-316 102h0m42-10h0m39 3h0m22-4h0m35 8h0m28-70h0m1 74h0m1-20h0m7-51h0m3 26h0m1-13h0m28 21h0m8-20h0m4 2h0m14-7h0m4 58h0m4-9h0m4-58h0m2 49h0m2-23h0m2 30h0m1-36h0m5-12h0m9 50h0m9 4h0m2-8h0m9-37h0m2 50h0m7-3h0m1 4h0m7-70h0m2 8h0m0 57h0m1-52h0m2 56h0m0-9h0m1-51h0m2 46h0m3-23h0m1-17h0m0 33h0m16 10h0m3-27h0m0-34h0m3 22h0m0 48h0m0-7h0m4-2h0m3-5h0m1 19h0m1-23h0m-448 103h0m5-5h0m59-1h0m26-12h0m9 6h0m45 6h0m12-41h0m2-3h0m13 9h0m15 24h0m5 2h0m7 3h0m3-41h0m10 3h0m43 50h0m10-59h0m13 25h0m0-42h0m3 20h0m45 31h0m1-40h0m7 12h0m22 40h0m0 13h0m5-43h0m5 27h0m3-43h0m2 53h0m2-39h0m2 34h0m3-47h0m2 26h0m17 10h0m2-36h0m6 19h0m5 33h0m8 5h0m2-68h0m5 54h0m4-9h0m2 11h0m6-60h0m0 71h0m2-56h0m6 14h0m6-19h0m-552 83h0m24 8h0m12 0h0m2 13h0m15 18h0m26 14h0m6-51h0m15 51h0m16-42h0m4 41h0m2 7h0m7-70h0m3 64h0m6-56h0m2 47h0m4-31h0m38 6h0m16 27h0m9-2h0m1-58h0m3 12h0m39 64h0m54-65h0m0 42h0m0-23h0m9 40h0m46-23h0m10-27h0m34 16h0m10 33h0m6-22h0m13-12h0m0 3h0m8 27h0m0 5h0m2-56h0m1 39h0m5-13h0m1-2h0m7-37h0m3 75h0m2-7h0m17-65h0m1 56h0m3-18h0m1-45h0m1 45h0m13-31h0m1 8h0m3 1h0m3-4h0m27-4h0m261 19h0m19 1h0m38-10h0m-606 72h0m0-14h0m19 9h0m15 23h0m24-12h0m15-10h0m1 30h0m10-10h0m4-29h0m51 4h0m34 15h0m30 2h0m10-23h0m38 5h0m25 44h0m34 11h0m0-54h0m11 46h0m38-1h0m2 11h0m1-21h0m8 18h0m17-16h0m18 19h0m-557 49h0m35 42h0m24-20h0m83-26h0m79-23h0m97 63h0m35-42h0m83-26h0m92 40h0m32 7h0m-460 104h0m99-54h0m49-17h0m170 59h0m84 12h0m-399 11h0m8-2h0m120 19h0m11 41h0m52-17h0"/><path stroke="#0000ff" d="M492 2210h0m176-38h0m-176 149h0m44 47h0m-192 63h0m100 21h0m139-25h0m30 12h0m-199 58h0m59 14h0m10 35h0m29-50h0m29 43h0m64-20h0m188 39h0m5-57h0m-412 79h0m22 1h0m135 14h0m195 2h0m-221 59h0m209 40h0m77-49h0m-244 82h0"/><path stroke="#8a2be2" d="M590 2079h0m2-28h0m14 22h0m22-26h0m10 32h0m1-43h0m13 4h0m2 15h0m12-38h0m7 62h0m8-35h0m21-18h0m14 49h0m10-55h0m1 26h0m6 11h0m-179 100h0m10-4h0m8-15h0m8 13h0m10-9h0m10 8h0m4-49h0m6-21h0m3 26h0m3-4h0m9 19h0m1 22h0m2 1h0m3-59h0m1 22h0m0 20h0m1-26h0m0 49h0m2-22h0m2 12h0m1-48h0m2 40h0m6-30h0m2 49h0m4-2h0m1-25h0m1 23h0m1-21h0m1-45h0m2 21h0m0 49h0m3 3h0m1-44h0m2 39h0m0-37h0m0 33h0m2-13h0m0-31h0m2 25h0m1 29h0m0-61h0m0 33h0m3 17h0m3-34h0m0-12h0m1 22h0m0-32h0m1 63h0m3 6h0m1-35h0m3 18h0m1 5h0m2-31h0m4 16h0m1-5h0m1 28h0m1-14h0m2 8h0m0 13h0m3-79h0m2 68h0m1 11h0m1-20h0m0 0h0m1-20h0m2-33h0m1 54h0m1-26h0m1-29h0m7 15h0m0 47h0m1-15h0m1-9h0m3 31h0m3-45h0m0-19h0m3 30h0m2-11h0m1 37h0m1-19h0m0-27h0m0 47h0m4-38h0m1 6h0m5 28h0m7-36h0m1-20h0m3 26h0m2-31h0m0 48h0m3-27h0m0 41h0m4 12h0m12-7h0m2-11h0m-281 91h0m13 6h0m5-15h0m17 1h0m17-34h0m1 28h0m9 3h0m8-6h0m11-42h0m2 24h0m15 42h0m4-44h0m2 16h0m9-18h0m4-2h0m3 42h0m7-43h0m2-15h0m5-7h0m7 52h0m0-25h0m1-5h0m1 12h0m3-7h0m2-12h0m0 55h0m6-3h0m18-24h0m8 13h0m1-60h0m20 77h0m1-38h0m0 14h0m2-50h0m1 73h0m2-9h0m1-37h0m11 31h0m2 12h0m0-65h0m0-3h0m6 33h0m1-34h0m1 24h0m0 6h0m1-21h0m0-14h0m6 63h0m7-56h0m3 23h0m2 10h0m7-32h0m1-6h0m6 26h0m5 29h0m3-15h0m0-9h0m11 25h0m2-43h0m1 61h0m3-63h0m4 16h0m1 3h0m1-32h0m4 59h0m3-15h0m3 2h0m-491 111h0m60 2h0m10-8h0m13 8h0m8-2h0m23-13h0m11-40h0m5 44h0m3 1h0m2-6h0m4-14h0m6-41h0m4 17h0m8-2h0m5-9h0m5 12h0m3 19h0m12 26h0m1-22h0m5-18h0m9-21h0m1 19h0m1 3h0m2 33h0m1-37h0m10 37h0m2 13h0m4-7h0m3-42h0m7 15h0m3 25h0m1 7h0m2-18h0m5-18h0m0 13h0m3-12h0m7-21h0m6 4h0m0-18h0m0 9h0m1 31h0m4-20h0m8 42h0m5-21h0m1-46h0m5 38h0m6 7h0m2-35h0m5 38h0m0-13h0m9-24h0m1 48h0m2 14h0m0-51h0m3 35h0m17 19h0m9-30h0m5 2h0m6-14h0m0-20h0m1 42h0m2-57h0m1 9h0m0 10h0m1 24h0m1 31h0m1-37h0m0-18h0m12 13h0m17 23h0m4-28h0m1-17h0m4 48h0m9-57h0m8 70h0m1-22h0m6-19h0m0 3h0m5 24h0m0 16h0m3-49h0m4 50h0m3-33h0m6-22h0m15 29h0m11-11h0m3 20h0m6-51h0m1 62h0m6-53h0m10 32h0m4-6h0m2-30h0m1-5h0m-571 103h0m45-10h0m9 6h0m9-7h0m4-17h0m14 35h0m9 33h0m17-67h0m1 50h0m5-35h0m1 8h0m0 2h0m0 45h0m0-25h0m5-14h0m5-23h0m1 22h0m4 46h0m1-72h0m9 72h0m9-15h0m3-36h0m0 40h0m1-27h0m0 32h0m1-68h0m2 21h0m1 47h0m1-38h0m0-21h0m1 56h0m4-56h0m4 33h0m6 3h0m4 3h0m1 1h0m1-18h0m0 4h0m2 19h0m15 14h0m2 3h0m7-40h0m2-17h0m12 50h0m0-23h0m0 25h0m1-21h0m1-49h0m5 32h0m6 42h0m1-69h0m2 32h0m5-20h0m1 61h0m10-61h0m1 56h0m7-64h0m1-5h0m3 56h0m1-56h0m1 47h0m6-30h0m9 37h0m3-12h0m11-36h0m2 43h0m3-34h0m11 28h0m2 23h0m2-24h0m0-36h0m2 38h0m1 25h0m4-44h0m5-2h0m10 35h0m0-33h0m1 33h0m9 7h0m1 4h0m2-41h0m1 37h0m0-32h0m4-19h0m2 9h0m6-18h0m3 53h0m4-52h0m3 13h0m5-21h0m1 0h0m3 17h0m0 14h0m0-20h0m2-12h0m8 33h0m2 4h0m2 27h0m5-14h0m3 16h0m3-4h0m2-4h0m1-53h0m6 70h0m3-47h0m6-20h0m1 23h0m1 22h0m10-47h0m4 35h0m1-21h0m3 54h0m18 1h0m4-12h0m3-63h0m1 11h0m11 7h0m0 6h0m19 34h0m6-46h0m0 42h0m2-8h0m6-40h0m4 52h0m2-26h0m4-5h0m19-20h0m6-7h0m273 30h0m1-19h0m9 19h0m28-24h0m-702 80h0m14-2h0m8 26h0m50-4h0m7-6h0m7-10h0m15-6h0m2 28h0m1-20h0m11-4h0m1 17h0m5-22h0m5 4h0m2 34h0m3-20h0m3 0h0m14-1h0m4 43h0m2-27h0m4-17h0m2-13h0m6 0h0m12 8h0m1-11h0m1 14h0m4-10h0m4 35h0m7-38h0m0 28h0m4-10h0m0-23h0m5 7h0m3-7h0m9 24h0m1-13h0m0 38h0m2-34h0m2 27h0m26-33h0m12 3h0m18 4h0m1-15h0m15 76h0m0-65h0m1 17h0m8-24h0m2-5h0m19 63h0m132-15h0m14 2h0m17 1h0m2-2h0m13 1h0m3 8h0m6 12h0m-553 74h0m10 6h0m10-54h0m172 53h0m46-66h0m44 11h0m52 53h0m14 2h0m45-15h0m-303 57h0m73 31h0m12-23h0m252-35h0m2 22h0m67-15h0m-331 106h0m4-11h0m98 47h0"/><path stroke="#00ff00" d="M572 2064h0m32 10h0m20-15h0m3 3h0m22 10h0m18-45h0m8 50h0m28 1h0m7-18h0m7 13h0m-142 12h0m27 19h0m32 37h0m6-13h0m5-9h0m6-9h0m11 4h0m15-4h0m1-27h0m1 13h0m1 36h0m4-1h0m4 20h0m3-27h0m10-20h0m1 51h0m4-47h0m2 18h0m17 6h0m2-11h0m3 5h0m1 21h0m2-49h0m2-3h0m3-13h0m0 12h0m1-11h0m7 34h0m3-2h0m1-7h0m4-24h0m3 59h0m4-26h0m17 33h0m-234 75h0m0 1h0m38-66h0m14 71h0m10-36h0m24-31h0m14 63h0m26-62h0m10 72h0m1-16h0m2-22h0m11 14h0m7 2h0m0-44h0m3 10h0m2 25h0m3-42h0m3 61h0m5 7h0m1-69h0m5 13h0m4 61h0m1-76h0m4 8h0m1 47h0m11-51h0m6 57h0m2-51h0m1-5h0m2 68h0m0-41h0m5 15h0m4-35h0m6 24h0m1 11h0m6-47h0m2 40h0m11-35h0m0 64h0m-381 55h0m31 2h0m2-1h0m56 29h0m11-46h0m7 38h0m28-29h0m5 9h0m4 15h0m11-60h0m12 46h0m6 10h0m38-25h0m1 2h0m25 4h0m30-10h0m4 47h0m0-19h0m9-50h0m8 3h0m10 47h0m3-31h0m5 0h0m0 13h0m1 20h0m1-35h0m2-3h0m0 33h0m1-51h0m3 17h0m4 42h0m3-2h0m5 8h0m2-59h0m0 1h0m2 38h0m1-24h0m3-23h0m3 21h0m7 6h0m5-17h0m0 1h0m5 7h0m3 1h0m4-14h0m4 46h0m3-24h0m9-5h0m309 56h0m-825 5h0m57 57h0m2-54h0m2 9h0m0 50h0m12-30h0m14-16h0m16-10h0m21 26h0m2-14h0m5 52h0m9-42h0m7 5h0m11 17h0m3 23h0m1-19h0m5-57h0m9 57h0m20-10h0m3 19h0m2-60h0m11 25h0m22 0h0m2-16h0m1 14h0m3 49h0m6-30h0m6 14h0m2-17h0m6 9h0m34-9h0m4 15h0m6-14h0m36-15h0m8 36h0m0-39h0m39-8h0m23 35h0m3-36h0m0 45h0m4-45h0m8 4h0m3 53h0m11-73h0m5 8h0m1 37h0m2-34h0m1 31h0m12-39h0m4-3h0m2 49h0m6-29h0m19 5h0m21-28h0m1 50h0m16-14h0m222 17h0m17-16h0m12-23h0m21 5h0m10-8h0m23 3h0m16-11h0m-772 127h0m9-33h0m26-17h0m15 4h0m33-1h0m15 36h0m7-32h0m17 7h0m23 14h0m1-16h0m47 24h0m10 7h0m18-20h0m68-3h0m55-10h0m162 49h0m6-13h0m13 7h0m4-12h0m10 15h0m-518 94h0m21-61h0m62 42h0m68 26h0m83-53h0m141-9h0m7 10h0m-326 57h0m5 18h0m225-12h0m87 7h0m77 15h0m24-22h0m27 3h0m12-10h0m-359 88h0m2-7h0m71 32h0m1 28h0m29-43h0m58 14h0m97 3h0"/><path stroke="#ff0000" d="M582 2066h0m26-17h0m9 17h0m3-17h0m17 0h0m1-20h0m5 4h0m3 38h0m3-14h0m15-11h0m10 7h0m2-9h0m1-13h0m7 4h0m12 5h0m1-24h0m8-2h0m4 55h0m7-60h0m9 38h0m23 21h0m-115 40h0m15 17h0m30-22h0m4 13h0m16 44h0m1-75h0m1 1h0m33 83h0m-179 138h0m10-66h0m94 77h0m46-34h0m72-37h0m7 15h0m2 22h0m297 28h0m-855 47h0m0-8h0m39 29h0m8-4h0m3 23h0m21-5h0m2-15h0m2-4h0m8 24h0m27-7h0m370-63h0m38 62h0m19-7h0m2-15h0m0 31h0m3-19h0m1-4h0m6 21h0m1-70h0m3 42h0m2-25h0m6 46h0m10-16h0m1-39h0m17 6h0m233 8h0m4-20h0m48 6h0m4 6h0m10-18h0m10 7h0m-850 105h0m8 13h0m1-12h0m4-7h0m5 14h0m1-6h0m2-16h0m7 41h0m5 6h0m3 2h0m9-20h0m2-17h0m10 4h0m1-15h0m2 21h0m3-27h0m2-12h0m2 29h0m3-14h0m1 29h0m2 0h0m0-49h0m5 31h0m1-28h0m8 19h0m0 30h0m4 17h0m1-55h0m1 46h0m3 17h0m0-9h0m2-17h0m16-24h0m0 36h0m1 16h0m0-45h0m2 42h0m4-24h0m1-18h0m4 21h0m0 18h0m1-1h0m2-2h0m2 1h0m1-26h0m15-21h0m5 24h0m0-1h0m9 5h0m5-20h0m5 21h0m1-19h0m2-4h0m1 36h0m2 13h0m9-44h0m3 26h0m2-15h0m1-13h0m13-6h0m3 41h0m8 11h0m1 0h0m8-50h0m5 21h0m6 11h0m5 13h0m7-8h0m0-27h0m2 35h0m4-27h0m2 30h0m8-29h0m37 10h0m7-23h0m1 34h0m21 1h0m5-2h0m5 2h0m8-4h0m5-1h0m2 8h0m1-43h0m0 30h0m4-22h0m5 27h0m1 9h0m3-3h0m5-14h0m7 15h0m2-24h0m2-2h0m2-5h0m0 13h0m1-2h0m4-8h0m1 28h0m4-57h0m0 6h0m13 43h0m4-37h0m1 48h0m3-49h0m10 40h0m0-19h0m2-24h0m6 17h0m3 5h0m3-38h0m1 23h0m0 2h0m3 24h0m8 9h0m0-18h0m3-6h0m6 1h0m14-36h0m2 52h0m3-25h0m2 8h0m1 37h0m0-75h0m3 51h0m14-4h0m3 3h0m4 10h0m5-16h0m1 3h0m2-34h0m3 44h0m5-39h0m8 28h0m6 16h0m8-1h0m0-36h0m2 20h0m32 28h0m18-3h0m1-4h0m25-2h0m-586 46h0m8 13h0m0-16h0m5-9h0m9-21h0m2 49h0m0-48h0m13 60h0m4 11h0m4-53h0m3 1h0m0 19h0m4-7h0m2 21h0m3 12h0m1-56h0m4 28h0m0 25h0m4-44h0m3 54h0m3-9h0m0-62h0m1 36h0m6-12h0m7-18h0m1 15h0m2-11h0m5 33h0m10-40h0m3 69h0m8-6h0m6-6h0m2-26h0m1 26h0m1-16h0m3-30h0m4-9h0m0-6h0m8 18h0m3 21h0m1 8h0m1-30h0m2 23h0m1 6h0m6 3h0m8-46h0m0 75h0m9-67h0m5 34h0m2-9h0m4-11h0m0 41h0m1-65h0m3 40h0m4 16h0m1-41h0m6 4h0m0-6h0m1 37h0m1-6h0m0 20h0m1-20h0m1 17h0m2-59h0m2 68h0m3-4h0m4-54h0m5-1h0m9-11h0m5 20h0m3 6h0m7 19h0m3 11h0m2-7h0m0-48h0m3 72h0m3-35h0m1-1h0m2-24h0m7 63h0m0-29h0m2 28h0m3-42h0m1-27h0m1-6h0m3 77h0m3 1h0m2-34h0m7-34h0m4 61h0m10-18h0m1-31h0m1 10h0m1-3h0m12 23h0m4-32h0m0 34h0m6-36h0m6 38h0m1-53h0m2 66h0m0 1h0m2-63h0m4 45h0m4-37h0m1 24h0m1-33h0m4 57h0m0-47h0m1 3h0m1-12h0m2 15h0m0 50h0m3-38h0m1-2h0m2 13h0m9-38h0m4 2h0m5 2h0m2 65h0m1-4h0m4-51h0m2 28h0m5 9h0m0-52h0m2 67h0m2-13h0m9-4h0m0-48h0m1 42h0m1 28h0m2 0h0m0-21h0m2-8h0m1-47h0m1 42h0m4-1h0m0-21h0m3 56h0m1-25h0m8-5h0m1-1h0m1-46h0m4 16h0m2-6h0m6 23h0m12 23h0m2-19h0m6 16h0m2-38h0m3 2h0m1 9h0m0 33h0m4-21h0m1-23h0m1 26h0m2-38h0m3 25h0m6 22h0m2 13h0m6-13h0m8-47h0m2 60h0m2 3h0m3 5h0m2-37h0m0 19h0m8 7h0m4-7h0m2-14h0m16-26h0m5 32h0m2-13h0m5 5h0m11-34h0m2-1h0m0 13h0m2 10h0m8-1h0m2 17h0m3-9h0m1 32h0m2-13h0m3-16h0m10-34h0m-537 87h0m14-9h0m2 18h0m3-4h0m1 17h0m0 3h0m5 15h0m0 3h0m6 8h0m3-23h0m7-11h0m3 48h0m11-64h0m4 67h0m8-39h0m2 18h0m1-43h0m7 5h0m2-12h0m7 15h0m0 22h0m1-10h0m3 34h0m7-20h0m4 32h0m4-50h0m8 20h0m0 14h0m3 8h0m6-40h0m1 40h0m1-56h0m0 22h0m10-28h0m6 50h0m0-28h0m1-18h0m8 52h0m2-29h0m6 10h0m2 20h0m5-45h0m2-11h0m7 5h0m5 24h0m2 7h0m1-43h0m2 60h0m6-18h0m0-35h0m2 49h0m3-20h0m1 38h0m14-28h0m1-50h0m0 80h0m7-44h0m3 11h0m2-34h0m7 2h0m9 29h0m1-9h0m1 32h0m4-12h0m8 13h0m4-46h0m8 28h0m4-14h0m1-26h0m2 44h0m2-8h0m7 24h0m5 5h0m3-64h0m6 32h0m0-38h0m7 23h0m2-25h0m1 67h0m2-8h0m20-46h0m1 8h0m8 43h0m1-20h0m6-14h0m1-10h0m0 56h0m2-56h0m2 42h0m1-12h0m2-9h0m2 5h0m2-49h0m1 45h0m2-25h0m2 5h0m2 33h0m1-38h0m4-2h0m2 10h0m1 16h0m0 9h0m1-27h0m2 52h0m4-8h0m1-52h0m2 52h0m3 1h0m2-7h0m1-21h0m2 17h0m2-46h0m2 15h0m1 44h0m1-34h0m1-17h0m4 16h0m1 30h0m0-24h0m1 14h0m6-4h0m3-28h0m7 44h0m10-54h0m2 6h0m3 39h0m4-1h0m4 13h0m4-44h0m5 25h0m0-5h0m2 2h0m3-34h0m3 16h0m7 19h0m0-27h0m2 25h0m3 9h0m0-44h0m9-11h0m3 37h0m5-6h0m1-1h0m1-15h0m11 19h0m1-16h0m1-8h0m-465 75h0m12 9h0m5 13h0m4 6h0m3-37h0m1 3h0m14 13h0m2-4h0m2 31h0m4-19h0m0-22h0m7 2h0m2 46h0m5-16h0m2 5h0m6-19h0m1-5h0m5 15h0m2 17h0m1-11h0m0-26h0m4 51h0m3-57h0m1 51h0m1-44h0m0 66h0m1 0h0m0-63h0m1 40h0m2-8h0m3-35h0m7 8h0m1 36h0m4 18h0m1-55h0m11 37h0m2 9h0m3 1h0m0-24h0m0 30h0m2-21h0m3 29h0m2-19h0m7 9h0m0-5h0m1 10h0m1 0h0m4-73h0m0 54h0m6 6h0m2-19h0m3 17h0m1 19h0m4 1h0m2-15h0m1-21h0m4-22h0m3 22h0m1 24h0m10-22h0m1-32h0m9 62h0m1-41h0m0 44h0m5-2h0m2-75h0m1 51h0m11-36h0m9 18h0m1-33h0m0 78h0m7-63h0m3 44h0m4-15h0m1 3h0m0 0h0m6-40h0m3 18h0m4-5h0m2 2h0m27 24h0m2-3h0m7-7h0m13-26h0m1-1h0m1 2h0m2 7h0m17-3h0m2-6h0m2 26h0m1 13h0m9-42h0m7-6h0m3 60h0m12-29h0m2-29h0m1 35h0m7 17h0m4-35h0m1-6h0m7 4h0m9 10h0m8-17h0m19-10h0m6 5h0m-325 82h0m8-1h0m5 7h0m2-8h0m2 6h0m15-4h0m13 0h0m14 2h0m18-1h0m9-7h0"/><path stroke="#000000" d="M573 2077h0m42-9h0m51 9h0m18-31h0m2-12h0m18 38h0m2-36h0m17-8h0m4-25h0m3 40h0m2-2h0m3 38h0m0-72h0m6 58h0m3-2h0m0 6h0m3-12h0m-181 77h0m4 9h0m5-17h0m11 10h0m0-32h0m2-5h0m1 23h0m1-2h0m1-15h0m0 15h0m5 0h0m7 15h0m3-8h0m2 13h0m2-29h0m1-4h0m3-6h0m5 28h0m1 14h0m4-30h0m1 25h0m1-42h0m2 53h0m2-50h0m3 3h0m8 21h0m2 13h0m3 13h0m13-37h0m2-4h0m14 30h0m24-26h0m13 46h0m5-35h0m-157 106h0m12-47h0m57 8h0m29 8h0m101 2h0m-412 106h0m1 8h0m11 5h0m32-1h0m13-17h0m13-8h0m12-22h0m19-5h0m4 47h0m4-27h0m3 14h0m2 17h0m1 0h0m0 1h0m1-36h0m13 12h0m1-25h0m1-12h0m5 6h0m0 47h0m3-52h0m8-13h0m2 50h0m8 9h0m28-11h0m12-31h0m36 19h0m18 19h0m9-38h0m6 54h0m45-63h0m118-8h0m-501 87h0m1 10h0m17 1h0m11 19h0m3-33h0m3 14h0m5-13h0m14 11h0m5-4h0m3-14h0m5 0h0m18 8h0m38 23h0m29-11h0m2 35h0m10-3h0m9 20h0m32-17h0m41-27h0m4 19h0m0-42h0m6 6h0m4 15h0m9-16h0m0 29h0m1 0h0m5-27h0m3 3h0m2-4h0m5 28h0m6-1h0m10-6h0m11 0h0m3-13h0m6-21h0m5 1h0m39 17h0m3 52h0m12-13h0m9-3h0m32-23h0m-343 102h0m64 18h0m8-66h0m74-5h0m34 53h0m27-20h0m12 1h0m22 21h0m8-20h0m2-30h0m2 20h0m12 16h0m-235 65h0m179-3h0m49-13h0m-131 111h0m89 7h0m215-43h0m-74 77h0m36-2h0m-228 91h0"/><path stroke="#ffff00" d="M725 1999h0m-125 47h0m19 22h0m3-10h0m31-27h0m11-1h0m19-6h0m21 30h0m19-49h0m345 311h0m4 4h0m12-3h0m21 1h0m4 2h0m-854 74h0m22-30h0m9 11h0m3 25h0m25-12h0m12 7h0m433 5h0m1-45h0m16 35h0m5-58h0m2-12h0m9 45h0m10-14h0m10 1h0m13 3h0m2-2h0m6-6h0m205 8h0m1 0h0m55-27h0m7 0h0m10 20h0m9-12h0m-852 71h0m3 18h0m1-21h0m13 61h0m2-18h0m9-36h0m9 31h0m7-15h0m3 19h0m5-1h0m1-8h0m1 4h0m2-37h0m2 62h0m3 4h0m3 7h0m3-28h0m17-5h0m2 35h0m3-24h0m1-19h0m23-11h0m3 49h0m4 0h0m4-20h0m10-9h0m0 25h0m1-9h0m20 8h0m7-1h0m0-1h0m1 5h0m4 5h0m10-65h0m1 24h0m0 11h0m5-17h0m1-15h0m16 33h0m32 18h0m18-7h0m44-3h0m4 3h0m2-6h0m44 3h0m11 14h0m1-10h0m4-19h0m14 17h0m26-1h0m1 5h0m12-18h0m9-9h0m1-4h0m7-13h0m8 10h0m4 26h0m7-13h0m9 30h0m8-51h0m0 45h0m2-1h0m10-3h0m2-28h0m0-23h0m12-6h0m13 43h0m16 31h0m2-24h0m4 22h0m5-60h0m0-4h0m5-4h0m1 35h0m10 19h0m3 3h0m9 2h0m0-11h0m4-11h0m9 29h0m19-7h0m15 9h0m20-7h0m-590 11h0m37 19h0m2 52h0m3-4h0m13-48h0m15 49h0m0 6h0m3-2h0m7-66h0m30 15h0m10 34h0m3-32h0m13 7h0m6 49h0m4-61h0m2 2h0m1-6h0m10 65h0m6-47h0m2-5h0m1-23h0m10-3h0m2 73h0m10-63h0m6 31h0m0 17h0m2-56h0m1 37h0m0-31h0m3 7h0m8 54h0m12-6h0m3 11h0m0-63h0m1 12h0m4-17h0m2 70h0m5-74h0m3 57h0m3 20h0m12-68h0m3 12h0m4 37h0m2-14h0m1 8h0m10 1h0m20-14h0m2-6h0m1 21h0m4 14h0m8-65h0m1 18h0m6 27h0m3 24h0m8-44h0m1-19h0m3 53h0m4 8h0m5-32h0m16-13h0m13 9h0m6-30h0m15 69h0m0-18h0m4-12h0m7-22h0m5 47h0m0-5h0m2-32h0m1-17h0m1 50h0m11 6h0m21-49h0m8 43h0m14-49h0m2 0h0m2 8h0m19 33h0m5 4h0m2 1h0m1-18h0m8-22h0m3 4h0m0-1h0m4 8h0m1 33h0m3-35h0m5-1h0m3-26h0m1 27h0m5-6h0m7-25h0m6 46h0m26 12h0m8-29h0m2 21h0m5 26h0m8-26h0m14-46h0m-557 80h0m5 2h0m10 1h0m13 17h0m10-21h0m12 55h0m4-21h0m5 23h0m1-38h0m1 47h0m1-2h0m11-28h0m5-30h0m3 11h0m20-14h0m2 66h0m4-65h0m3 41h0m6 7h0m2-51h0m5 68h0m3 6h0m4-1h0m16-35h0m10-6h0m4-21h0m1 27h0m2-10h0m14-9h0m10 40h0m7-22h0m7-17h0m6 37h0m8-60h0m1 6h0m1 31h0m2-25h0m4 48h0m2-1h0m16-58h0m7 39h0m16-11h0m7-12h0m0-6h0m2 19h0m4-9h0m32 39h0m8 15h0m1-50h0m4 29h0m2 9h0m1-36h0m6 34h0m7 4h0m1 7h0m4-66h0m1 31h0m2-34h0m3 11h0m1 16h0m9-31h0m2 48h0m5-32h0m2-12h0m2 58h0m13-52h0m4 3h0m8 40h0m2-17h0m9-10h0m6 27h0m4-7h0m4-30h0m0-3h0m6 11h0m8-1h0m6 51h0m0-40h0m1-5h0m3 33h0m0-61h0m5 59h0m9 17h0m2-19h0m37-1h0m0-57h0m19 22h0m-450 71h0m4 6h0m18-15h0m28 48h0m8 3h0m11 2h0m5-37h0m5-4h0m13 25h0m1-13h0m4 32h0m13-54h0m13 72h0m8-68h0m11 14h0m0-12h0m10 5h0m2 51h0m9-32h0m14-12h0m1 34h0m1-19h0m1-37h0m3 17h0m0-17h0m9 46h0m4-14h0m22-11h0m3 32h0m24-34h0m6-18h0m15 11h0m1 37h0m3-9h0m7 22h0m0-7h0m3-48h0m7 32h0m1-21h0m1-17h0m10 45h0m0-34h0m5-10h0m0 32h0m11-36h0m18-1h0m17 24h0m5 9h0m31-25h0m14 3h0m-321 70h0m19 12h0m19 7h0m4-8h0m43-10h0m1-1h0"/><path stroke="#ff8c00" d="M595 2071h0m21-29h0m6 13h0m0 0h0m1-4h0m1 14h0m6-10h0m12 1h0m14-30h0m8-12h0m4 9h0m11-5h0m5 46h0m2-18h0m3 21h0m0-22h0m4-30h0m3 2h0m6 34h0m3-35h0m2-8h0m4 36h0m5-29h0m7 47h0m-253 173h0m47-20h0m0-4h0m38-14h0m206-3h0m-360 122h0m664-6h0m-822 55h0m8-22h0m6 15h0m21 42h0m5-40h0m10 39h0m20-13h0m3-12h0m15 3h0m21 22h0m283-57h0m127 48h0m12-4h0m3 10h0m9-25h0m1-3h0m3-4h0m5-22h0m-509 64h0m8 64h0m20-34h0m8 41h0m2-29h0m7 5h0m2-15h0m3-24h0m7-14h0m3 73h0m3-68h0m6 36h0m1-38h0m7 11h0m6 5h0m14 23h0m14 25h0m1-33h0m2 18h0m4 2h0m3-44h0m1 27h0m3 19h0m3-52h0m1 45h0m4-2h0m30-15h0m10 27h0m3-9h0m18-32h0m24 49h0m10-11h0m10 19h0m3-21h0m1 15h0m58-12h0m36-30h0m1 46h0m4-8h0m2 8h0m4-6h0m0 3h0m7-48h0m2 46h0m0-10h0m13-48h0m2 70h0m8-18h0m9-32h0m9 32h0m1-37h0m16 15h0m24-26h0m6 60h0m17-59h0m1 42h0m13 8h0m14 7h0m5-4h0m16-54h0m50 47h0m10-18h0m13 4h0m-557 35h0m37 3h0m20 46h0m1-24h0m5 41h0m2-58h0m23-5h0m4 28h0m8-17h0m10 13h0m10 39h0m12-24h0m16-22h0m11-13h0m6 15h0m7 38h0m1 12h0m3-55h0m5 35h0m17-1h0m10-30h0m11-3h0m1 46h0m16-11h0m1-19h0m13-30h0m35 5h0m26 36h0m3-19h0m6-24h0m0 46h0m27-10h0m1 26h0m1-34h0m0-11h0m0 28h0m3 30h0m12-17h0m3 15h0m9-24h0m12-14h0m20-35h0m41 2h0m10 71h0m1-10h0m3-1h0m20-39h0m14-19h0m10 41h0m5 7h0m5-3h0m3-24h0m6 2h0m4-22h0m6 38h0m19 5h0m1-10h0m17-11h0m2 0h0m6-18h0m0 13h0m-530 69h0m19 46h0m4-18h0m13-2h0m0-23h0m10 41h0m13 0h0m19 18h0m14 2h0m4-78h0m3 38h0m5-36h0m3 62h0m0 14h0m16-35h0m7-32h0m26 37h0m5-40h0m10 59h0m1-34h0m1-10h0m4 24h0m2-47h0m5 69h0m10-62h0m2 37h0m2 0h0m3-39h0m23 54h0m3-28h0m3 41h0m18-57h0m5-7h0m7 16h0m14 3h0m13-3h0m18 51h0m5-23h0m1-12h0m11-4h0m4-18h0m10 59h0m11-13h0m12 0h0m5-42h0m12-19h0m3 8h0m7 57h0m5 9h0m20-33h0m11-22h0m15-17h0m0 31h0m1-22h0m2 18h0m6 37h0m8-55h0m8 15h0m7-13h0m9 26h0m10 2h0m17-12h0m12-11h0m-466 59h0m1 13h0m49 19h0m4-2h0m2 25h0m11 2h0m6-42h0m1-3h0m7 17h0m11 33h0m1-4h0m0-24h0m13-12h0m6-14h0m11 43h0m7 3h0m15-35h0m28 5h0m10 25h0m1-1h0m7 31h0m18-64h0m7 30h0m10 7h0m17 17h0m2-68h0m5 37h0m1-5h0m6 30h0m3-59h0m2 4h0m10 37h0m7-39h0m12 19h0m31 16h0m4 19h0m22-50h0m7 31h0m2-29h0m47 1h0m2-3h0m-341 77h0m49-4h0m96-4h0"/><path stroke="#0000ff" d="M639 2095h0m29-7h0m-136 112h0m142 13h0m-257 175h0m181-64h0m19 37h0m121 36h0m-75 77h0m6-15h0m-336 36h0m489-8h0m14 103h0m-356 87h0m243 3h0"/><path stroke="#ff0000" d="M577 2061h0m33-14h0m1 4h0m19-18h0m16 40h0m1-28h0m0 29h0m7-27h0m8 24h0m6-49h0m9 3h0m8 42h0m4-22h0m25-38h0m2 43h0m1-26h0m1-12h0m4 9h0m1-18h0m11 28h0m-37 103h0m38-34h0m17-9h0m-29 129h0m25-21h0m32 5h0m-204 87h0m164-36h0m4-9h0m41 47h0m296 21h0m-863 48h0m15-5h0m6 11h0m5 2h0m20-32h0m8 37h0m10 22h0m1-47h0m3 48h0m2-44h0m1 38h0m6-33h0m13 27h0m4 5h0m0-16h0m34 10h0m21 9h0m3 0h0m49-46h0m324 19h0m23 15h0m3-61h0m3 63h0m14-55h0m8 67h0m12-51h0m3-7h0m5 17h0m7-5h0m2 5h0m215 1h0m14-9h0m7 9h0m8-35h0m6 12h0m2-7h0m13 8h0m5 2h0m26-16h0m-850 90h0m2 8h0m7 18h0m2-28h0m1 18h0m11 41h0m3-52h0m1 18h0m4 25h0m9-29h0m12 31h0m10 5h0m4-31h0m2 23h0m3-33h0m5 25h0m1-27h0m3 36h0m6 15h0m3-2h0m0 3h0m5-53h0m1 44h0m2-13h0m5 10h0m0-1h0m1 5h0m2-45h0m3-7h0m1 12h0m1-6h0m3-1h0m2-5h0m2-4h0m1 58h0m0-26h0m4 6h0m2-3h0m0-34h0m2 41h0m3 12h0m3 13h0m5-22h0m5 21h0m4-46h0m1 34h0m3 12h0m9 2h0m1-32h0m1-39h0m2 72h0m1-36h0m0-20h0m5 10h0m0 37h0m20-29h0m14-5h0m11 21h0m4 22h0m6-36h0m4 35h0m13-14h0m1-25h0m3-5h0m19 23h0m1 7h0m1 9h0m1-11h0m15 4h0m22-16h0m19 15h0m4-29h0m17 40h0m5-8h0m3 11h0m2-21h0m10-10h0m1 8h0m16-25h0m8 24h0m3-22h0m2 29h0m10-23h0m11-4h0m2 3h0m1 31h0m1-25h0m2 4h0m4 32h0m4-24h0m1 6h0m4 3h0m6-12h0m2-4h0m1-14h0m0 44h0m0-18h0m2-7h0m5 21h0m0-63h0m2-7h0m9 53h0m5 14h0m9-49h0m0 37h0m10-36h0m11 10h0m6-13h0m1 12h0m1 9h0m1 20h0m0-53h0m1 38h0m2-12h0m3-3h0m0 32h0m4 1h0m6 10h0m0 4h0m2-66h0m2 18h0m1 38h0m0 6h0m8-45h0m1 14h0m8 4h0m12 23h0m14-5h0m24 7h0m12-8h0m1 15h0m-568 20h0m12-16h0m6 29h0m2-1h0m2 0h0m7-19h0m2 39h0m0-37h0m4 21h0m4 19h0m6-36h0m4 48h0m1-10h0m1 22h0m3-2h0m1-67h0m0 24h0m9 32h0m1-46h0m2 33h0m3-6h0m5-25h0m4 47h0m6-11h0m5 19h0m3-61h0m2 42h0m1-12h0m2 27h0m15-49h0m1-17h0m7 45h0m12 12h0m4-27h0m2-8h0m1 15h0m2-32h0m2 38h0m7 27h0m4-45h0m3 40h0m0-33h0m4-14h0m4 52h0m0-8h0m13-53h0m8 49h0m0-27h0m5-28h0m1 24h0m1 19h0m4 1h0m2-32h0m1-7h0m10-12h0m4 60h0m0-20h0m1 34h0m1-46h0m6 15h0m6-21h0m0 15h0m2 8h0m1-2h0m3 30h0m3-74h0m3 62h0m1 0h0m4-26h0m1 22h0m1-16h0m3-16h0m2-7h0m4 21h0m2 13h0m2-9h0m1 32h0m2-55h0m1 25h0m0 20h0m10-57h0m3-8h0m2 56h0m0-56h0m3 25h0m3-9h0m1 40h0m1-29h0m5-14h0m7 34h0m6 25h0m4-50h0m1 1h0m1-4h0m4 48h0m1-23h0m1 12h0m3-27h0m5 38h0m3-67h0m0 23h0m3-20h0m3 24h0m4 25h0m9 5h0m1-44h0m6 2h0m3 14h0m8-27h0m2 20h0m0 47h0m10-4h0m3-41h0m1-12h0m3 11h0m8 25h0m1 10h0m23 15h0m3-41h0m0 26h0m5-21h0m1 29h0m2-19h0m0-30h0m2 58h0m2-2h0m0-31h0m6-30h0m12 15h0m3-9h0m1 4h0m6 35h0m1 15h0m1-31h0m1 5h0m1 19h0m2-19h0m3 24h0m1-13h0m2-45h0m0 41h0m9-26h0m10-17h0m2 32h0m4-1h0m4 15h0m2-37h0m11-7h0m1 28h0m3 29h0m0-63h0m5 0h0m1 61h0m2 5h0m8-27h0m2-29h0m4 27h0m0-13h0m1 4h0m5-33h0m6 34h0m0 22h0m0 6h0m0-39h0m2 43h0m14-5h0m3-10h0m2-27h0m3 13h0m0 25h0m2 1h0m1 1h0m0 9h0m1 3h0m3-61h0m-534 73h0m19-10h0m2 13h0m4-11h0m4-2h0m1 0h0m1 39h0m2 21h0m5-18h0m5 29h0m2 6h0m4-54h0m5 25h0m1 17h0m5-57h0m1 61h0m4-23h0m5-4h0m0 3h0m7 14h0m3 14h0m0-18h0m1-20h0m3 37h0m4-37h0m2 37h0m2-11h0m1 14h0m1-68h0m1 21h0m5 24h0m7-4h0m12-44h0m8 58h0m1-33h0m0-15h0m2 28h0m6-17h0m2 5h0m2-1h0m0-28h0m2 25h0m0-17h0m1 46h0m2-25h0m5 1h0m0 36h0m5-11h0m6-48h0m2 38h0m2 8h0m5 19h0m0-67h0m1 60h0m2-51h0m1-4h0m3 24h0m1 41h0m1-62h0m1 1h0m3 22h0m4-24h0m4 45h0m1-23h0m9-2h0m1-29h0m0 3h0m5 17h0m2-17h0m4 67h0m1-5h0m8-9h0m4-43h0m0 31h0m0 10h0m9-20h0m4 36h0m4-37h0m1-36h0m2 19h0m3 29h0m3 26h0m2-49h0m4 42h0m2-70h0m16 72h0m1-54h0m0 51h0m1-41h0m1 20h0m5 13h0m1 12h0m2 2h0m1-23h0m3 24h0m2-75h0m5 38h0m3 37h0m4-16h0m8 18h0m3-52h0m7 21h0m1-28h0m0 42h0m3 18h0m9-29h0m1-16h0m0-33h0m1 19h0m12-1h0m0-16h0m3 69h0m9-58h0m0-7h0m2 54h0m0-1h0m1-40h0m3 50h0m2 7h0m6-29h0m4-30h0m1 51h0m2-56h0m2 3h0m2 31h0m3-22h0m0 5h0m3 21h0m4-2h0m3-32h0m4 22h0m9-9h0m2-6h0m1 24h0m3 12h0m1 3h0m1 14h0m1-51h0m3-11h0m1 2h0m6 63h0m1-73h0m1 7h0m9-13h0m7 27h0m3 24h0m1-46h0m2 69h0m1-70h0m1 15h0m9-13h0m5 60h0m2-60h0m6-3h0m14-2h0m4 38h0m8-24h0m0 28h0m20-32h0m1 6h0m-471 77h0m11-11h0m2 25h0m4-9h0m0 12h0m1-23h0m10-3h0m4 9h0m1 26h0m1-18h0m2 28h0m0-31h0m17-1h0m4 18h0m2 25h0m1-18h0m1 11h0m2 11h0m1 3h0m0-42h0m2-2h0m4 45h0m2-31h0m1-27h0m3 55h0m3-31h0m0 35h0m2-69h0m2 33h0m1-8h0m4 16h0m0 5h0m5 0h0m2-26h0m4 7h0m1-23h0m1 0h0m3 55h0m10-49h0m11 2h0m2 35h0m1-27h0m3 30h0m1 17h0m4 3h0m2-8h0m1-22h0m5-35h0m1 70h0m1-58h0m4 35h0m1-44h0m4 15h0m4 48h0m6-22h0m0 20h0m3-66h0m3 67h0m0-39h0m2 26h0m2-30h0m1 9h0m1-34h0m5 12h0m6 10h0m1 15h0m3 20h0m2 6h0m2-3h0m2-19h0m0-36h0m7 62h0m5-65h0m1 16h0m2 48h0m2-44h0m1-10h0m7 26h0m0-17h0m4-17h0m2 43h0m0 11h0m4-30h0m6-19h0m1 23h0m1-2h0m0 17h0m1 10h0m6-41h0m1 30h0m2-34h0m0 5h0m1-4h0m1-8h0m0-8h0m5 56h0m1-5h0m2 18h0m5-25h0m2 17h0m0-56h0m0 40h0m1 19h0m1-24h0m0-40h0m1 37h0m5 10h0m9-37h0m5 0h0m0 61h0m2-16h0m5-40h0m2 3h0m3 12h0m0 40h0m10-8h0m4-34h0m1-23h0m0 20h0m2 29h0m1-55h0m3 2h0m0 48h0m1-48h0m3 42h0m3-13h0m10-2h0m0 0h0m1-17h0m3-9h0m2 52h0m7-31h0m1-23h0m1 5h0m3 20h0m3 12h0m4-37h0m5 31h0m3-3h0m24-23h0m5 10h0m0-13h0m-334 83h0m9 1h0m27 0h0m4-6h0m1 16h0m11-10h0m5 2h0m27 1h0m6-6h0m0 4h0m2-3h0m1 5h0"/><path stroke="#ffff00" d="M600 2057h0m3 10h0m12-15h0m8 15h0m7-31h0m7 23h0m21-4h0m3-2h0m11 10h0m6-23h0m0-13h0m6-4h0m3-10h0m9 3h0m14 18h0m382 279h0m32 6h0m-848 39h0m2 15h0m1 23h0m2-20h0m34 17h0m50 7h0m416-53h0m6 51h0m7-58h0m256 10h0m11 0h0m23-8h0m6-9h0m17-6h0m7 9h0m13-16h0m-860 89h0m2 10h0m2 9h0m20 8h0m14-15h0m4-17h0m2 52h0m2-17h0m4 25h0m4-53h0m6 62h0m30-53h0m8-4h0m11 55h0m10 8h0m15-76h0m1 25h0m10 37h0m1-6h0m5-47h0m10 10h0m8 52h0m6-23h0m1 28h0m12-29h0m2-29h0m3 7h0m5 50h0m20-19h0m0-16h0m6 14h0m8-11h0m10-8h0m1-16h0m5 38h0m14-25h0m1 31h0m8-8h0m4 19h0m7-1h0m1-16h0m30 3h0m13 8h0m12-15h0m10-19h0m1 31h0m9 4h0m19-18h0m3-16h0m13 35h0m0-5h0m8-19h0m17-6h0m3 4h0m3 24h0m7-55h0m1-8h0m18-2h0m4 0h0m12 33h0m0 22h0m11-22h0m17 6h0m6-36h0m5 40h0m7 16h0m16-22h0m9 20h0m7 6h0m51 9h0m23-15h0m12 13h0m-601 13h0m11-9h0m28 26h0m40 46h0m15-41h0m1-17h0m3 54h0m1-17h0m5 22h0m2-19h0m3-24h0m1-19h0m7 22h0m0 9h0m5 32h0m3-37h0m6 33h0m8-16h0m4-9h0m17 4h0m11-11h0m1 12h0m8-12h0m2 24h0m4-20h0m4-35h0m3 4h0m6 16h0m4 22h0m1-14h0m1-31h0m2 4h0m6 47h0m2-37h0m1 5h0m6-17h0m1 36h0m7-1h0m1-27h0m3 55h0m3-52h0m17 14h0m11-22h0m1 34h0m5-26h0m0-3h0m7-6h0m4 42h0m1 17h0m14-52h0m11 53h0m2-57h0m0 32h0m6 23h0m5-51h0m1 46h0m0-8h0m4-42h0m29 26h0m1 19h0m7 4h0m3 3h0m6-21h0m5 34h0m3-28h0m1 16h0m6-10h0m1-27h0m1 45h0m10-21h0m1 6h0m3-19h0m1 33h0m3-45h0m1 43h0m8-23h0m1 33h0m2-71h0m5 47h0m5-54h0m4 70h0m2-37h0m1-5h0m3-22h0m6-4h0m0 62h0m8-56h0m8 36h0m2-4h0m4-40h0m4 7h0m13 37h0m2-6h0m6 10h0m21 15h0m11-59h0m1 61h0m1 10h0m8-70h0m12 14h0m2 28h0m1-12h0m8 22h0m1-1h0m2 20h0m2 2h0m4-41h0m6-4h0m3 7h0m1 5h0m-493 62h0m19-8h0m5 26h0m1-9h0m1-31h0m0 25h0m0 21h0m2-28h0m10 49h0m5-65h0m5 34h0m10 0h0m6-13h0m1 43h0m5-68h0m3 18h0m1 28h0m13 1h0m2-18h0m2-25h0m8 1h0m4 39h0m2-16h0m10 28h0m2-3h0m4-7h0m2 25h0m4-51h0m9-4h0m7 16h0m13 9h0m1-19h0m4 14h0m6 33h0m6 2h0m3-15h0m10-31h0m2 5h0m0 10h0m7-14h0m1 23h0m1-35h0m0 60h0m1-50h0m1 5h0m8 38h0m1-4h0m1-26h0m14-25h0m3 6h0m5 58h0m14-13h0m4 13h0m0-30h0m1 5h0m12-47h0m7 65h0m6-58h0m14-11h0m0 46h0m5-38h0m2 46h0m0-31h0m2 43h0m3-30h0m4 0h0m4-19h0m5-7h0m1 61h0m4-16h0m1-35h0m8-9h0m15 39h0m4-8h0m1-39h0m8 73h0m3-32h0m2 21h0m2 2h0m10 6h0m11-32h0m2 34h0m19-18h0m7-23h0m1 28h0m1-46h0m21-17h0m1 47h0m13 17h0m1-65h0m1 64h0m6-9h0m14-8h0m6-42h0m2 2h0m4-8h0m0 12h0m14 10h0m7-20h0m-469 104h0m33 14h0m11 4h0m5-31h0m3-8h0m7 60h0m4-29h0m1 27h0m2-56h0m10 26h0m17 8h0m1-27h0m3-3h0m15 18h0m12-8h0m12 26h0m2-43h0m4-2h0m4 43h0m2 32h0m1-8h0m0-50h0m5 42h0m21 5h0m4-4h0m5-30h0m0 44h0m0-24h0m2 25h0m3-18h0m6-21h0m1 21h0m11-41h0m6 37h0m1-55h0m0 41h0m1-22h0m1 29h0m2-41h0m3 44h0m26-47h0m1 2h0m1 14h0m9 28h0m1-4h0m25-15h0m6 2h0m3 34h0m0-1h0m2-62h0m2 15h0m6 11h0m1 15h0m1-26h0m1 26h0m19 14h0m0-10h0m3-14h0m0-13h0m10 25h0m1-24h0m2 21h0m3 1h0m1-44h0m7 30h0m2-18h0m14-4h0m5 2h0m7 15h0m21-13h0m-337 72h0m18 11h0m6-11h0m6 5h0m1 8h0m3 2h0m7-3h0m11-9h0m21 15h0m9-20h0m6 0h0"/><path stroke="#ff8c00" d="M568 2069h0m31-8h0m10-14h0m5 24h0m7-13h0m11 11h0m13-25h0m0 17h0m14-40h0m11 26h0m3 14h0m6-27h0m10 6h0m4-6h0m16-24h0m11 40h0m11-16h0m-163 125h0m101-29h0m48-35h0m-172 93h0m43 17h0m52 29h0m114-74h0m26 62h0m-291 76h0m227-33h0m395 53h0m-887 31h0m22 9h0m6-1h0m0 13h0m29 22h0m6-6h0m17 11h0m1-20h0m6 19h0m63 3h0m20-54h0m31-20h0m44 48h0m17 11h0m67 15h0m180-19h0m53 9h0m1 0h0m0-8h0m2 8h0m271-64h0m9 1h0m19 0h0m27 6h0m-858 70h0m22 33h0m15 14h0m30-43h0m18 32h0m1 39h0m5-43h0m2 33h0m3-50h0m5 31h0m4 11h0m14-57h0m1 14h0m15-2h0m23 38h0m9 3h0m2 13h0m3-32h0m21-12h0m8 41h0m23 9h0m11-42h0m0 12h0m24 5h0m8 29h0m13-37h0m24 19h0m29-4h0m20 6h0m22 1h0m56-46h0m30 36h0m85-43h0m4 63h0m1 3h0m12-34h0m4-19h0m49 49h0m11-11h0m20 9h0m-592 31h0m16 23h0m0-43h0m11 7h0m28 48h0m22-32h0m11-18h0m13 70h0m1-51h0m6 45h0m15-40h0m6-2h0m12 10h0m18-7h0m6-19h0m6 18h0m1-8h0m5 53h0m14-39h0m13 25h0m5-32h0m1 46h0m12-75h0m34 64h0m56-53h0m9 57h0m8-21h0m27 1h0m29-33h0m14 10h0m4 8h0m2 8h0m3-20h0m3 41h0m38 5h0m0 12h0m28-47h0m8-28h0m15 23h0m11 30h0m15-44h0m7 2h0m5-5h0m6 16h0m3 24h0m14-36h0m10-1h0m1 17h0m4-27h0m2 19h0m-523 61h0m9 13h0m19 38h0m12-24h0m4 33h0m6-8h0m3 20h0m3-65h0m6 63h0m3-34h0m7 33h0m4-29h0m24-2h0m2-17h0m2 27h0m2 0h0m2-10h0m8 6h0m4-16h0m1 31h0m27 15h0m12-42h0m20 29h0m16 9h0m4-66h0m23-2h0m13 61h0m11-36h0m41 18h0m3-5h0m3-37h0m0 5h0m6-3h0m9-6h0m22 29h0m3 7h0m1-25h0m8 38h0m7-30h0m33 29h0m1-25h0m18 32h0m7-22h0m4-2h0m3-5h0m4 6h0m2 2h0m1 1h0m7 10h0m5-35h0m4 20h0m1 16h0m2 24h0m11-14h0m16-17h0m5-30h0m8 5h0m2 16h0m2 4h0m-431 58h0m2-7h0m23 24h0m1-5h0m5-1h0m18 4h0m3-9h0m1-12h0m18 48h0m0-33h0m4 31h0m7-25h0m2-1h0m12-26h0m1 13h0m0 29h0m5-24h0m1 11h0m8-9h0m1 56h0m6-42h0m1-29h0m0 27h0m1-5h0m8 51h0m13-11h0m7-46h0m2 4h0m15 51h0m13-19h0m9-20h0m8-29h0m14 40h0m4-38h0m1 22h0m4 7h0m0-32h0m24 8h0m2-15h0m2 1h0m10 0h0m16 26h0m5-5h0m13 37h0m2-16h0m5-23h0m1-13h0m23 3h0m23 3h0m-233 82h0m45-15h0m1 4h0m3-6h0"/><path stroke="#000000" d="M600 2076h0m10-22h0m23 5h0m0-2h0m28 19h0m46-54h0m19 32h0m1-12h0m8-12h0m1-24h0m2 51h0m12 15h0m-180 69h0m4-10h0m8 0h0m0-28h0m1 33h0m2-34h0m5 26h0m0-4h0m1-19h0m1-13h0m4 48h0m0-43h0m4 23h0m2 12h0m2-17h0m2 19h0m1-33h0m1 23h0m2-22h0m1 27h0m2 1h0m5 5h0m0 7h0m0-39h0m0-5h0m6 27h0m0-32h0m2 26h0m2-19h0m35 17h0m34 7h0m13 29h0m-209 63h0m51-37h0m80 13h0m23 15h0m6-45h0m9 25h0m1 25h0m39 3h0m62 24h0m22-69h0m-476 149h0m43-3h0m10 0h0m11-9h0m14-3h0m5-8h0m31-25h0m6-4h0m15 16h0m0-17h0m1 48h0m3 2h0m16-62h0m1 22h0m13-17h0m0-15h0m63 65h0m1-35h0m46 30h0m7-14h0m24-45h0m2-4h0m39 55h0m0-44h0m44 26h0m32 5h0m-478 67h0m28 47h0m7-69h0m3 32h0m7-22h0m17-17h0m3 31h0m7-21h0m14-7h0m26 39h0m16-6h0m22-3h0m31 33h0m5-65h0m8 1h0m5 0h0m48-2h0m20 25h0m6 31h0m3-11h0m6-14h0m5 15h0m5-16h0m1-16h0m2 4h0m0 13h0m4 7h0m4-37h0m8 14h0m1 0h0m13-11h0m9 45h0m19-15h0m5-3h0m46 16h0m12 21h0m19-64h0m2 25h0m46 42h0m-401 41h0m98-12h0m38 1h0m40 55h0m23-43h0m6-18h0m34 3h0m12 19h0m9-19h0m6-18h0m32 28h0m12-10h0m38 20h0m-225 51h0m201 47h0m48 19h0m-235 59h0m47-46h0m116 75h0"/><path stroke="#8a2be2" d="M601 2080h0m20-14h0m49 13h0m24-7h0m9 1h0m7-11h0m2-23h0m15-26h0m3 4h0m1 10h0m5 48h0m0-2h0m0-33h0m6 14h0m0 18h0m3-6h0m0-29h0m-174 117h0m26-59h0m0 59h0m7-69h0m2 75h0m7-9h0m6-24h0m2-33h0m6-7h0m2 7h0m1 21h0m1 26h0m1-1h0m7-43h0m0 0h0m2-7h0m0 67h0m1-25h0m1 18h0m2-41h0m3 8h0m1 17h0m1 15h0m0-11h0m3-25h0m4-15h0m0 8h0m1 0h0m5-20h0m2 65h0m1 5h0m3-30h0m12 29h0m2-17h0m3 8h0m1 2h0m1-67h0m1 58h0m0-55h0m2 0h0m1 2h0m9 8h0m0 56h0m0-63h0m1 20h0m1 42h0m2-1h0m0 4h0m1-2h0m0-20h0m7 29h0m0-52h0m0 30h0m1 12h0m1-37h0m3 40h0m2-60h0m0 60h0m2-51h0m1 13h0m2-32h0m0 58h0m5-55h0m1 27h0m21-5h0m1-1h0m1 43h0m0-11h0m3 20h0m2-32h0m2-11h0m1 21h0m4 16h0m2 2h0m-295 81h0m13-12h0m0-12h0m1 24h0m5-23h0m10 15h0m33 2h0m4-14h0m3 14h0m7 11h0m9-52h0m6-2h0m2 9h0m5-9h0m2-10h0m14 20h0m2-4h0m5 3h0m5 26h0m11-44h0m2 7h0m1-10h0m2-13h0m3 48h0m2-6h0m3-27h0m2 43h0m2-16h0m1-24h0m4 44h0m7-6h0m3-54h0m1 2h0m1 63h0m3-13h0m1-25h0m1-9h0m0-14h0m7 38h0m1-44h0m1 31h0m11 16h0m2-34h0m0 47h0m2-26h0m0-12h0m5 31h0m7 0h0m2-20h0m2 0h0m1 19h0m4-3h0m0-34h0m0 40h0m3-48h0m7 67h0m13 2h0m6-48h0m2-24h0m0 63h0m1-52h0m1 52h0m18-45h0m1 16h0m8 19h0m1-24h0m3-27h0m6 4h0m1 50h0m4-19h0m6-21h0m3-19h0m4 67h0m8 3h0m9-10h0m3-3h0m-420 97h0m1-14h0m11-5h0m10 14h0m8-2h0m11 10h0m14-61h0m25-5h0m5 12h0m5 47h0m3-24h0m8 12h0m4-36h0m6 35h0m1 14h0m4-48h0m3 38h0m2-20h0m0-29h0m4 49h0m4-41h0m4 8h0m2-17h0m2 0h0m2 1h0m7-3h0m14 47h0m2 6h0m7-58h0m4 16h0m8 29h0m0-16h0m2 40h0m4-62h0m0 45h0m2 7h0m12-11h0m1-54h0m9 14h0m1 4h0m3-15h0m2 26h0m8 41h0m5-7h0m3-6h0m6-11h0m4 11h0m14-41h0m10 3h0m7 20h0m1-21h0m1 46h0m3-53h0m9 28h0m0 1h0m5-26h0m3 54h0m2-58h0m7 11h0m1 59h0m5-69h0m8 21h0m2 41h0m1-59h0m3 49h0m1-60h0m8 62h0m2-59h0m2 64h0m8-59h0m2 29h0m3-4h0m5 27h0m2-33h0m0 32h0m1 16h0m7-33h0m4 30h0m13-20h0m4-43h0m4 34h0m7 18h0m14-41h0m6-18h0m273 70h0m9 3h0m10-1h0m-850 33h0m12-22h0m5 4h0m1 15h0m13-21h0m1 23h0m31 8h0m2 11h0m0-19h0m12 0h0m1 5h0m4 6h0m1 24h0m1-52h0m2 19h0m1 41h0m2-16h0m0-49h0m1-3h0m3 39h0m4-35h0m2 26h0m13 45h0m2-69h0m1 14h0m4 46h0m1-50h0m1 14h0m8 4h0m0-32h0m2 25h0m3 42h0m3-64h0m4 59h0m16-34h0m3 39h0m5-15h0m1-41h0m1 32h0m4-42h0m0 59h0m2-1h0m7-23h0m2 4h0m3 17h0m2 12h0m1-5h0m6-8h0m0 7h0m2-55h0m2 18h0m4 36h0m1 8h0m1-47h0m0-12h0m1 29h0m2-17h0m2 18h0m6 28h0m2-42h0m3 43h0m3-23h0m2-42h0m2-6h0m4 62h0m2-57h0m3 48h0m2-8h0m1-37h0m1 24h0m1 36h0m1 7h0m3-33h0m3-14h0m0 10h0m2-20h0m2 34h0m1 11h0m3-10h0m4-37h0m8-16h0m1 17h0m1 39h0m1 11h0m2-58h0m13 12h0m4 3h0m10-15h0m3 38h0m4-15h0m18 27h0m4-35h0m5 29h0m8 0h0m1-5h0m1-19h0m7 25h0m3-9h0m7-22h0m1 3h0m0-8h0m3 17h0m1 9h0m3-35h0m5 38h0m10-7h0m4 5h0m1 24h0m3-16h0m1 5h0m2-49h0m2 61h0m6-73h0m3 52h0m5-29h0m6 34h0m4 17h0m5-13h0m2-18h0m1 10h0m2-49h0m2 62h0m6-35h0m1-21h0m7 65h0m9-47h0m2 27h0m1-18h0m0-2h0m2-9h0m14-10h0m6 18h0m1-10h0m0 3h0m2-4h0m3 2h0m3 2h0m10-10h0m4 25h0m4-13h0m0 5h0m32-33h0m12 4h0m252-6h0m13 21h0m5-21h0m10 29h0m16-10h0m-720 72h0m69-6h0m27-2h0m3 13h0m3 7h0m8-8h0m22 5h0m7-11h0m8-2h0m2 16h0m1-19h0m10 29h0m4-28h0m16 6h0m7-8h0m5 49h0m2-39h0m1 6h0m14 6h0m0 9h0m0-4h0m1-13h0m5 13h0m0-8h0m6-15h0m4-1h0m12 15h0m8 18h0m5-35h0m6 28h0m9-17h0m1 23h0m16-26h0m12-4h0m36-8h0m119 36h0m51 4h0m0 16h0m13-2h0m-521 74h0m36 0h0m89-35h0m163 62h0m112-17h0m11-13h0m19-5h0m-358 57h0m35 19h0m1-2h0m64-20h0m159 5h0m68 34h0m56-20h0m-296 120h0m43 6h0m217-53h0"/><path stroke="#00ff00" d="M614 2064h0m49 12h0m20-15h0m9 18h0m31-69h0m-141 144h0m7 3h0m24-74h0m14 20h0m6 33h0m10-36h0m18 39h0m8-41h0m7 31h0m4-45h0m3-3h0m0 78h0m2-36h0m2 9h0m1 5h0m1 14h0m2-31h0m11 18h0m0 17h0m0-6h0m5-36h0m1 22h0m1-7h0m6-35h0m3 43h0m2-21h0m2 3h0m1 6h0m2-26h0m7 32h0m11 0h0m2 9h0m0-21h0m13-17h0m3 48h0m-285 81h0m9 2h0m3-5h0m20-3h0m20-17h0m43-9h0m14-36h0m0 16h0m8 19h0m14-13h0m16 42h0m7-10h0m26-8h0m4-46h0m1 53h0m3-52h0m2 59h0m9-40h0m5 13h0m0 25h0m0-24h0m2-21h0m2-3h0m1 49h0m4-9h0m1 19h0m3-17h0m13-18h0m0 31h0m11-46h0m6 54h0m3-12h0m0-37h0m4-8h0m2 19h0m5-24h0m16-11h0m0 46h0m0 10h0m0-33h0m2 42h0m14-30h0m5 39h0m5-21h0m3 23h0m2-15h0m0-42h0m-352 84h0m11 45h0m1 1h0m17-39h0m26 12h0m1-21h0m1 39h0m10 7h0m10-20h0m19-27h0m11 14h0m3-30h0m0 57h0m10-61h0m3 8h0m21 39h0m14-33h0m10 29h0m15-30h0m5 25h0m1 8h0m6 11h0m4-39h0m1-11h0m17 38h0m25 29h0m10-23h0m1-18h0m1 0h0m16 22h0m0-14h0m4-2h0m2-13h0m6 35h0m3 4h0m0 2h0m0-15h0m3-45h0m3 32h0m1-13h0m3-22h0m3 41h0m1-13h0m1 43h0m2-55h0m1 33h0m1-26h0m8-19h0m1 49h0m5-36h0m18 5h0m1 47h0m6-9h0m3-66h0m8 3h0m2 20h0m6 22h0m280 33h0m6-2h0m-829 17h0m6 8h0m39 38h0m5-22h0m23-11h0m12 29h0m27 1h0m18-1h0m1 14h0m15-32h0m33 3h0m29-4h0m22 10h0m8 6h0m48-19h0m33 46h0m17-24h0m7-15h0m3-34h0m7 61h0m3 12h0m2-21h0m2-22h0m8-24h0m6 45h0m17-30h0m11 30h0m9-41h0m6 54h0m8-58h0m1 42h0m10-47h0m4 16h0m3 52h0m11-47h0m11 12h0m8-18h0m2 33h0m4-23h0m33-29h0m265 44h0m28-36h0m11 16h0m33 3h0m10-7h0m-676 73h0m26 58h0m12-57h0m92-11h0m14 15h0m50 1h0m7-18h0m50-3h0m4 22h0m3-8h0m4-8h0m0 6h0m18-7h0m54 31h0m71 11h0m18 12h0m16-17h0m7-4h0m3 11h0m-337 80h0m58-38h0m157 0h0m18-2h0m110 16h0m-322 107h0m78-4h0m45-7h0m60 3h0m10 7h0m-299 34h0m4 67h0m2-59h0m4 6h0m170 22h0m72 10h0"/><path stroke="#0000ff" d="M593 2174h0m-103 177h0m139 77h0m-281 95h0m9-16h0m171-14h0m299 23h0m12-32h0m16 14h0m-186 107h0m5 26h0m138-35h0m-313 74h0m18 49h0m146-34h0"/></g><g transform="scale(0.5)" stroke-linecap="round" stroke-width="5.20" fill="none"><path stroke="#9CA700" d="M2141 2437h0m2 8h0m3 5h0m25-28h0m4 6h0m8 16h0m2 23h0m1 9h0m0-18h0m7-8h0m0 28h0m1-14h0m1-13h0m2-34h0m0 40h0m2-12h0m4 19h0m2-6h0m0-18h0m3 1h0m2 29h0m4-42h0m2 44h0m0-12h0m0 2h0m2 12h0m8-20h0m8 11h0m0 11h0m0-17h0m1 1h0m1 13h0m0-17h0m7-6h0m1 14h0m0-11h0m6-3h0m1-30h0m1 33h0m1 17h0m2-15h0m1-1h0m0 11h0m1-1h0m2-19h0m1 14h0m1 5h0m1-3h0m13 3h0m2 2h0m5-38h0m1 45h0m6-33h0m1 18h0m6 9h0m0 9h0m7-4h0m1-36h0m2 23h0m3-17h0m2-8h0m2 23h0m11 3h0m9 11h0m0-20h0m7-17h0m0 33h0m8-8h0m5 8h0m3-3h0m1-29h0m7-1h0m1 14h0m0-5h0m4 9h0m3 2h0m0 20h0m4-7h0m5-19h0m0 32h0m1-29h0m1-13h0m1 5h0m3 35h0m0-1h0m9-13h0m1-9h0m3-5h0m0 28h0m3-1h0m8-39h0m3 28h0m0-37h0m-228 69h0m4-4h0m1-1h0m1 5h0m2 21h0m14-30h0m1 10h0m2 10h0m5-15h0m2 16h0m7-24h0m4 23h0m1-24h0m2 11h0m15-13h0m2 15h0m1-8h0m4 9h0m2-8h0m2 15h0m8-19h0m1 21h0m10-16h0m1 5h0m3 13h0m2-27h0m3-1h0m9 27h0m9 20h0m3-39h0m0 9h0m1 24h0m3-13h0m4 10h0m8-3h0m4 16h0m0-30h0m5 25h0m1-43h0m0 64h0m3-50h0m5 1h0m4 11h0m4 17h0m2-6h0m2-34h0m2-4h0m4 58h0m2-15h0m3-27h0m2 8h0m5-26h0m0 15h0m0-5h0m0 47h0m6-40h0m4-12h0m0 28h0m4-30h0m2 25h0m3-6h0m16-17h0m4 22h0"/><path stroke="#00B5EE" d="M2075 2320h0m10 0h0m42-15h0m3 4h0m8-5h0m28 11h0m27 1h0m4-27h0m7 13h0m15-4h0m13 22h0m1-7h0m28 0h0m11-17h0m22 0h0m15 12h0m-244 70h0m3-49h0m2 32h0m4 5h0m6 11h0m1 8h0m1-13h0m2-48h0m1 48h0m3 27h0m3-20h0m1 20h0m2-60h0m6 40h0m2-12h0m3 25h0m2-23h0m14-24h0m12 32h0m1-10h0m1-3h0m1 5h0m1 26h0m9 4h0m4-6h0m3-31h0m4 21h0m4-1h0m5 9h0m9-61h0m1 18h0m3-8h0m7 19h0m3 11h0m3 2h0m13-19h0m5 31h0m0-24h0m1-6h0m2 1h0m5 22h0m1-12h0m1 7h0m2 17h0m5-11h0m0-37h0m5-9h0m1 12h0m5 6h0m3 24h0m8-36h0m1 54h0m4-56h0m0 61h0m1 0h0m1-22h0m1-37h0m4 45h0m1-18h0m7-8h0m5-26h0m1 54h0m0 4h0m2 1h0m1-2h0m3 9h0m5-12h0m0-24h0m0 35h0m2-44h0m1-20h0m1 65h0m11-74h0m7 9h0m8 13h0m4 35h0m-241 27h0m10 6h0m3-12h0m10 10h0m2 29h0m0-30h0m0 22h0m2 3h0m8-6h0m4-27h0m8 5h0m10 15h0m5 14h0m2-28h0m14 7h0m7 19h0m4-29h0m3 32h0m1-5h0m3 4h0m1-7h0m0-21h0m0 19h0m1-25h0m1 22h0m9 1h0m9-18h0m11-5h0m6 4h0m11 4h0m4-5h0m4-2h0m5 30h0m8-22h0m19 5h0m10-2h0m9 12h0m1-10h0m5-2h0m1 3h0m1 1h0m6 6h0m6 18h0"/><path stroke="#00B813" d="M1903 2400h0m42 0h0m11-21h0m2 10h0m2 5h0m3 1h0m1-37h0m5 26h0m3-21h0m1 26h0m1 4h0m1-4h0m2-1h0m1 5h0m6-21h0m1 17h0m6 0h0m3 6h0m0 2h0m4-23h0m9 15h0m3-7h0m7 11h0m5-15h0m2 20h0m5-8h0m8-7h0m4 5h0m1 10h0m7-1h0m3-28h0m9 24h0m0 6h0m12-21h0m3 16h0m-189 45h0m7 21h0m1 17h0m3-55h0m4 8h0m3 28h0m0 19h0m10-15h0m0 17h0m2-74h0m1 40h0m0 5h0m2 3h0m6-13h0m1-33h0m4 42h0m4 14h0m0-23h0m1 39h0m1-78h0m2 33h0m2 17h0m1 2h0m0 24h0m1-43h0m4 22h0m2-25h0m2-10h0m4-13h0m0 0h0m1 14h0m1-7h0m6-2h0m1 66h0m0-16h0m3-29h0m3-17h0m1-2h0m3 11h0m0-9h0m3 27h0m0-29h0m1 38h0m1-42h0m1 59h0m4-35h0m1 20h0m1-8h0m0-21h0m1 14h0m1 10h0m6 29h0m1-5h0m0-27h0m1 16h0m3-6h0m1-24h0m0 14h0m1-8h0m3 11h0m0 28h0m0-20h0m4-27h0m0 20h0m0-19h0m3 28h0m1-47h0m0 32h0m1 33h0m0-63h0m2 10h0m1 31h0m1-16h0m1 17h0m0-39h0m0-11h0m1 63h0m1-20h0m0-1h0m4-8h0m1-37h0m1 40h0m1-20h0m0-7h0m1 51h0m3-34h0m1 38h0m0-65h0m5 46h0m0-44h0m2 40h0m0 6h0m1-33h0m4 36h0m1-44h0m3 60h0m4-13h0m5-56h0m2-1h0m0 47h0m1-16h0m0 16h0m1 28h0m0-50h0m4-11h0m0 19h0m-164 66h0m5 0h0m5 12h0m2 11h0m7-22h0m1 11h0m0 12h0m1-44h0m2 15h0m2-1h0m3-2h0m2 21h0m0 16h0m1-7h0m7-26h0m1 51h0m1-68h0m1 46h0m3-27h0m1 53h0m3-4h0m1-10h0m1-7h0m1-31h0m4 0h0m0 15h0m2 1h0m2-3h0m2 39h0m2 4h0m0-8h0m2-59h0m2 60h0m0-4h0m0 4h0m0 7h0m2-66h0m1 63h0m3-68h0m3 69h0m1-68h0m1 58h0m1 6h0m2-46h0m2 8h0m5 24h0m0 12h0m0 7h0m2-4h0m1-11h0m1-54h0m1 1h0m0-5h0m1 53h0m3 20h0m7-58h0m6 58h0m0-74h0m2 71h0m1-34h0m0-31h0m4 50h0m2 15h0m1 3h0m0-22h0m1-30h0m3 54h0m3-46h0m2 5h0m1-9h0m0 36h0m4-52h0m1-12h0m1 39h0m2-8h0m3-17h0m2 6h0m2 1h0m1-5h0m2 35h0m2-2h0m4-14h0m6-7h0m3-18h0m5-6h0m9 8h0m-129 83h0m2-4h0m6 7h0m4-15h0m5 10h0m1-9h0m2 3h0m0 12h0m2-1h0m4 47h0m3-61h0m2 49h0m0-32h0m2 13h0m0 32h0m2-48h0m1 17h0m1 3h0m1 9h0m1 12h0m3-3h0m2-3h0m5-18h0m3-32h0m5 27h0m1-9h0m6-7h0m2-3h0"/><path stroke="#BC81FF" d="M2043 2474h0m31 2h0m1-21h0m1 3h0m2 3h0m1-16h0m3 22h0m3-11h0m7-9h0m0 32h0m6-27h0m6 11h0m5-12h0m7 17h0m2 12h0m3-9h0m1-3h0m1-23h0m3 11h0m0 3h0m1-2h0m1 18h0m1-12h0m5-24h0m9 22h0m0 7h0m11 11h0m0-22h0m6-3h0m25 19h0m-129 9h0m3 14h0m2 37h0m3-19h0m1-4h0m4 10h0m1-26h0m1 51h0m5-33h0m1 34h0m2-57h0m0 9h0m2 3h0m2 27h0m2-34h0m2 27h0m3-40h0m2 51h0m1-14h0m0 6h0m1-37h0m2-2h0m1 6h0m0 49h0m0 0h0m1-56h0m0 14h0m1 47h0m1-40h0m0-7h0m1 0h0m1-13h0m1 17h0m1-5h0m0 3h0m1-1h0m0 35h0m1 14h0m2-3h0m1-19h0m2-38h0m1 19h0m2 5h0m4-27h0m1 44h0m1-33h0m4 11h0m2-25h0m1 71h0m4-24h0m6-37h0m0-3h0m1 15h0m0-19h0m2 53h0m1-28h0m0-21h0m5 2h0m1 52h0m1-14h0m0-6h0m2-34h0m0 31h0m3 13h0m0-29h0m2-3h0m0 13h0m0-25h0m5 32h0m0-22h0m0 30h0m5 22h0m1-61h0m2 10h0m6 17h0m2 28h0m1-59h0m7 62h0m1-47h0m1-9h0m9 16h0m-69 65h0"/><path stroke="#BC9D00" d="M2165 2072h0m40 6h0m18 2h0m9-1h0m10-2h0m11-26h0m0 19h0m0 8h0m13-4h0m10 4h0m4-3h0m1 4h0m3-6h0m1-2h0m1 1h0m5 6h0m4-6h0m1-5h0m5-4h0m7 6h0m9 8h0m2-30h0m3 21h0m0 11h0m3-11h0m2 5h0m1-4h0m3 0h0m6-9h0m-162 67h0m2-24h0m4 14h0m0 36h0m1-30h0m1-4h0m0-19h0m7-10h0m6 1h0m0-1h0m5 45h0m2-29h0m0 18h0m3 1h0m1-14h0m1 45h0m0-59h0m0-2h0m3-2h0m1 29h0m1 8h0m4-43h0m1 29h0m0 23h0m1-25h0m1-19h0m1-6h0m2 21h0m1 13h0m1-11h0m0 20h0m0-36h0m1 40h0m0-11h0m1-2h0m4 29h0m0-57h0m1 48h0m0-16h0m0-4h0m1-39h0m2 75h0m1-14h0m5-25h0m3 24h0m2-1h0m2-22h0m1 11h0m1-31h0m0 45h0m3-43h0m1 55h0m2-46h0m0 41h0m1-71h0m1 64h0m0 6h0m1-19h0m2-8h0m1-36h0m0 37h0m1-36h0m2-5h0m3 49h0m0-10h0m1-19h0m3-13h0m1 5h0m1 20h0m0-6h0m2 15h0m1 10h0m0 15h0m5-61h0m1 36h0m1-11h0m0-34h0m2 54h0m2 8h0m1-14h0m7-14h0m3-12h0m1 5h0m0 13h0m0 9h0m1-7h0m3 33h0m1-35h0m0-19h0m5 29h0m0-18h0m1 6h0m0 40h0m0-47h0m1-18h0m1-7h0m0 64h0m1-55h0m3-3h0m3 37h0m1 27h0m0-52h0m1 38h0m1-43h0m0 43h0m6-32h0m2-16h0m7 17h0m3-2h0m0 24h0m1-31h0m2-1h0m2 25h0m2 17h0m1 10h0m1-14h0m0-44h0m3 16h0m7 38h0m5-4h0m-150 26h0m26-9h0m22 7h0m11 1h0m12-8h0m4-2h0m11-1h0m6 6h0m17-1h0m1 0h0m12-4h0m7 0h0m4 9h0"/><path stroke="#D69100" d="M1998 2633h0m6-1h0m6 6h0m9-14h0m21 15h0m9 0h0m47 1h0m31-4h0m-123 22h0m3-11h0m1 12h0m2 0h0m2 1h0m1-20h0m3 9h0m1 3h0m5 14h0m1 12h0m0 2h0m0-26h0m1-10h0m5-4h0m2 37h0m1-29h0m2 3h0m5 18h0m2-4h0m1-23h0m15 37h0m1 41h0m2-61h0m1 56h0m1-14h0m1 1h0m0-17h0m1 24h0m0-34h0m1-12h0m1 39h0m1-36h0m1 6h0m1 1h0m1-13h0m0 23h0m0 34h0m2-72h0m1 38h0m0-30h0m2 63h0m1 3h0m1-51h0m0 25h0m0-8h0m1-3h0m0-27h0m1 6h0m2 4h0m1-11h0m3-5h0m1 54h0m0-35h0m0 33h0m3-39h0m6-22h0m2 44h0m1 19h0m1 7h0m1-42h0m1 30h0m1 3h0m1 5h0m1-32h0m1-23h0m0 25h0m4 32h0m1-46h0m2-13h0m1 20h0m4 35h0m0-56h0m3 62h0m1-23h0m1 3h0m1 27h0m1-5h0m1-56h0m4 50h0m3-11h0m4 21h0m0-1h0m6-21h0m1 8h0m0 8h0m2-60h0m2 25h0m1 6h0m0-30h0m2 18h0m0 20h0m2 3h0m2 14h0m0-3h0m2-38h0m1 10h0m0 6h0m1 16h0m1 17h0m0-43h0m1 6h0m0 32h0m2-33h0m1 33h0m3-58h0m3 38h0m0-45h0m1 69h0m3-58h0m0-5h0m7 21h0m2-22h0m3 15h0m0 45h0m4-28h0m0 29h0m1-14h0m0-9h0m0-8h0m3 26h0m0-37h0m1 19h0m0-20h0m3 41h0m1-10h0m0 15h0m3-3h0m0-25h0m2 32h0m3-40h0m6 33h0m7-8h0m1-30h0m0-26h0m1 20h0m2 30h0m0-30h0m4 32h0m0-27h0m1 22h0m2 13h0m0-35h0m2 33h0m0-16h0m1-23h0m1 23h0m0 6h0m2 12h0m8-8h0m2 10h0m1 10h0m8-52h0m1-4h0m2 18h0m6 15h0m0-1h0m6-3h0m1-14h0m3 10h0m7 3h0m4-7h0m-223 41h0m9 12h0m16-12h0m1 0h0m0 6h0m14 14h0m1-12h0m0 2h0m7 7h0m1-2h0m1 2h0m0-14h0m2 5h0m0-12h0m11 14h0m1-9h0m4 10h0m2 5h0m2-17h0m4-2h0m1 14h0m10-11h0m3 12h0m6 2h0m0-11h0m2-5h0m4 3h0m2 4h0m2-4h0m13 4h0m8-7h0m4 3h0m2-5h0m1 3h0m1 4h0m5-6h0m11 1h0"/><path stroke="#6FB000" d="M2195 2556h0m4-30h0m0 7h0m5 16h0m3-13h0m3 3h0m2 13h0m3-18h0m0-4h0m1 0h0m1 29h0m4-27h0m4 27h0m1-6h0m2-1h0m1-3h0m9 5h0m1-16h0m2 8h0m4 5h0m2-7h0m1-15h0m4 20h0m1-34h0m1-5h0m4 9h0m0 37h0m2-25h0m2-15h0m3 25h0m2 6h0m0 9h0m2-8h0m6-11h0m8 7h0m2 12h0m3-16h0m1 1h0m4-19h0m6 36h0m1-49h0m4 40h0m1 1h0m11 9h0m44 0h0m-174 14h0m9 7h0m24-15h0m15 9h0m12 5h0m6-4h0m4 12h0m2-14h0m2-1h0m0-5h0m4 25h0m5-26h0m14 32h0m1-38h0m4 4h0m2 32h0m1-7h0m2 14h0m1-26h0m2 18h0m2-12h0m0-17h0m3 18h0m6 13h0m3-12h0m1-22h0m2 0h0m1 7h0m5 17h0m2-3h0m2 5h0m5-13h0m0-13h0m2 19h0m0 16h0m1 4h0m1-23h0m1 1h0m1-4h0m0 14h0m18 13h0m2-24h0m31-17h0"/><path stroke="#00BD61" d="M2267 2157h0m108 1h0m-117 73h0m5-13h0m1-30h0m2-9h0m9 17h0m2 22h0m5 10h0m2-68h0m2 49h0m1 4h0m1 0h0m2 3h0m1-26h0m1 45h0m1-51h0m0 8h0m2 15h0m3-15h0m0 32h0m0 12h0m1-33h0m3 6h0m0 3h0m3 10h0m2 11h0m2-3h0m6 2h0m0-46h0m0 7h0m2 32h0m0-41h0m2 42h0m1 8h0m2-13h0m10-34h0m3 22h0m2 19h0m0 4h0m4-36h0m1 23h0m3-14h0m0 10h0m2-27h0m0 39h0m0-3h0m2-38h0m0 37h0m1-53h0m2 47h0m3-24h0m1 6h0m5-1h0m1-5h0m2 43h0m2-3h0m0-41h0m3-20h0m1 66h0m1-26h0m1 7h0m0-19h0m2 26h0m2-6h0m1-30h0m1 39h0m4-9h0m0 7h0m3-13h0m6 5h0m-137 62h0m2-18h0m6-13h0m0 21h0m0 7h0m3-28h0m3 17h0m9 47h0m0-62h0m0 21h0m1 0h0m0 22h0m1-36h0m2-14h0m7 52h0m3 7h0m4-23h0m0 31h0m1-29h0m1-17h0m1 14h0m1 15h0m0-23h0m1-31h0m2 23h0m2 36h0m1-11h0m2-12h0m1 20h0m2-53h0m1 26h0m0-1h0m1-23h0m2 59h0m2-47h0m2 25h0m1-20h0m0-19h0m3 55h0m1-27h0m0 42h0m4-44h0m0 37h0m0-14h0m3-22h0m2 36h0m0-39h0m1-6h0m4 20h0m3 1h0m2-22h0m1 16h0m2-11h0m2 21h0m1 23h0m2-61h0m0 1h0m8 56h0m8-22h0m1 8h0m1 15h0m1-41h0m3-14h0m3 8h0m3-19h0m4 15h0m2 31h0m-16 34h0m6 1h0"/><path stroke="#F8766D" d="M2162 2139h0m1-3h0m0 13h0m11 0h0m19-9h0m-151 94h0m19 4h0m2-6h0m16-24h0m3 11h0m3-12h0m3 2h0m7 15h0m9 1h0m17-21h0m0 15h0m2 8h0m3-14h0m4 5h0m6-19h0m0 23h0m1-32h0m2-5h0m5 28h0m0-28h0m0-9h0m1 64h0m0-17h0m4-37h0m7 53h0m1-56h0m1 25h0m6-26h0m1-4h0m1-5h0m1 17h0m1-23h0m2 72h0m3-53h0m7 6h0m4 42h0m1-18h0m1-22h0m0 5h0m2 29h0m5-55h0m5 18h0m5 28h0m5 16h0m0-13h0m2-41h0m2 19h0m2-15h0m1-16h0m4 62h0m1-41h0m1-28h0m1 24h0m0 27h0m3-25h0m2 27h0m1-25h0m1-5h0m0 12h0m4-8h0m3 0h0m5-3h0m3 4h0m4 11h0m1 4h0m9-39h0m7 25h0m1 19h0m-306 109h0m15-4h0m6-15h0m1 19h0m2-2h0m20-8h0m3-10h0m6 4h0m3 15h0m1-5h0m8-44h0m4 38h0m2-42h0m0 1h0m4 18h0m4-30h0m0 50h0m1-14h0m6-9h0m0-17h0m3 20h0m5-30h0m1 62h0m0 1h0m1-76h0m9 70h0m3-25h0m1-2h0m0 8h0m2-37h0m6 51h0m3-45h0m1 0h0m3 49h0m1-22h0m1-46h0m1 70h0m5-5h0m2-6h0m2-19h0m1 21h0m3-18h0m0 17h0m2-35h0m0-16h0m0 36h0m10-36h0m0 28h0m1 39h0m0-66h0m7 8h0m1 5h0m1-13h0m2 7h0m3 25h0m3 17h0m1-27h0m2 24h0m2-55h0m2 60h0m0-43h0m1 33h0m5-21h0m3 28h0m0-21h0m1 27h0m1-46h0m3 5h0m2-2h0m1-19h0m2 42h0m8 18h0m5-17h0m2 10h0m3 0h0m12-45h0m0 3h0m4-14h0m0 48h0m0-14h0m10-16h0m17 4h0m4-13h0m3 8h0m8-5h0m10 4h0m0-3h0m4-6h0m1 10h0m17-12h0m4-6h0m-321 112h0m17-26h0m9 2h0m15 29h0m4-11h0m7 10h0m2-20h0m4 27h0m1-37h0m4 30h0m3-25h0m3 31h0m3-19h0m4 17h0m2-4h0m13 7h0m3-43h0m5 1h0m0 1h0m9 5h0m4 41h0m5-42h0m9 44h0m1-38h0m1 19h0m15-9h0m13-17h0m11 5h0m10 4h0m3 0h0"/><path stroke="#00C08E" d="M2003 2541h0m45 5h0m13-14h0m14-7h0m1 27h0m10-14h0m3 11h0m17 3h0m4 2h0m1-9h0m1 10h0m2-4h0m5 2h0m10-5h0m26 10h0m1-3h0m-159 47h0m6 22h0m11-12h0m1 11h0m4-12h0m3-46h0m4 61h0m1-44h0m0 4h0m2 51h0m3-33h0m2-1h0m0-20h0m2 25h0m1-4h0m2 14h0m1 5h0m2-55h0m5 4h0m4-11h0m0 25h0m0 32h0m1-53h0m1 8h0m1 41h0m1-10h0m1 11h0m4 1h0m0-49h0m2 21h0m0 25h0m0-11h0m1-3h0m0 15h0m0-42h0m1-2h0m2 37h0m0 32h0m2-34h0m0-38h0m2 27h0m1-21h0m5 39h0m3-4h0m0-30h0m1-7h0m5 36h0m2-11h0m1 41h0m1-30h0m2-32h0m1 34h0m2-12h0m3-4h0m1-5h0m5 18h0m1 17h0m3-14h0m1-14h0m1 3h0m1-24h0m2 39h0m0-51h0m3 39h0m1-35h0m6 15h0m1 8h0m7-29h0m0 49h0m0-34h0m2 50h0m1 5h0m0-17h0m1-53h0m3 20h0m3 45h0m0-18h0m1-43h0m3 44h0m1 4h0m0-37h0m4 6h0m1-9h0m2 37h0m0 19h0m1-53h0m1 35h0m2 15h0m3-27h0m1-27h0m3 33h0m2-25h0m4-1h0m1 20h0m2-31h0m2 47h0m0-31h0m3-18h0m4 34h0m0-37h0m1 39h0m0-32h0m1 28h0m0 8h0m2 7h0m10-26h0m3 29h0m5-35h0m5-7h0m4 30h0m7-6h0m2 22h0m4-37h0m4 33h0m-163 30h0m61-2h0m13 3h0m5-6h0m15 4h0m5 1h0"/><path stroke="#F863DF" d="M2656 2308h0m9 9h0m6-2h0m1-2h0m1 4h0m10-1h0m3 2h0m10-1h0m4 2h0m2-2h0m13 1h0m3 1h0m-105 55h0m17-19h0m9-27h0m1 22h0m0 1h0m8 3h0m3-2h0m4-32h0m3 26h0m6-14h0m1 18h0m1-25h0m13 0h0m2 14h0m3-4h0m1 10h0m7-18h0m0 8h0m6-9h0m3 16h0m10-18h0m5 6h0"/><path stroke="#FF6A9A" d="M2288 2712h0m0-7h0m11 8h0m7-16h0m3-22h0m7 9h0m16 24h0m5 2h0m32-19h0"/><path stroke="#00BDD4" d="M1941 2305h0m1 8h0m8 3h0m-132 33h0m9 7h0m10 9h0m0 5h0m3-12h0m0-8h0m4-8h0m1-9h0m3-6h0m0 44h0m1 23h0m1-36h0m2-27h0m7 49h0m2-8h0m2-28h0m0 31h0m2 0h0m2 1h0m1-27h0m1-18h0m0 11h0m3 31h0m2 20h0m2-48h0m0 51h0m3-21h0m0 23h0m1-1h0m1-75h0m1 44h0m4-34h0m2 65h0m4-21h0m1 0h0m0 3h0m1-34h0m1 11h0m1 19h0m2-13h0m0 35h0m1-40h0m6 39h0m1-21h0m1 14h0m2-15h0m3-25h0m1 5h0m1 1h0m3-31h0m0 43h0m1-7h0m0 25h0m1-53h0m3 8h0m0-13h0m3-1h0m4 47h0m1 2h0m1-53h0m3 31h0m1-31h0m0 46h0m6-31h0m10 3h0m1 31h0m1-40h0m2 16h0m1-8h0m0 15h0m6-7h0m4-18h0m11 16h0m-113 63h0m0 27h0m1-9h0m0 3h0m1-25h0m3 33h0m1-19h0m3 18h0m0 3h0m5 0h0m1 24h0m7 6h0m2-19h0m1-16h0m1-11h0m6 42h0m9 8h0m1-45h0m1 12h0m10-33h0m2 61h0m-11 25h0"/><path stroke="#00A7FF" d="M2399 2479h0m13-1h0m8-9h0m3-25h0m10 32h0m5-13h0m0 17h0m2-6h0m1-8h0m6-21h0m1 17h0m15-8h0m1 15h0m3-22h0m0 31h0m0-7h0m0-3h0m2-25h0m6 19h0m1 12h0m2-10h0m17 8h0m-128 67h0m3-6h0m9-7h0m1 6h0m8-45h0m4 61h0m1-19h0m3-2h0m6-23h0m2 5h0m0 1h0m4 39h0m2 2h0m2-64h0m1 63h0m0-52h0m1 26h0m3-33h0m4 45h0m0-20h0m0-24h0m4 46h0m4-40h0m1 16h0m1-12h0m2-17h0m2 46h0m2-33h0m0-1h0m1 32h0m1-13h0m1 4h0m0 27h0m2-54h0m2 4h0m1 40h0m1 2h0m2-30h0m4 8h0m1-14h0m1-23h0m5 18h0m1 27h0m0 23h0m0-32h0m7 32h0m3-61h0m0 51h0m0-39h0m1 54h0m1-42h0m1 3h0m1 21h0m1 13h0m1-34h0m1 37h0m1 0h0m0-25h0m0-12h0m1-5h0m5 7h0m1-8h0m1 9h0m1 14h0m1 7h0m13-49h0m-74 79h0m14 12h0m1 1h0m3-14h0m2-6h0m1 10h0m13 17h0m3-23h0m0 13h0m9-3h0m1-9h0m0 16h0m1-15h0m2-2h0m1-2h0"/><path stroke="#E26EF7" d="M2344 2314h0m17-18h0m-71 53h0m17 12h0m3-17h0m5-18h0m0 29h0m6-8h0m13-13h0m0 22h0m7-18h0m1 18h0m0 37h0m1-45h0m6 13h0m3 4h0m4-12h0m2 16h0m0 13h0m3 2h0m1-7h0m0-39h0m6 34h0m1-44h0m0 54h0m0 14h0m4-65h0m2 64h0m4-5h0m3-27h0m-57 77h0m5 4h0m1-37h0m9 4h0m5 18h0m5-13h0m3-12h0m5-4h0m4 22h0m1-1h0m2 6h0m2 21h0m1-44h0m1 32h0m3-3h0m0-15h0m12-1h0m2 13h0m2-15h0m3 2h0m1 5h0m5-13h0"/><path stroke="#00C0B4" d="M2180 2624h0m1-14h0m2 5h0m14-9h0m12 14h0m3 17h0m5-53h0m4 30h0m2-26h0m3 46h0m6-9h0m0-10h0m0 11h0m5 4h0m3 8h0m5 1h0m1-35h0m0 10h0m4-7h0m3-23h0m13 8h0m0 44h0m2-1h0m1-4h0m3-20h0m3-16h0m5 26h0m1 18h0m1-33h0m2 8h0m6 10h0m5-26h0m5 13h0m1 18h0m-103 18h0m19 13h0m1 6h0m1-19h0m2-5h0m15-1h0m19 11h0m0 10h0m5-17h0m1 24h0m0-25h0m2-1h0m10 8h0m0-2h0m2-5h0m5-1h0m4-2h0m2-1h0m6 3h0m35 4h0"/><path stroke="#7F96FF" d="M2316 1998h0m-156 65h0m4-5h0m4 21h0m5-18h0m4 11h0m5 1h0m14-12h0m1 7h0m1-12h0m1 11h0m2-25h0m3 15h0m3 8h0m1-20h0m4 17h0m1-19h0m1 9h0m0-3h0m8-19h0m0 18h0m9-19h0m7 12h0m3 25h0m3-33h0m4-13h0m2 29h0m1-35h0m1 29h0m3 22h0m0-30h0m1 5h0m1-16h0m2-13h0m10 41h0m1-19h0m1-13h0m0 46h0m0-39h0m4 27h0m2-38h0m2-11h0m3 28h0m1-26h0m1 53h0m1-51h0m1-1h0m2 2h0m1 19h0m4-7h0m1 23h0m0-26h0m2 29h0m2-19h0m1-14h0m2-8h0m1 20h0m0 27h0m1-17h0m5-35h0m1 35h0m1-32h0m0 12h0m9-11h0m1-2h0m1 14h0m2 2h0m9 2h0m5 9h0m-162 67h0m5-4h0m31-5h0m22 609h0m17 19h0m13-7h0"/><path stroke="#E9842C" d="M2408 2552h0m-124 79h0m18-1h0m10-5h0m2-6h0m2-5h0m9 17h0m0-18h0m4 9h0m3-4h0m0 19h0m1-29h0m7 27h0m0-15h0m1-4h0m1-7h0m0-7h0m3 17h0m3-8h0m0-30h0m1 27h0m3 9h0m1-39h0m0 41h0m0-56h0m4 40h0m1 8h0m3-17h0m0 19h0m0-44h0m1 10h0m1 30h0m1 14h0m1-41h0m3 17h0m1 33h0m1-13h0m2-24h0m0 2h0m3-5h0m0 37h0m0-68h0m6 10h0m0 29h0m1 1h0m1-29h0m1 59h0m1-31h0m1-5h0m3 17h0m3-26h0m1-7h0m3 49h0m1-45h0m1 9h0m1 33h0m2-43h0m2 56h0m2-13h0m2-50h0m1 4h0m4 40h0m0-34h0m1 21h0m2-6h0m5-2h0m0-4h0m0 38h0m2-1h0m2-50h0m2 35h0m1-27h0m1-14h0m1 40h0m1 23h0m3-31h0m3-37h0m1 53h0m4-10h0m1 10h0m3-22h0m0-6h0m0 25h0m4-4h0m5-7h0m1-19h0m13-2h0m-211 75h0m14 18h0m7-7h0m14-4h0m0-14h0m4 22h0m1-6h0m1 17h0m1-34h0m2 29h0m0-36h0m1 14h0m0-14h0m4 29h0m0-27h0m1 41h0m0-36h0m0-10h0m3 16h0m8-12h0m1-6h0m1 19h0m1-6h0m6-11h0m1 43h0m3 6h0m2-41h0m1 27h0m3-37h0m3 19h0m4-16h0m0 29h0m1-7h0m1-25h0m3 9h0m3 39h0m5-42h0m1 12h0m2-4h0m1-6h0m4 39h0m0 12h0m1-22h0m8-2h0m3 10h0m0-13h0m1 1h0m1-21h0m1-10h0m5 38h0m0-30h0m9 3h0m5-7h0m12 8h0m1 0h0"/><path stroke="#FF62BF" d="M2158 2314h0m30 6h0m-63 29h0m2-3h0m0 3h0m6-15h0m2-1h0m1 32h0m6-14h0m1-17h0m4 28h0m4-11h0m7 8h0m4-38h0m2 27h0m3 19h0m5-32h0m2-6h0m5 26h0m3-26h0m10 15h0m4 16h0m0-9h0m0-9h0m1 28h0"/><path stroke="#00B5EE" d="M2082 2296h0m9 18h0m1-31h0m39 33h0m30-13h0m9 15h0m3 1h0m7-17h0m10 1h0m13 10h0m30-11h0m4-13h0m4 16h0m9 12h0m5-4h0m11 2h0m14 4h0m-226 19h0m15 34h0m5-22h0m0 6h0m1 33h0m4-5h0m2 9h0m16-42h0m2 20h0m1-6h0m0-16h0m5 32h0m4 19h0m4-49h0m2 32h0m1-9h0m2-15h0m11-23h0m1 32h0m2 23h0m4-59h0m1 30h0m0 33h0m10-28h0m13 18h0m3 15h0m5-22h0m8 0h0m13-20h0m1-32h0m0-3h0m4 47h0m3 17h0m3-27h0m0 9h0m6 24h0m2-21h0m4-13h0m3 27h0m4-15h0m4-1h0m0 24h0m5-11h0m0-3h0m0-54h0m1 54h0m0-47h0m3 5h0m2 59h0m1-50h0m0-19h0m3-7h0m2 38h0m3-30h0m3 48h0m0-2h0m5 5h0m8-53h0m1 36h0m0-22h0m1 50h0m2-36h0m1 20h0m2-49h0m1 63h0m2-58h0m0 30h0m1 13h0m1-26h0m4-8h0m5 37h0m4-34h0m1 20h0m3-42h0m5 38h0m2-35h0m1 76h0m0-51h0m4-10h0m0 7h0m8 13h0m14-33h0m-249 93h0m8-15h0m12 7h0m0 19h0m2-8h0m0 10h0m8-19h0m6 5h0m5 18h0m5-15h0m20 3h0m0-20h0m11 1h0m3 30h0m1-22h0m2 5h0m0-1h0m2 4h0m1-18h0m3 6h0m3-8h0m7 23h0m0-18h0m1 10h0m9-7h0m2-8h0m4 7h0m12 22h0m27-13h0m10-3h0m10-4h0m6 0h0m1 8h0m2-8h0m8 12h0m3 9h0m5-16h0m5-13h0m3 16h0m1 6h0m7-16h0m2 22h0"/><path stroke="#BC81FF" d="M2055 2459h0m4-12h0m9-8h0m2 38h0m6-7h0m2-26h0m6 15h0m5 1h0m8 9h0m6-3h0m3-22h0m1 17h0m1-37h0m3 37h0m6 16h0m3-21h0m1 2h0m1-10h0m0-12h0m2 42h0m0 1h0m6-36h0m1 17h0m3 6h0m5-12h0m12 19h0m3-11h0m1-8h0m3 7h0m8-10h0m5 5h0m5 15h0m11-13h0m1 19h0m-148 50h0m15 2h0m3-7h0m3-31h0m1 17h0m1 6h0m3-1h0m0-27h0m4 21h0m1 5h0m4-27h0m1-2h0m1 32h0m3-19h0m4-14h0m0 9h0m4 18h0m1 25h0m0-26h0m1-25h0m6 35h0m0-27h0m1 31h0m0 15h0m2 15h0m1-30h0m2 16h0m2-22h0m1 12h0m2 0h0m1 25h0m1-9h0m2-59h0m1 40h0m1-20h0m1 17h0m1 4h0m2-12h0m1-13h0m4 25h0m0 3h0m1-35h0m1 9h0m1 47h0m1-51h0m0 39h0m3-31h0m0 16h0m2 9h0m3 10h0m1-56h0m7 33h0m2 38h0m2-36h0m1 34h0m1-28h0m2-16h0m10-14h0m2-1h0m0 42h0m1-32h0m1 26h0m5-1h0m10 12h0m1-15h0m0-21h0m1 29h0m1-25h0m4 31h0m2-51h0m5 34h0"/><path stroke="#D69100" d="M1987 2636h0m5 2h0m6-21h0m5-3h0m1 14h0m5 12h0m1-3h0m18 3h0m9-3h0m39-8h0m71-8h0m-153 23h0m7 11h0m4 6h0m2 12h0m5-9h0m3-4h0m1 7h0m2 8h0m1-18h0m14-5h0m1-9h0m2 1h0m2 33h0m0 10h0m1-6h0m1-4h0m3 13h0m1-8h0m2-12h0m1 0h0m1-26h0m3 47h0m1 22h0m2-62h0m1 29h0m1 16h0m2-31h0m0 31h0m1-44h0m1 29h0m1-1h0m0-3h0m2-33h0m1 22h0m2 47h0m1-2h0m1 1h0m0-56h0m1 10h0m2 38h0m4-28h0m2 17h0m1 0h0m3 20h0m1-27h0m1-6h0m1 2h0m1 25h0m1-16h0m0-44h0m1 50h0m1-14h0m1-10h0m1 27h0m1-37h0m1 13h0m1 13h0m2-47h0m2 52h0m2-40h0m2 10h0m2 24h0m0-31h0m1 32h0m0-17h0m2-21h0m1 23h0m1-32h0m4 18h0m4 7h0m0-12h0m1 46h0m0 1h0m1-44h0m2 57h0m0-59h0m1 51h0m0 0h0m0-51h0m1-2h0m1 57h0m1-15h0m5 1h0m2-29h0m1 30h0m1-16h0m0-14h0m0 21h0m0-9h0m2 18h0m1 3h0m1 10h0m3 8h0m1-70h0m0 68h0m2-71h0m0 11h0m1 31h0m4 4h0m1 2h0m4-34h0m1 44h0m1 12h0m1 0h0m3-44h0m0-6h0m2 44h0m0-5h0m1-16h0m2-16h0m2 46h0m4-12h0m4-42h0m2 14h0m1-13h0m2 54h0m0-45h0m1 17h0m0-8h0m1-26h0m0 56h0m6-53h0m0-20h0m2 31h0m1 8h0m1 20h0m1-10h0m0-18h0m9-30h0m0 43h0m0-22h0m1 40h0m1-24h0m0 27h0m2-19h0m0-27h0m2 22h0m1 31h0m1-55h0m1-2h0m0 21h0m4-26h0m2 17h0m0-6h0m1-7h0m1 10h0m0 10h0m1 43h0m0-16h0m1-43h0m0 29h0m1 25h0m1-1h0m4-50h0m1 26h0m0-31h0m2 36h0m4-6h0m2 14h0m1-29h0m4-18h0m2-5h0m2 23h0m2 25h0m2-3h0m1 10h0m8-36h0m2 35h0m4 0h0m3 7h0m6 4h0m5-21h0m0-13h0m2 19h0m-208 32h0m3-3h0m8 6h0m8 0h0m1 7h0m4-10h0m0 4h0m10 11h0m5-20h0m3 18h0m4-9h0m5 4h0m0 7h0m4-11h0m3 13h0m1-12h0m4 0h0m3 5h0m1-19h0m0-1h0m5 6h0m1 22h0m11-25h0m2 3h0m1 2h0m3 0h0m1 2h0m0-8h0m2-3h0m1 12h0m0 5h0m6-8h0m0 4h0m1 3h0m2-9h0m3 2h0m3-7h0m0 2h0m11 1h0m2-5h0m10 1h0m13 6h0"/><path stroke="#FF6A9A" d="M2296 2702h0m3 10h0m2-4h0m5 10h0m17-17h0m1-1h0m1-6h0m13 16h0m5-3h0"/><path stroke="#00BDD4" d="M1900 2317h0m0 0h0m22 3h0m19-4h0m5-5h0m29-5h0m-164 56h0m9-3h0m1-8h0m10-5h0m2 22h0m5-32h0m3 2h0m4 18h0m9-10h0m1-8h0m3 0h0m1 50h0m2-39h0m2 2h0m3-11h0m1-15h0m2 33h0m2 42h0m0-36h0m4-20h0m2 16h0m0-2h0m0-9h0m1 51h0m0-29h0m3 16h0m3-48h0m3 60h0m0-34h0m1 15h0m0-59h0m4 56h0m4-49h0m0 64h0m4-24h0m1-20h0m2-24h0m0 19h0m1 43h0m0 1h0m1-50h0m1 43h0m2 13h0m1-63h0m9 60h0m4-39h0m0 1h0m1-13h0m1-15h0m1 11h0m0-12h0m3 40h0m1-41h0m3 6h0m1 13h0m2-3h0m0 7h0m0 3h0m1 8h0m2 0h0m4-11h0m2 7h0m1-22h0m2-7h0m2 15h0m0-8h0m1 14h0m1-18h0m8 51h0m13-30h0m-111 63h0m2 10h0m0-10h0m3 38h0m2-25h0m0 11h0m3-34h0m2 9h0m1-2h0m6-1h0m3-6h0m4 45h0m0 27h0m2-56h0m1-4h0m12 59h0m6-23h0m1-7h0m5 5h0m14 5h0m5-26h0m-34 58h0"/><path stroke="#E9842C" d="M2368 2556h0m1-12h0m16-2h0m27 14h0m-101 74h0m1-4h0m7-16h0m0-1h0m10 25h0m3-42h0m1 42h0m0-16h0m5-29h0m0 5h0m1 4h0m1 41h0m2-4h0m1-21h0m0 21h0m9-42h0m3 17h0m0-27h0m3-2h0m0 5h0m5 5h0m0 42h0m2-71h0m4 34h0m1-6h0m4-9h0m1 12h0m1-23h0m3 42h0m3-34h0m6 9h0m1 42h0m0-62h0m1-3h0m2 38h0m3 23h0m2-4h0m2-8h0m5-5h0m0-8h0m1-31h0m1 15h0m1 9h0m1-6h0m3 36h0m0-28h0m1 28h0m0-10h0m1-6h0m2-36h0m2 10h0m3 51h0m1-66h0m7 48h0m2-38h0m2 47h0m6 2h0m6-19h0m2-1h0m2-19h0m12 11h0m2 6h0m9-17h0m-181 90h0m4-19h0m5-1h0m1 2h0m0-8h0m2 15h0m8 25h0m0 6h0m1-28h0m1 22h0m1 15h0m2-54h0m1 39h0m0-4h0m5-35h0m1 20h0m1 11h0m6-13h0m5 8h0m0-11h0m1-8h0m1 25h0m2-36h0m2-1h0m0 14h0m3 2h0m1-20h0m0 51h0m0-18h0m1-18h0m2 33h0m1-42h0m2 42h0m3-50h0m1 16h0m1 22h0m2-8h0m0-26h0m4 27h0m1 17h0m1-29h0m2 25h0m3-18h0m1-19h0m0 21h0m1 0h0m3 15h0m3 7h0m9-49h0m1 30h0m0 2h0m4-6h0m7-13h0m2 0h0m2-2h0m3-12h0m3 17h0m3-8h0"/><path stroke="#00C08E" d="M2026 2551h0m7-4h0m12 8h0m33 3h0m4 1h0m47-10h0m9-5h0m3 3h0m18-3h0m2 4h0m15 2h0m11 4h0m-191 56h0m14-36h0m6 0h0m4 33h0m2 31h0m0-19h0m3-16h0m0-7h0m4 26h0m1-51h0m1-6h0m1 72h0m2-4h0m2-40h0m3 7h0m2 28h0m1-45h0m2 12h0m0-24h0m2 21h0m0 22h0m6-48h0m1 62h0m2-55h0m3 43h0m2-11h0m1 19h0m2 3h0m0-20h0m1 9h0m2-55h0m1 9h0m1 55h0m1-11h0m9 0h0m1-5h0m0-21h0m1 7h0m1 32h0m2-33h0m2-2h0m4-10h0m0 13h0m0 8h0m1 21h0m1-31h0m2 22h0m3-24h0m2 37h0m1-30h0m0-24h0m1 40h0m2-11h0m3-7h0m1-18h0m2 6h0m1 23h0m1-34h0m3 50h0m1-3h0m2-19h0m0 31h0m0-59h0m1 59h0m2-60h0m3 39h0m5-32h0m0 54h0m0-70h0m1 25h0m1 2h0m0-9h0m4 31h0m3-13h0m4 3h0m6-34h0m1 22h0m0 35h0m6-14h0m3-21h0m1-20h0m0 3h0m0 20h0m3 16h0m1 11h0m0-10h0m0-37h0m0 41h0m1-53h0m1 46h0m4-13h0m1 37h0m1-3h0m0-30h0m0-6h0m1-18h0m1 52h0m2-1h0m6 7h0m4-53h0m3 17h0m0-35h0m1 16h0m7 31h0m9 1h0m1-10h0m0 33h0m9-61h0m2 18h0m21 30h0m6-30h0m-124 51h0m31 12h0m6 4h0m40-15h0"/><path stroke="#00A7FF" d="M2403 2471h0m12-11h0m1-11h0m1 4h0m3 4h0m4 13h0m6-2h0m1-18h0m7 7h0m0-2h0m4-11h0m2 11h0m2 6h0m2 17h0m3-30h0m1 21h0m9-21h0m4 8h0m0-12h0m0 30h0m1 1h0m2-32h0m7 9h0m2 13h0m1-13h0m7 20h0m1-1h0m1 2h0m1-6h0m0 8h0m3-6h0m-122 63h0m3-4h0m1 17h0m0-10h0m0-23h0m11 12h0m0-11h0m2 17h0m4 5h0m0 11h0m2 1h0m0-31h0m0 12h0m6 7h0m2 7h0m1-52h0m7 28h0m3 14h0m1-16h0m1-18h0m1 62h0m0-35h0m1 15h0m0 0h0m2-25h0m1 21h0m1 23h0m4-5h0m0-9h0m2-35h0m2 29h0m4-38h0m0 19h0m2-28h0m0 10h0m2-1h0m11 39h0m3-7h0m1 15h0m0-18h0m0 4h0m1 16h0m0-40h0m1 44h0m1-52h0m0 51h0m0-32h0m4 1h0m1 13h0m1 0h0m0-13h0m1-10h0m1-31h0m0 7h0m2 35h0m0 6h0m2 15h0m1-62h0m1 6h0m2 2h0m1 58h0m1-39h0m4-13h0m2 42h0m0-13h0m5-20h0m0 21h0m0 30h0m2-61h0m2 54h0m1-43h0m1 30h0m4-43h0m5 27h0m4-35h0m-64 91h0m3-8h0m10-5h0m12 23h0m12-10h0m2-4h0"/><path stroke="#6FB000" d="M2197 2521h0m4 7h0m4 10h0m2-23h0m1 16h0m1 3h0m1 11h0m4 13h0m2-4h0m4-18h0m5-3h0m0 19h0m4-6h0m5-16h0m0 27h0m5-33h0m1 17h0m1-8h0m2 11h0m1-4h0m0 11h0m1-8h0m2 10h0m5-10h0m2-10h0m0 14h0m1-1h0m2-31h0m0 36h0m3-26h0m4 4h0m4 2h0m4 2h0m5 23h0m10-22h0m1 26h0m1-62h0m1 50h0m1-20h0m1 25h0m0-19h0m0 3h0m6-7h0m0 24h0m7 1h0m4-4h0m0-11h0m4-1h0m3 6h0m1-17h0m2 29h0m-126 10h0m16 13h0m8-2h0m0-6h0m15 7h0m1-7h0m2 13h0m8-25h0m10 10h0m0 5h0m7 28h0m11-9h0m0-33h0m2 22h0m4 5h0m2-27h0m1 29h0m0-5h0m3 0h0m3-1h0m0-20h0m4 16h0m1-10h0m0 18h0m2-17h0m2 10h0m4-2h0m7 9h0m3 0h0m1-10h0m1-7h0m2 13h0m6-20h0m0 7h0m6-8h0m0 23h0m1 22h0m4 4h0m2-44h0"/><path stroke="#9CA700" d="M2125 2453h0m30-9h0m1 0h0m8-8h0m7-9h0m1-9h0m1 17h0m1 4h0m3 38h0m1-19h0m5-1h0m10-18h0m1-2h0m3 27h0m0 8h0m6 3h0m4-36h0m1 31h0m11-35h0m1 4h0m0-16h0m0 44h0m2 8h0m1-44h0m1 37h0m0-3h0m2-7h0m3-18h0m10-1h0m2 20h0m1-14h0m0-13h0m3-18h0m3 60h0m3-16h0m1-11h0m1-13h0m1-3h0m2 33h0m1-17h0m4 27h0m4-33h0m7-9h0m4 4h0m1 9h0m2-6h0m3 10h0m1-16h0m1 33h0m2-17h0m0 18h0m5-3h0m1-23h0m3 27h0m3-39h0m7 34h0m2-17h0m4 9h0m0 23h0m0-12h0m2-10h0m1 13h0m3-18h0m1 22h0m3-6h0m1-7h0m2 9h0m1-7h0m2 5h0m1-2h0m8-3h0m5-6h0m5 3h0m3-25h0m4 9h0m0 3h0m7-8h0m4 13h0m7 15h0m1-1h0m0 5h0m15-26h0m3 10h0m5-23h0m4 44h0m14-21h0m6-4h0m5-4h0m-236 67h0m4-14h0m7-6h0m7 13h0m2 1h0m1 1h0m4-4h0m0-23h0m4 17h0m6 5h0m4-19h0m2 18h0m5 6h0m13-16h0m1 6h0m7 2h0m0 3h0m7-11h0m7-6h0m4 3h0m2-8h0m2 50h0m4-34h0m1-3h0m2 14h0m5 10h0m3 2h0m4 2h0m0-33h0m3 18h0m10 17h0m3-20h0m2 38h0m4-32h0m1 8h0m1 5h0m1-17h0m6-19h0m0 37h0m1-41h0m2 14h0m3 36h0m1-2h0m1-47h0m2 14h0m0-6h0m2 8h0m1 36h0m0-30h0m1-4h0m2-15h0m5 31h0m3 6h0m1-44h0m1 15h0m0 55h0m6-59h0m0 52h0m3-42h0m6 6h0m1-7h0m13-19h0m7 1h0m1 14h0m13 6h0"/><path stroke="#F8766D" d="M2157 2149h0m4 6h0m2-4h0m6-21h0m3 17h0m3 9h0m13-20h0m5 9h0m9 2h0m-133 81h0m9 1h0m2 3h0m5-23h0m2 19h0m7-15h0m16-1h0m0-4h0m13 2h0m2-14h0m2 43h0m1-13h0m4-14h0m3 14h0m5-13h0m6-28h0m3 31h0m1-32h0m3 42h0m6-6h0m5-32h0m6 3h0m3 48h0m4-1h0m0-64h0m3 57h0m1-29h0m1-14h0m4-18h0m1 22h0m5-19h0m3-2h0m8 15h0m2-15h0m1 66h0m1-77h0m4 46h0m2-24h0m3 41h0m2-19h0m3-30h0m11 58h0m3-71h0m2 65h0m4-49h0m4 62h0m6-50h0m6-19h0m-261 143h0m1-14h0m5-15h0m10-2h0m3 7h0m4-26h0m11-7h0m1-10h0m2 40h0m3-19h0m1 43h0m2-21h0m2-25h0m4 48h0m3-60h0m1 43h0m1 20h0m2-25h0m1 29h0m1-49h0m0 46h0m2-36h0m4-17h0m0-10h0m6-1h0m4 15h0m0-10h0m1 44h0m7-4h0m1-41h0m1 27h0m1 28h0m1-10h0m0-13h0m4-35h0m1 17h0m1 14h0m3-21h0m5 5h0m2 3h0m2-4h0m11 7h0m1 21h0m5 14h0m4-60h0m3-2h0m12 20h0m1 9h0m1 3h0m3 1h0m1 5h0m1 23h0m3-44h0m1-17h0m4 60h0m3-53h0m0 31h0m1-15h0m1 3h0m0 35h0m2-43h0m1-5h0m3 36h0m3-47h0m2 22h0m1 19h0m1-41h0m1 30h0m2 7h0m4 6h0m2-39h0m5 1h0m9 13h0m13 30h0m1-55h0m2 7h0m5 24h0m1 13h0m7-43h0m10 44h0m3-43h0m-260 80h0m5 30h0m0-21h0m4 1h0m4 22h0m4 1h0m0-4h0m3 17h0m5-10h0m2 19h0m2-28h0m1 16h0m14-42h0m1 37h0m1-19h0m0 13h0m11-13h0m1 34h0m8-7h0m2-21h0m1-25h0m6 10h0m10-12h0m1 27h0m0-12h0m0-7h0m2-6h0m2 37h0m18-8h0m3-11h0m23-9h0m11 6h0m36-11h0"/><path stroke="#E26EF7" d="M2326 2311h0m-34 66h0m5-29h0m10 4h0m2-18h0m0 4h0m7 46h0m5-20h0m4-15h0m0-16h0m0 43h0m1 4h0m1-12h0m1 5h0m6-29h0m1 23h0m2-26h0m0 50h0m1-49h0m1 12h0m10 44h0m5-8h0m1-11h0m4 9h0m2-7h0m1-53h0m5 18h0m1 45h0m2-66h0m5 46h0m2 18h0m2-21h0m1 23h0m1-1h0m3-25h0m1-23h0m1 55h0m1-56h0m3 35h0m1-40h0m0 21h0m2-17h0m5 8h0m0-3h0m6 6h0m-95 55h0m0 6h0m2 0h0m2-6h0m0 0h0m10 9h0m3 6h0m10 3h0m8-18h0m7-6h0m1 5h0m32 9h0m6-5h0m2 4h0m3-2h0m3 34h0m6 4h0m10-9h0"/><path stroke="#00B813" d="M1898 2398h0m17-8h0m5 5h0m5-8h0m5 6h0m9-7h0m9 14h0m8-24h0m4 24h0m2-3h0m8-7h0m4-15h0m5 6h0m8-14h0m9 26h0m1-20h0m3 5h0m2-9h0m4 17h0m2-1h0m2 4h0m8 7h0m2-7h0m1-5h0m1-10h0m0 22h0m1-6h0m2-12h0m4 4h0m3-7h0m4 16h0m3-1h0m0-12h0m0 13h0m1-25h0m2 30h0m0-19h0m3 4h0m7 14h0m1-8h0m9-14h0m0 24h0m0-9h0m7-8h0m3 14h0m0-17h0m6 15h0m-175 12h0m5 33h0m2 12h0m5-37h0m1 23h0m5 40h0m4-36h0m1 40h0m1-55h0m2 21h0m1 14h0m1-40h0m0-1h0m1 57h0m2-69h0m4 15h0m1 54h0m3-74h0m1 5h0m0 63h0m1-61h0m1 37h0m1-12h0m1-14h0m2-15h0m1 15h0m2 22h0m0 8h0m2 10h0m1-36h0m0 31h0m1 7h0m1 6h0m0-20h0m1-30h0m2 37h0m2-31h0m1-3h0m6-18h0m0 71h0m2-46h0m4-7h0m1-18h0m1 44h0m1 31h0m2-60h0m1 23h0m0-16h0m1 5h0m0 36h0m3-50h0m0 63h0m3-24h0m1-1h0m1 16h0m1-63h0m1 1h0m2-4h0m3 69h0m7-57h0m1 52h0m1-43h0m1-12h0m1 42h0m1 12h0m1 8h0m4-17h0m2 14h0m6-28h0m0 5h0m1-11h0m1 32h0m5-15h0m11-35h0m0 27h0m2-13h0m0-1h0m1 22h0m2-38h0m0 45h0m5-32h0m1 14h0m1-23h0m1 30h0m0-21h0m1 8h0m1 15h0m2-29h0m8 2h0m12-25h0m17 28h0m-189 56h0m2 32h0m5-30h0m4 34h0m2-4h0m5-1h0m3 2h0m3-35h0m1 34h0m1-33h0m1 7h0m3 12h0m1 17h0m1 36h0m0-21h0m1 20h0m16-53h0m2 21h0m0 10h0m4 7h0m4-20h0m1-16h0m3 33h0m0-13h0m1 23h0m1-4h0m4 18h0m2-51h0m1 15h0m2-43h0m1 9h0m3 2h0m1-11h0m0 15h0m1 25h0m1-13h0m2 26h0m5-47h0m0 12h0m0 58h0m1-53h0m1 37h0m1-48h0m3 0h0m2 9h0m6-3h0m0 8h0m1-4h0m7 45h0m0-40h0m0 4h0m2 32h0m4-64h0m4 1h0m1 1h0m0 16h0m2 39h0m0 7h0m0-31h0m4 15h0m0 0h0m2-15h0m2-16h0m1 30h0m4-45h0m3 51h0m1-52h0m1 40h0m4 1h0m0-21h0m1 5h0m1-6h0m1 5h0m1 16h0m0 2h0m10 8h0m-117 39h0m3-6h0m11 9h0m7-7h0m3 0h0m3 24h0m1 27h0m4-9h0m0-42h0m0-1h0m2 19h0m2-15h0m4 9h0m2 40h0m1-30h0m1-4h0m1-2h0m2 0h0m0 27h0m2 16h0m0 1h0m3-24h0m1-10h0m6-4h0m0-28h0m7 48h0m6-41h0m5 7h0m16-11h0"/><path stroke="#00BD61" d="M2345 2157h0m25 1h0m-119 37h0m5-1h0m2 41h0m0-16h0m2-40h0m1 50h0m2-9h0m9-29h0m1 27h0m1-46h0m3 65h0m1-29h0m0 24h0m1-42h0m3 20h0m0 12h0m4-11h0m1-38h0m1 24h0m4 23h0m1-8h0m1-45h0m0 22h0m2-12h0m0 63h0m9-20h0m2 2h0m0-2h0m2 8h0m0-51h0m3 23h0m1-3h0m2 25h0m0-5h0m0-45h0m1 0h0m2 65h0m0-17h0m0-37h0m5-9h0m1 56h0m1-37h0m2-7h0m8 53h0m11-58h0m1 9h0m0-1h0m2 42h0m3-26h0m1-21h0m0 31h0m3-39h0m0-7h0m0 41h0m1-11h0m0-9h0m6 14h0m4-27h0m1 56h0m2 2h0m1-37h0m2-27h0m0-1h0m1 66h0m4-13h0m4-61h0m1 55h0m2-2h0m1-14h0m0-21h0m0-14h0m1 45h0m1-14h0m1 7h0m5 12h0m-153 69h0m5-25h0m2 22h0m1-6h0m1-19h0m1 46h0m2-55h0m8 47h0m9 12h0m1-24h0m2-21h0m4-2h0m5 6h0m13-5h0m3 35h0m1-24h0m0 11h0m10 23h0m0-13h0m2-34h0m0-9h0m1 59h0m0-68h0m3 38h0m1-22h0m4 62h0m1-77h0m1 36h0m3-4h0m2-13h0m1 6h0m1-20h0m0 0h0m1 55h0m2-15h0m0-16h0m1-13h0m0 42h0m3-52h0m1 8h0m1 52h0m0-47h0m4-13h0m5 9h0m8 0h0m2 37h0m1-49h0m0 13h0m3-8h0m2 50h0m2-16h0m2-39h0m0 60h0m1-62h0m0 17h0m0 14h0m0-29h0m4 58h0m2-49h0m1-12h0m2 50h0m0-9h0m3-22h0m3 10h0m2-10h0m6-16h0m-85 87h0m49-10h0m19-2h0"/><path stroke="#BC9D00" d="M2194 2074h0m2 5h0m39-8h0m13 4h0m14-1h0m11 6h0m1 0h0m1-4h0m1-4h0m10-3h0m0-3h0m5 13h0m1 1h0m4-14h0m5 11h0m5-38h0m3 28h0m6-11h0m5-1h0m7-2h0m1 14h0m3-16h0m3-3h0m2 8h0m5 6h0m-182 68h0m8-4h0m7-43h0m4 14h0m0 34h0m0-32h0m5 16h0m0 22h0m0-22h0m1-15h0m0 3h0m3 24h0m2-12h0m0-23h0m9 31h0m2-28h0m2 1h0m3 17h0m0-12h0m1 46h0m1-52h0m4 43h0m0-40h0m0 26h0m1 15h0m0-22h0m6-26h0m2 49h0m0 0h0m1 5h0m4 0h0m3-22h0m2 13h0m1-45h0m3 36h0m1 4h0m0-37h0m2 10h0m0 18h0m2 22h0m1 3h0m0 0h0m0-35h0m1 18h0m0-44h0m4 50h0m0-17h0m1-12h0m0 4h0m0 15h0m3-34h0m1 8h0m0-3h0m3 52h0m0 9h0m0-24h0m3-53h0m0 78h0m1-18h0m2-46h0m2 26h0m0 30h0m1-30h0m0 1h0m1 15h0m0-16h0m1-27h0m0 13h0m3 37h0m1-30h0m0-9h0m4 48h0m1-3h0m2-16h0m3 6h0m0-22h0m1 9h0m0 16h0m1-11h0m1 14h0m0-12h0m5 14h0m4 8h0m1-49h0m2-12h0m0 3h0m0 47h0m0-6h0m0-57h0m1 69h0m0 0h0m0-49h0m1 43h0m0-9h0m0 8h0m1-8h0m1-43h0m2 52h0m0-20h0m1 10h0m2-50h0m2 15h0m0 53h0m2-20h0m0-8h0m1-29h0m0 25h0m1-33h0m1 56h0m0-16h0m0-15h0m3-5h0m1 40h0m2-29h0m0-10h0m1-4h0m1-20h0m0 50h0m3-19h0m1-3h0m1 8h0m1 21h0m0-35h0m0-11h0m1 29h0m3-36h0m0 5h0m0 11h0m1 50h0m3-57h0m1 20h0m1 22h0m9-33h0m0 52h0m3-59h0m1 45h0m0 11h0m0-22h0m3-35h0m2 22h0m1-7h0m1 30h0m1-12h0m4 18h0m9-16h0m1 7h0m-152 22h0m6-3h0m35 17h0m13-6h0m28 1h0m23 0h0m8-3h0"/><path stroke="#00C0B4" d="M2168 2617h0m28-8h0m0 22h0m6-39h0m4 2h0m1 41h0m14-49h0m3 51h0m1-47h0m7 11h0m2 30h0m1-41h0m3 24h0m4-11h0m5-17h0m1 27h0m2 27h0m3-15h0m2-23h0m1 2h0m4 11h0m8 7h0m0-31h0m5 35h0m6 10h0m3 3h0m1-6h0m2-34h0m7 15h0m9 24h0m6-23h0m7 15h0m-97 21h0m4-6h0m5-1h0m13-3h0m10-1h0m1 29h0m3-3h0m0-16h0m3 17h0m1-12h0m3-14h0m1 10h0m10 5h0m6 6h0"/><path stroke="#7F96FF" d="M2316 1996h0m1-4h0m3 4h0m4 4h0m-159 64h0m1-10h0m4 1h0m4 5h0m14 6h0m1 8h0m0-6h0m2-13h0m2-4h0m8-10h0m1 6h0m4 11h0m1 16h0m3-14h0m3-25h0m1 25h0m1-20h0m0 11h0m0 10h0m1-2h0m1-6h0m4-12h0m3 22h0m4 5h0m1-26h0m1-20h0m4 38h0m1-19h0m0 9h0m3 15h0m8-24h0m1 8h0m6-3h0m0-26h0m1 5h0m1 18h0m1 0h0m0 15h0m1-51h0m7 40h0m1-13h0m1 20h0m0-27h0m1 0h0m5-16h0m0 48h0m1-21h0m3-2h0m1 4h0m0 18h0m0-52h0m2 22h0m0 16h0m5 15h0m1-32h0m4-18h0m0 0h0m1 27h0m8 9h0m1-44h0m3 5h0m2 27h0m4 11h0m0-36h0m1 9h0m2 15h0m2-29h0m1 11h0m1 7h0m0-18h0m1 17h0m1 20h0m2 0h0m0-4h0m3-5h0m0-21h0m2 25h0m2-23h0m1 11h0m0-23h0m1 33h0m2-6h0m3 3h0m-120 58h0m44 610h0m2 10h0m6 8h0m-31 5h0"/><path stroke="#F863DF" d="M2659 2315h0m4 4h0m7-11h0m3 3h0m5 3h0m22 5h0m1 0h0m9 0h0m-90 48h0m9-13h0m1 1h0m10-6h0m1-16h0m6-3h0m1 14h0m1-2h0m1 10h0m2-28h0m0 25h0m2-17h0m6-7h0m2 14h0m1-9h0m6 7h0m9-10h0m5-2h0m8 2h0m8 12h0m3 8h0m3-11h0m1-12h0m0 7h0"/><path stroke="#FF62BF" d="M2117 2311h0m6 64h0m6-30h0m12 4h0m1 8h0m3-30h0m1 10h0m1-3h0m1 31h0m1-15h0m16-14h0m4 16h0m0-7h0m1-10h0m2 30h0m10-23h0m6-12h0m12 9h0"/><path stroke="#00B5EE" d="M2100 2304h0m7 16h0m12-14h0m7-7h0m45 4h0m19-4h0m2-16h0m7 11h0m1 14h0m3-1h0m2 8h0m8-30h0m5 11h0m2-3h0m2 24h0m17 0h0m4-20h0m3 20h0m3-3h0m23 1h0m2-2h0m35-9h0m-232 54h0m3 9h0m3 14h0m0-18h0m4 14h0m1 11h0m0-23h0m3 19h0m4-44h0m8 59h0m1-58h0m5 28h0m6 29h0m1-32h0m2 4h0m11-2h0m2-16h0m6 20h0m5 4h0m0 14h0m13-7h0m2-17h0m2-5h0m2 21h0m5 12h0m3-4h0m3-51h0m7 36h0m3-9h0m3 17h0m0-3h0m2-33h0m2 2h0m5-27h0m2 0h0m1 0h0m2 77h0m1-45h0m1-21h0m1 45h0m1-57h0m0 35h0m1-22h0m2 8h0m4-11h0m0 57h0m1-39h0m0-18h0m2 14h0m4 7h0m4 5h0m5 28h0m5 11h0m2-14h0m2 9h0m7-40h0m2 2h0m2-9h0m1 34h0m2-37h0m5-13h0m1-1h0m2 43h0m3-17h0m2 24h0m1-9h0m1 28h0m0-14h0m3-38h0m5 32h0m1-24h0m5 41h0m1-56h0m0 3h0m0 45h0m1-59h0m1 72h0m7-54h0m5-21h0m1 34h0m1-9h0m4-20h0m9 30h0m-234 50h0m4 16h0m0-1h0m3-5h0m0 17h0m1-20h0m0 17h0m5-31h0m0 12h0m12-8h0m1 8h0m2 26h0m1-16h0m7-15h0m2 17h0m0-1h0m1-18h0m10 30h0m3-13h0m12-14h0m4 4h0m5 4h0m10-10h0m0-1h0m0 14h0m4 5h0m15 0h0m2 12h0m2-17h0m3-11h0m19 11h0m9-7h0m1 9h0m8-13h0m1 20h0m8-7h0m4 1h0m14-13h0m3-6h0m3 20h0m2-21h0m15 10h0m6 13h0m4 19h0m3-8h0m2-25h0m6-3h0m1-7h0m1 0h0m13 5h0"/><path stroke="#00A7FF" d="M2406 2472h0m2-8h0m23-14h0m15 3h0m4 10h0m4 12h0m7-33h0m1 16h0m2-6h0m2 15h0m1 10h0m4-36h0m3 15h0m5 3h0m1-3h0m0 5h0m5 5h0m4 12h0m-125 73h0m1-19h0m2 17h0m9-9h0m1-17h0m12-13h0m2-25h0m5 28h0m5-6h0m0 40h0m3-36h0m0 25h0m7 11h0m3-57h0m1 29h0m0 19h0m2 17h0m0-73h0m2 37h0m1-31h0m1 0h0m3 24h0m1 47h0m3-36h0m2-28h0m1-9h0m0 13h0m2 32h0m4-12h0m2 13h0m1-2h0m1-22h0m3 33h0m1-55h0m2 15h0m2 38h0m1-18h0m1 22h0m3-38h0m1 48h0m0-29h0m8-32h0m2 5h0m2 31h0m0-40h0m6 41h0m1-5h0m1 26h0m1-38h0m3-27h0m2 23h0m1-6h0m6 33h0m1-44h0m1 28h0m7-15h0m1 12h0m-130 48h0m65 11h0m8-9h0m1 0h0m8 7h0m3 7h0m1-3h0m21-13h0m1 24h0m1-20h0m1-7h0m1 0h0"/><path stroke="#00B813" d="M1901 2387h0m5-1h0m16 7h0m3-17h0m10 17h0m4-3h0m10 2h0m1 8h0m4-10h0m6 7h0m8 2h0m1-5h0m3-7h0m1-26h0m7 30h0m1-23h0m2 18h0m27-13h0m7-7h0m7 13h0m5 15h0m8-6h0m1 9h0m1-19h0m5-11h0m6 29h0m5 0h0m0-39h0m3 16h0m8 14h0m5-9h0m-180 48h0m2 8h0m11 16h0m3-24h0m1 14h0m1 33h0m1-7h0m4-13h0m1-15h0m1 5h0m0-28h0m3-6h0m0 43h0m4 20h0m1-17h0m0 12h0m4-2h0m0-30h0m0-21h0m1 7h0m2-7h0m5 22h0m2-4h0m1 19h0m0-1h0m0-27h0m3 12h0m0 24h0m4-41h0m1-14h0m1 39h0m1 32h0m1-19h0m1 17h0m0-36h0m1 39h0m6-76h0m1 53h0m0 18h0m1-56h0m1 46h0m3 2h0m0-62h0m1 69h0m0-2h0m1-16h0m1-30h0m3 11h0m2-12h0m6-13h0m2 35h0m2 33h0m2-26h0m2-38h0m2 66h0m3-43h0m1 31h0m0-31h0m0-9h0m0-24h0m1 52h0m1 3h0m0 18h0m1-26h0m0-20h0m1 42h0m1-15h0m3 17h0m1-62h0m4-3h0m1 53h0m1-56h0m5 44h0m9-26h0m2-16h0m0 63h0m1 3h0m2-2h0m2 8h0m1-55h0m0 52h0m1-28h0m4-15h0m1 20h0m3-40h0m1 28h0m0-4h0m1-2h0m2 24h0m1-34h0m0 43h0m1-37h0m2-22h0m2 67h0m0-11h0m0-13h0m2 19h0m0-49h0m1 45h0m2 9h0m4-14h0m5-44h0m1-2h0m1-4h0m9 5h0m-184 74h0m26 38h0m0-16h0m0-19h0m1 33h0m5 6h0m7-24h0m3 26h0m0-37h0m5 51h0m2-48h0m2 37h0m1-12h0m2-39h0m1 58h0m3 2h0m0-66h0m1 75h0m2-46h0m1 2h0m2-28h0m2 16h0m0-8h0m0 59h0m6-14h0m1-3h0m1-24h0m1 39h0m1-18h0m3 24h0m1-35h0m1 10h0m1 3h0m3-32h0m2 4h0m3-22h0m2 37h0m4 21h0m1-30h0m1 40h0m4-19h0m2-32h0m3 29h0m1-14h0m1-3h0m4 15h0m4-11h0m0 9h0m1-44h0m3 10h0m2-5h0m0 49h0m1-28h0m1 12h0m1 37h0m7-5h0m4-61h0m1 39h0m7-18h0m1 36h0m4-59h0m0-5h0m4 25h0m2 25h0m0 3h0m2-35h0m6-8h0m2 22h0m5 6h0m8-21h0m-117 63h0m3-3h0m6 7h0m2-1h0m11 26h0m1-24h0m5 16h0m1 22h0m4-16h0m0-21h0m1 50h0m5-4h0m0-55h0m1 52h0m0 13h0m1-20h0m5-23h0m1-12h0m0 19h0m2 15h0m0-9h0m0 2h0m1-12h0m1-12h0m3 28h0m2-33h0m16 8h0"/><path stroke="#F863DF" d="M2637 2320h0m3-1h0m18 1h0m3-6h0m4 0h0m11 2h0m7-4h0m12 2h0m5 1h0m1 4h0m-72 37h0m1 2h0m3-7h0m8-26h0m0 9h0m1 15h0m1-3h0m1 1h0m0-18h0m2 13h0m4 14h0m0-14h0m2 7h0m14-13h0m6-5h0m3 10h0m4 5h0m0-13h0m2-1h0m2-11h0m2 6h0m6 23h0m4-16h0m1 8h0m15-7h0m2 4h0m1-19h0"/><path stroke="#00C08E" d="M2032 2558h0m20-28h0m6 26h0m0-8h0m8 5h0m10-33h0m0 29h0m1 8h0m1-6h0m8-2h0m8-13h0m21 22h0m0-11h0m7 5h0m25 8h0m11-1h0m13 0h0m-171 29h0m5 39h0m5-8h0m8 2h0m1-12h0m0-3h0m1-31h0m3 10h0m4 31h0m3-14h0m1 4h0m3 16h0m1-32h0m0-12h0m2 24h0m6-29h0m2 13h0m4 33h0m1-6h0m0-36h0m1 32h0m1-10h0m3 34h0m1-19h0m1-52h0m2 6h0m0 43h0m2-13h0m1 24h0m1 8h0m2-14h0m3-51h0m1-3h0m0 23h0m0 54h0m1-51h0m3 19h0m2 5h0m2-15h0m0-2h0m0-15h0m1 49h0m1-9h0m6-15h0m1-29h0m1 49h0m0-28h0m1 19h0m1 6h0m0-42h0m0-13h0m0 45h0m3 10h0m4-19h0m3 31h0m5-9h0m2-44h0m3 23h0m2 27h0m0-18h0m2 18h0m2 1h0m1-7h0m3-26h0m0 34h0m4-57h0m1 56h0m2-30h0m0-1h0m1-19h0m0-2h0m1 18h0m0 12h0m1-24h0m3 17h0m0 2h0m2-40h0m1 14h0m4 59h0m0-24h0m0 21h0m0-3h0m1-4h0m0-4h0m2-19h0m4-23h0m2 47h0m1 10h0m1-40h0m0-29h0m1-6h0m0 9h0m3 34h0m2 31h0m3-33h0m1 13h0m0 15h0m3-3h0m0 6h0m6-54h0m0-21h0m3 24h0m3 30h0m0 10h0m2-24h0m2-39h0m0 74h0m2-30h0m5 32h0m0-70h0m6 35h0m2 36h0m0-60h0m15 18h0m3-11h0m5 47h0m2 1h0m2-35h0m-110 49h0m1-4h0m50-2h0m33 7h0m7-4h0"/><path stroke="#BC9D00" d="M2183 2076h0m20-2h0m25-2h0m3 2h0m7-6h0m2 0h0m11 9h0m5-7h0m8-13h0m1 14h0m2 0h0m3 6h0m2 2h0m5-18h0m4 0h0m3 18h0m4-18h0m3 15h0m11-20h0m6-1h0m0 1h0m8-6h0m14 26h0m2 1h0m2-18h0m1 7h0m1-3h0m1 3h0m5 0h0m4 12h0m0 1h0m-181 55h0m2 5h0m0-18h0m8 11h0m6-36h0m4-9h0m4 9h0m1 54h0m3-35h0m1 12h0m1-29h0m0 32h0m2-20h0m0-14h0m2 33h0m2-10h0m3-18h0m1 16h0m6 14h0m1-4h0m0-19h0m2 21h0m2-22h0m1 14h0m0 12h0m0-37h0m3 1h0m3 39h0m1-34h0m1 34h0m0-33h0m1-7h0m5-9h0m0 2h0m0 2h0m2 27h0m0 35h0m1-15h0m4-23h0m0 44h0m0-3h0m0-59h0m2 55h0m1-42h0m1 35h0m1-11h0m1-29h0m3 36h0m0-30h0m2 46h0m1-75h0m0 41h0m1-16h0m2 51h0m1-49h0m0-5h0m2 41h0m0-39h0m2 21h0m2-44h0m1 10h0m3 47h0m4-47h0m0 22h0m0-33h0m1 64h0m1-48h0m2-7h0m0 36h0m1 16h0m3 12h0m1-64h0m1 50h0m1-32h0m2 37h0m2-27h0m1 1h0m2 14h0m2 22h0m1-61h0m0 24h0m4-30h0m0 57h0m1-12h0m1 22h0m2-12h0m0-26h0m0 30h0m1-66h0m1 55h0m1-27h0m1-30h0m1 69h0m2 5h0m1 0h0m1-26h0m0 16h0m0-53h0m1 16h0m1 5h0m0-17h0m1 23h0m0 31h0m0-59h0m1 56h0m0-36h0m0 38h0m0-3h0m2-35h0m2 3h0m0-23h0m2 67h0m1-30h0m1 16h0m1-27h0m2 27h0m2-20h0m1-14h0m1 38h0m1-55h0m0 48h0m1-31h0m1 13h0m2-11h0m0-22h0m1 58h0m0-56h0m4 34h0m2 9h0m0-21h0m1 38h0m2-48h0m1-21h0m3 27h0m1-24h0m0 5h0m4 49h0m2-13h0m2 27h0m0-43h0m4 20h0m1 18h0m11 9h0m6-10h0m-114 21h0m1-7h0m14 7h0m13-4h0m18-1h0m7-1h0m3-1h0m10 8h0m2-5h0m11 5h0m5-7h0m1 7h0m4-6h0"/><path stroke="#F8766D" d="M2147 2153h0m30 5h0m3-4h0m18 1h0m1-13h0m-147 91h0m14 0h0m13-12h0m2 3h0m3 0h0m16 9h0m1-12h0m4-2h0m31 4h0m2-38h0m4 52h0m0-35h0m5-8h0m4 2h0m1-8h0m4 22h0m1 28h0m1-46h0m5 2h0m6 8h0m4 7h0m15-20h0m3 17h0m1 12h0m5-27h0m2-11h0m1 7h0m2-14h0m3 7h0m1 48h0m4-13h0m5-54h0m2 78h0m1-23h0m2-17h0m0-24h0m1 1h0m1 63h0m2-60h0m0 41h0m7-6h0m3-37h0m1 56h0m1-9h0m3-12h0m4-11h0m6-3h0m5 14h0m12 7h0m-289 82h0m10-5h0m2 7h0m1 14h0m1-23h0m3 0h0m1 21h0m2-6h0m0-9h0m8 8h0m5-17h0m4-1h0m8-21h0m0 12h0m2-18h0m1 0h0m4 33h0m1 2h0m2 11h0m2-6h0m2 6h0m2-39h0m6-24h0m3 67h0m1-49h0m4 34h0m3-47h0m1 11h0m3-4h0m4-8h0m3 15h0m1 9h0m0 5h0m9-19h0m0 38h0m0 11h0m3-45h0m1-8h0m0-14h0m6 54h0m0 2h0m3-4h0m7-42h0m0-3h0m1 19h0m1-3h0m6-5h0m2 40h0m2-32h0m1 37h0m1-54h0m1 53h0m9-36h0m4 24h0m3 0h0m5 10h0m3 0h0m0-5h0m3-43h0m3 8h0m2-18h0m4 14h0m8 32h0m7-39h0m4 57h0m3-22h0m4-7h0m4 0h0m2-26h0m4 32h0m3-35h0m13 1h0m1 48h0m3-37h0m0-7h0m5 41h0m0-44h0m4 15h0m0 11h0m1-7h0m1-15h0m2 25h0m1-27h0m2 5h0m6-12h0m3 15h0m10 15h0m4-3h0m6 3h0m1-21h0m2-6h0m6 37h0m5-10h0m-285 56h0m3 11h0m2 6h0m5-5h0m2-3h0m3 12h0m14-15h0m4 14h0m0 4h0m2-10h0m15-9h0m3-18h0m1 13h0m2 18h0m6-2h0m0 17h0m0-30h0m7 17h0m6 3h0m0-3h0m1-28h0m1-3h0m17 16h0m8-9h0m0-5h0m2 14h0m2 12h0m16-15h0m19-7h0m16 2h0"/><path stroke="#D69100" d="M1990 2626h0m17 10h0m1-2h0m6 5h0m20 0h0m47-1h0m11-3h0m64-4h0m-158 24h0m2-8h0m5 14h0m12 2h0m0 13h0m2 8h0m2-1h0m3-40h0m0 3h0m1 3h0m3-8h0m4 30h0m5-11h0m2 2h0m1-16h0m0 41h0m1-15h0m0 25h0m0-40h0m6-10h0m1 48h0m6-46h0m2 11h0m6 23h0m3 7h0m3-37h0m1 63h0m0-47h0m1 34h0m1 8h0m0-41h0m3 34h0m2-39h0m0-21h0m2 14h0m1 11h0m1 12h0m1 24h0m0-46h0m1 48h0m1-11h0m1 22h0m2-49h0m1-12h0m0 19h0m1 5h0m0-21h0m1 40h0m2-8h0m1-10h0m1 12h0m1-38h0m3 19h0m2-1h0m1 32h0m0-25h0m0 3h0m0 4h0m1-27h0m3 58h0m1-59h0m1 59h0m1-63h0m0 7h0m2 45h0m3-18h0m1-12h0m4-12h0m1 11h0m0-1h0m1-21h0m1 51h0m3 6h0m0-25h0m1-4h0m1-15h0m1 25h0m3-36h0m1 42h0m0-40h0m3-7h0m2 23h0m5 11h0m0 31h0m5-1h0m3-67h0m1 59h0m1-25h0m1-18h0m1 0h0m1 7h0m2 28h0m0-8h0m2 6h0m2-24h0m2 3h0m2-8h0m1-5h0m1 3h0m0 50h0m5-19h0m0 19h0m0-3h0m5-69h0m0 39h0m0 34h0m2-47h0m0 34h0m2-49h0m1 2h0m6 8h0m3-1h0m0 42h0m1-30h0m1 18h0m1-46h0m4 58h0m5-3h0m1-13h0m1-37h0m1 42h0m2-25h0m3 46h0m5-52h0m0 34h0m3-22h0m0 40h0m2-37h0m1-18h0m3 30h0m0-2h0m1 7h0m0-43h0m0 53h0m5-27h0m2 25h0m1-5h0m1-9h0m0 18h0m1-20h0m0 5h0m1-22h0m3 6h0m0 29h0m5-49h0m1 24h0m2-2h0m0 3h0m0-1h0m2-16h0m2 8h0m3 23h0m0 7h0m2-12h0m2-7h0m1 3h0m5-11h0m0 22h0m2-8h0m3-35h0m2 32h0m2 20h0m1-15h0m3-9h0m2 6h0m0 3h0m2 1h0m0-1h0m5 0h0m-212 40h0m16-3h0m0 12h0m2-13h0m1 14h0m9-7h0m1-13h0m5 18h0m2-7h0m0-11h0m1 1h0m0 9h0m2 10h0m0-4h0m8-8h0m3 3h0m3 10h0m2-19h0m7 2h0m18 2h0m1 9h0m1-13h0m2 12h0m2-11h0m4 9h0m13-5h0m15-6h0m28 2h0"/><path stroke="#7F96FF" d="M2295 2000h0m11-10h0m0 9h0m22-1h0m-145 78h0m2-31h0m5 9h0m3-15h0m0 31h0m6-20h0m4-10h0m1 5h0m4 17h0m0-26h0m5 3h0m2 10h0m1-5h0m3 12h0m4-29h0m1 0h0m2 26h0m0-2h0m3 2h0m1 8h0m1-21h0m2-9h0m1 17h0m2-22h0m1 11h0m0 18h0m2-16h0m2 3h0m0 9h0m2 1h0m1 3h0m1-31h0m8-5h0m5 52h0m1-50h0m1-6h0m1 2h0m0 44h0m2-21h0m0-23h0m1 0h0m2 29h0m2-9h0m2-19h0m0 7h0m2 5h0m2 1h0m1-14h0m1 11h0m1-26h0m1 44h0m0-6h0m1-9h0m0-25h0m3 32h0m0 1h0m6-5h0m3 28h0m0-32h0m6 20h0m0-43h0m0 2h0m2-8h0m3 2h0m1 21h0m0-4h0m6 5h0m3 19h0m1-22h0m5-9h0m4 5h0m0 18h0m1-8h0m2 23h0m1-27h0m8 3h0m2 8h0m3 15h0m-119 32h0m2 11h0m42 626h0m2-5h0"/><path stroke="#00BD61" d="M2370 2146h0m9 11h0m-139 73h0m8-26h0m11 2h0m2-1h0m1 10h0m0-32h0m2 26h0m3-31h0m3 33h0m2 6h0m1-25h0m0 43h0m4-24h0m3-19h0m1-2h0m1 19h0m1-43h0m3 41h0m1 29h0m1-24h0m5-4h0m0 19h0m2 7h0m2-2h0m10-31h0m2 33h0m6-48h0m1 40h0m2 7h0m0-15h0m0-46h0m8 41h0m2-32h0m2 50h0m4 2h0m0-36h0m3-18h0m2 16h0m2-30h0m3 2h0m2 48h0m1 17h0m0-58h0m4 23h0m1 6h0m1-12h0m3-1h0m0-23h0m1 51h0m4-24h0m6 22h0m5 4h0m3-27h0m1-15h0m1 9h0m1-7h0m0 51h0m0-41h0m2 42h0m2-3h0m4 6h0m11-8h0m-146 48h0m7-18h0m6 33h0m3-39h0m5-3h0m5 43h0m5-1h0m1-21h0m1-20h0m2 0h0m3-2h0m4 23h0m1 33h0m1 13h0m0-26h0m1-38h0m3 50h0m1-36h0m4 45h0m1 0h0m1-35h0m1 26h0m0-38h0m0-9h0m1 8h0m1 55h0m0-8h0m0-48h0m2 10h0m0 20h0m5-26h0m0 31h0m0 16h0m3-12h0m1-52h0m1 44h0m1-7h0m2 30h0m2-56h0m0 21h0m7-29h0m0 5h0m2 37h0m1-20h0m0-30h0m1 54h0m1-57h0m0 19h0m2 7h0m2-17h0m10-5h0m2 54h0m4-23h0m1-22h0m1 12h0m1 47h0m0-72h0m1 3h0m3 18h0m1 28h0m3 12h0m6 17h0m2-62h0m1 3h0m8 23h0m1 0h0m1-3h0m1-29h0m1-1h0m1-8h0m2 16h0"/><path stroke="#00BDD4" d="M1912 2318h0m31-10h0m10 10h0m1-3h0m6-11h0m4 11h0m5-4h0m-147 38h0m14 0h0m10 21h0m5-30h0m4 47h0m1-49h0m7-15h0m7 68h0m0-53h0m3 58h0m2-20h0m0 21h0m5-11h0m1-32h0m1 39h0m5-51h0m1 0h0m1 17h0m1 20h0m1 15h0m2-54h0m2 58h0m3-39h0m1 18h0m2-49h0m2 29h0m2 34h0m3 3h0m2 0h0m1-3h0m4-54h0m2 8h0m3 36h0m4-4h0m1-25h0m2-15h0m1 14h0m5-21h0m7 23h0m14-6h0m12 3h0m1-25h0m2 34h0m7-12h0m-125 56h0m10-3h0m1 8h0m3 11h0m7 18h0m2-10h0m1-25h0m1 49h0m3 16h0m0-62h0m2 44h0m0-17h0m3 5h0m7 32h0m4-8h0m2-10h0m1-8h0m31-29h0m-29 69h0"/><path stroke="#9CA700" d="M2132 2439h0m3 1h0m19 34h0m11-37h0m1 8h0m7 20h0m4-33h0m12 5h0m4-11h0m1-13h0m5 14h0m0-4h0m3 47h0m5 2h0m4-29h0m0-7h0m5 39h0m0-7h0m3-1h0m2-25h0m0 33h0m2-13h0m2 7h0m0-20h0m1 23h0m1-32h0m6 27h0m1 3h0m3 6h0m2-45h0m2 16h0m6 5h0m2-24h0m1 1h0m0 27h0m3 19h0m1-32h0m1 34h0m5-27h0m13-4h0m1-7h0m0 23h0m4-8h0m1 17h0m1-23h0m1 0h0m1 29h0m4-50h0m1 7h0m9 14h0m3-7h0m1 25h0m1-11h0m1 0h0m1-4h0m2 22h0m1-17h0m4-25h0m12 18h0m1 28h0m0-9h0m1-26h0m3 32h0m9-33h0m2 21h0m0 2h0m3-5h0m2-16h0m1 15h0m0 16h0m5-14h0m2-16h0m4 12h0m11 8h0m1 10h0m3 1h0m6-10h0m1-15h0m0 3h0m5 24h0m1-21h0m0 21h0m0-9h0m4 3h0m0-10h0m0 0h0m3 2h0m11-7h0m5 10h0m5 1h0m1-2h0m4-41h0m0 49h0m2-16h0m-243 27h0m21 11h0m1 4h0m10 13h0m2-9h0m0 9h0m0-15h0m3 7h0m0-8h0m1 9h0m2-12h0m8 19h0m3-18h0m2-9h0m4 3h0m3 25h0m2-26h0m4 3h0m3 29h0m5-37h0m1 7h0m4 14h0m7 14h0m9-37h0m3 10h0m4 20h0m4-13h0m3 15h0m1 9h0m4-16h0m2 29h0m14-53h0m1 35h0m1 0h0m2-25h0m1 21h0m0 22h0m1-22h0m1-26h0m4-1h0m2-2h0m3 44h0m0-12h0m3-4h0m0 12h0m1 25h0m2-58h0m10-4h0m4 8h0m0-3h0m3 18h0m4 42h0m1-38h0m1 4h0m2-13h0m1 3h0m2 36h0m2-27h0m4 6h0m1 10h0m1-29h0m2-20h0m0 47h0m0-6h0m7-22h0m1 9h0m1 11h0m6-9h0m29-14h0m-80 62h0m34 0h0"/><path stroke="#E9842C" d="M2386 2555h0m6-21h0m-80 83h0m2-8h0m2 26h0m9-2h0m1-10h0m8 13h0m0-56h0m1 32h0m6 22h0m0-52h0m2 8h0m1 24h0m1-1h0m1 24h0m0-12h0m2 4h0m3-4h0m5-32h0m0 5h0m0 40h0m1-19h0m3-48h0m1 51h0m1-19h0m1-15h0m1 25h0m1-34h0m1 31h0m1 15h0m1 3h0m3-38h0m2-11h0m0 11h0m3 36h0m1-39h0m2 11h0m0 8h0m0-17h0m1 46h0m3-32h0m2 9h0m0-28h0m1 1h0m1 48h0m3-53h0m1 57h0m1-67h0m2 6h0m0 51h0m1-29h0m0 28h0m2-38h0m0 41h0m1-33h0m0 4h0m3 38h0m0-21h0m0 18h0m1-66h0m4-2h0m0 48h0m2 17h0m1-34h0m4 29h0m1-11h0m2-22h0m2 40h0m3-44h0m1-19h0m4 68h0m0-31h0m2-2h0m0 16h0m0-28h0m2 13h0m0 12h0m2-40h0m3-6h0m8 23h0m0 14h0m6-10h0m1-1h0m1-16h0m1 15h0m1-33h0m8 11h0m-176 77h0m1 54h0m0-32h0m2-5h0m1-14h0m10 12h0m4-4h0m0 1h0m2 33h0m7-34h0m0-10h0m8 21h0m1-3h0m3 23h0m0-49h0m1 0h0m1 1h0m2 0h0m3 57h0m1-14h0m0 8h0m8-42h0m7 12h0m3 34h0m1-57h0m1 8h0m1 19h0m5 3h0m0-29h0m0 38h0m1-33h0m3 21h0m7-30h0m0 24h0m1-7h0m3 14h0m1-19h0m3 9h0m4-1h0m2 18h0m3-32h0m9 4h0m8-8h0m3 17h0m0-13h0m4 11h0m3-12h0m6 4h0"/><path stroke="#00C0B4" d="M2171 2627h0m5-24h0m4-1h0m17 31h0m1-47h0m15 2h0m3 44h0m7-5h0m1-47h0m3 13h0m0 19h0m2-3h0m0 18h0m5 12h0m3-22h0m1-6h0m4-37h0m2 55h0m0 6h0m10-16h0m0 9h0m2-15h0m0 6h0m3-12h0m2-19h0m1 22h0m2-20h0m1 28h0m3 4h0m2 13h0m1-8h0m1-23h0m4 25h0m1-24h0m0-3h0m1 15h0m11-12h0m10 3h0m0 24h0m4-16h0m13 12h0m1-16h0m-115 30h0m8 20h0m22-9h0m1 1h0m8-3h0m8-10h0m2 6h0m6-1h0m1 2h0m3 1h0m1 2h0m4-1h0m3 4h0m2-6h0m3-2h0"/><path stroke="#E26EF7" d="M2333 2317h0m23-2h0m5 5h0m14-6h0m-77 78h0m9-23h0m3-3h0m6 17h0m0-42h0m0 8h0m2 26h0m0-30h0m2 25h0m0-5h0m2-14h0m4-28h0m4 74h0m3-70h0m1 12h0m1 3h0m2 38h0m1-16h0m4-13h0m5 16h0m0 29h0m5-41h0m1-7h0m4 36h0m5-62h0m2 62h0m1-30h0m1 32h0m2-30h0m0 42h0m0-64h0m4 36h0m0 9h0m1-33h0m1-2h0m4 45h0m0-61h0m0 43h0m0 27h0m1-17h0m6-2h0m0-53h0m1 13h0m8 11h0m7-12h0m5 17h0m2-14h0m5 9h0m1 5h0m3 0h0m2-2h0m6-6h0m-146 60h0m2-6h0m25 11h0m3 11h0m0-15h0m7 7h0m23 1h0m7 9h0m2 23h0m2-47h0m1 42h0m5 10h0m3-43h0m4-1h0m3 1h0m20 22h0m10 14h0m15-3h0m13 2h0"/><path stroke="#BC81FF" d="M2061 2449h0m6-17h0m1 44h0m5-47h0m6 10h0m6-6h0m0 13h0m1-2h0m0-14h0m2 47h0m5-9h0m14-10h0m2 18h0m2-30h0m0 15h0m1 13h0m4-33h0m2 35h0m3-26h0m1 9h0m4 7h0m1 5h0m3-4h0m1-4h0m1-13h0m3 29h0m2-33h0m1-4h0m3 36h0m24 2h0m1-40h0m3 20h0m37 18h0m-148 2h0m2 65h0m0-16h0m5-37h0m11 16h0m1-3h0m1-12h0m2-12h0m2 12h0m3-11h0m0 31h0m0 37h0m0-31h0m3-25h0m4-2h0m1 24h0m1 9h0m0 19h0m0-1h0m8-7h0m1 16h0m0-18h0m2-2h0m0-19h0m0-7h0m3 8h0m2-29h0m2 12h0m5-17h0m2 15h0m0 29h0m1 24h0m0-52h0m3 63h0m0-65h0m0 43h0m1-26h0m4-22h0m0-9h0m1 37h0m1-1h0m2-32h0m1 66h0m0-37h0m5 7h0m0 13h0m3 15h0m2-35h0m6-33h0m1 8h0m1 52h0m2-45h0m0-11h0m0 29h0m0-21h0m1 15h0m1 19h0m0-20h0m2 15h0m0 4h0m1 13h0m1 0h0m0-16h0m1-23h0m1 31h0m9 3h0m2 17h0m0-62h0m1 51h0m0-53h0m1 4h0m0 3h0m3-7h0m2 0h0m24 7h0m-88 68h0m46 6h0"/><path stroke="#FF62BF" d="M2126 2344h0m4 8h0m3 8h0m1-32h0m4 34h0m3-29h0m1 20h0m4-6h0m3-2h0m4-11h0m1 4h0m0 14h0m2-3h0m10 5h0m3 0h0m1 4h0m3-19h0m5 34h0m1-19h0m4-4h0m2-26h0m8 2h0m3 21h0m6 4h0"/><path stroke="#6FB000" d="M2183 2529h0m12 30h0m1-19h0m1 12h0m2-5h0m0 8h0m2 0h0m4 4h0m2-56h0m3 34h0m3-19h0m4 25h0m1-6h0m2-22h0m4 24h0m2-25h0m4 26h0m6 0h0m3 15h0m6-19h0m1-18h0m3 5h0m1-10h0m1 10h0m11 21h0m4 16h0m0-17h0m1-24h0m1 35h0m0-3h0m1-5h0m6-2h0m2 8h0m4-16h0m0-26h0m1 47h0m1-4h0m9-24h0m0 26h0m1-11h0m2-10h0m1 9h0m1 9h0m3-28h0m0 20h0m3-36h0m12 25h0m4 11h0m2 11h0m4-3h0m0-15h0m2 1h0m4 22h0m2-5h0m30-4h0m8 3h0m-208 7h0m11 3h0m35 0h0m4 16h0m7-6h0m1-3h0m8 21h0m12-28h0m7 9h0m1 28h0m8-38h0m2 6h0m7 7h0m0 30h0m2-39h0m13 16h0m4-5h0m1 6h0m2-11h0m16-7h0m2-3h0m1 25h0m4-6h0m2-22h0m4 16h0m9 8h0m2-2h0m3-5h0m3-13h0m1-3h0m0 2h0"/><path stroke="#FF6A9A" d="M2273 2712h0m10-18h0m11 25h0m10-12h0m4-22h0m8 24h0m2-7h0m2-7h0m7 1h0"/></g><g font-size="31"><text x="1137.1" y="1029.2" text-anchor="middle">13</text><text x="1140.8" y="1068.0" text-anchor="middle">3</text><text x="1163.6" y="1138.0" text-anchor="middle">7</text><text x="1055.9" y="1142.9" text-anchor="middle">0</text><text x="1343.6" y="1174.2" text-anchor="middle">16</text><text x="1084.3" y="1181.2" text-anchor="middle">17</text><text x="946.0" y="1194.1" text-anchor="middle">10</text><text x="1107.6" y="1206.3" text-anchor="middle">11</text><text x="1178.4" y="1203.3" text-anchor="middle">15</text><text x="989.1" y="1256.8" text-anchor="middle">6</text><text x="1075.1" y="1256.8" text-anchor="middle">14</text><text x="1137.8" y="1256.1" text-anchor="middle">4</text><text x="1229.3" y="1270.8" text-anchor="middle">12</text><text x="1117.5" y="1286.3" text-anchor="middle">5</text><text x="1155.5" y="1302.2" text-anchor="middle">18</text><text x="1173.9" y="1313.3" text-anchor="middle">1</text><text x="1046.7" y="1317.0" text-anchor="middle">8</text><text x="1121.2" y="1318.8" text-anchor="middle">9</text><text x="1065.1" y="1355.0" text-anchor="middle">2</text></g>
<text x="0" y="668.5" font-size="42" font-weight="bold">c</text>
<rect x="404.5" y="656.7" width="544.1" height="166.9" fill="none" stroke="#555" stroke-width="1.5"/>
<line x1="399.5" y1="688" x2="404.5" y2="688" stroke="#555" stroke-width="1.5"/>
<text x="382" y="699.5" font-size="32" text-anchor="end">MAC_Tumor</text>
<line x1="399.5" y1="740.6" x2="404.5" y2="740.6" stroke="#555" stroke-width="1.5"/>
<text x="382" y="752.1" font-size="32" text-anchor="end">MAC_Late</text>
<line x1="399.5" y1="792.7" x2="404.5" y2="792.7" stroke="#555" stroke-width="1.5"/>
<text x="382" y="804.2" font-size="32" text-anchor="end">MAC_Early</text>
<circle cx="449.2" cy="688" r="17" fill="#e9604d"/>
<circle cx="524.9" cy="688" r="15.7" fill="#ee4d3b"/>
<circle cx="600.6" cy="688" r="16" fill="#f23e2b"/>
<circle cx="676.3" cy="688" r="19.4" fill="#ef5a48"/>
<circle cx="752" cy="688" r="24" fill="#fe180c"/>
<circle cx="827.7" cy="688" r="11.5" fill="#93a4cc"/>
<circle cx="903.4" cy="688" r="15.2" fill="#f04330"/>
<circle cx="449.2" cy="740.6" r="13.4" fill="#cd7e87"/>
<circle cx="524.9" cy="740.6" r="15.2" fill="#e36556"/>
<circle cx="600.6" cy="740.6" r="13.4" fill="#da7370"/>
<circle cx="676.3" cy="740.6" r="19.8" fill="#ee5240"/>
<circle cx="752" cy="740.6" r="24" fill="#ff0805"/>
<circle cx="827.7" cy="740.6" r="18.4" fill="#ad9bb4"/>
<circle cx="903.4" cy="740.6" r="13" fill="#d7726f"/>
<circle cx="449.2" cy="792.7" r="1.4" fill="#4fb5f0"/>
<circle cx="524.9" cy="792.7" r="11.5" fill="#b09ab3"/>
<circle cx="600.6" cy="792.7" r="7.8" fill="#8ca6d6"/>
<circle cx="676.3" cy="792.7" r="15.2" fill="#cb8088"/>
<circle cx="752" cy="792.7" r="21.2" fill="#f0503d"/>
<circle cx="827.7" cy="792.7" r="5" fill="#38b8f6"/>
<circle cx="903.4" cy="792.7" r="13" fill="#cc7c84"/>
<line x1="449.2" y1="823.6" x2="449.2" y2="828.6" stroke="#555" stroke-width="1.5"/>
<text x="465.2" y="856" font-size="31" text-anchor="end" font-style="italic" transform="rotate(-45 465.2 856)">Il1a</text>
<line x1="524.9" y1="823.6" x2="524.9" y2="828.6" stroke="#555" stroke-width="1.5"/>
<text x="540.9" y="856" font-size="31" text-anchor="end" font-style="italic" transform="rotate(-45 540.9 856)">Tnf</text>
<line x1="600.6" y1="823.6" x2="600.6" y2="828.6" stroke="#555" stroke-width="1.5"/>
<text x="616.6" y="856" font-size="31" text-anchor="end" font-style="italic" transform="rotate(-45 616.6 856)">Nlrp3</text>
<line x1="676.3" y1="823.6" x2="676.3" y2="828.6" stroke="#555" stroke-width="1.5"/>
<text x="692.3" y="856" font-size="31" text-anchor="end" font-style="italic" transform="rotate(-45 692.3 856)">Cxcl1</text>
<line x1="752" y1="823.6" x2="752" y2="828.6" stroke="#555" stroke-width="1.5"/>
<text x="768" y="856" font-size="31" text-anchor="end" font-style="italic" transform="rotate(-45 768 856)">Cxcl2</text>
<line x1="827.7" y1="823.6" x2="827.7" y2="828.6" stroke="#555" stroke-width="1.5"/>
<text x="843.7" y="856" font-size="31" text-anchor="end" font-style="italic" transform="rotate(-45 843.7 856)">Ccl8</text>
<line x1="903.4" y1="823.6" x2="903.4" y2="828.6" stroke="#555" stroke-width="1.5"/>
<text x="919.4" y="856" font-size="31" text-anchor="end" font-style="italic" transform="rotate(-45 919.4 856)">Mrc1</text>
<text x="983.5" y="693.2" font-size="20.4">ExprVal</text>
<circle cx="1007" cy="724.3" r="9.4" fill="#000"/>
<text x="1038" y="733.3" font-size="20">1</text>
<circle cx="1007" cy="760.3" r="14.2" fill="#000"/>
<text x="1038" y="770" font-size="20">2</text>
<circle cx="1007" cy="799.7" r="17.7" fill="#000"/>
<text x="1038" y="808" font-size="20">3</text>
<circle cx="1007" cy="847.4" r="20.5" fill="#000"/>
<text x="1038" y="854.4" font-size="20">4</text>
<text x="1118.4" y="695.3" font-size="20">Percent</text>
<defs><linearGradient id="gpc" x1="0" y1="0" x2="0" y2="1"><stop offset="0" stop-color="#ff0000"/><stop offset="0.5" stop-color="#d4767a"/><stop offset="0.75" stop-color="#9aa0d0"/><stop offset="1" stop-color="#22c0ff"/></linearGradient></defs>
<rect x="1118.7" y="708.1" width="31.5" height="156.9" fill="url(#gpc)"/>
<line x1="1144.2" y1="743" x2="1150.2" y2="743" stroke="#f4f4f4" stroke-width="1.2"/>
<line x1="1118.7" y1="743" x2="1124.7" y2="743" stroke="#f4f4f4" stroke-width="1.2"/>
<text x="1158.5" y="749.8" font-size="19">75</text>
<line x1="1144.2" y1="783.1" x2="1150.2" y2="783.1" stroke="#f4f4f4" stroke-width="1.2"/>
<line x1="1118.7" y1="783.1" x2="1124.7" y2="783.1" stroke="#f4f4f4" stroke-width="1.2"/>
<text x="1158.5" y="789.9" font-size="19">50</text>
<line x1="1144.2" y1="823" x2="1150.2" y2="823" stroke="#f4f4f4" stroke-width="1.2"/>
<line x1="1118.7" y1="823" x2="1124.7" y2="823" stroke="#f4f4f4" stroke-width="1.2"/>
<text x="1158.5" y="829.8" font-size="19">25</text>
<text x="1451" y="32" font-size="42" font-weight="bold">d</text>
<line x1="1511.6" y1="52.1" x2="1511.6" y2="151.4" stroke="#4d4d4d" stroke-width="1.3"/>
<line x1="1511.6" y1="151.4" x2="1759.8" y2="151.4" stroke="#4d4d4d" stroke-width="1.3"/>
<line x1="1508.6" y1="146.5" x2="1511.6" y2="146.5" stroke="#4d4d4d" stroke-width="1.2"/>
<text x="1502.6" y="154.7" font-size="21" text-anchor="end">0</text>
<line x1="1508.6" y1="122.1" x2="1511.6" y2="122.1" stroke="#4d4d4d" stroke-width="1.2"/>
<text x="1502.6" y="130.3" font-size="21" text-anchor="end">1</text>
<line x1="1508.6" y1="97.7" x2="1511.6" y2="97.7" stroke="#4d4d4d" stroke-width="1.2"/>
<text x="1502.6" y="105.9" font-size="21" text-anchor="end">2</text>
<line x1="1508.6" y1="73.3" x2="1511.6" y2="73.3" stroke="#4d4d4d" stroke-width="1.2"/>
<text x="1502.6" y="81.5" font-size="21" text-anchor="end">3</text>
<line x1="1579.1" y1="151.4" x2="1579.1" y2="154.4" stroke="#4d4d4d" stroke-width="1.2"/>
<line x1="1692" y1="151.4" x2="1692" y2="154.4" stroke="#4d4d4d" stroke-width="1.2"/>
<line x1="1794.3" y1="52.1" x2="1794.3" y2="151.7" stroke="#4d4d4d" stroke-width="1.3"/>
<line x1="1794.3" y1="151.7" x2="2045" y2="151.7" stroke="#4d4d4d" stroke-width="1.3"/>
<line x1="1791.3" y1="146.9" x2="1794.3" y2="146.9" stroke="#4d4d4d" stroke-width="1.2"/>
<text x="1785.3" y="155.1" font-size="21" text-anchor="end">0</text>
<line x1="1791.3" y1="116.3" x2="1794.3" y2="116.3" stroke="#4d4d4d" stroke-width="1.2"/>
<text x="1785.3" y="124.5" font-size="21" text-anchor="end">2</text>
<line x1="1791.3" y1="85.7" x2="1794.3" y2="85.7" stroke="#4d4d4d" stroke-width="1.2"/>
<text x="1785.3" y="93.9" font-size="21" text-anchor="end">4</text>
<line x1="1791.3" y1="55.1" x2="1794.3" y2="55.1" stroke="#4d4d4d" stroke-width="1.2"/>
<text x="1785.3" y="63.3" font-size="21" text-anchor="end">6</text>
<line x1="1862.3" y1="151.7" x2="1862.3" y2="154.7" stroke="#4d4d4d" stroke-width="1.2"/>
<line x1="1974.6" y1="151.7" x2="1974.6" y2="154.7" stroke="#4d4d4d" stroke-width="1.2"/>
<path d="M1528.5 146.5L1629.7 146.5C1626.4 146.1 1616.2 144.9 1610.1 144.1C1604 143.2 1597.4 142.4 1593.1 141.6C1588.8 140.8 1586.1 139.9 1584.1 139.2C1582.1 138.4 1581.7 138 1581.1 137.2C1580.5 136.4 1580.6 135.8 1580.7 134.3C1580.8 132.8 1581.3 130.2 1581.7 128.2C1582.1 126.2 1582.8 124.7 1583.3 122.1C1583.8 119.5 1584.4 115.6 1584.7 112.3C1585 109.1 1585.2 105.8 1585.1 102.6C1585 99.3 1584.5 95.7 1584.1 92.8C1583.7 90 1583 87.9 1582.5 85.5C1582 83.1 1581.6 80.2 1581.3 78.2C1581 76.1 1580.8 75.3 1580.5 73.3C1580.2 71.3 1579.9 68.8 1579.7 66C1579.5 63.1 1579.4 57.8 1579.4 56.2L1578.8 56.2C1578.8 57.8 1578.7 63.1 1578.5 66C1578.3 68.8 1578 71.3 1577.7 73.3C1577.4 75.3 1577.2 76.1 1576.9 78.2C1576.6 80.2 1576.2 83.1 1575.7 85.5C1575.2 87.9 1574.5 90 1574.1 92.8C1573.7 95.7 1573.2 99.3 1573.1 102.6C1573 105.8 1573.2 109.1 1573.5 112.3C1573.8 115.6 1574.4 119.5 1574.9 122.1C1575.4 124.7 1576.1 126.2 1576.5 128.2C1576.9 130.2 1577.4 132.8 1577.5 134.3C1577.6 135.8 1577.7 136.4 1577.1 137.2C1576.5 138 1576.1 138.4 1574.1 139.2C1572.1 139.9 1569.4 140.8 1565.1 141.6C1560.8 142.4 1554.2 143.2 1548.1 144.1C1542 144.9 1531.8 146.1 1528.5 146.5Z" fill="#00bfc4" stroke="#4d4d4d" stroke-width="1"/>
<rect x="1641.2" y="145.5" width="101.6" height="2" fill="#8c8c8c"/>
<line x1="1692" y1="146.5" x2="1692" y2="85.5" stroke="#555" stroke-width="1"/>
<path d="M1811.3 146.9L1913.3 146.9C1910.3 146.4 1901.1 145 1895.3 143.8C1889.5 142.6 1882.8 140.9 1878.3 139.7C1873.8 138.6 1870.5 137.8 1868.3 137C1866.1 136.1 1865.7 135.6 1865.1 134.7C1864.5 133.8 1864.5 133.4 1864.7 131.6C1864.9 129.8 1865.9 126.6 1866.5 124C1867.1 121.3 1867.8 118.7 1868.3 115.5C1868.8 112.4 1868.9 108 1869.8 105C1870.7 101.9 1871.2 99.6 1873.6 97.3C1876 95.1 1880.7 93.6 1884.2 91.4C1887.7 89.1 1892.7 86 1894.8 83.7C1896.9 81.4 1897.2 79.6 1897 77.7C1896.8 75.9 1896.4 74.1 1893.3 72.4C1890.2 70.7 1882.5 68.9 1878.3 67.3C1874.1 65.7 1870.6 64.2 1868.3 62.8C1866 61.3 1865.2 60 1864.3 58.9C1863.4 57.9 1863 56.8 1862.8 56.3L1861.8 56.3C1861.5 56.8 1861.2 57.9 1860.3 58.9C1859.4 60 1858.6 61.3 1856.3 62.8C1854 64.2 1850.5 65.7 1846.3 67.3C1842.1 68.9 1834.4 70.7 1831.3 72.4C1828.2 74.1 1827.8 75.9 1827.6 77.7C1827.3 79.6 1827.7 81.4 1829.8 83.7C1831.9 86 1836.9 89.1 1840.4 91.4C1843.9 93.6 1848.6 95.1 1851 97.3C1853.4 99.6 1853.9 101.9 1854.8 105C1855.7 108 1855.8 112.4 1856.3 115.5C1856.8 118.7 1857.5 121.3 1858.1 124C1858.7 126.6 1859.7 129.8 1859.9 131.6C1860.1 133.4 1860.1 133.8 1859.5 134.7C1858.9 135.6 1858.5 136.1 1856.3 137C1854.1 137.8 1850.8 138.6 1846.3 139.7C1841.8 140.9 1835.1 142.6 1829.3 143.8C1823.5 145 1814.3 146.4 1811.3 146.9Z" fill="#00bfc4" stroke="#4d4d4d" stroke-width="1"/>
<rect x="1924" y="145.9" width="101.2" height="2" fill="#8c8c8c"/>
<line x1="1974.6" y1="146.9" x2="1974.6" y2="93.3" stroke="#555" stroke-width="1"/>
<line x1="1511.6" y1="222.1" x2="1511.6" y2="321.4" stroke="#4d4d4d" stroke-width="1.3"/>
<line x1="1511.6" y1="321.4" x2="1759.8" y2="321.4" stroke="#4d4d4d" stroke-width="1.3"/>
<line x1="1508.6" y1="316.5" x2="1511.6" y2="316.5" stroke="#4d4d4d" stroke-width="1.2"/>
<text x="1502.6" y="324.7" font-size="21" text-anchor="end">0</text>
<line x1="1508.6" y1="289.2" x2="1511.6" y2="289.2" stroke="#4d4d4d" stroke-width="1.2"/>
<text x="1502.6" y="297.4" font-size="21" text-anchor="end">1</text>
<line x1="1508.6" y1="261.9" x2="1511.6" y2="261.9" stroke="#4d4d4d" stroke-width="1.2"/>
<text x="1502.6" y="270.1" font-size="21" text-anchor="end">2</text>
<line x1="1508.6" y1="234.6" x2="1511.6" y2="234.6" stroke="#4d4d4d" stroke-width="1.2"/>
<text x="1502.6" y="242.8" font-size="21" text-anchor="end">3</text>
<line x1="1579.1" y1="321.4" x2="1579.1" y2="324.4" stroke="#4d4d4d" stroke-width="1.2"/>
<line x1="1692" y1="321.4" x2="1692" y2="324.4" stroke="#4d4d4d" stroke-width="1.2"/>
<line x1="1794.3" y1="222.1" x2="1794.3" y2="321.4" stroke="#4d4d4d" stroke-width="1.3"/>
<line x1="1794.3" y1="321.4" x2="2045" y2="321.4" stroke="#4d4d4d" stroke-width="1.3"/>
<line x1="1791.3" y1="316.8" x2="1794.3" y2="316.8" stroke="#4d4d4d" stroke-width="1.2"/>
<text x="1785.3" y="325" font-size="21" text-anchor="end">0</text>
<line x1="1791.3" y1="292.6" x2="1794.3" y2="292.6" stroke="#4d4d4d" stroke-width="1.2"/>
<text x="1785.3" y="300.8" font-size="21" text-anchor="end">2</text>
<line x1="1791.3" y1="268.4" x2="1794.3" y2="268.4" stroke="#4d4d4d" stroke-width="1.2"/>
<text x="1785.3" y="276.6" font-size="21" text-anchor="end">4</text>
<line x1="1791.3" y1="244.3" x2="1794.3" y2="244.3" stroke="#4d4d4d" stroke-width="1.2"/>
<text x="1785.3" y="252.4" font-size="21" text-anchor="end">6</text>
<line x1="1862.3" y1="321.4" x2="1862.3" y2="324.4" stroke="#4d4d4d" stroke-width="1.2"/>
<line x1="1974.6" y1="321.4" x2="1974.6" y2="324.4" stroke="#4d4d4d" stroke-width="1.2"/>
<rect x="1528.5" y="315.5" width="101.2" height="2" fill="#8c8c8c"/>
<line x1="1579.1" y1="316.5" x2="1579.1" y2="231.9" stroke="#555" stroke-width="1"/>
<path d="M1641.2 316.5L1742.8 316.5C1741.3 315.7 1738.2 313.2 1734 311.6C1729.8 310 1722.9 308.5 1717.8 306.9C1712.7 305.4 1706.8 303.7 1703.3 302C1699.8 300.4 1698.4 298.8 1696.8 297.1C1695.2 295.5 1694.2 293.8 1693.9 292.2C1693.6 290.6 1693.9 289.4 1695.2 287.6C1696.5 285.7 1699.6 283.2 1701.7 281C1703.8 278.8 1706.3 277.1 1708 274.5C1709.7 271.8 1711.5 267.9 1711.7 264.9C1711.9 261.9 1710.7 259.4 1709 256.7C1707.3 254 1703.9 251.5 1701.7 248.8C1699.5 246.1 1697.3 243.3 1696 240.6C1694.7 237.9 1694.1 235.1 1693.6 232.7C1693.1 230.3 1692.9 227.5 1692.8 226.4L1691.2 226.4C1691.1 227.5 1690.9 230.3 1690.4 232.7C1689.9 235.1 1689.3 237.9 1688 240.6C1686.7 243.3 1684.5 246.1 1682.3 248.8C1680.1 251.5 1676.7 254 1675 256.7C1673.3 259.4 1672.1 261.9 1672.3 264.9C1672.5 267.9 1674.3 271.8 1676 274.5C1677.7 277.1 1680.2 278.8 1682.3 281C1684.4 283.2 1687.5 285.7 1688.8 287.6C1690.1 289.4 1690.4 290.6 1690.1 292.2C1689.8 293.8 1688.8 295.5 1687.2 297.1C1685.6 298.8 1684.2 300.4 1680.7 302C1677.2 303.7 1671.3 305.4 1666.2 306.9C1661.1 308.5 1654.2 310 1650 311.6C1645.8 313.2 1642.7 315.7 1641.2 316.5Z" fill="#f8766d" stroke="#4d4d4d" stroke-width="1"/>
<rect x="1811.4" y="315.8" width="101.8" height="2" fill="#8c8c8c"/>
<line x1="1862.3" y1="316.8" x2="1862.3" y2="261.2" stroke="#555" stroke-width="1"/>
<path d="M1966.3 316.8L1982.9 316.8C1982.5 316.4 1981.5 315.4 1980.6 314.3C1979.7 313.1 1978.5 311.2 1977.6 309.7C1976.7 308.2 1975.6 306.7 1975.2 305.2C1974.8 303.7 1975.2 302.1 1975.4 300.6C1975.5 299.1 1975.5 297.9 1976.1 296.1C1976.7 294.4 1978.1 292.4 1979.1 290.1C1980.1 287.8 1980.6 284.7 1982.1 282.5C1983.6 280.2 1985.9 278.5 1987.9 276.5C1989.9 274.5 1991.9 272.8 1993.9 270.5C1995.9 268.2 1997.5 264.9 2000 262.9C2002.5 260.9 2005.7 260.2 2009 258.4C2012.3 256.7 2016.8 254.6 2019.6 252.4C2022.4 250.1 2026.1 247 2025.6 244.7C2025.1 242.5 2021.1 240.7 2016.6 238.7C2012.1 236.7 2003.8 234.5 1998.5 232.7C1993.2 230.8 1987.6 228.5 1984.9 227.5C1982.2 226.4 1982.6 226.5 1982.1 226.4L1967.1 226.4C1966.6 226.5 1967 226.4 1964.3 227.5C1961.6 228.5 1956 230.8 1950.7 232.7C1945.4 234.5 1937.1 236.7 1932.6 238.7C1928.1 240.7 1924.1 242.5 1923.6 244.7C1923.1 247 1926.8 250.1 1929.6 252.4C1932.4 254.6 1936.9 256.7 1940.2 258.4C1943.5 260.2 1946.7 260.9 1949.2 262.9C1951.7 264.9 1953.3 268.2 1955.3 270.5C1957.3 272.8 1959.3 274.5 1961.3 276.5C1963.3 278.5 1965.6 280.2 1967.1 282.5C1968.6 284.7 1969.1 287.8 1970.1 290.1C1971.1 292.4 1972.5 294.4 1973.1 296.1C1973.7 297.9 1973.6 299.1 1973.8 300.6C1974 302.1 1974.4 303.7 1974 305.2C1973.6 306.7 1972.5 308.2 1971.6 309.7C1970.7 311.2 1969.5 313.1 1968.6 314.3C1967.7 315.4 1966.7 316.4 1966.3 316.8Z" fill="#f8766d" stroke="#4d4d4d" stroke-width="1"/>
<line x1="1511.6" y1="376.6" x2="1511.6" y2="456.2" stroke="#4d4d4d" stroke-width="1.3"/>
<line x1="1511.6" y1="456.2" x2="1759.8" y2="456.2" stroke="#4d4d4d" stroke-width="1.3"/>
<line x1="1508.6" y1="452.2" x2="1511.6" y2="452.2" stroke="#4d4d4d" stroke-width="1.2"/>
<text x="1502.6" y="460.4" font-size="21" text-anchor="end">0</text>
<line x1="1508.6" y1="433.3" x2="1511.6" y2="433.3" stroke="#4d4d4d" stroke-width="1.2"/>
<text x="1502.6" y="441.5" font-size="21" text-anchor="end">1</text>
<line x1="1508.6" y1="414.4" x2="1511.6" y2="414.4" stroke="#4d4d4d" stroke-width="1.2"/>
<text x="1502.6" y="422.6" font-size="21" text-anchor="end">2</text>
<line x1="1508.6" y1="395.5" x2="1511.6" y2="395.5" stroke="#4d4d4d" stroke-width="1.2"/>
<text x="1502.6" y="403.7" font-size="21" text-anchor="end">3</text>
<line x1="1508.6" y1="376.6" x2="1511.6" y2="376.6" stroke="#4d4d4d" stroke-width="1.2"/>
<text x="1502.6" y="384.8" font-size="21" text-anchor="end">4</text>
<line x1="1579.1" y1="456.2" x2="1579.1" y2="459.2" stroke="#4d4d4d" stroke-width="1.2"/>
<line x1="1692" y1="456.2" x2="1692" y2="459.2" stroke="#4d4d4d" stroke-width="1.2"/>
<line x1="1794.3" y1="376.3" x2="1794.3" y2="455.6" stroke="#4d4d4d" stroke-width="1.3"/>
<line x1="1794.3" y1="455.6" x2="2045" y2="455.6" stroke="#4d4d4d" stroke-width="1.3"/>
<line x1="1791.3" y1="452.1" x2="1794.3" y2="452.1" stroke="#4d4d4d" stroke-width="1.2"/>
<text x="1785.3" y="460.3" font-size="21" text-anchor="end">0</text>
<line x1="1791.3" y1="432" x2="1794.3" y2="432" stroke="#4d4d4d" stroke-width="1.2"/>
<text x="1785.3" y="440.2" font-size="21" text-anchor="end">1</text>
<line x1="1791.3" y1="411.9" x2="1794.3" y2="411.9" stroke="#4d4d4d" stroke-width="1.2"/>
<text x="1785.3" y="420.1" font-size="21" text-anchor="end">2</text>
<line x1="1791.3" y1="391.8" x2="1794.3" y2="391.8" stroke="#4d4d4d" stroke-width="1.2"/>
<text x="1785.3" y="400" font-size="21" text-anchor="end">3</text>
<line x1="1862.3" y1="455.6" x2="1862.3" y2="458.6" stroke="#4d4d4d" stroke-width="1.2"/>
<line x1="1974.6" y1="455.6" x2="1974.6" y2="458.6" stroke="#4d4d4d" stroke-width="1.2"/>
<rect x="1528.5" y="451.2" width="101.2" height="2" fill="#8c8c8c"/>
<line x1="1579.1" y1="452.2" x2="1579.1" y2="389.8" stroke="#555" stroke-width="1"/>
<path d="M1654.1 452.2L1729.9 452.2C1728.7 451.7 1726.1 450.3 1722.7 449C1719.3 447.6 1713.6 445.7 1709.8 444.1C1706 442.5 1702.3 441.1 1700 439.3C1697.7 437.6 1695.7 435.4 1696 433.7C1696.3 431.9 1698.3 430.5 1701.7 428.8C1705.1 427 1710.8 425.1 1716.2 423.1C1721.6 421.1 1729.6 419.3 1734 416.7C1738.4 414 1743.1 410 1742.8 407C1742.5 404.1 1736.2 401.3 1732.3 398.9C1728.4 396.5 1723.4 394.6 1719.4 392.5C1715.4 390.3 1711.4 388.1 1708.1 386.1C1704.8 384 1700.8 381 1699.3 380L1684.7 380C1683.2 381 1679.2 384 1675.9 386.1C1672.6 388.1 1668.6 390.3 1664.6 392.5C1660.6 394.6 1655.6 396.5 1651.7 398.9C1647.8 401.3 1641.5 404.1 1641.2 407C1640.9 410 1645.6 414 1650 416.7C1654.4 419.3 1662.4 421.1 1667.8 423.1C1673.2 425.1 1678.9 427 1682.3 428.8C1685.7 430.5 1687.7 431.9 1688 433.7C1688.3 435.4 1686.3 437.6 1684 439.3C1681.7 441.1 1678 442.5 1674.2 444.1C1670.4 445.7 1664.7 447.6 1661.3 449C1657.9 450.3 1655.3 451.7 1654.1 452.2Z" fill="#f8766d" stroke="#4d4d4d" stroke-width="1"/>
<rect x="1811.4" y="451.1" width="101.8" height="2" fill="#8c8c8c"/>
<line x1="1862.3" y1="452.1" x2="1862.3" y2="399.8" stroke="#555" stroke-width="1"/>
<path d="M1924 452.1L2025.2 452.1C2022 451.4 2011.7 449.5 2006 448.1C2000.3 446.6 1995.2 445 1990.9 443.5C1986.6 441.9 1982.6 440.5 1980.3 439C1978 437.5 1977.7 435.7 1977 434.4C1976.3 433.1 1975.8 432.6 1976.4 431.4C1976.9 430.2 1978.4 428.8 1980.3 427C1982.2 425.2 1985.7 423 1987.9 420.7C1990.1 418.5 1993.1 415.8 1993.6 413.3C1994.1 410.8 1992.5 408.2 1990.9 405.7C1989.3 403.2 1986.1 400.7 1984.1 398.2C1982.1 395.7 1980.1 393.1 1978.8 390.6C1977.5 388.1 1976.7 385 1976.1 383.2C1975.5 381.3 1975.5 380.3 1975.4 379.7L1973.8 379.7C1973.7 380.3 1973.7 381.3 1973.1 383.2C1972.5 385 1971.7 388.1 1970.4 390.6C1969.1 393.1 1967.1 395.7 1965.1 398.2C1963.1 400.7 1959.9 403.2 1958.3 405.7C1956.7 408.2 1955.1 410.8 1955.6 413.3C1956.1 415.8 1959.1 418.5 1961.3 420.7C1963.5 423 1967 425.2 1968.9 427C1970.8 428.8 1972.2 430.2 1972.8 431.4C1973.3 432.6 1972.8 433.1 1972.2 434.4C1971.5 435.7 1971.2 437.5 1968.9 439C1966.6 440.5 1962.6 441.9 1958.3 443.5C1954 445 1948.9 446.6 1943.2 448.1C1937.5 449.5 1927.2 451.4 1924 452.1Z" fill="#f8766d" stroke="#4d4d4d" stroke-width="1"/>
<text x="1639.5" y="43.4" font-size="28.5" text-anchor="middle" font-style="italic">Cd68</text>
<text x="1920.6" y="43.4" font-size="28.5" text-anchor="middle" font-style="italic">H2–Aa</text>
<text x="1639.5" y="211.7" font-size="28.5" text-anchor="middle" font-style="italic">Itgam</text>
<text x="1920.6" y="211.7" font-size="28.5" text-anchor="middle" font-style="italic">S100a9</text>
<text x="1639.5" y="364.3" font-size="28.5" text-anchor="middle" font-style="italic">Gsr</text>
<text x="1920.6" y="364.3" font-size="28.5" text-anchor="middle" font-style="italic">Csf3r</text>
<text x="1579.1" y="492" font-size="28" text-anchor="middle">Other</text>
<text x="1579.1" y="525.7" font-size="28" text-anchor="middle">Clusters</text>
<text x="1862.3" y="492" font-size="28" text-anchor="middle">Other</text>
<text x="1862.3" y="525.7" font-size="28" text-anchor="middle">Clusters</text>
<text x="1692" y="492" font-size="28" text-anchor="middle">I_24</text>
<text x="1974.6" y="492" font-size="28" text-anchor="middle">I_24</text>
<text x="1418" y="669" font-size="42" font-weight="bold">e</text>
<line x1="1481.5" y1="713" x2="1481.5" y2="779" stroke="#4d4d4d" stroke-width="1.3"/>
<line x1="1481.5" y1="779" x2="2007.6" y2="779" stroke="#4d4d4d" stroke-width="1.3"/>
<line x1="1478.5" y1="776.1" x2="1481.5" y2="776.1" stroke="#4d4d4d" stroke-width="1.2"/>
<text x="1475" y="781.7" font-size="14" text-anchor="end">0</text>
<line x1="1478.5" y1="761.2" x2="1481.5" y2="761.2" stroke="#4d4d4d" stroke-width="1.2"/>
<text x="1475" y="766.8" font-size="14" text-anchor="end">1</text>
<line x1="1478.5" y1="746.2" x2="1481.5" y2="746.2" stroke="#4d4d4d" stroke-width="1.2"/>
<text x="1475" y="751.9" font-size="14" text-anchor="end">2</text>
<line x1="1478.5" y1="731.3" x2="1481.5" y2="731.3" stroke="#4d4d4d" stroke-width="1.2"/>
<text x="1475" y="737" font-size="14" text-anchor="end">3</text>
<line x1="1478.5" y1="716.4" x2="1481.5" y2="716.4" stroke="#4d4d4d" stroke-width="1.2"/>
<text x="1475" y="722" font-size="14" text-anchor="end">4</text>
<line x1="1519.5" y1="779" x2="1519.5" y2="782" stroke="#4d4d4d" stroke-width="1.2"/>
<line x1="1583.8" y1="779" x2="1583.8" y2="782" stroke="#4d4d4d" stroke-width="1.2"/>
<line x1="1648.1" y1="779" x2="1648.1" y2="782" stroke="#4d4d4d" stroke-width="1.2"/>
<line x1="1712.4" y1="779" x2="1712.4" y2="782" stroke="#4d4d4d" stroke-width="1.2"/>
<line x1="1776.7" y1="779" x2="1776.7" y2="782" stroke="#4d4d4d" stroke-width="1.2"/>
<line x1="1841" y1="779" x2="1841" y2="782" stroke="#4d4d4d" stroke-width="1.2"/>
<line x1="1905.3" y1="779" x2="1905.3" y2="782" stroke="#4d4d4d" stroke-width="1.2"/>
<line x1="1969.6" y1="779" x2="1969.6" y2="782" stroke="#4d4d4d" stroke-width="1.2"/>
<text x="1744" y="703.6" font-size="24" text-anchor="middle" font-style="italic">Cd8b1</text>
<path d="M1490.5 776.1L1548.5 776.1C1548.3 775.8 1548.2 775.1 1547.2 774.5C1546.2 773.8 1545 772.9 1542.5 772.1C1540 771.2 1535.1 770.2 1532.2 769.2C1529.3 768.3 1527.2 767.2 1525.3 766.2C1523.4 765.3 1521.6 764.4 1520.7 763.4C1519.8 762.5 1520 761.7 1520.1 760.6C1520.2 759.4 1520.5 757.8 1521.2 756.5C1521.9 755.3 1522.9 754.2 1524.1 753C1525.2 751.7 1527 750.4 1528.1 749.1C1529.2 747.8 1530 746.5 1530.5 745C1531 743.6 1531 742 1531 740.3C1531 738.5 1530.6 736.3 1530.2 734.6C1529.8 732.9 1529.3 731.4 1528.7 730C1528.1 728.5 1527.4 727.1 1526.4 725.9C1525.5 724.8 1523.9 724.1 1523 723.1C1522.1 722.1 1521.5 721.1 1521.1 720.1C1520.7 719.1 1520.8 718.1 1520.7 717.3C1520.5 716.5 1520.2 715.7 1520.1 715.3L1518.9 715.3C1518.8 715.7 1518.5 716.5 1518.3 717.3C1518.2 718.1 1518.3 719.1 1517.9 720.1C1517.5 721.1 1516.9 722.1 1516 723.1C1515.1 724.1 1513.5 724.8 1512.6 725.9C1511.6 727.1 1510.9 728.5 1510.3 730C1509.7 731.4 1509.2 732.9 1508.8 734.6C1508.4 736.3 1508 738.5 1508 740.3C1508 742 1508 743.6 1508.5 745C1509 746.5 1509.8 747.8 1510.9 749.1C1512 750.4 1513.8 751.7 1514.9 753C1516.1 754.2 1517.1 755.3 1517.8 756.5C1518.5 757.8 1518.8 759.4 1518.9 760.6C1519 761.7 1519.2 762.5 1518.3 763.4C1517.4 764.4 1515.6 765.3 1513.7 766.2C1511.8 767.2 1509.7 768.3 1506.8 769.2C1503.9 770.2 1499 771.2 1496.5 772.1C1494 772.9 1492.8 773.8 1491.8 774.5C1490.8 775.1 1490.7 775.8 1490.5 776.1Z" fill="#00bfc4" stroke="#4d4d4d" stroke-width="1"/>
<path d="M1555 776.1L1612.6 776.1C1610.6 775.5 1604.5 773.8 1600.8 772.7C1597.1 771.5 1593 770.4 1590.4 769.2C1587.8 768.1 1585.9 766.8 1585.2 765.6C1584.5 764.5 1585.1 763.6 1586 762.2C1586.9 760.8 1588.8 759.2 1590.4 757.1C1592 755.1 1595.6 752.4 1595.9 750.1C1596.2 747.8 1593.6 745.6 1592.1 743.3C1590.6 740.9 1588.2 738.6 1586.9 736.2C1585.6 733.9 1585 730.9 1584.5 729.4C1584 727.8 1584.2 727.3 1584.2 726.8L1583.4 726.8C1583.3 727.3 1583.5 727.8 1583.1 729.4C1582.6 730.9 1582 733.9 1580.7 736.2C1579.4 738.6 1577 740.9 1575.5 743.3C1574 745.6 1571.4 747.8 1571.7 750.1C1572 752.4 1575.6 755.1 1577.2 757.1C1578.8 759.2 1580.7 760.8 1581.6 762.2C1582.5 763.6 1583.1 764.5 1582.4 765.6C1581.7 766.8 1579.8 768.1 1577.2 769.2C1574.6 770.4 1570.5 771.5 1566.8 772.7C1563.1 773.8 1557 775.5 1555 776.1Z" fill="#f8766d" stroke="#4d4d4d" stroke-width="1"/>
<line x1="1583.8" y1="728.3" x2="1583.8" y2="716.4" stroke="#555" stroke-width="1"/>
<path d="M1619.3 776.1L1676.9 776.1C1674.8 775.5 1667.6 773.8 1664 772.7C1660.4 771.5 1657.6 770.4 1655.4 769.2C1653.2 768.1 1651.8 767.1 1651 765.6C1650.2 764.2 1650.1 762.6 1650.5 760.6C1650.9 758.6 1652.5 755.9 1653.6 753.6C1654.7 751.2 1656.1 749.3 1657.1 746.7C1658.1 744.1 1660 740.6 1659.7 738C1659.4 735.4 1657 733.5 1655.4 731.2C1653.8 728.8 1651.3 726 1650.1 724.1C1648.9 722.3 1648.7 720.5 1648.4 719.8L1647.8 719.8C1647.5 720.5 1647.3 722.3 1646.1 724.1C1644.9 726 1642.4 728.8 1640.8 731.2C1639.2 733.5 1636.8 735.4 1636.5 738C1636.2 740.6 1638.1 744.1 1639.1 746.7C1640.1 749.3 1641.5 751.2 1642.6 753.6C1643.7 755.9 1645.3 758.6 1645.7 760.6C1646.1 762.6 1646 764.2 1645.2 765.6C1644.4 767.1 1643 768.1 1640.8 769.2C1638.6 770.4 1635.8 771.5 1632.2 772.7C1628.6 773.8 1621.4 775.5 1619.3 776.1Z" fill="#c77cff" stroke="#4d4d4d" stroke-width="1"/>
<rect x="1683.4" y="775.1" width="58" height="2" fill="#8c8c8c"/>
<line x1="1712.4" y1="776.1" x2="1712.4" y2="743" stroke="#555" stroke-width="1"/>
<rect x="1747.7" y="775.1" width="58" height="2" fill="#8c8c8c"/>
<line x1="1776.7" y1="776.1" x2="1776.7" y2="740.3" stroke="#555" stroke-width="1"/>
<rect x="1812" y="775.1" width="58" height="2" fill="#8c8c8c"/>
<line x1="1841" y1="776.1" x2="1841" y2="738" stroke="#555" stroke-width="1"/>
<rect x="1876.3" y="775.1" width="58" height="2" fill="#8c8c8c"/>
<line x1="1905.3" y1="776.1" x2="1905.3" y2="725.3" stroke="#555" stroke-width="1"/>
<rect x="1940.6" y="775.1" width="58" height="2" fill="#8c8c8c"/>
<line x1="1969.6" y1="776.1" x2="1969.6" y2="730.9" stroke="#555" stroke-width="1"/>
<line x1="1481.5" y1="812.4" x2="1481.5" y2="875.3" stroke="#4d4d4d" stroke-width="1.3"/>
<line x1="1481.5" y1="875.3" x2="2007.6" y2="875.3" stroke="#4d4d4d" stroke-width="1.3"/>
<line x1="1478.5" y1="871.9" x2="1481.5" y2="871.9" stroke="#4d4d4d" stroke-width="1.2"/>
<text x="1475" y="877.5" font-size="14" text-anchor="end">0</text>
<line x1="1478.5" y1="857.7" x2="1481.5" y2="857.7" stroke="#4d4d4d" stroke-width="1.2"/>
<text x="1475" y="863.3" font-size="14" text-anchor="end">1</text>
<line x1="1478.5" y1="843.5" x2="1481.5" y2="843.5" stroke="#4d4d4d" stroke-width="1.2"/>
<text x="1475" y="849.1" font-size="14" text-anchor="end">2</text>
<line x1="1478.5" y1="829.3" x2="1481.5" y2="829.3" stroke="#4d4d4d" stroke-width="1.2"/>
<text x="1475" y="834.9" font-size="14" text-anchor="end">3</text>
<line x1="1478.5" y1="815.1" x2="1481.5" y2="815.1" stroke="#4d4d4d" stroke-width="1.2"/>
<text x="1475" y="820.7" font-size="14" text-anchor="end">4</text>
<line x1="1519.5" y1="875.3" x2="1519.5" y2="878.3" stroke="#4d4d4d" stroke-width="1.2"/>
<line x1="1583.8" y1="875.3" x2="1583.8" y2="878.3" stroke="#4d4d4d" stroke-width="1.2"/>
<line x1="1648.1" y1="875.3" x2="1648.1" y2="878.3" stroke="#4d4d4d" stroke-width="1.2"/>
<line x1="1712.4" y1="875.3" x2="1712.4" y2="878.3" stroke="#4d4d4d" stroke-width="1.2"/>
<line x1="1776.7" y1="875.3" x2="1776.7" y2="878.3" stroke="#4d4d4d" stroke-width="1.2"/>
<line x1="1841" y1="875.3" x2="1841" y2="878.3" stroke="#4d4d4d" stroke-width="1.2"/>
<line x1="1905.3" y1="875.3" x2="1905.3" y2="878.3" stroke="#4d4d4d" stroke-width="1.2"/>
<line x1="1969.6" y1="875.3" x2="1969.6" y2="878.3" stroke="#4d4d4d" stroke-width="1.2"/>
<text x="1744" y="804.3" font-size="24" text-anchor="middle" font-style="italic">Pdcd1</text>
<rect x="1490.5" y="870.9" width="58" height="2" fill="#8c8c8c"/>
<line x1="1519.5" y1="871.9" x2="1519.5" y2="839.9" stroke="#555" stroke-width="1"/>
<rect x="1554.8" y="870.9" width="58" height="2" fill="#8c8c8c"/>
<line x1="1583.8" y1="871.9" x2="1583.8" y2="829.3" stroke="#555" stroke-width="1"/>
<rect x="1619.1" y="870.9" width="58" height="2" fill="#8c8c8c"/>
<line x1="1648.1" y1="871.9" x2="1648.1" y2="843.5" stroke="#555" stroke-width="1"/>
<rect x="1683.4" y="870.9" width="58" height="2" fill="#8c8c8c"/>
<line x1="1712.4" y1="871.9" x2="1712.4" y2="817.4" stroke="#555" stroke-width="1"/>
<rect x="1747.7" y="870.9" width="58" height="2" fill="#8c8c8c"/>
<line x1="1776.7" y1="871.9" x2="1776.7" y2="826.5" stroke="#555" stroke-width="1"/>
<path d="M1812.2 871.9L1869.8 871.9C1869 871.6 1866.6 870.8 1865 870.2C1863.4 869.6 1862.6 869.2 1860.4 868.5C1858.2 867.8 1854.4 866.9 1852 866.1C1849.6 865.2 1847.4 864.3 1846.1 863.5C1844.8 862.8 1844.7 862.5 1844.4 861.7C1844.1 860.9 1844 859.6 1844.2 858.7C1844.4 857.8 1844.7 857.5 1845.4 856.3C1846.1 855 1847.5 853.4 1848.6 851.3C1849.7 849.3 1851.4 846 1852 843.9C1852.6 841.9 1852.7 840.7 1852.4 839.1C1852.1 837.5 1851.1 835.8 1850.1 834.1C1849.1 832.5 1847.5 830.9 1846.4 829.3C1845.3 827.7 1844.4 826.1 1843.7 824.5C1843 822.8 1842.6 820.9 1842.2 819.5C1841.8 818.1 1841.5 816.7 1841.3 816.1L1840.7 816.1C1840.5 816.7 1840.2 818.1 1839.8 819.5C1839.4 820.9 1839 822.8 1838.3 824.5C1837.6 826.1 1836.7 827.7 1835.6 829.3C1834.5 830.9 1832.9 832.5 1831.9 834.1C1830.9 835.8 1829.9 837.5 1829.6 839.1C1829.3 840.7 1829.4 841.9 1830 843.9C1830.6 846 1832.3 849.3 1833.4 851.3C1834.5 853.4 1835.9 855 1836.6 856.3C1837.3 857.5 1837.6 857.8 1837.8 858.7C1838 859.6 1837.9 860.9 1837.6 861.7C1837.3 862.5 1837.2 862.8 1835.9 863.5C1834.6 864.3 1832.4 865.2 1830 866.1C1827.6 866.9 1823.8 867.8 1821.6 868.5C1819.4 869.2 1818.6 869.6 1817 870.2C1815.4 870.8 1813 871.6 1812.2 871.9Z" fill="#7cae00" stroke="#4d4d4d" stroke-width="1"/>
<rect x="1876.3" y="870.9" width="58" height="2" fill="#8c8c8c"/>
<line x1="1905.3" y1="871.9" x2="1905.3" y2="825" stroke="#555" stroke-width="1"/>
<rect x="1940.6" y="870.9" width="58" height="2" fill="#8c8c8c"/>
<line x1="1969.6" y1="871.9" x2="1969.6" y2="831.4" stroke="#555" stroke-width="1"/>
<line x1="1481.5" y1="925.3" x2="1481.5" y2="987" stroke="#4d4d4d" stroke-width="1.3"/>
<line x1="1481.5" y1="987" x2="2007.6" y2="987" stroke="#4d4d4d" stroke-width="1.3"/>
<line x1="1478.5" y1="984.4" x2="1481.5" y2="984.4" stroke="#4d4d4d" stroke-width="1.2"/>
<text x="1475" y="990" font-size="14" text-anchor="end">0</text>
<line x1="1478.5" y1="971.6" x2="1481.5" y2="971.6" stroke="#4d4d4d" stroke-width="1.2"/>
<text x="1475" y="977.2" font-size="14" text-anchor="end">1</text>
<line x1="1478.5" y1="958.8" x2="1481.5" y2="958.8" stroke="#4d4d4d" stroke-width="1.2"/>
<text x="1475" y="964.4" font-size="14" text-anchor="end">2</text>
<line x1="1478.5" y1="946" x2="1481.5" y2="946" stroke="#4d4d4d" stroke-width="1.2"/>
<text x="1475" y="951.6" font-size="14" text-anchor="end">3</text>
<line x1="1478.5" y1="933.2" x2="1481.5" y2="933.2" stroke="#4d4d4d" stroke-width="1.2"/>
<text x="1475" y="938.8" font-size="14" text-anchor="end">4</text>
<line x1="1519.5" y1="987" x2="1519.5" y2="990" stroke="#4d4d4d" stroke-width="1.2"/>
<line x1="1583.8" y1="987" x2="1583.8" y2="990" stroke="#4d4d4d" stroke-width="1.2"/>
<line x1="1648.1" y1="987" x2="1648.1" y2="990" stroke="#4d4d4d" stroke-width="1.2"/>
<line x1="1712.4" y1="987" x2="1712.4" y2="990" stroke="#4d4d4d" stroke-width="1.2"/>
<line x1="1776.7" y1="987" x2="1776.7" y2="990" stroke="#4d4d4d" stroke-width="1.2"/>
<line x1="1841" y1="987" x2="1841" y2="990" stroke="#4d4d4d" stroke-width="1.2"/>
<line x1="1905.3" y1="987" x2="1905.3" y2="990" stroke="#4d4d4d" stroke-width="1.2"/>
<line x1="1969.6" y1="987" x2="1969.6" y2="990" stroke="#4d4d4d" stroke-width="1.2"/>
<text x="1744" y="914.9" font-size="24" text-anchor="middle" font-style="italic">Gata3</text>
<rect x="1490.5" y="983.4" width="58" height="2" fill="#8c8c8c"/>
<line x1="1519.5" y1="984.4" x2="1519.5" y2="953.7" stroke="#555" stroke-width="1"/>
<rect x="1554.8" y="983.4" width="58" height="2" fill="#8c8c8c"/>
<line x1="1583.8" y1="984.4" x2="1583.8" y2="944.7" stroke="#555" stroke-width="1"/>
<rect x="1619.1" y="983.4" width="58" height="2" fill="#8c8c8c"/>
<line x1="1648.1" y1="984.4" x2="1648.1" y2="952.4" stroke="#555" stroke-width="1"/>
<path d="M1683.8 984.4L1741 984.4C1739.3 984 1734.3 983.1 1731.1 982.2C1727.9 981.3 1724.3 980.3 1721.7 979.2C1719.1 978 1716.8 977 1715.5 975.4C1714.2 973.9 1713.3 972 1713.6 969.8C1713.9 967.6 1716.3 964.5 1717.1 962C1717.9 959.5 1718.9 957.2 1718.6 954.8C1718.3 952.5 1716.3 950.6 1715.5 947.9C1714.7 945.2 1714.1 941.5 1713.6 938.6C1713.1 935.6 1712.9 931.5 1712.7 930.1L1712.1 930.1C1712 931.5 1711.7 935.6 1711.2 938.6C1710.7 941.5 1710.1 945.2 1709.3 947.9C1708.5 950.6 1706.5 952.5 1706.2 954.8C1705.9 957.2 1706.9 959.5 1707.7 962C1708.5 964.5 1710.9 967.6 1711.2 969.8C1711.5 972 1710.7 973.9 1709.3 975.4C1708 977 1705.7 978 1703.1 979.2C1700.5 980.3 1696.9 981.3 1693.7 982.2C1690.5 983.1 1685.5 984 1683.8 984.4Z" fill="#ff61c3" stroke="#4d4d4d" stroke-width="1"/>
<path d="M1747.9 984.4L1805.5 984.4C1803.7 984 1797.8 983.1 1794.4 982.2C1791 981.3 1787.6 980.3 1785.1 979.2C1782.6 978 1780.8 977 1779.5 975.4C1778.2 973.9 1777.5 972.3 1777.6 969.8C1777.8 967.3 1780.3 963.1 1780.4 960.5C1780.5 957.9 1778.5 957.3 1778.3 954.2C1778 951.1 1779 945.4 1778.9 941.8C1778.8 938.1 1778 934.8 1777.7 932.4C1777.4 930.1 1777.1 928.5 1777 927.7L1776.4 927.7C1776.3 928.5 1776 930.1 1775.7 932.4C1775.4 934.8 1774.6 938.1 1774.5 941.8C1774.4 945.4 1775.4 951.1 1775.1 954.2C1774.9 957.3 1772.9 957.9 1773 960.5C1773.1 963.1 1775.6 967.3 1775.8 969.8C1776 972.3 1775.2 973.9 1773.9 975.4C1772.7 977 1770.8 978 1768.3 979.2C1765.8 980.3 1762.4 981.3 1759 982.2C1755.6 983.1 1749.8 984 1747.9 984.4Z" fill="#d39200" stroke="#4d4d4d" stroke-width="1"/>
<path d="M1812.2 984.4L1869.8 984.4C1868 983.8 1862.4 982.1 1858.7 980.7C1855 979.3 1849.7 977.5 1847.8 976C1845.9 974.4 1846.4 973.4 1847.2 971.3C1848 969.3 1850.7 966.4 1852.5 963.5C1854.3 960.7 1857.8 957.1 1857.8 954.2C1857.8 951.3 1854.4 949 1852.5 946.4C1850.6 943.8 1847.8 941.2 1846.3 938.6C1844.8 936 1844 932.2 1843.5 930.9L1838.5 930.9C1838 932.2 1837.2 936 1835.7 938.6C1834.2 941.2 1831.4 943.8 1829.5 946.4C1827.6 949 1824.2 951.3 1824.2 954.2C1824.2 957.1 1827.7 960.7 1829.5 963.5C1831.3 966.4 1834 969.3 1834.8 971.3C1835.6 973.4 1836.1 974.4 1834.2 976C1832.3 977.5 1827 979.3 1823.3 980.7C1819.6 982.1 1814 983.8 1812.2 984.4Z" fill="#7cae00" stroke="#4d4d4d" stroke-width="1"/>
<rect x="1876.3" y="983.4" width="58" height="2" fill="#8c8c8c"/>
<line x1="1905.3" y1="984.4" x2="1905.3" y2="942.8" stroke="#555" stroke-width="1"/>
<rect x="1940.6" y="983.4" width="58" height="2" fill="#8c8c8c"/>
<line x1="1969.6" y1="984.4" x2="1969.6" y2="943.4" stroke="#555" stroke-width="1"/>
<line x1="1481.5" y1="1037.4" x2="1481.5" y2="1098.4" stroke="#4d4d4d" stroke-width="1.3"/>
<line x1="1481.5" y1="1098.4" x2="2007.6" y2="1098.4" stroke="#4d4d4d" stroke-width="1.3"/>
<line x1="1478.5" y1="1095.7" x2="1481.5" y2="1095.7" stroke="#4d4d4d" stroke-width="1.2"/>
<text x="1475" y="1101.3" font-size="14" text-anchor="end">0</text>
<line x1="1478.5" y1="1079" x2="1481.5" y2="1079" stroke="#4d4d4d" stroke-width="1.2"/>
<text x="1475" y="1084.6" font-size="14" text-anchor="end">1</text>
<line x1="1478.5" y1="1062.3" x2="1481.5" y2="1062.3" stroke="#4d4d4d" stroke-width="1.2"/>
<text x="1475" y="1067.9" font-size="14" text-anchor="end">2</text>
<line x1="1478.5" y1="1045.6" x2="1481.5" y2="1045.6" stroke="#4d4d4d" stroke-width="1.2"/>
<text x="1475" y="1051.2" font-size="14" text-anchor="end">3</text>
<line x1="1519.5" y1="1098.4" x2="1519.5" y2="1101.4" stroke="#4d4d4d" stroke-width="1.2"/>
<line x1="1583.8" y1="1098.4" x2="1583.8" y2="1101.4" stroke="#4d4d4d" stroke-width="1.2"/>
<line x1="1648.1" y1="1098.4" x2="1648.1" y2="1101.4" stroke="#4d4d4d" stroke-width="1.2"/>
<line x1="1712.4" y1="1098.4" x2="1712.4" y2="1101.4" stroke="#4d4d4d" stroke-width="1.2"/>
<line x1="1776.7" y1="1098.4" x2="1776.7" y2="1101.4" stroke="#4d4d4d" stroke-width="1.2"/>
<line x1="1841" y1="1098.4" x2="1841" y2="1101.4" stroke="#4d4d4d" stroke-width="1.2"/>
<line x1="1905.3" y1="1098.4" x2="1905.3" y2="1101.4" stroke="#4d4d4d" stroke-width="1.2"/>
<line x1="1969.6" y1="1098.4" x2="1969.6" y2="1101.4" stroke="#4d4d4d" stroke-width="1.2"/>
<text x="1744" y="1027" font-size="24" text-anchor="middle" font-style="italic">Foxp3</text>
<rect x="1490.5" y="1094.7" width="58" height="2" fill="#8c8c8c"/>
<line x1="1519.5" y1="1095.7" x2="1519.5" y2="1061.1" stroke="#555" stroke-width="1"/>
<rect x="1554.8" y="1094.7" width="58" height="2" fill="#8c8c8c"/>
<rect x="1619.1" y="1094.7" width="58" height="2" fill="#8c8c8c"/>
<line x1="1648.1" y1="1095.7" x2="1648.1" y2="1049.3" stroke="#555" stroke-width="1"/>
<rect x="1683.4" y="1094.7" width="58" height="2" fill="#8c8c8c"/>
<line x1="1712.4" y1="1095.7" x2="1712.4" y2="1057.3" stroke="#555" stroke-width="1"/>
<rect x="1747.7" y="1094.7" width="58" height="2" fill="#8c8c8c"/>
<line x1="1776.7" y1="1095.7" x2="1776.7" y2="1045.6" stroke="#555" stroke-width="1"/>
<path d="M1812.2 1095.7L1869.8 1095.7C1867.2 1095.1 1858.2 1093.6 1854 1092.4C1849.8 1091.2 1846.5 1089.8 1844.7 1088.5C1842.9 1087.2 1843 1086.5 1842.9 1084.5C1842.8 1082.5 1843.4 1080 1844.1 1076.7C1844.8 1073.3 1847.1 1067.9 1847.2 1064.3C1847.3 1060.7 1845.5 1058.1 1844.7 1055C1843.9 1051.8 1843.1 1048.1 1842.5 1045.6C1841.9 1043.1 1841.5 1041 1841.3 1040.1L1840.7 1040.1C1840.5 1041 1840.1 1043.1 1839.5 1045.6C1838.9 1048.1 1838.1 1051.8 1837.3 1055C1836.5 1058.1 1834.7 1060.7 1834.8 1064.3C1834.9 1067.9 1837.2 1073.3 1837.9 1076.7C1838.6 1080 1839.2 1082.5 1839.1 1084.5C1839 1086.5 1839.1 1087.2 1837.3 1088.5C1835.5 1089.8 1832.2 1091.2 1828 1092.4C1823.8 1093.6 1814.8 1095.1 1812.2 1095.7Z" fill="#7cae00" stroke="#4d4d4d" stroke-width="1"/>
<rect x="1876.3" y="1094.7" width="58" height="2" fill="#8c8c8c"/>
<rect x="1940.6" y="1094.7" width="58" height="2" fill="#8c8c8c"/>
<line x1="1969.6" y1="1095.7" x2="1969.6" y2="1040.9" stroke="#555" stroke-width="1"/>
<line x1="1481.5" y1="1148.7" x2="1481.5" y2="1210.2" stroke="#4d4d4d" stroke-width="1.3"/>
<line x1="1481.5" y1="1210.2" x2="2007.6" y2="1210.2" stroke="#4d4d4d" stroke-width="1.3"/>
<line x1="1478.5" y1="1207.2" x2="1481.5" y2="1207.2" stroke="#4d4d4d" stroke-width="1.2"/>
<text x="1475" y="1212.8" font-size="14" text-anchor="end">0</text>
<line x1="1478.5" y1="1186.5" x2="1481.5" y2="1186.5" stroke="#4d4d4d" stroke-width="1.2"/>
<text x="1475" y="1192.1" font-size="14" text-anchor="end">2</text>
<line x1="1478.5" y1="1165.8" x2="1481.5" y2="1165.8" stroke="#4d4d4d" stroke-width="1.2"/>
<text x="1475" y="1171.4" font-size="14" text-anchor="end">4</text>
<line x1="1519.5" y1="1210.2" x2="1519.5" y2="1213.2" stroke="#4d4d4d" stroke-width="1.2"/>
<line x1="1583.8" y1="1210.2" x2="1583.8" y2="1213.2" stroke="#4d4d4d" stroke-width="1.2"/>
<line x1="1648.1" y1="1210.2" x2="1648.1" y2="1213.2" stroke="#4d4d4d" stroke-width="1.2"/>
<line x1="1712.4" y1="1210.2" x2="1712.4" y2="1213.2" stroke="#4d4d4d" stroke-width="1.2"/>
<line x1="1776.7" y1="1210.2" x2="1776.7" y2="1213.2" stroke="#4d4d4d" stroke-width="1.2"/>
<line x1="1841" y1="1210.2" x2="1841" y2="1213.2" stroke="#4d4d4d" stroke-width="1.2"/>
<line x1="1905.3" y1="1210.2" x2="1905.3" y2="1213.2" stroke="#4d4d4d" stroke-width="1.2"/>
<line x1="1969.6" y1="1210.2" x2="1969.6" y2="1213.2" stroke="#4d4d4d" stroke-width="1.2"/>
<text x="1744" y="1139.2" font-size="24" text-anchor="middle" font-style="italic">Il17a</text>
<rect x="1490.5" y="1206.2" width="58" height="2" fill="#8c8c8c"/>
<line x1="1519.5" y1="1207.2" x2="1519.5" y2="1184.4" stroke="#555" stroke-width="1"/>
<rect x="1554.8" y="1206.2" width="58" height="2" fill="#8c8c8c"/>
<rect x="1619.1" y="1206.2" width="58" height="2" fill="#8c8c8c"/>
<line x1="1648.1" y1="1207.2" x2="1648.1" y2="1192.7" stroke="#555" stroke-width="1"/>
<rect x="1683.4" y="1206.2" width="58" height="2" fill="#8c8c8c"/>
<line x1="1712.4" y1="1207.2" x2="1712.4" y2="1152.3" stroke="#555" stroke-width="1"/>
<path d="M1747.9 1207.2L1805.5 1207.2C1803.7 1206.8 1798.1 1205.6 1794.4 1204.7C1790.7 1203.8 1786.1 1202.6 1783.5 1201.6C1780.9 1200.6 1779.8 1200 1778.9 1198.5C1778 1197.1 1777.8 1195.4 1777.9 1192.9C1778.1 1190.4 1779.4 1186.7 1779.8 1183.6C1780.2 1180.5 1780.6 1177.3 1780.4 1174.2C1780.2 1171 1779.4 1167.9 1778.9 1164.8C1778.5 1161.6 1778 1157.7 1777.7 1155.5C1777.4 1153.2 1777.1 1152.2 1777 1151.5L1776.4 1151.5C1776.3 1152.2 1776 1153.2 1775.7 1155.5C1775.4 1157.7 1775 1161.6 1774.5 1164.8C1774 1167.9 1773.2 1171 1773 1174.2C1772.8 1177.3 1773.2 1180.5 1773.6 1183.6C1774 1186.7 1775.3 1190.4 1775.5 1192.9C1775.7 1195.4 1775.4 1197.1 1774.5 1198.5C1773.6 1200 1772.5 1200.6 1769.9 1201.6C1767.3 1202.6 1762.7 1203.8 1759 1204.7C1755.3 1205.6 1749.8 1206.8 1747.9 1207.2Z" fill="#d39200" stroke="#4d4d4d" stroke-width="1"/>
<rect x="1812" y="1206.2" width="58" height="2" fill="#8c8c8c"/>
<line x1="1841" y1="1207.2" x2="1841" y2="1185.5" stroke="#555" stroke-width="1"/>
<rect x="1876.3" y="1206.2" width="58" height="2" fill="#8c8c8c"/>
<rect x="1940.6" y="1206.2" width="58" height="2" fill="#8c8c8c"/>
<line x1="1969.6" y1="1207.2" x2="1969.6" y2="1176.7" stroke="#555" stroke-width="1"/>
<line x1="1481.5" y1="1252" x2="1481.5" y2="1318" stroke="#4d4d4d" stroke-width="1.3"/>
<line x1="1481.5" y1="1318" x2="2007.6" y2="1318" stroke="#4d4d4d" stroke-width="1.3"/>
<line x1="1478.5" y1="1314.7" x2="1481.5" y2="1314.7" stroke="#4d4d4d" stroke-width="1.2"/>
<text x="1475" y="1320.3" font-size="14" text-anchor="end">0</text>
<line x1="1478.5" y1="1300" x2="1481.5" y2="1300" stroke="#4d4d4d" stroke-width="1.2"/>
<text x="1475" y="1305.6" font-size="14" text-anchor="end">1</text>
<line x1="1478.5" y1="1285.3" x2="1481.5" y2="1285.3" stroke="#4d4d4d" stroke-width="1.2"/>
<text x="1475" y="1290.9" font-size="14" text-anchor="end">2</text>
<line x1="1478.5" y1="1270.6" x2="1481.5" y2="1270.6" stroke="#4d4d4d" stroke-width="1.2"/>
<text x="1475" y="1276.2" font-size="14" text-anchor="end">3</text>
<line x1="1478.5" y1="1255.9" x2="1481.5" y2="1255.9" stroke="#4d4d4d" stroke-width="1.2"/>
<text x="1475" y="1261.5" font-size="14" text-anchor="end">4</text>
<line x1="1519.5" y1="1318" x2="1519.5" y2="1321" stroke="#4d4d4d" stroke-width="1.2"/>
<line x1="1583.8" y1="1318" x2="1583.8" y2="1321" stroke="#4d4d4d" stroke-width="1.2"/>
<line x1="1648.1" y1="1318" x2="1648.1" y2="1321" stroke="#4d4d4d" stroke-width="1.2"/>
<line x1="1712.4" y1="1318" x2="1712.4" y2="1321" stroke="#4d4d4d" stroke-width="1.2"/>
<line x1="1776.7" y1="1318" x2="1776.7" y2="1321" stroke="#4d4d4d" stroke-width="1.2"/>
<line x1="1841" y1="1318" x2="1841" y2="1321" stroke="#4d4d4d" stroke-width="1.2"/>
<line x1="1905.3" y1="1318" x2="1905.3" y2="1321" stroke="#4d4d4d" stroke-width="1.2"/>
<line x1="1969.6" y1="1318" x2="1969.6" y2="1321" stroke="#4d4d4d" stroke-width="1.2"/>
<text x="1744" y="1241" font-size="24" text-anchor="middle" font-style="italic">Ctla4</text>
<rect x="1490.5" y="1313.7" width="58" height="2" fill="#8c8c8c"/>
<line x1="1519.5" y1="1314.7" x2="1519.5" y2="1272.4" stroke="#555" stroke-width="1"/>
<rect x="1554.8" y="1313.7" width="58" height="2" fill="#8c8c8c"/>
<line x1="1583.8" y1="1314.7" x2="1583.8" y2="1271.5" stroke="#555" stroke-width="1"/>
<rect x="1619.1" y="1313.7" width="58" height="2" fill="#8c8c8c"/>
<line x1="1648.1" y1="1314.7" x2="1648.1" y2="1267.7" stroke="#555" stroke-width="1"/>
<rect x="1683.4" y="1313.7" width="58" height="2" fill="#8c8c8c"/>
<line x1="1712.4" y1="1314.7" x2="1712.4" y2="1257.4" stroke="#555" stroke-width="1"/>
<path d="M1747.9 1314.7L1805.5 1314.7C1803.7 1314.2 1797.8 1312.9 1794.4 1311.9C1791 1310.9 1787.7 1310.1 1785.1 1308.8C1782.5 1307.5 1780 1305.6 1778.9 1304.1C1777.8 1302.6 1777.5 1301.8 1778.3 1300C1779.1 1298.2 1782.1 1295.7 1783.5 1293.2C1784.9 1290.8 1786.7 1288.3 1786.7 1285.4C1786.7 1282.6 1784.7 1279.3 1783.5 1276.2C1782.3 1273.1 1780.6 1269.8 1779.5 1266.8C1778.4 1263.8 1777.4 1259.6 1777 1258.1L1776.4 1258.1C1776 1259.6 1775 1263.8 1773.9 1266.8C1772.8 1269.8 1771.1 1273.1 1769.9 1276.2C1768.7 1279.3 1766.7 1282.6 1766.7 1285.4C1766.7 1288.3 1768.5 1290.8 1769.9 1293.2C1771.3 1295.7 1774.3 1298.2 1775.1 1300C1775.9 1301.8 1775.6 1302.6 1774.5 1304.1C1773.4 1305.6 1770.9 1307.5 1768.3 1308.8C1765.7 1310.1 1762.4 1310.9 1759 1311.9C1755.6 1312.9 1749.8 1314.2 1747.9 1314.7Z" fill="#d39200" stroke="#4d4d4d" stroke-width="1"/>
<path d="M1812.2 1314.7L1869.8 1314.7C1868.2 1314.2 1864 1312.9 1860.3 1311.9C1856.6 1310.9 1850.4 1310.1 1847.8 1308.8C1845.2 1307.5 1844.1 1305.9 1844.4 1304.1C1844.7 1302.3 1847 1300 1849.4 1297.9C1851.8 1295.9 1856.3 1294 1858.7 1291.6C1861.1 1289.3 1863.7 1286.4 1864 1283.8C1864.3 1281.3 1862.5 1279 1860.3 1276.2C1858.1 1273.3 1853.8 1270.2 1851 1266.8C1848.2 1263.4 1844.8 1257.7 1843.5 1255.9L1838.5 1255.9C1837.2 1257.7 1833.8 1263.4 1831 1266.8C1828.2 1270.2 1823.9 1273.3 1821.7 1276.2C1819.5 1279 1817.7 1281.3 1818 1283.8C1818.3 1286.4 1820.9 1289.3 1823.3 1291.6C1825.7 1294 1830.2 1295.9 1832.6 1297.9C1835 1300 1837.3 1302.3 1837.6 1304.1C1837.9 1305.9 1836.8 1307.5 1834.2 1308.8C1831.6 1310.1 1825.4 1310.9 1821.7 1311.9C1818 1312.9 1813.8 1314.2 1812.2 1314.7Z" fill="#7cae00" stroke="#4d4d4d" stroke-width="1"/>
<path d="M1876.5 1314.7L1934.1 1314.7C1932.4 1314.2 1927.5 1312.9 1924 1311.9C1920.5 1310.9 1915.9 1310 1913.1 1308.8C1910.2 1307.6 1907.8 1306.3 1906.9 1304.7C1906 1303.1 1907.3 1302.1 1907.8 1299.4C1908.3 1296.7 1910 1291.9 1910 1288.5C1910 1285.2 1908.2 1283 1907.5 1279.3C1906.8 1275.5 1905.9 1268.4 1905.6 1266.2L1905 1266.2C1904.7 1268.4 1903.8 1275.5 1903.1 1279.3C1902.4 1283 1900.6 1285.2 1900.6 1288.5C1900.5 1291.9 1902.3 1296.7 1902.8 1299.4C1903.3 1302.1 1904.6 1303.1 1903.7 1304.7C1902.8 1306.3 1900.3 1307.6 1897.5 1308.8C1894.7 1310 1890.1 1310.9 1886.6 1311.9C1883.1 1312.9 1878.2 1314.2 1876.5 1314.7Z" fill="#00be67" stroke="#4d4d4d" stroke-width="1"/>
<rect x="1940.6" y="1313.7" width="58" height="2" fill="#8c8c8c"/>
<line x1="1969.6" y1="1314.7" x2="1969.6" y2="1269.9" stroke="#555" stroke-width="1"/>
<text x="1519.5" y="1348.3" font-size="23" text-anchor="middle">I_2</text>
<text x="1583.8" y="1348.3" font-size="23" text-anchor="middle">I_11</text>
<text x="1648.1" y="1348.3" font-size="23" text-anchor="middle">I_22</text>
<text x="1712.4" y="1348.3" font-size="23" text-anchor="middle">I_9</text>
<text x="1776.7" y="1348.3" font-size="23" text-anchor="middle">I_15</text>
<text x="1841" y="1348.3" font-size="23" text-anchor="middle">I_16</text>
<text x="1905.3" y="1348.3" font-size="23" text-anchor="middle">I_19</text>
<text x="1969.6" y="1348.3" font-size="23" text-anchor="middle">I_20</text>
<text x="10" y="1540" font-size="42" font-weight="bold">h</text>
<rect x="77.8" y="1584" width="63.8" height="63.9" fill="#bfdbec" stroke="#a0a0a0" stroke-width="1"/>
<rect x="77.8" y="1647.9" width="63.8" height="64" fill="#4674b7" stroke="#a0a0a0" stroke-width="1"/>
<rect x="141.6" y="1584" width="63.8" height="63.9" fill="#d62f27" stroke="#a0a0a0" stroke-width="1"/>
<rect x="141.6" y="1647.9" width="63.8" height="64" fill="#4d7bb8" stroke="#a0a0a0" stroke-width="1"/>
<rect x="205.5" y="1584" width="63.8" height="63.9" fill="#fc9359" stroke="#a0a0a0" stroke-width="1"/>
<rect x="205.5" y="1647.9" width="63.8" height="64" fill="#c8e0ee" stroke="#a0a0a0" stroke-width="1"/>
<rect x="269.3" y="1584" width="63.8" height="63.9" fill="#fee090" stroke="#a0a0a0" stroke-width="1"/>
<rect x="269.3" y="1647.9" width="63.8" height="64" fill="#4e7cb8" stroke="#a0a0a0" stroke-width="1"/>
<rect x="333.1" y="1584" width="63.8" height="63.9" fill="#eef7dd" stroke="#a0a0a0" stroke-width="1"/>
<rect x="333.1" y="1647.9" width="63.8" height="64" fill="#4674b5" stroke="#a0a0a0" stroke-width="1"/>
<rect x="396.9" y="1584" width="63.8" height="63.9" fill="#eff8df" stroke="#a0a0a0" stroke-width="1"/>
<rect x="396.9" y="1647.9" width="63.8" height="64" fill="#5b8bc3" stroke="#a0a0a0" stroke-width="1"/>
<rect x="460.8" y="1584" width="63.8" height="63.9" fill="#dcedf4" stroke="#a0a0a0" stroke-width="1"/>
<rect x="460.8" y="1647.9" width="63.8" height="64" fill="#4d7bb9" stroke="#a0a0a0" stroke-width="1"/>
<rect x="524.6" y="1584" width="63.8" height="63.9" fill="#eb6a48" stroke="#a0a0a0" stroke-width="1"/>
<rect x="524.6" y="1647.9" width="63.8" height="64" fill="#bedbec" stroke="#a0a0a0" stroke-width="1"/>
<rect x="588.4" y="1584" width="63.8" height="63.9" fill="#e0eff6" stroke="#a0a0a0" stroke-width="1"/>
<rect x="588.4" y="1647.9" width="63.8" height="64" fill="#a9cee3" stroke="#a0a0a0" stroke-width="1"/>
<rect x="652.3" y="1584" width="63.8" height="63.9" fill="#e9f4e8" stroke="#a0a0a0" stroke-width="1"/>
<rect x="652.3" y="1647.9" width="63.8" height="64" fill="#93bfdb" stroke="#a0a0a0" stroke-width="1"/>
<rect x="716.1" y="1584" width="63.8" height="63.9" fill="#eef7e0" stroke="#a0a0a0" stroke-width="1"/>
<rect x="716.1" y="1647.9" width="63.8" height="64" fill="#6392c6" stroke="#a0a0a0" stroke-width="1"/>
<rect x="779.9" y="1584" width="63.8" height="63.9" fill="#fdd28a" stroke="#a0a0a0" stroke-width="1"/>
<rect x="779.9" y="1647.9" width="63.8" height="64" fill="#5584bf" stroke="#a0a0a0" stroke-width="1"/>
<rect x="843.8" y="1584" width="63.8" height="63.9" fill="#d4e7f1" stroke="#a0a0a0" stroke-width="1"/>
<rect x="843.8" y="1647.9" width="63.8" height="64" fill="#8ab7d7" stroke="#a0a0a0" stroke-width="1"/>
<rect x="907.6" y="1584" width="63.8" height="63.9" fill="#e4f2f0" stroke="#a0a0a0" stroke-width="1"/>
<rect x="907.6" y="1647.9" width="63.8" height="64" fill="#7eaed3" stroke="#a0a0a0" stroke-width="1"/>
<rect x="971.4" y="1584" width="63.8" height="63.9" fill="#c4dceb" stroke="#a0a0a0" stroke-width="1"/>
<rect x="971.4" y="1647.9" width="63.8" height="64" fill="#4e7dba" stroke="#a0a0a0" stroke-width="1"/>
<rect x="1035.2" y="1584" width="63.8" height="63.9" fill="#fffbc0" stroke="#a0a0a0" stroke-width="1"/>
<rect x="1035.2" y="1647.9" width="63.8" height="64" fill="#4c7ab9" stroke="#a0a0a0" stroke-width="1"/>
<rect x="1099.1" y="1584" width="63.8" height="63.9" fill="#a9cde2" stroke="#a0a0a0" stroke-width="1"/>
<rect x="1099.1" y="1647.9" width="63.8" height="64" fill="#5181bd" stroke="#a0a0a0" stroke-width="1"/>
<rect x="1162.9" y="1584" width="63.8" height="63.9" fill="#e4f2ec" stroke="#a0a0a0" stroke-width="1"/>
<rect x="1162.9" y="1647.9" width="63.8" height="64" fill="#7daad2" stroke="#a0a0a0" stroke-width="1"/>
<rect x="1226.7" y="1584" width="63.8" height="63.9" fill="#f9fbcb" stroke="#a0a0a0" stroke-width="1"/>
<rect x="1226.7" y="1647.9" width="63.8" height="64" fill="#b9d8ea" stroke="#a0a0a0" stroke-width="1"/>
<rect x="1290.6" y="1584" width="63.8" height="63.9" fill="#f3f8d8" stroke="#a0a0a0" stroke-width="1"/>
<rect x="1290.6" y="1647.9" width="63.8" height="64" fill="#93bfdb" stroke="#a0a0a0" stroke-width="1"/>
<rect x="1354.4" y="1584" width="63.8" height="63.9" fill="#a8cce2" stroke="#a0a0a0" stroke-width="1"/>
<rect x="1354.4" y="1647.9" width="63.8" height="64" fill="#fcfbc3" stroke="#a0a0a0" stroke-width="1"/>
<rect x="1418.2" y="1584" width="63.8" height="63.9" fill="#4575b4" stroke="#a0a0a0" stroke-width="1"/>
<rect x="1418.2" y="1647.9" width="63.8" height="64" fill="#4575b4" stroke="#a0a0a0" stroke-width="1"/>
<rect x="1482.1" y="1584" width="63.8" height="63.9" fill="#e5f2ea" stroke="#a0a0a0" stroke-width="1"/>
<rect x="1482.1" y="1647.9" width="63.8" height="64" fill="#fde49a" stroke="#a0a0a0" stroke-width="1"/>
<rect x="77.8" y="1530.3" width="1472.6" height="50.2" fill="none" stroke="#000" stroke-width="4"/>
<line x1="216.7" y1="1530.3" x2="216.7" y2="1580.5" stroke="#000" stroke-width="4"/>
<line x1="394.2" y1="1530.3" x2="394.2" y2="1580.5" stroke="#000" stroke-width="4"/>
<line x1="588.5" y1="1530.3" x2="588.5" y2="1580.5" stroke="#000" stroke-width="4"/>
<line x1="846.1" y1="1530.3" x2="846.1" y2="1580.5" stroke="#000" stroke-width="4"/>
<line x1="1359" y1="1530.3" x2="1359" y2="1580.5" stroke="#000" stroke-width="4"/>
<text x="147.2" y="1567.8" font-size="28" text-anchor="middle">Selectin</text>
<text x="305.4" y="1567.8" font-size="28" text-anchor="middle">Adhesion</text>
<text x="491.4" y="1567.8" font-size="28" text-anchor="middle">Cymokines</text>
<text x="717.3" y="1567.8" font-size="28" text-anchor="middle">Regulators</text>
<text x="1102.5" y="1567.8" font-size="28" text-anchor="middle">Vascularization</text>
<text x="1454.7" y="1567.8" font-size="28" text-anchor="middle">Other</text>
<text x="1559" y="1628" font-size="28">E_late</text>
<text x="1559" y="1691" font-size="28">E_Early</text>
<text x="122.2" y="1737" font-size="28" text-anchor="end" transform="rotate(-45 122.2 1737)">Sele</text>
<text x="186" y="1737" font-size="28" text-anchor="end" transform="rotate(-45 186 1737)">Selp</text>
<text x="249.9" y="1737" font-size="28" text-anchor="end" transform="rotate(-45 249.9 1737)">Icam1</text>
<text x="313.7" y="1737" font-size="28" text-anchor="end" transform="rotate(-45 313.7 1737)">Vcam1</text>
<text x="377.5" y="1737" font-size="28" text-anchor="end" transform="rotate(-45 377.5 1737)">Madcam1</text>
<text x="441.4" y="1737" font-size="28" text-anchor="end" transform="rotate(-45 441.4 1737)">Cxcl10</text>
<text x="505.2" y="1737" font-size="28" text-anchor="end" transform="rotate(-45 505.2 1737)">Cxcl2</text>
<text x="569" y="1737" font-size="28" text-anchor="end" transform="rotate(-45 569 1737)">Cxcl1</text>
<text x="632.9" y="1737" font-size="28" text-anchor="end" transform="rotate(-45 632.9 1737)">Irf8</text>
<text x="696.7" y="1737" font-size="28" text-anchor="end" transform="rotate(-45 696.7 1737)">Map3k8</text>
<text x="760.5" y="1737" font-size="28" text-anchor="end" transform="rotate(-45 760.5 1737)">Tnfaip3</text>
<text x="824.3" y="1737" font-size="28" text-anchor="end" transform="rotate(-45 824.3 1737)">Il6</text>
<text x="888.2" y="1737" font-size="28" text-anchor="end" transform="rotate(-45 888.2 1737)">IFbln5</text>
<text x="952" y="1737" font-size="28" text-anchor="end" transform="rotate(-45 952 1737)">Actn1</text>
<text x="1015.8" y="1737" font-size="28" text-anchor="end" transform="rotate(-45 1015.8 1737)">Timp2</text>
<text x="1079.7" y="1737" font-size="28" text-anchor="end" transform="rotate(-45 1079.7 1737)">Vwf</text>
<text x="1143.5" y="1737" font-size="28" text-anchor="end" transform="rotate(-45 1143.5 1737)">Myof</text>
<text x="1207.3" y="1737" font-size="28" text-anchor="end" transform="rotate(-45 1207.3 1737)">Procr</text>
<text x="1271.2" y="1737" font-size="28" text-anchor="end" transform="rotate(-45 1271.2 1737)">Sox7</text>
<text x="1335" y="1737" font-size="28" text-anchor="end" transform="rotate(-45 1335 1737)">Hif1a</text>
<text x="1398.8" y="1737" font-size="28" text-anchor="end" transform="rotate(-45 1398.8 1737)">Il10rb</text>
<text x="1462.6" y="1737" font-size="28" text-anchor="end" transform="rotate(-45 1462.6 1737)">Il10ra</text>
<text x="1526.5" y="1737" font-size="28" text-anchor="end" transform="rotate(-45 1526.5 1737)">Esm1</text>
<defs><linearGradient id="gh" x1="0" y1="0" x2="0" y2="1"><stop offset="0" stop-color="#d73027"/><stop offset="0.1" stop-color="#e34a33"/><stop offset="0.2" stop-color="#f67c4f"/><stop offset="0.3" stop-color="#fdae61"/><stop offset="0.4" stop-color="#fee090"/><stop offset="0.49" stop-color="#ffffbf"/><stop offset="0.6" stop-color="#e8f5ee"/><stop offset="0.7" stop-color="#cfe6f0"/><stop offset="0.8" stop-color="#a5cbe2"/><stop offset="0.9" stop-color="#75a5cf"/><stop offset="1" stop-color="#4575b4"/></linearGradient></defs>
<rect x="1714.7" y="1520" width="20.7" height="281" fill="url(#gh)"/>
<text x="1747" y="1579.5" font-size="28">2</text>
<text x="1747" y="1696" font-size="28">1</text>
<text x="10" y="1899" font-size="42" font-weight="bold">i</text>
<rect x="154.5" y="1901.1" width="75.7" height="62.2" fill="#e8f4ea" stroke="#a0a0a0" stroke-width="1"/>
<rect x="230.2" y="1901.1" width="75.7" height="62.2" fill="#e6f3ec" stroke="#a0a0a0" stroke-width="1"/>
<rect x="306" y="1901.1" width="75.7" height="62.2" fill="#e5f2ed" stroke="#a0a0a0" stroke-width="1"/>
<rect x="381.7" y="1901.1" width="75.7" height="62.2" fill="#f0f7dc" stroke="#a0a0a0" stroke-width="1"/>
<rect x="457.5" y="1901.1" width="75.7" height="62.2" fill="#feeba5" stroke="#a0a0a0" stroke-width="1"/>
<rect x="533.2" y="1901.1" width="75.7" height="62.2" fill="#eff7db" stroke="#a0a0a0" stroke-width="1"/>
<rect x="608.9" y="1901.1" width="75.7" height="62.2" fill="#d73027" stroke="#a0a0a0" stroke-width="1"/>
<rect x="154.5" y="1963.3" width="75.7" height="62.2" fill="#ddeff5" stroke="#a0a0a0" stroke-width="1"/>
<rect x="230.2" y="1963.3" width="75.7" height="62.2" fill="#e9f4e6" stroke="#a0a0a0" stroke-width="1"/>
<rect x="306" y="1963.3" width="75.7" height="62.2" fill="#e5f2ec" stroke="#a0a0a0" stroke-width="1"/>
<rect x="381.7" y="1963.3" width="75.7" height="62.2" fill="#fefdc0" stroke="#a0a0a0" stroke-width="1"/>
<rect x="457.5" y="1963.3" width="75.7" height="62.2" fill="#d6ebf4" stroke="#a0a0a0" stroke-width="1"/>
<rect x="533.2" y="1963.3" width="75.7" height="62.2" fill="#ee6c4a" stroke="#a0a0a0" stroke-width="1"/>
<rect x="608.9" y="1963.3" width="75.7" height="62.2" fill="#fcbe7a" stroke="#a0a0a0" stroke-width="1"/>
<rect x="154.5" y="2025.4" width="75.7" height="62.2" fill="#e0f0f4" stroke="#a0a0a0" stroke-width="1"/>
<rect x="230.2" y="2025.4" width="75.7" height="62.2" fill="#ddeef4" stroke="#a0a0a0" stroke-width="1"/>
<rect x="306" y="2025.4" width="75.7" height="62.2" fill="#dbeef4" stroke="#a0a0a0" stroke-width="1"/>
<rect x="381.7" y="2025.4" width="75.7" height="62.2" fill="#f2f8d8" stroke="#a0a0a0" stroke-width="1"/>
<rect x="457.5" y="2025.4" width="75.7" height="62.2" fill="#f2f8d8" stroke="#a0a0a0" stroke-width="1"/>
<rect x="533.2" y="2025.4" width="75.7" height="62.2" fill="#fee7a0" stroke="#a0a0a0" stroke-width="1"/>
<rect x="608.9" y="2025.4" width="75.7" height="62.2" fill="#dc3d2d" stroke="#a0a0a0" stroke-width="1"/>
<rect x="154.5" y="2087.6" width="75.7" height="62.2" fill="#e8f4e9" stroke="#a0a0a0" stroke-width="1"/>
<rect x="230.2" y="2087.6" width="75.7" height="62.2" fill="#e5f2ec" stroke="#a0a0a0" stroke-width="1"/>
<rect x="306" y="2087.6" width="75.7" height="62.2" fill="#e8f4e6" stroke="#a0a0a0" stroke-width="1"/>
<rect x="381.7" y="2087.6" width="75.7" height="62.2" fill="#eaf5e3" stroke="#a0a0a0" stroke-width="1"/>
<rect x="457.5" y="2087.6" width="75.7" height="62.2" fill="#fef5b6" stroke="#a0a0a0" stroke-width="1"/>
<rect x="533.2" y="2087.6" width="75.7" height="62.2" fill="#f6faca" stroke="#a0a0a0" stroke-width="1"/>
<rect x="608.9" y="2087.6" width="75.7" height="62.2" fill="#d73027" stroke="#a0a0a0" stroke-width="1"/>
<rect x="154.5" y="2149.8" width="75.7" height="62.2" fill="#d4e9f2" stroke="#a0a0a0" stroke-width="1"/>
<rect x="230.2" y="2149.8" width="75.7" height="62.2" fill="#d4e9f2" stroke="#a0a0a0" stroke-width="1"/>
<rect x="306" y="2149.8" width="75.7" height="62.2" fill="#e8f4e8" stroke="#a0a0a0" stroke-width="1"/>
<rect x="381.7" y="2149.8" width="75.7" height="62.2" fill="#ecf6e1" stroke="#a0a0a0" stroke-width="1"/>
<rect x="457.5" y="2149.8" width="75.7" height="62.2" fill="#fef1ad" stroke="#a0a0a0" stroke-width="1"/>
<rect x="533.2" y="2149.8" width="75.7" height="62.2" fill="#fee8a1" stroke="#a0a0a0" stroke-width="1"/>
<rect x="608.9" y="2149.8" width="75.7" height="62.2" fill="#e5533a" stroke="#a0a0a0" stroke-width="1"/>
<rect x="154.5" y="2211.9" width="75.7" height="62.2" fill="#e5f2eb" stroke="#a0a0a0" stroke-width="1"/>
<rect x="230.2" y="2211.9" width="75.7" height="62.2" fill="#e5f2ec" stroke="#a0a0a0" stroke-width="1"/>
<rect x="306" y="2211.9" width="75.7" height="62.2" fill="#e3f1ef" stroke="#a0a0a0" stroke-width="1"/>
<rect x="381.7" y="2211.9" width="75.7" height="62.2" fill="#ecf6e0" stroke="#a0a0a0" stroke-width="1"/>
<rect x="457.5" y="2211.9" width="75.7" height="62.2" fill="#fdc47e" stroke="#a0a0a0" stroke-width="1"/>
<rect x="533.2" y="2211.9" width="75.7" height="62.2" fill="#e4f2ea" stroke="#a0a0a0" stroke-width="1"/>
<rect x="608.9" y="2211.9" width="75.7" height="62.2" fill="#e95c3e" stroke="#a0a0a0" stroke-width="1"/>
<rect x="154.5" y="2274.1" width="75.7" height="62.2" fill="#eaf5e3" stroke="#a0a0a0" stroke-width="1"/>
<rect x="230.2" y="2274.1" width="75.7" height="62.2" fill="#eaf5e3" stroke="#a0a0a0" stroke-width="1"/>
<rect x="306" y="2274.1" width="75.7" height="62.2" fill="#eef6dd" stroke="#a0a0a0" stroke-width="1"/>
<rect x="381.7" y="2274.1" width="75.7" height="62.2" fill="#f0f7d6" stroke="#a0a0a0" stroke-width="1"/>
<rect x="457.5" y="2274.1" width="75.7" height="62.2" fill="#ecf6df" stroke="#a0a0a0" stroke-width="1"/>
<rect x="533.2" y="2274.1" width="75.7" height="62.2" fill="#f2f8d1" stroke="#a0a0a0" stroke-width="1"/>
<rect x="608.9" y="2274.1" width="75.7" height="62.2" fill="#d93127" stroke="#a0a0a0" stroke-width="1"/>
<text x="710" y="1943.7" font-size="32">Cxcl10</text>
<text x="710" y="2005.9" font-size="32">Cxcl2</text>
<text x="710" y="2068" font-size="32">Cxcl1</text>
<text x="710" y="2130.2" font-size="32">Il6</text>
<text x="710" y="2192.4" font-size="32">Icam1</text>
<text x="710" y="2254.5" font-size="32">Vcam1</text>
<text x="710" y="2316.7" font-size="32">Csf3</text>
<text x="175.4" y="2366" font-size="32" transform="rotate(45 175.4 2366)">E_Early</text>
<text x="251.1" y="2366" font-size="32" transform="rotate(45 251.1 2366)">E_11</text>
<text x="326.9" y="2366" font-size="32" transform="rotate(45 326.9 2366)">E_17</text>
<text x="402.6" y="2366" font-size="32" transform="rotate(45 402.6 2366)">E_7</text>
<text x="478.3" y="2366" font-size="32" transform="rotate(45 478.3 2366)">E_13</text>
<text x="554.1" y="2366" font-size="32" transform="rotate(45 554.1 2366)">E_0</text>
<text x="629.8" y="2366" font-size="32" transform="rotate(45 629.8 2366)">E_3</text>
<defs><linearGradient id="gi" x1="0" y1="0" x2="0" y2="1"><stop offset="0" stop-color="#d73027"/><stop offset="0.14" stop-color="#f16a48"/><stop offset="0.28" stop-color="#fca865"/><stop offset="0.4" stop-color="#fee39a"/><stop offset="0.5" stop-color="#ffffbf"/><stop offset="0.6" stop-color="#e9f5ec"/><stop offset="0.68" stop-color="#d6ebf3"/><stop offset="0.76" stop-color="#c2deec"/><stop offset="0.88" stop-color="#86b1d5"/><stop offset="0.95" stop-color="#6290c5"/><stop offset="1" stop-color="#4a76b5"/></linearGradient></defs>
<rect x="49" y="1992.7" width="15" height="245" fill="url(#gi)"/>
<text x="79.5" y="2018.6" font-size="33">2</text>
<text x="79.5" y="2073.5" font-size="33">1</text>
<text x="79.5" y="2127.1" font-size="33">0</text>
<text x="79.5" y="2181.3" font-size="33">−1</text>
<text x="79.5" y="2234.9" font-size="33">−2</text>
<rect x="1136.4" y="1882.1" width="67.4" height="52.5" fill="#e5563c" stroke="#a0a0a0" stroke-width="1"/>
<rect x="1203.8" y="1882.1" width="67.4" height="52.5" fill="#e4f2f0" stroke="#a0a0a0" stroke-width="1"/>
<rect x="1271.1" y="1882.1" width="67.4" height="52.5" fill="#e6f3ec" stroke="#a0a0a0" stroke-width="1"/>
<rect x="1338.5" y="1882.1" width="67.4" height="52.5" fill="#eaf5e4" stroke="#a0a0a0" stroke-width="1"/>
<rect x="1405.8" y="1882.1" width="67.4" height="52.5" fill="#eff7dc" stroke="#a0a0a0" stroke-width="1"/>
<rect x="1473.2" y="1882.1" width="67.4" height="52.5" fill="#e8f4e9" stroke="#a0a0a0" stroke-width="1"/>
<rect x="1540.6" y="1882.1" width="67.4" height="52.5" fill="#fefcc0" stroke="#a0a0a0" stroke-width="1"/>
<rect x="1607.9" y="1882.1" width="67.4" height="52.5" fill="#fed98e" stroke="#a0a0a0" stroke-width="1"/>
<rect x="1136.4" y="1934.6" width="67.4" height="52.5" fill="#eff7da" stroke="#a0a0a0" stroke-width="1"/>
<rect x="1203.8" y="1934.6" width="67.4" height="52.5" fill="#d73027" stroke="#a0a0a0" stroke-width="1"/>
<rect x="1271.1" y="1934.6" width="67.4" height="52.5" fill="#eef7dc" stroke="#a0a0a0" stroke-width="1"/>
<rect x="1338.5" y="1934.6" width="67.4" height="52.5" fill="#eef7dc" stroke="#a0a0a0" stroke-width="1"/>
<rect x="1405.8" y="1934.6" width="67.4" height="52.5" fill="#f0f7d8" stroke="#a0a0a0" stroke-width="1"/>
<rect x="1473.2" y="1934.6" width="67.4" height="52.5" fill="#eef7dc" stroke="#a0a0a0" stroke-width="1"/>
<rect x="1540.6" y="1934.6" width="67.4" height="52.5" fill="#eef7dc" stroke="#a0a0a0" stroke-width="1"/>
<rect x="1607.9" y="1934.6" width="67.4" height="52.5" fill="#eef7dc" stroke="#a0a0a0" stroke-width="1"/>
<rect x="1136.4" y="1987.1" width="67.4" height="52.5" fill="#c4dfec" stroke="#a0a0a0" stroke-width="1"/>
<rect x="1203.8" y="1987.1" width="67.4" height="52.5" fill="#fefbc1" stroke="#a0a0a0" stroke-width="1"/>
<rect x="1271.1" y="1987.1" width="67.4" height="52.5" fill="#e3573c" stroke="#a0a0a0" stroke-width="1"/>
<rect x="1338.5" y="1987.1" width="67.4" height="52.5" fill="#f6faca" stroke="#a0a0a0" stroke-width="1"/>
<rect x="1405.8" y="1987.1" width="67.4" height="52.5" fill="#e3f1ee" stroke="#a0a0a0" stroke-width="1"/>
<rect x="1473.2" y="1987.1" width="67.4" height="52.5" fill="#ecf6e0" stroke="#a0a0a0" stroke-width="1"/>
<rect x="1540.6" y="1987.1" width="67.4" height="52.5" fill="#fed990" stroke="#a0a0a0" stroke-width="1"/>
<rect x="1607.9" y="1987.1" width="67.4" height="52.5" fill="#ecf6e0" stroke="#a0a0a0" stroke-width="1"/>
<rect x="1136.4" y="2039.6" width="67.4" height="52.5" fill="#f57d50" stroke="#a0a0a0" stroke-width="1"/>
<rect x="1203.8" y="2039.6" width="67.4" height="52.5" fill="#fca56a" stroke="#a0a0a0" stroke-width="1"/>
<rect x="1271.1" y="2039.6" width="67.4" height="52.5" fill="#f2f8d6" stroke="#a0a0a0" stroke-width="1"/>
<rect x="1338.5" y="2039.6" width="67.4" height="52.5" fill="#eef7dc" stroke="#a0a0a0" stroke-width="1"/>
<rect x="1405.8" y="2039.6" width="67.4" height="52.5" fill="#eff7da" stroke="#a0a0a0" stroke-width="1"/>
<rect x="1473.2" y="2039.6" width="67.4" height="52.5" fill="#bcd9ea" stroke="#a0a0a0" stroke-width="1"/>
<rect x="1540.6" y="2039.6" width="67.4" height="52.5" fill="#eef7dc" stroke="#a0a0a0" stroke-width="1"/>
<rect x="1607.9" y="2039.6" width="67.4" height="52.5" fill="#eef7dc" stroke="#a0a0a0" stroke-width="1"/>
<rect x="1136.4" y="2092.1" width="67.4" height="52.5" fill="#eef7dc" stroke="#a0a0a0" stroke-width="1"/>
<rect x="1203.8" y="2092.1" width="67.4" height="52.5" fill="#dd3d2d" stroke="#a0a0a0" stroke-width="1"/>
<rect x="1271.1" y="2092.1" width="67.4" height="52.5" fill="#feeaa2" stroke="#a0a0a0" stroke-width="1"/>
<rect x="1338.5" y="2092.1" width="67.4" height="52.5" fill="#f6fad0" stroke="#a0a0a0" stroke-width="1"/>
<rect x="1405.8" y="2092.1" width="67.4" height="52.5" fill="#e8f4e6" stroke="#a0a0a0" stroke-width="1"/>
<rect x="1473.2" y="2092.1" width="67.4" height="52.5" fill="#e8f4e6" stroke="#a0a0a0" stroke-width="1"/>
<rect x="1540.6" y="2092.1" width="67.4" height="52.5" fill="#e4f2ea" stroke="#a0a0a0" stroke-width="1"/>
<rect x="1607.9" y="2092.1" width="67.4" height="52.5" fill="#e6f3e8" stroke="#a0a0a0" stroke-width="1"/>
<rect x="1136.4" y="2144.7" width="67.4" height="52.5" fill="#e5563c" stroke="#a0a0a0" stroke-width="1"/>
<rect x="1203.8" y="2144.7" width="67.4" height="52.5" fill="#e4f2ee" stroke="#a0a0a0" stroke-width="1"/>
<rect x="1271.1" y="2144.7" width="67.4" height="52.5" fill="#d7ebf3" stroke="#a0a0a0" stroke-width="1"/>
<rect x="1338.5" y="2144.7" width="67.4" height="52.5" fill="#d2e8f1" stroke="#a0a0a0" stroke-width="1"/>
<rect x="1405.8" y="2144.7" width="67.4" height="52.5" fill="#fef2b0" stroke="#a0a0a0" stroke-width="1"/>
<rect x="1473.2" y="2144.7" width="67.4" height="52.5" fill="#e4f2ec" stroke="#a0a0a0" stroke-width="1"/>
<rect x="1540.6" y="2144.7" width="67.4" height="52.5" fill="#fef3b2" stroke="#a0a0a0" stroke-width="1"/>
<rect x="1607.9" y="2144.7" width="67.4" height="52.5" fill="#fee29c" stroke="#a0a0a0" stroke-width="1"/>
<rect x="1136.4" y="2197.2" width="67.4" height="52.5" fill="#fee8a2" stroke="#a0a0a0" stroke-width="1"/>
<rect x="1203.8" y="2197.2" width="67.4" height="52.5" fill="#dff0f4" stroke="#a0a0a0" stroke-width="1"/>
<rect x="1271.1" y="2197.2" width="67.4" height="52.5" fill="#aed2e6" stroke="#a0a0a0" stroke-width="1"/>
<rect x="1338.5" y="2197.2" width="67.4" height="52.5" fill="#fdb878" stroke="#a0a0a0" stroke-width="1"/>
<rect x="1405.8" y="2197.2" width="67.4" height="52.5" fill="#fa9a5f" stroke="#a0a0a0" stroke-width="1"/>
<rect x="1473.2" y="2197.2" width="67.4" height="52.5" fill="#e6f3ea" stroke="#a0a0a0" stroke-width="1"/>
<rect x="1540.6" y="2197.2" width="67.4" height="52.5" fill="#eef7dc" stroke="#a0a0a0" stroke-width="1"/>
<rect x="1607.9" y="2197.2" width="67.4" height="52.5" fill="#f0f7da" stroke="#a0a0a0" stroke-width="1"/>
<rect x="1136.4" y="2249.7" width="67.4" height="52.5" fill="#e65c3e" stroke="#a0a0a0" stroke-width="1"/>
<rect x="1203.8" y="2249.7" width="67.4" height="52.5" fill="#feeda8" stroke="#a0a0a0" stroke-width="1"/>
<rect x="1271.1" y="2249.7" width="67.4" height="52.5" fill="#fef5b6" stroke="#a0a0a0" stroke-width="1"/>
<rect x="1338.5" y="2249.7" width="67.4" height="52.5" fill="#fef0ac" stroke="#a0a0a0" stroke-width="1"/>
<rect x="1405.8" y="2249.7" width="67.4" height="52.5" fill="#e1f0f4" stroke="#a0a0a0" stroke-width="1"/>
<rect x="1473.2" y="2249.7" width="67.4" height="52.5" fill="#c2deec" stroke="#a0a0a0" stroke-width="1"/>
<rect x="1540.6" y="2249.7" width="67.4" height="52.5" fill="#d9edf3" stroke="#a0a0a0" stroke-width="1"/>
<rect x="1607.9" y="2249.7" width="67.4" height="52.5" fill="#f6faca" stroke="#a0a0a0" stroke-width="1"/>
<rect x="1136.4" y="2302.2" width="67.4" height="52.5" fill="#eff7dc" stroke="#a0a0a0" stroke-width="1"/>
<rect x="1203.8" y="2302.2" width="67.4" height="52.5" fill="#d73027" stroke="#a0a0a0" stroke-width="1"/>
<rect x="1271.1" y="2302.2" width="67.4" height="52.5" fill="#fefbc2" stroke="#a0a0a0" stroke-width="1"/>
<rect x="1338.5" y="2302.2" width="67.4" height="52.5" fill="#eef7dc" stroke="#a0a0a0" stroke-width="1"/>
<rect x="1405.8" y="2302.2" width="67.4" height="52.5" fill="#f0f7d8" stroke="#a0a0a0" stroke-width="1"/>
<rect x="1473.2" y="2302.2" width="67.4" height="52.5" fill="#eef7dc" stroke="#a0a0a0" stroke-width="1"/>
<rect x="1540.6" y="2302.2" width="67.4" height="52.5" fill="#eef7dc" stroke="#a0a0a0" stroke-width="1"/>
<rect x="1607.9" y="2302.2" width="67.4" height="52.5" fill="#eef7dc" stroke="#a0a0a0" stroke-width="1"/>
<text x="1017.7" y="1919.9" font-size="32">Cxcr3</text>
<text x="1017.7" y="1972.4" font-size="32">Cxcr2</text>
<text x="1017.7" y="2024.9" font-size="32">Il6ra</text>
<text x="1017.7" y="2077.4" font-size="32">Itgb2</text>
<text x="1017.7" y="2129.9" font-size="32">Itgam</text>
<text x="1017.7" y="2182.4" font-size="32">Itgal</text>
<text x="1017.7" y="2234.9" font-size="32">Itga4</text>
<text x="1017.7" y="2287.4" font-size="32">Itga1</text>
<text x="1017.7" y="2339.9" font-size="32">Csf3r</text>
<text x="1154.1" y="2389" font-size="32" transform="rotate(45 1154.1 2389)">NK cells</text>
<text x="1221.4" y="2389" font-size="32" transform="rotate(45 1221.4 2389)">Neutrophils</text>
<text x="1288.8" y="2389" font-size="32" transform="rotate(45 1288.8 2389)">Macrophage</text>
<text x="1356.2" y="2389" font-size="32" transform="rotate(45 1356.2 2389)">Dendritic cells</text>
<text x="1423.5" y="2389" font-size="32" transform="rotate(45 1423.5 2389)">Plasma B cells</text>
<text x="1490.9" y="2389" font-size="32" transform="rotate(45 1490.9 2389)">B cells</text>
<text x="1558.2" y="2389" font-size="32" transform="rotate(45 1558.2 2389)">CD8 T cells</text>
<text x="1625.6" y="2389" font-size="32" transform="rotate(45 1625.6 2389)">CD4 T cells</text>
<line x1="1156" y1="2360.5" x2="1663" y2="2360.5" stroke="#c8c8c8" stroke-width="1.2"/>
<rect x="1700" y="1994.5" width="17.4" height="256.5" fill="url(#gi)"/>
<text x="1729.5" y="2018.6" font-size="33">2</text>
<text x="1729.5" y="2076.4" font-size="33">1</text>
<text x="1729.5" y="2134" font-size="33">0</text>
<text x="1729.5" y="2192.8" font-size="33">−1</text>
<text x="1729.5" y="2249.3" font-size="33">−2</text>
<line x1="848.8" y1="1937.3" x2="997" y2="1913.4" stroke="#0070c0" stroke-width="4"/>
<line x1="849.7" y1="1989.7" x2="997.5" y2="1965.5" stroke="#0070c0" stroke-width="4"/>
<line x1="846.7" y1="2040.2" x2="997.5" y2="1965.5" stroke="#0070c0" stroke-width="4"/>
<line x1="846.5" y1="2097.1" x2="990" y2="2017.8" stroke="#0070c0" stroke-width="4"/>
<line x1="840.7" y1="2188.5" x2="982.5" y2="2069" stroke="#0070c0" stroke-width="4"/>
<line x1="840.7" y1="2188.5" x2="982.5" y2="2121.1" stroke="#0070c0" stroke-width="4"/>
<line x1="840.7" y1="2188.5" x2="983.1" y2="2171.6" stroke="#0070c0" stroke-width="4"/>
<line x1="839" y1="2243.2" x2="990.6" y2="2224.8" stroke="#4472c4" stroke-width="5.2"/>
<line x1="843" y1="2244.4" x2="990" y2="2283.6" stroke="#4472c4" stroke-width="5.2"/>
<line x1="839" y1="2306" x2="992.3" y2="2332" stroke="#4472c4" stroke-width="5.2"/>
</svg></body></html>
